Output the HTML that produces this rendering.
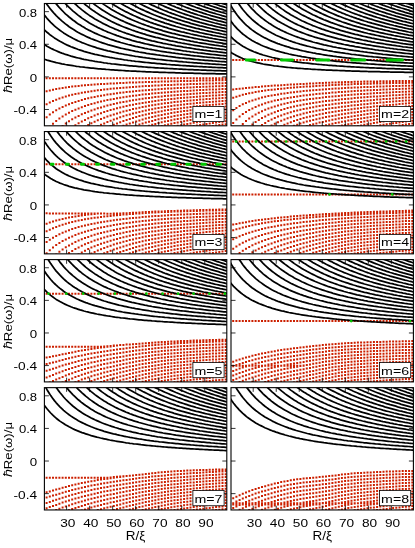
<!DOCTYPE html>
<html><head><meta charset="utf-8"><title>spectrum</title>
<style>html,body{margin:0;padding:0;background:#fff}svg{display:block}text{font-family:"Liberation Sans",sans-serif;fill:#000}</style>
</head><body>
<svg width="415" height="548" viewBox="0 0 415 548">
<rect width="415" height="548" fill="#fff"/>
<defs>
<clipPath id="c00"><rect x="44.40" y="3.50" width="182.40" height="122.30"/></clipPath>
<clipPath id="c01"><rect x="231.00" y="3.50" width="182.40" height="122.30"/></clipPath>
<clipPath id="c10"><rect x="44.40" y="131.55" width="182.40" height="122.30"/></clipPath>
<clipPath id="c11"><rect x="231.00" y="131.55" width="182.40" height="122.30"/></clipPath>
<clipPath id="c20"><rect x="44.40" y="259.60" width="182.40" height="122.30"/></clipPath>
<clipPath id="c21"><rect x="231.00" y="259.60" width="182.40" height="122.30"/></clipPath>
<clipPath id="c30"><rect x="44.40" y="387.65" width="182.40" height="122.30"/></clipPath>
<clipPath id="c31"><rect x="231.00" y="387.65" width="182.40" height="122.30"/></clipPath>
</defs>
<g clip-path="url(#c00)">
<path d="M45.6 77.3h2v2h-2zM48.8 77.3h2v2h-2zM52.0 77.3h2v2h-2zM55.2 77.3h2v2h-2zM58.4 77.3h2v2h-2zM61.6 77.3h2v2h-2zM64.8 77.3h2v2h-2zM68.0 77.3h2v2h-2zM71.2 77.3h2v2h-2zM74.4 77.3h2v2h-2zM77.6 77.3h2v2h-2zM80.8 77.3h2v2h-2zM84.0 77.3h2v2h-2zM87.2 77.3h2v2h-2zM90.4 77.3h2v2h-2zM93.6 77.3h2v2h-2zM96.8 77.3h2v2h-2zM100.0 77.3h2v2h-2zM103.2 77.3h2v2h-2zM106.4 77.3h2v2h-2zM109.6 77.3h2v2h-2zM112.8 77.3h2v2h-2zM116.0 77.3h2v2h-2zM119.2 77.3h2v2h-2zM122.4 77.3h2v2h-2zM125.6 77.3h2v2h-2zM128.8 77.3h2v2h-2zM132.0 77.3h2v2h-2zM135.2 77.3h2v2h-2zM138.4 77.3h2v2h-2zM141.6 77.3h2v2h-2zM144.8 77.3h2v2h-2zM148.0 77.3h2v2h-2zM151.2 77.3h2v2h-2zM154.3 77.3h2v2h-2zM157.5 77.3h2v2h-2zM160.7 77.3h2v2h-2zM163.9 77.3h2v2h-2zM167.1 77.3h2v2h-2zM170.3 77.3h2v2h-2zM173.5 77.3h2v2h-2zM176.7 77.3h2v2h-2zM179.9 77.3h2v2h-2zM183.1 77.3h2v2h-2zM186.3 77.3h2v2h-2zM189.5 77.3h2v2h-2zM192.7 77.3h2v2h-2zM195.9 77.3h2v2h-2zM199.1 77.3h2v2h-2zM202.3 77.3h2v2h-2zM205.5 77.3h2v2h-2zM208.7 77.3h2v2h-2zM211.9 77.3h2v2h-2zM215.1 77.3h2v2h-2zM218.3 77.3h2v2h-2zM221.5 77.3h2v2h-2zM224.7 77.3h2v2h-2zM45.6 90.2h2v2h-2zM48.8 89.4h2v2h-2zM52.0 88.7h2v2h-2zM55.2 88.0h2v2h-2zM58.4 87.5h2v2h-2zM61.6 86.9h2v2h-2zM64.8 86.5h2v2h-2zM68.0 86.0h2v2h-2zM71.2 85.6h2v2h-2zM74.4 85.3h2v2h-2zM77.6 84.9h2v2h-2zM80.8 84.6h2v2h-2zM84.0 84.3h2v2h-2zM87.2 84.0h2v2h-2zM90.4 83.8h2v2h-2zM93.6 83.5h2v2h-2zM96.8 83.3h2v2h-2zM100.0 83.1h2v2h-2zM103.2 82.9h2v2h-2zM106.4 82.7h2v2h-2zM109.6 82.5h2v2h-2zM112.8 82.4h2v2h-2zM116.0 82.2h2v2h-2zM119.2 82.1h2v2h-2zM122.4 81.9h2v2h-2zM125.6 81.8h2v2h-2zM128.8 81.6h2v2h-2zM132.0 81.5h2v2h-2zM135.2 81.4h2v2h-2zM138.4 81.3h2v2h-2zM141.6 81.2h2v2h-2zM144.8 81.1h2v2h-2zM148.0 81.0h2v2h-2zM151.2 80.9h2v2h-2zM154.3 80.8h2v2h-2zM157.5 80.7h2v2h-2zM160.7 80.6h2v2h-2zM163.9 80.5h2v2h-2zM167.1 80.4h2v2h-2zM170.3 80.3h2v2h-2zM173.5 80.2h2v2h-2zM176.7 80.2h2v2h-2zM179.9 80.1h2v2h-2zM183.1 80.0h2v2h-2zM186.3 79.9h2v2h-2zM189.5 79.9h2v2h-2zM192.7 79.8h2v2h-2zM195.9 79.7h2v2h-2zM199.1 79.6h2v2h-2zM202.3 79.6h2v2h-2zM205.5 79.5h2v2h-2zM208.7 79.4h2v2h-2zM211.9 79.4h2v2h-2zM215.1 79.3h2v2h-2zM218.3 79.3h2v2h-2zM221.5 79.2h2v2h-2zM224.7 79.1h2v2h-2zM45.6 103.2h2v2h-2zM48.8 101.5h2v2h-2zM52.0 100.0h2v2h-2zM55.2 98.7h2v2h-2zM58.4 97.5h2v2h-2zM61.6 96.4h2v2h-2zM64.8 95.5h2v2h-2zM68.0 94.6h2v2h-2zM71.2 93.8h2v2h-2zM74.4 93.1h2v2h-2zM77.6 92.4h2v2h-2zM80.8 91.8h2v2h-2zM84.0 91.2h2v2h-2zM87.2 90.7h2v2h-2zM90.4 90.2h2v2h-2zM93.6 89.7h2v2h-2zM96.8 89.3h2v2h-2zM100.0 88.9h2v2h-2zM103.2 88.5h2v2h-2zM106.4 88.2h2v2h-2zM109.6 87.8h2v2h-2zM112.8 87.5h2v2h-2zM116.0 87.2h2v2h-2zM119.2 86.9h2v2h-2zM122.4 86.7h2v2h-2zM125.6 86.4h2v2h-2zM128.8 86.2h2v2h-2zM132.0 86.0h2v2h-2zM135.2 85.7h2v2h-2zM138.4 85.5h2v2h-2zM141.6 85.3h2v2h-2zM144.8 85.1h2v2h-2zM148.0 85.0h2v2h-2zM151.2 84.8h2v2h-2zM154.3 84.6h2v2h-2zM157.5 84.4h2v2h-2zM160.7 84.3h2v2h-2zM163.9 84.1h2v2h-2zM167.1 84.0h2v2h-2zM170.3 83.9h2v2h-2zM173.5 83.7h2v2h-2zM176.7 83.6h2v2h-2zM179.9 83.5h2v2h-2zM183.1 83.4h2v2h-2zM186.3 83.2h2v2h-2zM189.5 83.1h2v2h-2zM192.7 83.0h2v2h-2zM195.9 82.9h2v2h-2zM199.1 82.8h2v2h-2zM202.3 82.7h2v2h-2zM205.5 82.6h2v2h-2zM208.7 82.5h2v2h-2zM211.9 82.4h2v2h-2zM215.1 82.3h2v2h-2zM218.3 82.2h2v2h-2zM221.5 82.2h2v2h-2zM224.7 82.1h2v2h-2zM45.6 116.2h2v2h-2zM48.8 113.6h2v2h-2zM52.0 111.3h2v2h-2zM55.2 109.3h2v2h-2zM58.4 107.5h2v2h-2zM61.6 105.9h2v2h-2zM64.8 104.5h2v2h-2zM68.0 103.2h2v2h-2zM71.2 102.0h2v2h-2zM74.4 100.9h2v2h-2zM77.6 99.9h2v2h-2zM80.8 99.0h2v2h-2zM84.0 98.1h2v2h-2zM87.2 97.3h2v2h-2zM90.4 96.6h2v2h-2zM93.6 95.9h2v2h-2zM96.8 95.3h2v2h-2zM100.0 94.7h2v2h-2zM103.2 94.2h2v2h-2zM106.4 93.6h2v2h-2zM109.6 93.2h2v2h-2zM112.8 92.7h2v2h-2zM116.0 92.3h2v2h-2zM119.2 91.8h2v2h-2zM122.4 91.4h2v2h-2zM125.6 91.1h2v2h-2zM128.8 90.7h2v2h-2zM132.0 90.4h2v2h-2zM135.2 90.1h2v2h-2zM138.4 89.8h2v2h-2zM141.6 89.5h2v2h-2zM144.8 89.2h2v2h-2zM148.0 88.9h2v2h-2zM151.2 88.7h2v2h-2zM154.3 88.4h2v2h-2zM157.5 88.2h2v2h-2zM160.7 88.0h2v2h-2zM163.9 87.8h2v2h-2zM167.1 87.6h2v2h-2zM170.3 87.4h2v2h-2zM173.5 87.2h2v2h-2zM176.7 87.0h2v2h-2zM179.9 86.9h2v2h-2zM183.1 86.7h2v2h-2zM186.3 86.5h2v2h-2zM189.5 86.4h2v2h-2zM192.7 86.2h2v2h-2zM195.9 86.1h2v2h-2zM199.1 86.0h2v2h-2zM202.3 85.8h2v2h-2zM205.5 85.7h2v2h-2zM208.7 85.6h2v2h-2zM211.9 85.5h2v2h-2zM215.1 85.3h2v2h-2zM218.3 85.2h2v2h-2zM221.5 85.1h2v2h-2zM224.7 85.0h2v2h-2zM48.8 125.7h2v2h-2zM52.0 122.7h2v2h-2zM55.2 119.9h2v2h-2zM58.4 117.5h2v2h-2zM61.6 115.4h2v2h-2zM64.8 113.5h2v2h-2zM68.0 111.7h2v2h-2zM71.2 110.1h2v2h-2zM74.4 108.7h2v2h-2zM77.6 107.4h2v2h-2zM80.8 106.2h2v2h-2zM84.0 105.0h2v2h-2zM87.2 104.0h2v2h-2zM90.4 103.0h2v2h-2zM93.6 102.2h2v2h-2zM96.8 101.3h2v2h-2zM100.0 100.5h2v2h-2zM103.2 99.8h2v2h-2zM106.4 99.1h2v2h-2zM109.6 98.5h2v2h-2zM112.8 97.9h2v2h-2zM116.0 97.3h2v2h-2zM119.2 96.7h2v2h-2zM122.4 96.2h2v2h-2zM125.6 95.7h2v2h-2zM128.8 95.3h2v2h-2zM132.0 94.8h2v2h-2zM135.2 94.4h2v2h-2zM138.4 94.0h2v2h-2zM141.6 93.6h2v2h-2zM144.8 93.2h2v2h-2zM148.0 92.9h2v2h-2zM151.2 92.6h2v2h-2zM154.3 92.3h2v2h-2zM157.5 92.0h2v2h-2zM160.7 91.7h2v2h-2zM163.9 91.4h2v2h-2zM167.1 91.2h2v2h-2zM170.3 90.9h2v2h-2zM173.5 90.7h2v2h-2zM176.7 90.5h2v2h-2zM179.9 90.3h2v2h-2zM183.1 90.1h2v2h-2zM186.3 89.9h2v2h-2zM189.5 89.7h2v2h-2zM192.7 89.5h2v2h-2zM195.9 89.3h2v2h-2zM199.1 89.1h2v2h-2zM202.3 89.0h2v2h-2zM205.5 88.8h2v2h-2zM208.7 88.6h2v2h-2zM211.9 88.5h2v2h-2zM215.1 88.4h2v2h-2zM218.3 88.2h2v2h-2zM221.5 88.1h2v2h-2zM224.7 88.0h2v2h-2zM61.6 124.9h2v2h-2zM64.8 122.5h2v2h-2zM68.0 120.3h2v2h-2zM71.2 118.3h2v2h-2zM74.4 116.5h2v2h-2zM77.6 114.9h2v2h-2zM80.8 113.3h2v2h-2zM84.0 112.0h2v2h-2zM87.2 110.7h2v2h-2zM90.4 109.5h2v2h-2zM93.6 108.4h2v2h-2zM96.8 107.3h2v2h-2zM100.0 106.4h2v2h-2zM103.2 105.4h2v2h-2zM106.4 104.6h2v2h-2zM109.6 103.8h2v2h-2zM112.8 103.0h2v2h-2zM116.0 102.3h2v2h-2zM119.2 101.6h2v2h-2zM122.4 101.0h2v2h-2zM125.6 100.4h2v2h-2zM128.8 99.8h2v2h-2zM132.0 99.2h2v2h-2zM135.2 98.7h2v2h-2zM138.4 98.2h2v2h-2zM141.6 97.8h2v2h-2zM144.8 97.3h2v2h-2zM148.0 96.9h2v2h-2zM151.2 96.5h2v2h-2zM154.3 96.1h2v2h-2zM157.5 95.7h2v2h-2zM160.7 95.4h2v2h-2zM163.9 95.1h2v2h-2zM167.1 94.8h2v2h-2zM170.3 94.5h2v2h-2zM173.5 94.2h2v2h-2zM176.7 93.9h2v2h-2zM179.9 93.7h2v2h-2zM183.1 93.4h2v2h-2zM186.3 93.2h2v2h-2zM189.5 92.9h2v2h-2zM192.7 92.7h2v2h-2zM195.9 92.5h2v2h-2zM199.1 92.3h2v2h-2zM202.3 92.1h2v2h-2zM205.5 91.9h2v2h-2zM208.7 91.7h2v2h-2zM211.9 91.5h2v2h-2zM215.1 91.4h2v2h-2zM218.3 91.2h2v2h-2zM221.5 91.0h2v2h-2zM224.7 90.9h2v2h-2zM74.4 124.3h2v2h-2zM77.6 122.3h2v2h-2zM80.8 120.5h2v2h-2zM84.0 118.9h2v2h-2zM87.2 117.3h2v2h-2zM90.4 115.9h2v2h-2zM93.6 114.6h2v2h-2zM96.8 113.3h2v2h-2zM100.0 112.2h2v2h-2zM103.2 111.1h2v2h-2zM106.4 110.1h2v2h-2zM109.6 109.1h2v2h-2zM112.8 108.2h2v2h-2zM116.0 107.3h2v2h-2zM119.2 106.5h2v2h-2zM122.4 105.8h2v2h-2zM125.6 105.0h2v2h-2zM128.8 104.3h2v2h-2zM132.0 103.7h2v2h-2zM135.2 103.0h2v2h-2zM138.4 102.5h2v2h-2zM141.6 101.9h2v2h-2zM144.8 101.4h2v2h-2zM148.0 100.9h2v2h-2zM151.2 100.4h2v2h-2zM154.3 99.9h2v2h-2zM157.5 99.5h2v2h-2zM160.7 99.1h2v2h-2zM163.9 98.7h2v2h-2zM167.1 98.3h2v2h-2zM170.3 98.0h2v2h-2zM173.5 97.7h2v2h-2zM176.7 97.3h2v2h-2zM179.9 97.0h2v2h-2zM183.1 96.8h2v2h-2zM186.3 96.5h2v2h-2zM189.5 96.2h2v2h-2zM192.7 95.9h2v2h-2zM195.9 95.7h2v2h-2zM199.1 95.5h2v2h-2zM202.3 95.2h2v2h-2zM205.5 95.0h2v2h-2zM208.7 94.8h2v2h-2zM211.9 94.6h2v2h-2zM215.1 94.4h2v2h-2zM218.3 94.2h2v2h-2zM221.5 94.0h2v2h-2zM224.7 93.8h2v2h-2zM84.0 125.8h2v2h-2zM87.2 124.0h2v2h-2zM90.4 122.3h2v2h-2zM93.6 120.8h2v2h-2zM96.8 119.3h2v2h-2zM100.0 118.0h2v2h-2zM103.2 116.7h2v2h-2zM106.4 115.5h2v2h-2zM109.6 114.4h2v2h-2zM112.8 113.4h2v2h-2zM116.0 112.4h2v2h-2zM119.2 111.4h2v2h-2zM122.4 110.5h2v2h-2zM125.6 109.7h2v2h-2zM128.8 108.9h2v2h-2zM132.0 108.1h2v2h-2zM135.2 107.4h2v2h-2zM138.4 106.7h2v2h-2zM141.6 106.0h2v2h-2zM144.8 105.4h2v2h-2zM148.0 104.8h2v2h-2zM151.2 104.3h2v2h-2zM154.3 103.8h2v2h-2zM157.5 103.3h2v2h-2zM160.7 102.8h2v2h-2zM163.9 102.3h2v2h-2zM167.1 101.9h2v2h-2zM170.3 101.5h2v2h-2zM173.5 101.1h2v2h-2zM176.7 100.8h2v2h-2zM179.9 100.4h2v2h-2zM183.1 100.1h2v2h-2zM186.3 99.8h2v2h-2zM189.5 99.5h2v2h-2zM192.7 99.2h2v2h-2zM195.9 98.9h2v2h-2zM199.1 98.6h2v2h-2zM202.3 98.4h2v2h-2zM205.5 98.1h2v2h-2zM208.7 97.9h2v2h-2zM211.9 97.6h2v2h-2zM215.1 97.4h2v2h-2zM218.3 97.2h2v2h-2zM221.5 97.0h2v2h-2zM224.7 96.8h2v2h-2zM96.8 125.3h2v2h-2zM100.0 123.8h2v2h-2zM103.2 122.4h2v2h-2zM106.4 121.0h2v2h-2zM109.6 119.7h2v2h-2zM112.8 118.5h2v2h-2zM116.0 117.4h2v2h-2zM119.2 116.3h2v2h-2zM122.4 115.3h2v2h-2zM125.6 114.3h2v2h-2zM128.8 113.4h2v2h-2zM132.0 112.5h2v2h-2zM135.2 111.7h2v2h-2zM138.4 110.9h2v2h-2zM141.6 110.2h2v2h-2zM144.8 109.5h2v2h-2zM148.0 108.8h2v2h-2zM151.2 108.2h2v2h-2zM154.3 107.6h2v2h-2zM157.5 107.0h2v2h-2zM160.7 106.5h2v2h-2zM163.9 106.0h2v2h-2zM167.1 105.5h2v2h-2zM170.3 105.1h2v2h-2zM173.5 104.6h2v2h-2zM176.7 104.2h2v2h-2zM179.9 103.8h2v2h-2zM183.1 103.4h2v2h-2zM186.3 103.1h2v2h-2zM189.5 102.7h2v2h-2zM192.7 102.4h2v2h-2zM195.9 102.1h2v2h-2zM199.1 101.8h2v2h-2zM202.3 101.5h2v2h-2zM205.5 101.2h2v2h-2zM208.7 100.9h2v2h-2zM211.9 100.7h2v2h-2zM215.1 100.4h2v2h-2zM218.3 100.2h2v2h-2zM221.5 99.9h2v2h-2zM224.7 99.7h2v2h-2zM109.6 125.1h2v2h-2zM112.8 123.7h2v2h-2zM116.0 122.4h2v2h-2zM119.2 121.2h2v2h-2zM122.4 120.1h2v2h-2zM125.6 119.0h2v2h-2zM128.8 117.9h2v2h-2zM132.0 117.0h2v2h-2zM135.2 116.0h2v2h-2zM138.4 115.1h2v2h-2zM141.6 114.3h2v2h-2zM144.8 113.5h2v2h-2zM148.0 112.8h2v2h-2zM151.2 112.1h2v2h-2zM154.3 111.4h2v2h-2zM157.5 110.8h2v2h-2zM160.7 110.2h2v2h-2zM163.9 109.6h2v2h-2zM167.1 109.1h2v2h-2zM170.3 108.6h2v2h-2zM173.5 108.1h2v2h-2zM176.7 107.7h2v2h-2zM179.9 107.2h2v2h-2zM183.1 106.8h2v2h-2zM186.3 106.4h2v2h-2zM189.5 106.0h2v2h-2zM192.7 105.6h2v2h-2zM195.9 105.3h2v2h-2zM199.1 104.9h2v2h-2zM202.3 104.6h2v2h-2zM205.5 104.3h2v2h-2zM208.7 104.0h2v2h-2zM211.9 103.7h2v2h-2zM215.1 103.4h2v2h-2zM218.3 103.2h2v2h-2zM221.5 102.9h2v2h-2zM224.7 102.6h2v2h-2zM122.4 124.8h2v2h-2zM125.6 123.6h2v2h-2zM128.8 122.5h2v2h-2zM132.0 121.4h2v2h-2zM135.2 120.4h2v2h-2zM138.4 119.4h2v2h-2zM141.6 118.5h2v2h-2zM144.8 117.6h2v2h-2zM148.0 116.8h2v2h-2zM151.2 116.0h2v2h-2zM154.3 115.2h2v2h-2zM157.5 114.6h2v2h-2zM160.7 113.9h2v2h-2zM163.9 113.3h2v2h-2zM167.1 112.7h2v2h-2zM170.3 112.1h2v2h-2zM173.5 111.6h2v2h-2zM176.7 111.1h2v2h-2zM179.9 110.6h2v2h-2zM183.1 110.1h2v2h-2zM186.3 109.7h2v2h-2zM189.5 109.3h2v2h-2zM192.7 108.9h2v2h-2zM211.9 106.7h2v2h-2zM215.1 106.4h2v2h-2zM218.3 106.1h2v2h-2zM221.5 105.9h2v2h-2zM224.7 105.6h2v2h-2zM135.2 124.7h2v2h-2zM138.4 123.6h2v2h-2zM141.6 122.6h2v2h-2zM144.8 121.6h2v2h-2zM148.0 120.7h2v2h-2zM151.2 119.9h2v2h-2zM154.3 119.1h2v2h-2zM157.5 118.3h2v2h-2zM160.7 117.6h2v2h-2zM163.9 116.9h2v2h-2zM167.1 116.3h2v2h-2zM170.3 115.7h2v2h-2zM173.5 115.1h2v2h-2zM176.7 114.5h2v2h-2zM179.9 114.0h2v2h-2zM183.1 113.5h2v2h-2zM186.3 113.0h2v2h-2zM189.5 112.5h2v2h-2zM192.7 112.1h2v2h-2zM224.7 108.5h2v2h-2zM144.8 125.7h2v2h-2zM148.0 124.7h2v2h-2zM151.2 123.8h2v2h-2zM154.3 122.9h2v2h-2zM157.5 122.1h2v2h-2zM160.7 121.3h2v2h-2zM163.9 120.6h2v2h-2zM167.1 119.9h2v2h-2zM170.3 119.2h2v2h-2zM173.5 118.6h2v2h-2zM176.7 118.0h2v2h-2zM179.9 117.4h2v2h-2zM183.1 116.8h2v2h-2zM186.3 116.3h2v2h-2zM189.5 115.8h2v2h-2zM192.7 115.3h2v2h-2zM224.7 111.5h2v2h-2zM160.7 125.0h2v2h-2zM163.9 124.2h2v2h-2zM167.1 123.4h2v2h-2zM170.3 122.7h2v2h-2zM173.5 122.1h2v2h-2zM176.7 121.4h2v2h-2zM179.9 120.8h2v2h-2zM183.1 120.2h2v2h-2zM186.3 119.6h2v2h-2zM189.5 119.1h2v2h-2zM192.7 118.6h2v2h-2zM224.7 114.4h2v2h-2zM173.5 125.5h2v2h-2zM176.7 124.8h2v2h-2zM179.9 124.2h2v2h-2zM183.1 123.5h2v2h-2zM186.3 122.9h2v2h-2zM189.5 122.4h2v2h-2zM192.7 121.8h2v2h-2zM195.9 121.3h2v2h-2zM199.1 120.8h2v2h-2zM202.3 120.3h2v2h-2zM205.5 119.8h2v2h-2zM224.7 117.3h2v2h-2zM189.5 125.6h2v2h-2zM192.7 125.0h2v2h-2zM195.9 124.5h2v2h-2zM199.1 123.9h2v2h-2zM202.3 123.4h2v2h-2zM205.5 122.9h2v2h-2zM208.7 122.4h2v2h-2zM211.9 121.9h2v2h-2zM215.1 121.5h2v2h-2zM218.3 121.1h2v2h-2zM221.5 120.7h2v2h-2zM224.7 120.3h2v2h-2zM208.7 125.5h2v2h-2zM211.9 125.0h2v2h-2zM215.1 124.5h2v2h-2zM218.3 124.1h2v2h-2zM221.5 123.6h2v2h-2zM224.7 123.2h2v2h-2z" fill="#cc2000"/>
<path d="M43.3 58.9L45.2 59.5L47.0 60.1L48.9 60.6L50.7 61.2L52.6 61.7L54.4 62.1L56.2 62.6L58.1 63.0L59.9 63.4L61.8 63.8L63.6 64.1L65.4 64.5L67.3 64.8L69.1 65.1L71.0 65.4L72.8 65.7L74.7 66.0L76.5 66.3L78.3 66.5L80.2 66.8L82.0 67.0L83.9 67.2L85.7 67.5L87.6 67.7L89.4 67.9L91.2 68.1L93.1 68.2L94.9 68.4L96.8 68.6L98.6 68.8L100.5 68.9L102.3 69.1L104.1 69.2L106.0 69.4L107.8 69.5L109.7 69.7L111.5 69.8L113.4 69.9L115.2 70.1L117.0 70.2L118.9 70.3L120.7 70.4L122.6 70.5L124.4 70.6L126.2 70.8L128.1 70.9L129.9 71.0L131.8 71.1L133.6 71.2L135.5 71.2L137.3 71.3L139.1 71.4L141.0 71.5L142.8 71.6L144.7 71.7L146.5 71.8L148.4 71.8L150.2 71.9L152.0 72.0L153.9 72.1L155.7 72.1L157.6 72.2L159.4 72.3L161.3 72.3L163.1 72.4L164.9 72.4L166.8 72.5L168.6 72.6L170.5 72.6L172.3 72.7L174.2 72.7L176.0 72.8L177.8 72.9L179.7 72.9L181.5 73.0L183.4 73.0L185.2 73.1L187.0 73.1L188.9 73.2L190.7 73.2L192.6 73.2L194.4 73.3L196.3 73.3L198.1 73.4L199.9 73.4L201.8 73.5L203.6 73.5L205.5 73.5L207.3 73.6L209.2 73.6L211.0 73.7L212.8 73.7L214.7 73.7L216.5 73.8L218.4 73.8L220.2 73.8L222.1 73.9L223.9 73.9L225.7 73.9L227.6 74.0L229.4 74.0L231.3 74.0M43.3 43.8L45.2 45.0L47.0 46.2L48.9 47.2L50.7 48.2L52.6 49.1L54.4 50.0L56.2 50.8L58.1 51.6L59.9 52.4L61.8 53.1L63.6 53.7L65.4 54.4L67.3 54.9L69.1 55.5L71.0 56.1L72.8 56.6L74.7 57.1L76.5 57.6L78.3 58.0L80.2 58.4L82.0 58.9L83.9 59.3L85.7 59.6L87.6 60.0L89.4 60.4L91.2 60.7L93.1 61.0L94.9 61.4L96.8 61.7L98.6 62.0L100.5 62.2L102.3 62.5L104.1 62.8L106.0 63.0L107.8 63.3L109.7 63.5L111.5 63.8L113.4 64.0L115.2 64.2L117.0 64.4L118.9 64.6L120.7 64.8L122.6 65.0L124.4 65.2L126.2 65.4L128.1 65.6L129.9 65.8L131.8 65.9L133.6 66.1L135.5 66.2L137.3 66.4L139.1 66.6L141.0 66.7L142.8 66.8L144.7 67.0L146.5 67.1L148.4 67.3L150.2 67.4L152.0 67.5L153.9 67.6L155.7 67.8L157.6 67.9L159.4 68.0L161.3 68.1L163.1 68.2L164.9 68.3L166.8 68.4L168.6 68.5L170.5 68.6L172.3 68.7L174.2 68.8L176.0 68.9L177.8 69.0L179.7 69.1L181.5 69.2L183.4 69.3L185.2 69.4L187.0 69.5L188.9 69.6L190.7 69.6L192.6 69.7L194.4 69.8L196.3 69.9L198.1 69.9L199.9 70.0L201.8 70.1L203.6 70.2L205.5 70.2L207.3 70.3L209.2 70.4L211.0 70.4L212.8 70.5L214.7 70.6L216.5 70.6L218.4 70.7L220.2 70.7L222.1 70.8L223.9 70.9L225.7 70.9L227.6 71.0L229.4 71.0L231.3 71.1M43.3 28.8L45.2 30.6L47.0 32.3L48.9 33.8L50.7 35.3L52.6 36.6L54.4 37.9L56.2 39.1L58.1 40.2L59.9 41.3L61.8 42.3L63.6 43.3L65.4 44.2L67.3 45.1L69.1 45.9L71.0 46.7L72.8 47.4L74.7 48.1L76.5 48.8L78.3 49.5L80.2 50.1L82.0 50.7L83.9 51.3L85.7 51.8L87.6 52.4L89.4 52.9L91.2 53.4L93.1 53.8L94.9 54.3L96.8 54.7L98.6 55.1L100.5 55.5L102.3 55.9L104.1 56.3L106.0 56.7L107.8 57.0L109.7 57.4L111.5 57.7L113.4 58.0L115.2 58.4L117.0 58.7L118.9 59.0L120.7 59.2L122.6 59.5L124.4 59.8L126.2 60.0L128.1 60.3L129.9 60.5L131.8 60.8L133.6 61.0L135.5 61.3L137.3 61.5L139.1 61.7L141.0 61.9L142.8 62.1L144.7 62.3L146.5 62.5L148.4 62.7L150.2 62.9L152.0 63.1L153.9 63.2L155.7 63.4L157.6 63.6L159.4 63.7L161.3 63.9L163.1 64.1L164.9 64.2L166.8 64.4L168.6 64.5L170.5 64.7L172.3 64.8L174.2 64.9L176.0 65.1L177.8 65.2L179.7 65.3L181.5 65.5L183.4 65.6L185.2 65.7L187.0 65.8L188.9 65.9L190.7 66.1L192.6 66.2L194.4 66.3L196.3 66.4L198.1 66.5L199.9 66.6L201.8 66.7L203.6 66.8L205.5 66.9L207.3 67.0L209.2 67.1L211.0 67.2L212.8 67.3L214.7 67.4L216.5 67.5L218.4 67.6L220.2 67.6L222.1 67.7L223.9 67.8L225.7 67.9L227.6 68.0L229.4 68.1L231.3 68.1M43.3 13.8L45.2 16.1L47.0 18.3L48.9 20.4L50.7 22.3L52.6 24.1L54.4 25.8L56.2 27.4L58.1 28.9L59.9 30.3L61.8 31.6L63.6 32.9L65.4 34.1L67.3 35.2L69.1 36.3L71.0 37.3L72.8 38.3L74.7 39.2L76.5 40.1L78.3 41.0L80.2 41.8L82.0 42.6L83.9 43.3L85.7 44.0L87.6 44.7L89.4 45.4L91.2 46.0L93.1 46.6L94.9 47.2L96.8 47.8L98.6 48.3L100.5 48.9L102.3 49.4L104.1 49.9L106.0 50.3L107.8 50.8L109.7 51.2L111.5 51.7L113.4 52.1L115.2 52.5L117.0 52.9L118.9 53.3L120.7 53.6L122.6 54.0L124.4 54.4L126.2 54.7L128.1 55.0L129.9 55.3L131.8 55.7L133.6 56.0L135.5 56.3L137.3 56.5L139.1 56.8L141.0 57.1L142.8 57.4L144.7 57.6L146.5 57.9L148.4 58.1L150.2 58.4L152.0 58.6L153.9 58.8L155.7 59.1L157.6 59.3L159.4 59.5L161.3 59.7L163.1 59.9L164.9 60.1L166.8 60.3L168.6 60.5L170.5 60.7L172.3 60.9L174.2 61.0L176.0 61.2L177.8 61.4L179.7 61.6L181.5 61.7L183.4 61.9L185.2 62.0L187.0 62.2L188.9 62.3L190.7 62.5L192.6 62.6L194.4 62.8L196.3 62.9L198.1 63.1L199.9 63.2L201.8 63.3L203.6 63.5L205.5 63.6L207.3 63.7L209.2 63.8L211.0 64.0L212.8 64.1L214.7 64.2L216.5 64.3L218.4 64.4L220.2 64.5L222.1 64.7L223.9 64.8L225.7 64.9L227.6 65.0L229.4 65.1L231.3 65.2M43.3 -1.3L45.2 1.7L47.0 4.4L48.9 7.0L50.7 9.4L52.6 11.6L54.4 13.7L56.2 15.6L58.1 17.5L59.9 19.2L61.8 20.9L63.6 22.4L65.4 23.9L67.3 25.3L69.1 26.7L71.0 27.9L72.8 29.1L74.7 30.3L76.5 31.4L78.3 32.4L80.2 33.4L82.0 34.4L83.9 35.3L85.7 36.2L87.6 37.1L89.4 37.9L91.2 38.7L93.1 39.4L94.9 40.1L96.8 40.8L98.6 41.5L100.5 42.2L102.3 42.8L104.1 43.4L106.0 44.0L107.8 44.6L109.7 45.1L111.5 45.6L113.4 46.1L115.2 46.6L117.0 47.1L118.9 47.6L120.7 48.1L122.6 48.5L124.4 48.9L126.2 49.3L128.1 49.7L129.9 50.1L131.8 50.5L133.6 50.9L135.5 51.3L137.3 51.6L139.1 52.0L141.0 52.3L142.8 52.6L144.7 52.9L146.5 53.3L148.4 53.6L150.2 53.9L152.0 54.1L153.9 54.4L155.7 54.7L157.6 55.0L159.4 55.2L161.3 55.5L163.1 55.7L164.9 56.0L166.8 56.2L168.6 56.5L170.5 56.7L172.3 56.9L174.2 57.1L176.0 57.4L177.8 57.6L179.7 57.8L181.5 58.0L183.4 58.2L185.2 58.4L187.0 58.6L188.9 58.7L190.7 58.9L192.6 59.1L194.4 59.3L196.3 59.5L198.1 59.6L199.9 59.8L201.8 60.0L203.6 60.1L205.5 60.3L207.3 60.4L209.2 60.6L211.0 60.7L212.8 60.9L214.7 61.0L216.5 61.2L218.4 61.3L220.2 61.5L222.1 61.6L223.9 61.7L225.7 61.9L227.6 62.0L229.4 62.1L231.3 62.2M50.7 -3.6L52.6 -0.9L54.4 1.6L56.2 3.9L58.1 6.1L59.9 8.2L61.8 10.2L63.6 12.0L65.4 13.8L67.3 15.4L69.1 17.0L71.0 18.5L72.8 20.0L74.7 21.3L76.5 22.7L78.3 23.9L80.2 25.1L82.0 26.2L83.9 27.3L85.7 28.4L87.6 29.4L89.4 30.4L91.2 31.3L93.1 32.2L94.9 33.1L96.8 33.9L98.6 34.7L100.5 35.5L102.3 36.2L104.1 36.9L106.0 37.6L107.8 38.3L109.7 39.0L111.5 39.6L113.4 40.2L115.2 40.8L117.0 41.4L118.9 41.9L120.7 42.5L122.6 43.0L124.4 43.5L126.2 44.0L128.1 44.5L129.9 44.9L131.8 45.4L133.6 45.8L135.5 46.3L137.3 46.7L139.1 47.1L141.0 47.5L142.8 47.9L144.7 48.3L146.5 48.6L148.4 49.0L150.2 49.3L152.0 49.7L153.9 50.0L155.7 50.3L157.6 50.7L159.4 51.0L161.3 51.3L163.1 51.6L164.9 51.9L166.8 52.2L168.6 52.4L170.5 52.7L172.3 53.0L174.2 53.2L176.0 53.5L177.8 53.7L179.7 54.0L181.5 54.2L183.4 54.5L185.2 54.7L187.0 54.9L188.9 55.1L190.7 55.4L192.6 55.6L194.4 55.8L196.3 56.0L198.1 56.2L199.9 56.4L201.8 56.6L203.6 56.8L205.5 57.0L207.3 57.2L209.2 57.3L211.0 57.5L212.8 57.7L214.7 57.9L216.5 58.0L218.4 58.2L220.2 58.4L222.1 58.5L223.9 58.7L225.7 58.8L227.6 59.0L229.4 59.1L231.3 59.3M59.9 -2.8L61.8 -0.6L63.6 1.6L65.4 3.6L67.3 5.6L69.1 7.4L71.0 9.2L72.8 10.8L74.7 12.4L76.5 13.9L78.3 15.4L80.2 16.8L82.0 18.1L83.9 19.4L85.7 20.6L87.6 21.7L89.4 22.9L91.2 23.9L93.1 25.0L94.9 26.0L96.8 26.9L98.6 27.9L100.5 28.8L102.3 29.6L104.1 30.5L106.0 31.3L107.8 32.1L109.7 32.8L111.5 33.5L113.4 34.2L115.2 34.9L117.0 35.6L118.9 36.2L120.7 36.9L122.6 37.5L124.4 38.1L126.2 38.6L128.1 39.2L129.9 39.7L131.8 40.3L133.6 40.8L135.5 41.3L137.3 41.8L139.1 42.2L141.0 42.7L142.8 43.1L144.7 43.6L146.5 44.0L148.4 44.4L150.2 44.8L152.0 45.2L153.9 45.6L155.7 46.0L157.6 46.4L159.4 46.7L161.3 47.1L163.1 47.4L164.9 47.8L166.8 48.1L168.6 48.4L170.5 48.7L172.3 49.0L174.2 49.3L176.0 49.6L177.8 49.9L179.7 50.2L181.5 50.5L183.4 50.8L185.2 51.0L187.0 51.3L188.9 51.5L190.7 51.8L192.6 52.0L194.4 52.3L196.3 52.5L198.1 52.8L199.9 53.0L201.8 53.2L203.6 53.4L205.5 53.7L207.3 53.9L209.2 54.1L211.0 54.3L212.8 54.5L214.7 54.7L216.5 54.9L218.4 55.1L220.2 55.3L222.1 55.5L223.9 55.6L225.7 55.8L227.6 56.0L229.4 56.2L231.3 56.3M67.3 -4.3L69.1 -2.2L71.0 -0.2L72.8 1.7L74.7 3.5L76.5 5.2L78.3 6.9L80.2 8.4L82.0 9.9L83.9 11.4L85.7 12.8L87.6 14.1L89.4 15.4L91.2 16.6L93.1 17.8L94.9 18.9L96.8 20.0L98.6 21.1L100.5 22.1L102.3 23.1L104.1 24.0L106.0 24.9L107.8 25.8L109.7 26.7L111.5 27.5L113.4 28.3L115.2 29.1L117.0 29.8L118.9 30.6L120.7 31.3L122.6 32.0L124.4 32.6L126.2 33.3L128.1 33.9L129.9 34.5L131.8 35.1L133.6 35.7L135.5 36.3L137.3 36.8L139.1 37.4L141.0 37.9L142.8 38.4L144.7 38.9L146.5 39.4L148.4 39.9L150.2 40.3L152.0 40.8L153.9 41.2L155.7 41.6L157.6 42.1L159.4 42.5L161.3 42.9L163.1 43.3L164.9 43.6L166.8 44.0L168.6 44.4L170.5 44.7L172.3 45.1L174.2 45.4L176.0 45.8L177.8 46.1L179.7 46.4L181.5 46.7L183.4 47.1L185.2 47.4L187.0 47.7L188.9 47.9L190.7 48.2L192.6 48.5L194.4 48.8L196.3 49.1L198.1 49.3L199.9 49.6L201.8 49.8L203.6 50.1L205.5 50.3L207.3 50.6L209.2 50.8L211.0 51.1L212.8 51.3L214.7 51.5L216.5 51.7L218.4 52.0L220.2 52.2L222.1 52.4L223.9 52.6L225.7 52.8L227.6 53.0L229.4 53.2L231.3 53.4M76.5 -3.5L78.3 -1.7L80.2 0.1L82.0 1.8L83.9 3.4L85.7 5.0L87.6 6.4L89.4 7.9L91.2 9.2L93.1 10.6L94.9 11.8L96.8 13.1L98.6 14.2L100.5 15.4L102.3 16.5L104.1 17.5L106.0 18.6L107.8 19.6L109.7 20.5L111.5 21.5L113.4 22.4L115.2 23.2L117.0 24.1L118.9 24.9L120.7 25.7L122.6 26.5L124.4 27.2L126.2 27.9L128.1 28.6L129.9 29.3L131.8 30.0L133.6 30.6L135.5 31.3L137.3 31.9L139.1 32.5L141.0 33.1L142.8 33.7L144.7 34.2L146.5 34.8L148.4 35.3L150.2 35.8L152.0 36.3L153.9 36.8L155.7 37.3L157.6 37.7L159.4 38.2L161.3 38.7L163.1 39.1L164.9 39.5L166.8 39.9L168.6 40.4L170.5 40.8L172.3 41.1L174.2 41.5L176.0 41.9L177.8 42.3L179.7 42.6L181.5 43.0L183.4 43.3L185.2 43.7L187.0 44.0L188.9 44.3L190.7 44.7L192.6 45.0L194.4 45.3L196.3 45.6L198.1 45.9L199.9 46.2L201.8 46.5L203.6 46.8L205.5 47.0L207.3 47.3L209.2 47.6L211.0 47.8L212.8 48.1L214.7 48.3L216.5 48.6L218.4 48.8L220.2 49.1L222.1 49.3L223.9 49.5L225.7 49.8L227.6 50.0L229.4 50.2L231.3 50.4M85.7 -2.9L87.6 -1.2L89.4 0.4L91.2 1.9L93.1 3.4L94.9 4.8L96.8 6.1L98.6 7.4L100.5 8.7L102.3 9.9L104.1 11.1L106.0 12.2L107.8 13.3L109.7 14.4L111.5 15.4L113.4 16.4L115.2 17.4L117.0 18.3L118.9 19.2L120.7 20.1L122.6 20.9L124.4 21.8L126.2 22.6L128.1 23.4L129.9 24.1L131.8 24.9L133.6 25.6L135.5 26.3L137.3 27.0L139.1 27.6L141.0 28.3L142.8 28.9L144.7 29.5L146.5 30.1L148.4 30.7L150.2 31.3L152.0 31.8L153.9 32.4L155.7 32.9L157.6 33.4L159.4 33.9L161.3 34.4L163.1 34.9L164.9 35.4L166.8 35.9L168.6 36.3L170.5 36.8L172.3 37.2L174.2 37.6L176.0 38.0L177.8 38.5L179.7 38.9L181.5 39.2L183.4 39.6L185.2 40.0L187.0 40.4L188.9 40.7L190.7 41.1L192.6 41.4L194.4 41.8L196.3 42.1L198.1 42.5L199.9 42.8L201.8 43.1L203.6 43.4L205.5 43.7L207.3 44.0L209.2 44.3L211.0 44.6L212.8 44.9L214.7 45.2L216.5 45.4L218.4 45.7L220.2 46.0L222.1 46.2L223.9 46.5L225.7 46.8L227.6 47.0L229.4 47.3L231.3 47.5M93.1 -3.9L94.9 -2.3L96.8 -0.8L98.6 0.6L100.5 2.0L102.3 3.3L104.1 4.6L106.0 5.9L107.8 7.1L109.7 8.2L111.5 9.4L113.4 10.5L115.2 11.5L117.0 12.5L118.9 13.5L120.7 14.5L122.6 15.4L124.4 16.3L126.2 17.2L128.1 18.1L129.9 18.9L131.8 19.7L133.6 20.5L135.5 21.3L137.3 22.0L139.1 22.8L141.0 23.5L142.8 24.2L144.7 24.8L146.5 25.5L148.4 26.1L150.2 26.8L152.0 27.4L153.9 28.0L155.7 28.6L157.6 29.1L159.4 29.7L161.3 30.2L163.1 30.8L164.9 31.3L166.8 31.8L168.6 32.3L170.5 32.8L172.3 33.3L174.2 33.7L176.0 34.2L177.8 34.6L179.7 35.1L181.5 35.5L183.4 35.9L185.2 36.3L187.0 36.7L188.9 37.1L190.7 37.5L192.6 37.9L194.4 38.3L196.3 38.7L198.1 39.0L199.9 39.4L201.8 39.7L203.6 40.1L205.5 40.4L207.3 40.7L209.2 41.1L211.0 41.4L212.8 41.7L214.7 42.0L216.5 42.3L218.4 42.6L220.2 42.9L222.1 43.2L223.9 43.5L225.7 43.7L227.6 44.0L229.4 44.3L231.3 44.5M102.3 -3.2L104.1 -1.8L106.0 -0.5L107.8 0.8L109.7 2.1L111.5 3.3L113.4 4.5L115.2 5.7L117.0 6.8L118.9 7.9L120.7 8.9L122.6 9.9L124.4 10.9L126.2 11.9L128.1 12.8L129.9 13.7L131.8 14.6L133.6 15.5L135.5 16.3L137.3 17.1L139.1 17.9L141.0 18.7L142.8 19.4L144.7 20.2L146.5 20.9L148.4 21.6L150.2 22.3L152.0 22.9L153.9 23.6L155.7 24.2L157.6 24.8L159.4 25.4L161.3 26.0L163.1 26.6L164.9 27.2L166.8 27.7L168.6 28.3L170.5 28.8L172.3 29.3L174.2 29.8L176.0 30.3L177.8 30.8L179.7 31.3L181.5 31.8L183.4 32.2L185.2 32.7L187.0 33.1L188.9 33.5L190.7 34.0L192.6 34.4L194.4 34.8L196.3 35.2L198.1 35.6L199.9 36.0L201.8 36.4L203.6 36.7L205.5 37.1L207.3 37.4L209.2 37.8L211.0 38.1L212.8 38.5L214.7 38.8L216.5 39.2L218.4 39.5L220.2 39.8L222.1 40.1L223.9 40.4L225.7 40.7L227.6 41.0L229.4 41.3L231.3 41.6M111.5 -2.7L113.4 -1.4L115.2 -0.2L117.0 1.0L118.9 2.2L120.7 3.3L122.6 4.4L124.4 5.5L126.2 6.5L128.1 7.5L129.9 8.5L131.8 9.5L133.6 10.4L135.5 11.3L137.3 12.2L139.1 13.0L141.0 13.9L142.8 14.7L144.7 15.5L146.5 16.3L148.4 17.0L150.2 17.7L152.0 18.5L153.9 19.2L155.7 19.9L157.6 20.5L159.4 21.2L161.3 21.8L163.1 22.4L164.9 23.1L166.8 23.7L168.6 24.2L170.5 24.8L172.3 25.4L174.2 25.9L176.0 26.5L177.8 27.0L179.7 27.5L181.5 28.0L183.4 28.5L185.2 29.0L187.0 29.5L188.9 29.9L190.7 30.4L192.6 30.8L194.4 31.3L196.3 31.7L198.1 32.1L199.9 32.6L201.8 33.0L203.6 33.4L205.5 33.8L207.3 34.2L209.2 34.5L211.0 34.9L212.8 35.3L214.7 35.6L216.5 36.0L218.4 36.4L220.2 36.7L222.1 37.0L223.9 37.4L225.7 37.7L227.6 38.0L229.4 38.3L231.3 38.7M118.9 -3.5L120.7 -2.3L122.6 -1.1L124.4 0.0L126.2 1.2L128.1 2.3L129.9 3.3L131.8 4.3L133.6 5.3L135.5 6.3L137.3 7.2L139.1 8.2L141.0 9.1L142.8 9.9L144.7 10.8L146.5 11.6L148.4 12.4L150.2 13.2L152.0 14.0L153.9 14.8L155.7 15.5L157.6 16.2L159.4 16.9L161.3 17.6L163.1 18.3L164.9 18.9L166.8 19.6L168.6 20.2L170.5 20.8L172.3 21.4L174.2 22.0L176.0 22.6L177.8 23.2L179.7 23.7L181.5 24.3L183.4 24.8L185.2 25.3L187.0 25.8L188.9 26.3L190.7 26.8L192.6 27.3L194.4 27.8L196.3 28.3L198.1 28.7L199.9 29.2L201.8 29.6L203.6 30.0L205.5 30.5L207.3 30.9L209.2 31.3L211.0 31.7L212.8 32.1L214.7 32.5L216.5 32.9L218.4 33.2L220.2 33.6L222.1 34.0L223.9 34.3L225.7 34.7L227.6 35.0L229.4 35.4L231.3 35.7M128.1 -3.0L129.9 -1.9L131.8 -0.8L133.6 0.3L135.5 1.3L137.3 2.3L139.1 3.3L141.0 4.3L142.8 5.2L144.7 6.1L146.5 7.0L148.4 7.9L150.2 8.7L152.0 9.5L153.9 10.4L155.7 11.1L157.6 11.9L159.4 12.7L161.3 13.4L163.1 14.1L164.9 14.8L166.8 15.5L168.6 16.2L170.5 16.8L172.3 17.5L174.2 18.1L176.0 18.7L177.8 19.3L179.7 19.9L181.5 20.5L183.4 21.1L185.2 21.7L187.0 22.2L188.9 22.7L190.7 23.3L192.6 23.8L194.4 24.3L196.3 24.8L198.1 25.3L199.9 25.8L201.8 26.2L203.6 26.7L205.5 27.1L207.3 27.6L209.2 28.0L211.0 28.5L212.8 28.9L214.7 29.3L216.5 29.7L218.4 30.1L220.2 30.5L222.1 30.9L223.9 31.3L225.7 31.7L227.6 32.0L229.4 32.4L231.3 32.8M137.3 -2.6L139.1 -1.6L141.0 -0.5L142.8 0.5L144.7 1.4L146.5 2.4L148.4 3.3L150.2 4.2L152.0 5.1L153.9 5.9L155.7 6.8L157.6 7.6L159.4 8.4L161.3 9.2L163.1 10.0L164.9 10.7L166.8 11.4L168.6 12.2L170.5 12.9L172.3 13.6L174.2 14.2L176.0 14.9L177.8 15.5L179.7 16.2L181.5 16.8L183.4 17.4L185.2 18.0L187.0 18.6L188.9 19.1L190.7 19.7L192.6 20.3L194.4 20.8L196.3 21.3L198.1 21.8L199.9 22.4L201.8 22.9L203.6 23.3L205.5 23.8L207.3 24.3L209.2 24.8L211.0 25.2L212.8 25.7L214.7 26.1L216.5 26.6L218.4 27.0L220.2 27.4L222.1 27.8L223.9 28.2L225.7 28.6L227.6 29.0L229.4 29.4L231.3 29.8M144.7 -3.3L146.5 -2.2L148.4 -1.3L150.2 -0.3L152.0 0.6L153.9 1.5L155.7 2.4L157.6 3.3L159.4 4.2L161.3 5.0L163.1 5.8L164.9 6.6L166.8 7.4L168.6 8.1L170.5 8.9L172.3 9.6L174.2 10.3L176.0 11.0L177.8 11.7L179.7 12.4L181.5 13.0L183.4 13.7L185.2 14.3L187.0 14.9L188.9 15.5L190.7 16.1L192.6 16.7L194.4 17.3L196.3 17.9L198.1 18.4L199.9 19.0L201.8 19.5L203.6 20.0L205.5 20.5L207.3 21.0L209.2 21.5L211.0 22.0L212.8 22.5L214.7 23.0L216.5 23.4L218.4 23.9L220.2 24.3L222.1 24.8L223.9 25.2L225.7 25.6L227.6 26.0L229.4 26.5L231.3 26.9M153.9 -2.9L155.7 -1.9L157.6 -1.0L159.4 -0.1L161.3 0.8L163.1 1.6L164.9 2.5L166.8 3.3L168.6 4.1L170.5 4.9L172.3 5.7L174.2 6.4L176.0 7.2L177.8 7.9L179.7 8.6L181.5 9.3L183.4 10.0L185.2 10.6L187.0 11.3L188.9 11.9L190.7 12.6L192.6 13.2L194.4 13.8L196.3 14.4L198.1 15.0L199.9 15.5L201.8 16.1L203.6 16.7L205.5 17.2L207.3 17.7L209.2 18.3L211.0 18.8L212.8 19.3L214.7 19.8L216.5 20.3L218.4 20.8L220.2 21.2L222.1 21.7L223.9 22.2L225.7 22.6L227.6 23.0L229.4 23.5L231.3 23.9M163.1 -2.5L164.9 -1.6L166.8 -0.8L168.6 0.1L170.5 0.9L172.3 1.7L174.2 2.5L176.0 3.3L177.8 4.1L179.7 4.8L181.5 5.5L183.4 6.3L185.2 7.0L187.0 7.7L188.9 8.3L190.7 9.0L192.6 9.7L194.4 10.3L196.3 10.9L198.1 11.5L199.9 12.1L201.8 12.7L203.6 13.3L205.5 13.9L207.3 14.5L209.2 15.0L211.0 15.6L212.8 16.1L214.7 16.6L216.5 17.1L218.4 17.6L220.2 18.1L222.1 18.6L223.9 19.1L225.7 19.6L227.6 20.0L229.4 20.5L231.3 21.0M170.5 -3.1L172.3 -2.2L174.2 -1.4L176.0 -0.6L177.8 0.2L179.7 1.0L181.5 1.8L183.4 2.6L185.2 3.3L187.0 4.0L188.9 4.7L190.7 5.4L192.6 6.1L194.4 6.8L196.3 7.5L198.1 8.1L199.9 8.7L201.8 9.4L203.6 10.0L205.5 10.6L207.3 11.2L209.2 11.8L211.0 12.3L212.8 12.9L214.7 13.4L216.5 14.0L218.4 14.5L220.2 15.0L222.1 15.6L223.9 16.1L225.7 16.6L227.6 17.1L229.4 17.5L231.3 18.0M179.7 -2.8L181.5 -1.9L183.4 -1.2L185.2 -0.4L187.0 0.4L188.9 1.1L190.7 1.9L192.6 2.6L194.4 3.3L196.3 4.0L198.1 4.7L199.9 5.3L201.8 6.0L203.6 6.6L205.5 7.3L207.3 7.9L209.2 8.5L211.0 9.1L212.8 9.7L214.7 10.3L216.5 10.8L218.4 11.4L220.2 11.9L222.1 12.5L223.9 13.0L225.7 13.5L227.6 14.1L229.4 14.6L231.3 15.1M187.0 -3.2L188.9 -2.5L190.7 -1.7L192.6 -0.9L194.4 -0.2L196.3 0.5L198.1 1.2L199.9 1.9L201.8 2.6L203.6 3.3L205.5 4.0L207.3 4.6L209.2 5.2L211.0 5.9L212.8 6.5L214.7 7.1L216.5 7.7L218.4 8.3L220.2 8.9L222.1 9.4L223.9 10.0L225.7 10.5L227.6 11.1L229.4 11.6L231.3 12.1M196.3 -2.9L198.1 -2.2L199.9 -1.5L201.8 -0.8L203.6 -0.1L205.5 0.6L207.3 1.3L209.2 2.0L211.0 2.6L212.8 3.3L214.7 3.9L216.5 4.5L218.4 5.2L220.2 5.8L222.1 6.3L223.9 6.9L225.7 7.5L227.6 8.1L229.4 8.6L231.3 9.2M205.5 -2.7L207.3 -2.0L209.2 -1.3L211.0 -0.6L212.8 0.1L214.7 0.7L216.5 1.4L218.4 2.0L220.2 2.7L222.1 3.3L223.9 3.9L225.7 4.5L227.6 5.1L229.4 5.7L231.3 6.2M212.8 -3.1L214.7 -2.4L216.5 -1.8L218.4 -1.1L220.2 -0.4L222.1 0.2L223.9 0.8L225.7 1.5L227.6 2.1L229.4 2.7L231.3 3.3M222.1 -2.9L223.9 -2.2L225.7 -1.6L227.6 -0.9L229.4 -0.3L231.3 0.3" fill="none" stroke="#000" stroke-width="1.75" stroke-linejoin="round"/>
</g>
<path d="M44.40 11.65h4.5M226.80 11.65h-4.5M44.40 44.27h4.5M226.80 44.27h-4.5M44.40 76.88h4.5M226.80 76.88h-4.5M44.40 109.49h4.5M226.80 109.49h-4.5M66.60 125.80v-4.2M66.60 3.50v4.2M89.63 125.80v-4.2M89.63 3.50v4.2M112.66 125.80v-4.2M112.66 3.50v4.2M135.69 125.80v-4.2M135.69 3.50v4.2M158.72 125.80v-4.2M158.72 3.50v4.2M181.75 125.80v-4.2M181.75 3.50v4.2M204.78 125.80v-4.2M204.78 3.50v4.2" stroke="#000" stroke-width="0.8" fill="none"/>
<rect x="44.40" y="3.50" width="182.40" height="122.30" fill="none" stroke="#000" stroke-width="1.1"/>
<rect x="192.90" y="106.40" width="31.2" height="15.2" fill="#fff" stroke="#000" stroke-width="0.8"/>
<g clip-path="url(#c01)">
<path d="M232.2 58.9h2v2h-2zM235.4 58.9h2v2h-2zM238.6 58.9h2v2h-2zM241.8 58.9h2v2h-2zM245.0 58.9h2v2h-2zM248.2 58.9h2v2h-2zM251.4 58.9h2v2h-2zM254.6 58.9h2v2h-2zM257.8 58.9h2v2h-2zM261.0 58.9h2v2h-2zM264.2 58.9h2v2h-2zM267.4 58.9h2v2h-2zM270.6 58.9h2v2h-2zM273.8 58.9h2v2h-2zM277.0 58.9h2v2h-2zM280.2 58.9h2v2h-2zM283.4 58.9h2v2h-2zM286.6 58.9h2v2h-2zM289.8 58.9h2v2h-2zM293.0 58.9h2v2h-2zM296.2 58.9h2v2h-2zM299.4 58.9h2v2h-2zM302.6 58.9h2v2h-2zM305.8 58.9h2v2h-2zM309.0 58.9h2v2h-2zM312.2 58.9h2v2h-2zM315.4 58.9h2v2h-2zM318.6 58.9h2v2h-2zM321.8 58.9h2v2h-2zM325.0 58.9h2v2h-2zM328.2 58.9h2v2h-2zM331.4 58.9h2v2h-2zM334.6 58.9h2v2h-2zM337.8 58.9h2v2h-2zM340.9 58.9h2v2h-2zM344.1 58.9h2v2h-2zM347.3 58.9h2v2h-2zM350.5 58.9h2v2h-2zM353.7 58.9h2v2h-2zM356.9 58.9h2v2h-2zM360.1 58.9h2v2h-2zM363.3 58.9h2v2h-2zM366.5 58.9h2v2h-2zM369.7 58.9h2v2h-2zM372.9 58.9h2v2h-2zM376.1 58.9h2v2h-2zM379.3 58.9h2v2h-2zM382.5 58.9h2v2h-2zM385.7 58.9h2v2h-2zM388.9 58.9h2v2h-2zM392.1 58.9h2v2h-2zM395.3 58.9h2v2h-2zM398.5 58.9h2v2h-2zM401.7 58.9h2v2h-2zM404.9 58.9h2v2h-2zM408.1 58.9h2v2h-2zM411.3 58.9h2v2h-2zM232.2 88.4h2v2h-2zM235.4 88.1h2v2h-2zM238.6 87.7h2v2h-2zM241.8 87.4h2v2h-2zM245.0 87.1h2v2h-2zM248.2 86.7h2v2h-2zM251.4 86.4h2v2h-2zM254.6 86.1h2v2h-2zM257.8 85.9h2v2h-2zM261.0 85.6h2v2h-2zM264.2 85.3h2v2h-2zM267.4 85.1h2v2h-2zM270.6 84.8h2v2h-2zM273.8 84.6h2v2h-2zM277.0 84.4h2v2h-2zM280.2 84.2h2v2h-2zM283.4 84.0h2v2h-2zM286.6 83.8h2v2h-2zM289.8 83.6h2v2h-2zM293.0 83.4h2v2h-2zM296.2 83.2h2v2h-2zM299.4 83.1h2v2h-2zM302.6 82.9h2v2h-2zM305.8 82.7h2v2h-2zM309.0 82.6h2v2h-2zM312.2 82.4h2v2h-2zM315.4 82.2h2v2h-2zM318.6 82.1h2v2h-2zM321.8 81.9h2v2h-2zM325.0 81.8h2v2h-2zM328.2 81.7h2v2h-2zM331.4 81.5h2v2h-2zM334.6 81.4h2v2h-2zM337.8 81.3h2v2h-2zM340.9 81.2h2v2h-2zM344.1 81.1h2v2h-2zM347.3 81.0h2v2h-2zM350.5 80.9h2v2h-2zM353.7 80.8h2v2h-2zM356.9 80.7h2v2h-2zM360.1 80.7h2v2h-2zM363.3 80.6h2v2h-2zM366.5 80.5h2v2h-2zM369.7 80.5h2v2h-2zM372.9 80.4h2v2h-2zM376.1 80.4h2v2h-2zM379.3 80.3h2v2h-2zM382.5 80.3h2v2h-2zM385.7 80.2h2v2h-2zM388.9 80.2h2v2h-2zM392.1 80.1h2v2h-2zM395.3 80.1h2v2h-2zM398.5 80.0h2v2h-2zM401.7 80.0h2v2h-2zM404.9 80.0h2v2h-2zM408.1 79.9h2v2h-2zM411.3 79.9h2v2h-2zM232.2 96.8h2v2h-2zM235.4 95.7h2v2h-2zM238.6 94.7h2v2h-2zM241.8 93.8h2v2h-2zM245.0 93.0h2v2h-2zM248.2 92.3h2v2h-2zM251.4 91.7h2v2h-2zM254.6 91.1h2v2h-2zM257.8 90.5h2v2h-2zM261.0 90.0h2v2h-2zM264.2 89.6h2v2h-2zM267.4 89.1h2v2h-2zM270.6 88.7h2v2h-2zM273.8 88.4h2v2h-2zM277.0 88.0h2v2h-2zM280.2 87.7h2v2h-2zM283.4 87.4h2v2h-2zM286.6 87.1h2v2h-2zM289.8 86.8h2v2h-2zM293.0 86.5h2v2h-2zM296.2 86.3h2v2h-2zM299.4 86.1h2v2h-2zM302.6 85.8h2v2h-2zM305.8 85.6h2v2h-2zM309.0 85.4h2v2h-2zM312.2 85.2h2v2h-2zM315.4 85.0h2v2h-2zM318.6 84.8h2v2h-2zM321.8 84.6h2v2h-2zM325.0 84.4h2v2h-2zM328.2 84.2h2v2h-2zM331.4 84.1h2v2h-2zM334.6 83.9h2v2h-2zM337.8 83.8h2v2h-2zM340.9 83.6h2v2h-2zM344.1 83.5h2v2h-2zM347.3 83.4h2v2h-2zM350.5 83.2h2v2h-2zM353.7 83.1h2v2h-2zM356.9 83.0h2v2h-2zM360.1 82.9h2v2h-2zM363.3 82.8h2v2h-2zM366.5 82.7h2v2h-2zM369.7 82.7h2v2h-2zM372.9 82.6h2v2h-2zM376.1 82.5h2v2h-2zM379.3 82.4h2v2h-2zM382.5 82.3h2v2h-2zM385.7 82.3h2v2h-2zM388.9 82.2h2v2h-2zM392.1 82.1h2v2h-2zM395.3 82.1h2v2h-2zM398.5 82.0h2v2h-2zM401.7 81.9h2v2h-2zM404.9 81.9h2v2h-2zM408.1 81.8h2v2h-2zM411.3 81.8h2v2h-2zM232.2 109.2h2v2h-2zM235.4 107.0h2v2h-2zM238.6 105.0h2v2h-2zM241.8 103.3h2v2h-2zM245.0 101.9h2v2h-2zM248.2 100.6h2v2h-2zM251.4 99.4h2v2h-2zM254.6 98.4h2v2h-2zM257.8 97.4h2v2h-2zM261.0 96.6h2v2h-2zM264.2 95.8h2v2h-2zM267.4 95.1h2v2h-2zM270.6 94.5h2v2h-2zM273.8 93.9h2v2h-2zM277.0 93.4h2v2h-2zM280.2 92.8h2v2h-2zM283.4 92.4h2v2h-2zM286.6 91.9h2v2h-2zM289.8 91.5h2v2h-2zM293.0 91.2h2v2h-2zM296.2 90.8h2v2h-2zM299.4 90.5h2v2h-2zM302.6 90.1h2v2h-2zM305.8 89.8h2v2h-2zM309.0 89.5h2v2h-2zM312.2 89.2h2v2h-2zM315.4 89.0h2v2h-2zM318.6 88.7h2v2h-2zM321.8 88.5h2v2h-2zM325.0 88.2h2v2h-2zM328.2 88.0h2v2h-2zM331.4 87.8h2v2h-2zM334.6 87.6h2v2h-2zM337.8 87.4h2v2h-2zM340.9 87.2h2v2h-2zM344.1 87.0h2v2h-2zM347.3 86.8h2v2h-2zM350.5 86.7h2v2h-2zM353.7 86.5h2v2h-2zM356.9 86.4h2v2h-2zM360.1 86.2h2v2h-2zM363.3 86.1h2v2h-2zM366.5 86.0h2v2h-2zM369.7 85.9h2v2h-2zM372.9 85.7h2v2h-2zM376.1 85.6h2v2h-2zM379.3 85.5h2v2h-2zM382.5 85.4h2v2h-2zM385.7 85.3h2v2h-2zM388.9 85.2h2v2h-2zM392.1 85.1h2v2h-2zM395.3 85.0h2v2h-2zM398.5 84.9h2v2h-2zM401.7 84.8h2v2h-2zM404.9 84.7h2v2h-2zM408.1 84.7h2v2h-2zM411.3 84.6h2v2h-2zM232.2 122.0h2v2h-2zM235.4 118.6h2v2h-2zM238.6 115.6h2v2h-2zM241.8 113.1h2v2h-2zM245.0 111.0h2v2h-2zM248.2 109.1h2v2h-2zM251.4 107.4h2v2h-2zM254.6 105.9h2v2h-2zM257.8 104.6h2v2h-2zM261.0 103.4h2v2h-2zM264.2 102.3h2v2h-2zM267.4 101.3h2v2h-2zM270.6 100.4h2v2h-2zM273.8 99.6h2v2h-2zM277.0 98.9h2v2h-2zM280.2 98.2h2v2h-2zM283.4 97.6h2v2h-2zM286.6 97.0h2v2h-2zM289.8 96.4h2v2h-2zM293.0 95.9h2v2h-2zM296.2 95.4h2v2h-2zM299.4 95.0h2v2h-2zM302.6 94.6h2v2h-2zM305.8 94.2h2v2h-2zM309.0 93.8h2v2h-2zM312.2 93.4h2v2h-2zM315.4 93.1h2v2h-2zM318.6 92.8h2v2h-2zM321.8 92.5h2v2h-2zM325.0 92.2h2v2h-2zM328.2 91.9h2v2h-2zM331.4 91.6h2v2h-2zM334.6 91.4h2v2h-2zM337.8 91.1h2v2h-2zM340.9 90.9h2v2h-2zM344.1 90.7h2v2h-2zM347.3 90.4h2v2h-2zM350.5 90.2h2v2h-2zM353.7 90.0h2v2h-2zM356.9 89.8h2v2h-2zM360.1 89.7h2v2h-2zM363.3 89.5h2v2h-2zM366.5 89.3h2v2h-2zM369.7 89.2h2v2h-2zM372.9 89.0h2v2h-2zM376.1 88.9h2v2h-2zM379.3 88.7h2v2h-2zM382.5 88.6h2v2h-2zM385.7 88.4h2v2h-2zM388.9 88.3h2v2h-2zM392.1 88.2h2v2h-2zM395.3 88.0h2v2h-2zM398.5 87.9h2v2h-2zM401.7 87.8h2v2h-2zM404.9 87.7h2v2h-2zM408.1 87.6h2v2h-2zM411.3 87.5h2v2h-2zM241.8 123.0h2v2h-2zM245.0 120.1h2v2h-2zM248.2 117.6h2v2h-2zM251.4 115.4h2v2h-2zM254.6 113.5h2v2h-2zM257.8 111.8h2v2h-2zM261.0 110.2h2v2h-2zM264.2 108.8h2v2h-2zM267.4 107.6h2v2h-2zM270.6 106.4h2v2h-2zM273.8 105.4h2v2h-2zM277.0 104.4h2v2h-2zM280.2 103.6h2v2h-2zM283.4 102.8h2v2h-2zM286.6 102.0h2v2h-2zM289.8 101.3h2v2h-2zM293.0 100.7h2v2h-2zM296.2 100.1h2v2h-2zM299.4 99.6h2v2h-2zM302.6 99.1h2v2h-2zM305.8 98.6h2v2h-2zM309.0 98.1h2v2h-2zM312.2 97.7h2v2h-2zM315.4 97.3h2v2h-2zM318.6 96.9h2v2h-2zM321.8 96.5h2v2h-2zM325.0 96.1h2v2h-2zM328.2 95.8h2v2h-2zM331.4 95.5h2v2h-2zM334.6 95.2h2v2h-2zM337.8 94.9h2v2h-2zM340.9 94.6h2v2h-2zM344.1 94.3h2v2h-2zM347.3 94.1h2v2h-2zM350.5 93.8h2v2h-2zM353.7 93.6h2v2h-2zM356.9 93.3h2v2h-2zM360.1 93.1h2v2h-2zM363.3 92.9h2v2h-2zM366.5 92.7h2v2h-2zM369.7 92.5h2v2h-2zM372.9 92.3h2v2h-2zM376.1 92.1h2v2h-2zM379.3 91.9h2v2h-2zM382.5 91.7h2v2h-2zM385.7 91.6h2v2h-2zM388.9 91.4h2v2h-2zM392.1 91.3h2v2h-2zM395.3 91.1h2v2h-2zM398.5 90.9h2v2h-2zM401.7 90.8h2v2h-2zM404.9 90.7h2v2h-2zM408.1 90.5h2v2h-2zM411.3 90.4h2v2h-2zM251.4 123.5h2v2h-2zM254.6 121.1h2v2h-2zM257.8 119.0h2v2h-2zM261.0 117.1h2v2h-2zM264.2 115.4h2v2h-2zM267.4 113.8h2v2h-2zM270.6 112.4h2v2h-2zM273.8 111.2h2v2h-2zM277.0 110.0h2v2h-2zM280.2 109.0h2v2h-2zM283.4 108.0h2v2h-2zM286.6 107.1h2v2h-2zM289.8 106.3h2v2h-2zM293.0 105.5h2v2h-2zM296.2 104.8h2v2h-2zM299.4 104.2h2v2h-2zM302.6 103.5h2v2h-2zM305.8 103.0h2v2h-2zM309.0 102.4h2v2h-2zM312.2 101.9h2v2h-2zM315.4 101.4h2v2h-2zM318.6 101.0h2v2h-2zM321.8 100.5h2v2h-2zM325.0 100.1h2v2h-2zM328.2 99.7h2v2h-2zM331.4 99.4h2v2h-2zM334.6 99.0h2v2h-2zM337.8 98.7h2v2h-2zM340.9 98.3h2v2h-2zM344.1 98.0h2v2h-2zM347.3 97.7h2v2h-2zM350.5 97.4h2v2h-2zM353.7 97.1h2v2h-2zM356.9 96.8h2v2h-2zM360.1 96.6h2v2h-2zM363.3 96.3h2v2h-2zM366.5 96.1h2v2h-2zM369.7 95.8h2v2h-2zM372.9 95.6h2v2h-2zM376.1 95.4h2v2h-2zM379.3 95.2h2v2h-2zM382.5 94.9h2v2h-2zM385.7 94.7h2v2h-2zM388.9 94.5h2v2h-2zM392.1 94.3h2v2h-2zM395.3 94.2h2v2h-2zM398.5 94.0h2v2h-2zM401.7 93.8h2v2h-2zM404.9 93.6h2v2h-2zM408.1 93.5h2v2h-2zM411.3 93.3h2v2h-2zM261.0 123.9h2v2h-2zM264.2 121.9h2v2h-2zM267.4 120.1h2v2h-2zM270.6 118.5h2v2h-2zM273.8 117.0h2v2h-2zM277.0 115.6h2v2h-2zM280.2 114.4h2v2h-2zM283.4 113.2h2v2h-2zM286.6 112.2h2v2h-2zM289.8 111.2h2v2h-2zM293.0 110.3h2v2h-2zM296.2 109.5h2v2h-2zM299.4 108.8h2v2h-2zM302.6 108.1h2v2h-2zM305.8 107.4h2v2h-2zM309.0 106.8h2v2h-2zM312.2 106.2h2v2h-2zM315.4 105.6h2v2h-2zM318.6 105.1h2v2h-2zM321.8 104.6h2v2h-2zM325.0 104.1h2v2h-2zM328.2 103.7h2v2h-2zM331.4 103.3h2v2h-2zM334.6 102.8h2v2h-2zM337.8 102.5h2v2h-2zM340.9 102.1h2v2h-2zM344.1 101.7h2v2h-2zM347.3 101.4h2v2h-2zM350.5 101.0h2v2h-2zM353.7 100.7h2v2h-2zM356.9 100.4h2v2h-2zM360.1 100.1h2v2h-2zM363.3 99.8h2v2h-2zM366.5 99.5h2v2h-2zM369.7 99.2h2v2h-2zM372.9 98.9h2v2h-2zM376.1 98.6h2v2h-2zM379.3 98.4h2v2h-2zM382.5 98.1h2v2h-2zM385.7 97.9h2v2h-2zM388.9 97.7h2v2h-2zM392.1 97.5h2v2h-2zM395.3 97.2h2v2h-2zM398.5 97.0h2v2h-2zM401.7 96.8h2v2h-2zM404.9 96.6h2v2h-2zM408.1 96.4h2v2h-2zM411.3 96.2h2v2h-2zM270.6 124.5h2v2h-2zM273.8 122.8h2v2h-2zM277.0 121.2h2v2h-2zM280.2 119.8h2v2h-2zM283.4 118.5h2v2h-2zM286.6 117.3h2v2h-2zM289.8 116.2h2v2h-2zM293.0 115.2h2v2h-2zM296.2 114.2h2v2h-2zM299.4 113.4h2v2h-2zM302.6 112.6h2v2h-2zM305.8 111.8h2v2h-2zM309.0 111.1h2v2h-2zM312.2 110.4h2v2h-2zM315.4 109.8h2v2h-2zM318.6 109.2h2v2h-2zM321.8 108.7h2v2h-2zM325.0 108.1h2v2h-2zM328.2 107.6h2v2h-2zM331.4 107.1h2v2h-2zM334.6 106.7h2v2h-2zM337.8 106.2h2v2h-2zM340.9 105.8h2v2h-2zM344.1 105.4h2v2h-2zM347.3 105.0h2v2h-2zM350.5 104.6h2v2h-2zM353.7 104.2h2v2h-2zM356.9 103.9h2v2h-2zM360.1 103.5h2v2h-2zM363.3 103.2h2v2h-2zM366.5 102.9h2v2h-2zM369.7 102.5h2v2h-2zM372.9 102.2h2v2h-2zM376.1 101.9h2v2h-2zM379.3 101.6h2v2h-2zM382.5 101.4h2v2h-2zM385.7 101.1h2v2h-2zM388.9 100.8h2v2h-2zM392.1 100.6h2v2h-2zM395.3 100.3h2v2h-2zM398.5 100.1h2v2h-2zM401.7 99.8h2v2h-2zM404.9 99.6h2v2h-2zM408.1 99.4h2v2h-2zM411.3 99.2h2v2h-2zM280.2 125.2h2v2h-2zM283.4 123.7h2v2h-2zM286.6 122.4h2v2h-2zM289.8 121.2h2v2h-2zM293.0 120.0h2v2h-2zM296.2 118.9h2v2h-2zM299.4 118.0h2v2h-2zM302.6 117.1h2v2h-2zM305.8 116.2h2v2h-2zM309.0 115.4h2v2h-2zM312.2 114.7h2v2h-2zM315.4 114.0h2v2h-2zM318.6 113.3h2v2h-2zM321.8 112.7h2v2h-2zM325.0 112.1h2v2h-2zM328.2 111.6h2v2h-2zM331.4 111.0h2v2h-2zM334.6 110.5h2v2h-2zM337.8 110.0h2v2h-2zM340.9 109.6h2v2h-2zM344.1 109.1h2v2h-2zM347.3 108.7h2v2h-2zM350.5 108.2h2v2h-2zM353.7 107.8h2v2h-2zM356.9 107.4h2v2h-2zM360.1 107.0h2v2h-2zM363.3 106.6h2v2h-2zM366.5 106.2h2v2h-2zM369.7 105.9h2v2h-2zM372.9 105.5h2v2h-2zM376.1 105.2h2v2h-2zM379.3 104.9h2v2h-2zM382.5 104.6h2v2h-2zM385.7 104.3h2v2h-2zM388.9 104.0h2v2h-2zM392.1 103.7h2v2h-2zM395.3 103.4h2v2h-2zM398.5 103.1h2v2h-2zM401.7 102.8h2v2h-2zM404.9 102.6h2v2h-2zM408.1 102.3h2v2h-2zM411.3 102.1h2v2h-2zM293.0 124.8h2v2h-2zM296.2 123.7h2v2h-2zM299.4 122.6h2v2h-2zM302.6 121.6h2v2h-2zM305.8 120.6h2v2h-2zM309.0 119.8h2v2h-2zM312.2 119.0h2v2h-2zM315.4 118.2h2v2h-2zM318.6 117.5h2v2h-2zM321.8 116.8h2v2h-2zM325.0 116.1h2v2h-2zM328.2 115.5h2v2h-2zM331.4 114.9h2v2h-2zM334.6 114.4h2v2h-2zM337.8 113.8h2v2h-2zM340.9 113.3h2v2h-2zM344.1 112.8h2v2h-2zM347.3 112.3h2v2h-2zM350.5 111.8h2v2h-2zM353.7 111.4h2v2h-2zM356.9 110.9h2v2h-2zM360.1 110.5h2v2h-2zM363.3 110.0h2v2h-2zM366.5 109.6h2v2h-2zM369.7 109.2h2v2h-2zM372.9 108.9h2v2h-2zM376.1 108.5h2v2h-2zM379.3 108.1h2v2h-2zM392.1 106.8h2v2h-2zM395.3 106.5h2v2h-2zM398.5 106.2h2v2h-2zM401.7 105.9h2v2h-2zM404.9 105.6h2v2h-2zM408.1 105.3h2v2h-2zM411.3 105.0h2v2h-2zM305.8 125.1h2v2h-2zM309.0 124.1h2v2h-2zM312.2 123.2h2v2h-2zM315.4 122.4h2v2h-2zM318.6 121.6h2v2h-2zM321.8 120.9h2v2h-2zM325.0 120.2h2v2h-2zM328.2 119.5h2v2h-2zM331.4 118.8h2v2h-2zM334.6 118.2h2v2h-2zM337.8 117.6h2v2h-2zM340.9 117.1h2v2h-2zM344.1 116.5h2v2h-2zM347.3 116.0h2v2h-2zM350.5 115.4h2v2h-2zM353.7 114.9h2v2h-2zM356.9 114.4h2v2h-2zM360.1 113.9h2v2h-2zM363.3 113.5h2v2h-2zM366.5 113.0h2v2h-2zM369.7 112.6h2v2h-2zM372.9 112.2h2v2h-2zM376.1 111.8h2v2h-2zM379.3 111.4h2v2h-2zM411.3 108.0h2v2h-2zM318.6 125.7h2v2h-2zM321.8 124.9h2v2h-2zM325.0 124.2h2v2h-2zM328.2 123.4h2v2h-2zM331.4 122.7h2v2h-2zM334.6 122.1h2v2h-2zM337.8 121.4h2v2h-2zM340.9 120.8h2v2h-2zM344.1 120.2h2v2h-2zM347.3 119.6h2v2h-2zM350.5 119.0h2v2h-2zM353.7 118.5h2v2h-2zM356.9 118.0h2v2h-2zM360.1 117.4h2v2h-2zM363.3 116.9h2v2h-2zM366.5 116.4h2v2h-2zM369.7 116.0h2v2h-2zM372.9 115.5h2v2h-2zM376.1 115.0h2v2h-2zM379.3 114.6h2v2h-2zM411.3 110.9h2v2h-2zM337.8 125.2h2v2h-2zM340.9 124.6h2v2h-2zM344.1 123.9h2v2h-2zM347.3 123.3h2v2h-2zM350.5 122.7h2v2h-2zM353.7 122.1h2v2h-2zM356.9 121.5h2v2h-2zM360.1 120.9h2v2h-2zM363.3 120.4h2v2h-2zM366.5 119.8h2v2h-2zM369.7 119.3h2v2h-2zM372.9 118.8h2v2h-2zM376.1 118.3h2v2h-2zM379.3 117.9h2v2h-2zM411.3 113.8h2v2h-2zM353.7 125.6h2v2h-2zM356.9 125.0h2v2h-2zM360.1 124.4h2v2h-2zM363.3 123.8h2v2h-2zM366.5 123.2h2v2h-2zM369.7 122.7h2v2h-2zM372.9 122.1h2v2h-2zM376.1 121.6h2v2h-2zM379.3 121.1h2v2h-2zM382.5 120.6h2v2h-2zM385.7 120.1h2v2h-2zM388.9 119.7h2v2h-2zM411.3 116.8h2v2h-2zM372.9 125.4h2v2h-2zM376.1 124.9h2v2h-2zM379.3 124.3h2v2h-2zM382.5 123.8h2v2h-2zM385.7 123.3h2v2h-2zM388.9 122.8h2v2h-2zM392.1 122.3h2v2h-2zM395.3 121.9h2v2h-2zM398.5 121.4h2v2h-2zM401.7 121.0h2v2h-2zM404.9 120.5h2v2h-2zM408.1 120.1h2v2h-2zM411.3 119.7h2v2h-2zM392.1 125.5h2v2h-2zM395.3 125.0h2v2h-2zM398.5 124.5h2v2h-2zM401.7 124.0h2v2h-2zM404.9 123.5h2v2h-2zM408.1 123.1h2v2h-2zM411.3 122.6h2v2h-2zM411.3 125.6h2v2h-2z" fill="#cc2000"/>
<path d="M229.9 51.6L231.8 52.9L233.6 54.0L235.5 55.1L237.3 56.0L239.2 56.9L241.0 57.7L242.8 58.5L244.7 59.2L246.5 59.8L248.4 60.4L250.2 61.0L252.0 61.5L253.9 62.0L255.7 62.4L257.6 62.8L259.4 63.2L261.3 63.6L263.1 64.0L264.9 64.3L266.8 64.6L268.6 64.9L270.5 65.2L272.3 65.5L274.2 65.8L276.0 66.0L277.8 66.2L279.7 66.5L281.5 66.7L283.4 66.9L285.2 67.1L287.1 67.3L288.9 67.5L290.7 67.6L292.6 67.8L294.4 68.0L296.3 68.1L298.1 68.3L300.0 68.4L301.8 68.5L303.6 68.7L305.5 68.8L307.3 68.9L309.2 69.0L311.0 69.2L312.8 69.3L314.7 69.4L316.5 69.5L318.4 69.6L320.2 69.7L322.1 69.8L323.9 69.9L325.7 70.0L327.6 70.0L329.4 70.1L331.3 70.2L333.1 70.3L335.0 70.4L336.8 70.4L338.6 70.5L340.5 70.6L342.3 70.7L344.2 70.7L346.0 70.8L347.9 70.9L349.7 70.9L351.5 71.0L353.4 71.0L355.2 71.1L357.1 71.1L358.9 71.2L360.8 71.3L362.6 71.3L364.4 71.4L366.3 71.4L368.1 71.5L370.0 71.5L371.8 71.6L373.6 71.6L375.5 71.6L377.3 71.7L379.2 71.7L381.0 71.8L382.9 71.8L384.7 71.9L386.5 71.9L388.4 71.9L390.2 72.0L392.1 72.0L393.9 72.1L395.8 72.1L397.6 72.1L399.4 72.2L401.3 72.2L403.1 72.2L405.0 72.3L406.8 72.3L408.7 72.3L410.5 72.4L412.3 72.4L414.2 72.4L416.0 72.4L417.9 72.5M229.9 35.7L231.8 37.6L233.6 39.4L235.5 41.0L237.3 42.5L239.2 43.8L241.0 45.1L242.8 46.2L244.7 47.3L246.5 48.3L248.4 49.2L250.2 50.1L252.0 50.9L253.9 51.7L255.7 52.4L257.6 53.1L259.4 53.8L261.3 54.4L263.1 55.0L264.9 55.5L266.8 56.0L268.6 56.5L270.5 57.0L272.3 57.5L274.2 57.9L276.0 58.3L277.8 58.7L279.7 59.1L281.5 59.4L283.4 59.8L285.2 60.1L287.1 60.4L288.9 60.7L290.7 61.0L292.6 61.3L294.4 61.6L296.3 61.8L298.1 62.1L300.0 62.3L301.8 62.6L303.6 62.8L305.5 63.0L307.3 63.2L309.2 63.4L311.0 63.6L312.8 63.8L314.7 64.0L316.5 64.2L318.4 64.3L320.2 64.5L322.1 64.7L323.9 64.8L325.7 65.0L327.6 65.2L329.4 65.3L331.3 65.4L333.1 65.6L335.0 65.7L336.8 65.9L338.6 66.0L340.5 66.1L342.3 66.2L344.2 66.3L346.0 66.5L347.9 66.6L349.7 66.7L351.5 66.8L353.4 66.9L355.2 67.0L357.1 67.1L358.9 67.2L360.8 67.3L362.6 67.4L364.4 67.5L366.3 67.6L368.1 67.7L370.0 67.8L371.8 67.8L373.6 67.9L375.5 68.0L377.3 68.1L379.2 68.2L381.0 68.2L382.9 68.3L384.7 68.4L386.5 68.5L388.4 68.5L390.2 68.6L392.1 68.7L393.9 68.7L395.8 68.8L397.6 68.9L399.4 68.9L401.3 69.0L403.1 69.0L405.0 69.1L406.8 69.2L408.7 69.2L410.5 69.3L412.3 69.3L414.2 69.4L416.0 69.4L417.9 69.5M229.9 19.8L231.8 22.4L233.6 24.7L235.5 26.9L237.3 28.9L239.2 30.7L241.0 32.4L242.8 34.0L244.7 35.4L246.5 36.8L248.4 38.1L250.2 39.3L252.0 40.4L253.9 41.5L255.7 42.5L257.6 43.4L259.4 44.3L261.3 45.2L263.1 46.0L264.9 46.7L266.8 47.4L268.6 48.1L270.5 48.8L272.3 49.4L274.2 50.0L276.0 50.6L277.8 51.1L279.7 51.7L281.5 52.2L283.4 52.6L285.2 53.1L287.1 53.5L288.9 54.0L290.7 54.4L292.6 54.8L294.4 55.2L296.3 55.5L298.1 55.9L300.0 56.2L301.8 56.6L303.6 56.9L305.5 57.2L307.3 57.5L309.2 57.8L311.0 58.1L312.8 58.3L314.7 58.6L316.5 58.9L318.4 59.1L320.2 59.4L322.1 59.6L323.9 59.8L325.7 60.0L327.6 60.3L329.4 60.5L331.3 60.7L333.1 60.9L335.0 61.1L336.8 61.3L338.6 61.4L340.5 61.6L342.3 61.8L344.2 62.0L346.0 62.1L347.9 62.3L349.7 62.5L351.5 62.6L353.4 62.8L355.2 62.9L357.1 63.1L358.9 63.2L360.8 63.3L362.6 63.5L364.4 63.6L366.3 63.7L368.1 63.9L370.0 64.0L371.8 64.1L373.6 64.2L375.5 64.3L377.3 64.5L379.2 64.6L381.0 64.7L382.9 64.8L384.7 64.9L386.5 65.0L388.4 65.1L390.2 65.2L392.1 65.3L393.9 65.4L395.8 65.5L397.6 65.6L399.4 65.7L401.3 65.8L403.1 65.9L405.0 65.9L406.8 66.0L408.7 66.1L410.5 66.2L412.3 66.3L414.2 66.4L416.0 66.4L417.9 66.5M229.9 3.9L231.8 7.1L233.6 10.1L235.5 12.8L237.3 15.3L239.2 17.6L241.0 19.7L242.8 21.7L244.7 23.6L246.5 25.3L248.4 26.9L250.2 28.5L252.0 29.9L253.9 31.2L255.7 32.5L257.6 33.7L259.4 34.8L261.3 35.9L263.1 36.9L264.9 37.9L266.8 38.8L268.6 39.7L270.5 40.6L272.3 41.4L274.2 42.1L276.0 42.9L277.8 43.6L279.7 44.2L281.5 44.9L283.4 45.5L285.2 46.1L287.1 46.7L288.9 47.2L290.7 47.8L292.6 48.3L294.4 48.8L296.3 49.2L298.1 49.7L300.0 50.2L301.8 50.6L303.6 51.0L305.5 51.4L307.3 51.8L309.2 52.2L311.0 52.5L312.8 52.9L314.7 53.2L316.5 53.6L318.4 53.9L320.2 54.2L322.1 54.5L323.9 54.8L325.7 55.1L327.6 55.4L329.4 55.6L331.3 55.9L333.1 56.2L335.0 56.4L336.8 56.7L338.6 56.9L340.5 57.1L342.3 57.4L344.2 57.6L346.0 57.8L347.9 58.0L349.7 58.2L351.5 58.4L353.4 58.6L355.2 58.8L357.1 59.0L358.9 59.2L360.8 59.4L362.6 59.6L364.4 59.7L366.3 59.9L368.1 60.1L370.0 60.2L371.8 60.4L373.6 60.5L375.5 60.7L377.3 60.8L379.2 61.0L381.0 61.1L382.9 61.3L384.7 61.4L386.5 61.6L388.4 61.7L390.2 61.8L392.1 61.9L393.9 62.1L395.8 62.2L397.6 62.3L399.4 62.4L401.3 62.6L403.1 62.7L405.0 62.8L406.8 62.9L408.7 63.0L410.5 63.1L412.3 63.2L414.2 63.3L416.0 63.4L417.9 63.5M233.6 -4.6L235.5 -1.3L237.3 1.7L239.2 4.5L241.0 7.1L242.8 9.5L244.7 11.7L246.5 13.8L248.4 15.8L250.2 17.6L252.0 19.3L253.9 21.0L255.7 22.5L257.6 24.0L259.4 25.4L261.3 26.7L263.1 27.9L264.9 29.1L266.8 30.2L268.6 31.3L270.5 32.3L272.3 33.3L274.2 34.3L276.0 35.2L277.8 36.0L279.7 36.8L281.5 37.6L283.4 38.4L285.2 39.1L287.1 39.8L288.9 40.5L290.7 41.1L292.6 41.8L294.4 42.4L296.3 43.0L298.1 43.5L300.0 44.1L301.8 44.6L303.6 45.1L305.5 45.6L307.3 46.1L309.2 46.5L311.0 47.0L312.8 47.4L314.7 47.8L316.5 48.3L318.4 48.7L320.2 49.0L322.1 49.4L323.9 49.8L325.7 50.1L327.6 50.5L329.4 50.8L331.3 51.1L333.1 51.5L335.0 51.8L336.8 52.1L338.6 52.4L340.5 52.7L342.3 52.9L344.2 53.2L346.0 53.5L347.9 53.7L349.7 54.0L351.5 54.3L353.4 54.5L355.2 54.7L357.1 55.0L358.9 55.2L360.8 55.4L362.6 55.6L364.4 55.9L366.3 56.1L368.1 56.3L370.0 56.5L371.8 56.7L373.6 56.9L375.5 57.0L377.3 57.2L379.2 57.4L381.0 57.6L382.9 57.8L384.7 57.9L386.5 58.1L388.4 58.3L390.2 58.4L392.1 58.6L393.9 58.8L395.8 58.9L397.6 59.1L399.4 59.2L401.3 59.3L403.1 59.5L405.0 59.6L406.8 59.8L408.7 59.9L410.5 60.0L412.3 60.2L414.2 60.3L416.0 60.4L417.9 60.5M242.8 -2.8L244.7 -0.2L246.5 2.3L248.4 4.6L250.2 6.8L252.0 8.8L253.9 10.7L255.7 12.6L257.6 14.3L259.4 15.9L261.3 17.5L263.1 18.9L264.9 20.3L266.8 21.6L268.6 22.9L270.5 24.1L272.3 25.3L274.2 26.4L276.0 27.4L277.8 28.5L279.7 29.4L281.5 30.4L283.4 31.3L285.2 32.1L287.1 33.0L288.9 33.8L290.7 34.5L292.6 35.3L294.4 36.0L296.3 36.7L298.1 37.3L300.0 38.0L301.8 38.6L303.6 39.2L305.5 39.8L307.3 40.4L309.2 40.9L311.0 41.4L312.8 42.0L314.7 42.5L316.5 42.9L318.4 43.4L320.2 43.9L322.1 44.3L323.9 44.8L325.7 45.2L327.6 45.6L329.4 46.0L331.3 46.4L333.1 46.8L335.0 47.1L336.8 47.5L338.6 47.8L340.5 48.2L342.3 48.5L344.2 48.8L346.0 49.2L347.9 49.5L349.7 49.8L351.5 50.1L353.4 50.4L355.2 50.6L357.1 50.9L358.9 51.2L360.8 51.5L362.6 51.7L364.4 52.0L366.3 52.2L368.1 52.5L370.0 52.7L371.8 52.9L373.6 53.2L375.5 53.4L377.3 53.6L379.2 53.8L381.0 54.0L382.9 54.3L384.7 54.5L386.5 54.7L388.4 54.9L390.2 55.1L392.1 55.2L393.9 55.4L395.8 55.6L397.6 55.8L399.4 56.0L401.3 56.1L403.1 56.3L405.0 56.5L406.8 56.6L408.7 56.8L410.5 57.0L412.3 57.1L414.2 57.3L416.0 57.4L417.9 57.6M250.2 -4.1L252.0 -1.7L253.9 0.5L255.7 2.6L257.6 4.6L259.4 6.4L261.3 8.2L263.1 9.9L264.9 11.5L266.8 13.1L268.6 14.5L270.5 15.9L272.3 17.2L274.2 18.5L276.0 19.7L277.8 20.9L279.7 22.0L281.5 23.1L283.4 24.1L285.2 25.1L287.1 26.1L288.9 27.0L290.7 27.9L292.6 28.8L294.4 29.6L296.3 30.4L298.1 31.2L300.0 31.9L301.8 32.6L303.6 33.3L305.5 34.0L307.3 34.7L309.2 35.3L311.0 35.9L312.8 36.5L314.7 37.1L316.5 37.6L318.4 38.2L320.2 38.7L322.1 39.2L323.9 39.7L325.7 40.2L327.6 40.7L329.4 41.2L331.3 41.6L333.1 42.1L335.0 42.5L336.8 42.9L338.6 43.3L340.5 43.7L342.3 44.1L344.2 44.5L346.0 44.8L347.9 45.2L349.7 45.6L351.5 45.9L353.4 46.2L355.2 46.6L357.1 46.9L358.9 47.2L360.8 47.5L362.6 47.8L364.4 48.1L366.3 48.4L368.1 48.7L370.0 49.0L371.8 49.2L373.6 49.5L375.5 49.8L377.3 50.0L379.2 50.3L381.0 50.5L382.9 50.7L384.7 51.0L386.5 51.2L388.4 51.4L390.2 51.7L392.1 51.9L393.9 52.1L395.8 52.3L397.6 52.5L399.4 52.7L401.3 52.9L403.1 53.1L405.0 53.3L406.8 53.5L408.7 53.7L410.5 53.9L412.3 54.1L414.2 54.2L416.0 54.4L417.9 54.6M259.4 -3.0L261.3 -1.0L263.1 0.9L264.9 2.7L266.8 4.5L268.6 6.1L270.5 7.7L272.3 9.2L274.2 10.6L276.0 12.0L277.8 13.3L279.7 14.6L281.5 15.8L283.4 17.0L285.2 18.1L287.1 19.2L288.9 20.3L290.7 21.3L292.6 22.3L294.4 23.2L296.3 24.1L298.1 25.0L300.0 25.8L301.8 26.6L303.6 27.4L305.5 28.2L307.3 28.9L309.2 29.7L311.0 30.4L312.8 31.0L314.7 31.7L316.5 32.3L318.4 33.0L320.2 33.6L322.1 34.1L323.9 34.7L325.7 35.3L327.6 35.8L329.4 36.3L331.3 36.8L333.1 37.3L335.0 37.8L336.8 38.3L338.6 38.8L340.5 39.2L342.3 39.7L344.2 40.1L346.0 40.5L347.9 40.9L349.7 41.3L351.5 41.7L353.4 42.1L355.2 42.5L357.1 42.8L358.9 43.2L360.8 43.5L362.6 43.9L364.4 44.2L366.3 44.6L368.1 44.9L370.0 45.2L371.8 45.5L373.6 45.8L375.5 46.1L377.3 46.4L379.2 46.7L381.0 47.0L382.9 47.2L384.7 47.5L386.5 47.8L388.4 48.0L390.2 48.3L392.1 48.5L393.9 48.8L395.8 49.0L397.6 49.3L399.4 49.5L401.3 49.7L403.1 49.9L405.0 50.2L406.8 50.4L408.7 50.6L410.5 50.8L412.3 51.0L414.2 51.2L416.0 51.4L417.9 51.6M266.8 -4.1L268.6 -2.3L270.5 -0.5L272.3 1.2L274.2 2.8L276.0 4.3L277.8 5.8L279.7 7.2L281.5 8.6L283.4 9.9L285.2 11.2L287.1 12.4L288.9 13.5L290.7 14.7L292.6 15.8L294.4 16.8L296.3 17.8L298.1 18.8L300.0 19.7L301.8 20.7L303.6 21.5L305.5 22.4L307.3 23.2L309.2 24.0L311.0 24.8L312.8 25.6L314.7 26.3L316.5 27.0L318.4 27.7L320.2 28.4L322.1 29.1L323.9 29.7L325.7 30.3L327.6 30.9L329.4 31.5L331.3 32.1L333.1 32.6L335.0 33.2L336.8 33.7L338.6 34.2L340.5 34.7L342.3 35.2L344.2 35.7L346.0 36.2L347.9 36.6L349.7 37.1L351.5 37.5L353.4 38.0L355.2 38.4L357.1 38.8L358.9 39.2L360.8 39.6L362.6 40.0L364.4 40.3L366.3 40.7L368.1 41.1L370.0 41.4L371.8 41.8L373.6 42.1L375.5 42.5L377.3 42.8L379.2 43.1L381.0 43.4L382.9 43.7L384.7 44.0L386.5 44.3L388.4 44.6L390.2 44.9L392.1 45.2L393.9 45.4L395.8 45.7L397.6 46.0L399.4 46.2L401.3 46.5L403.1 46.8L405.0 47.0L406.8 47.2L408.7 47.5L410.5 47.7L412.3 48.0L414.2 48.2L416.0 48.4L417.9 48.6M276.0 -3.4L277.8 -1.8L279.7 -0.2L281.5 1.3L283.4 2.8L285.2 4.2L287.1 5.5L288.9 6.8L290.7 8.0L292.6 9.2L294.4 10.4L296.3 11.5L298.1 12.6L300.0 13.7L301.8 14.7L303.6 15.6L305.5 16.6L307.3 17.5L309.2 18.4L311.0 19.3L312.8 20.1L314.7 20.9L316.5 21.7L318.4 22.5L320.2 23.2L322.1 24.0L323.9 24.7L325.7 25.4L327.6 26.0L329.4 26.7L331.3 27.3L333.1 27.9L335.0 28.5L336.8 29.1L338.6 29.7L340.5 30.3L342.3 30.8L344.2 31.3L346.0 31.9L347.9 32.4L349.7 32.9L351.5 33.4L353.4 33.8L355.2 34.3L357.1 34.7L358.9 35.2L360.8 35.6L362.6 36.1L364.4 36.5L366.3 36.9L368.1 37.3L370.0 37.7L371.8 38.1L373.6 38.4L375.5 38.8L377.3 39.2L379.2 39.5L381.0 39.9L382.9 40.2L384.7 40.5L386.5 40.9L388.4 41.2L390.2 41.5L392.1 41.8L393.9 42.1L395.8 42.4L397.6 42.7L399.4 43.0L401.3 43.3L403.1 43.6L405.0 43.8L406.8 44.1L408.7 44.4L410.5 44.6L412.3 44.9L414.2 45.2L416.0 45.4L417.9 45.6M285.2 -2.8L287.1 -1.4L288.9 0.1L290.7 1.4L292.6 2.7L294.4 4.0L296.3 5.2L298.1 6.4L300.0 7.6L301.8 8.7L303.6 9.8L305.5 10.8L307.3 11.8L309.2 12.8L311.0 13.7L312.8 14.7L314.7 15.5L316.5 16.4L318.4 17.3L320.2 18.1L322.1 18.9L323.9 19.7L325.7 20.4L327.6 21.1L329.4 21.9L331.3 22.6L333.1 23.2L335.0 23.9L336.8 24.5L338.6 25.2L340.5 25.8L342.3 26.4L344.2 27.0L346.0 27.5L347.9 28.1L349.7 28.6L351.5 29.2L353.4 29.7L355.2 30.2L357.1 30.7L358.9 31.2L360.8 31.7L362.6 32.1L364.4 32.6L366.3 33.0L368.1 33.5L370.0 33.9L371.8 34.3L373.6 34.7L375.5 35.2L377.3 35.5L379.2 35.9L381.0 36.3L382.9 36.7L384.7 37.1L386.5 37.4L388.4 37.8L390.2 38.1L392.1 38.5L393.9 38.8L395.8 39.1L397.6 39.5L399.4 39.8L401.3 40.1L403.1 40.4L405.0 40.7L406.8 41.0L408.7 41.3L410.5 41.6L412.3 41.8L414.2 42.1L416.0 42.4L417.9 42.7M292.6 -3.8L294.4 -2.4L296.3 -1.0L298.1 0.2L300.0 1.5L301.8 2.7L303.6 3.9L305.5 5.0L307.3 6.1L309.2 7.2L311.0 8.2L312.8 9.2L314.7 10.2L316.5 11.1L318.4 12.0L320.2 12.9L322.1 13.8L323.9 14.6L325.7 15.4L327.6 16.2L329.4 17.0L331.3 17.8L333.1 18.5L335.0 19.2L336.8 19.9L338.6 20.6L340.5 21.3L342.3 22.0L344.2 22.6L346.0 23.2L347.9 23.8L349.7 24.4L351.5 25.0L353.4 25.6L355.2 26.1L357.1 26.7L358.9 27.2L360.8 27.7L362.6 28.2L364.4 28.7L366.3 29.2L368.1 29.7L370.0 30.2L371.8 30.6L373.6 31.1L375.5 31.5L377.3 31.9L379.2 32.4L381.0 32.8L382.9 33.2L384.7 33.6L386.5 34.0L388.4 34.4L390.2 34.7L392.1 35.1L393.9 35.5L395.8 35.8L397.6 36.2L399.4 36.5L401.3 36.9L403.1 37.2L405.0 37.5L406.8 37.9L408.7 38.2L410.5 38.5L412.3 38.8L414.2 39.1L416.0 39.4L417.9 39.7M301.8 -3.3L303.6 -2.0L305.5 -0.8L307.3 0.4L309.2 1.5L311.0 2.6L312.8 3.7L314.7 4.8L316.5 5.8L318.4 6.8L320.2 7.8L322.1 8.7L323.9 9.6L325.7 10.5L327.6 11.4L329.4 12.2L331.3 13.0L333.1 13.8L335.0 14.6L336.8 15.4L338.6 16.1L340.5 16.8L342.3 17.5L344.2 18.2L346.0 18.9L347.9 19.5L349.7 20.2L351.5 20.8L353.4 21.4L355.2 22.0L357.1 22.6L358.9 23.2L360.8 23.8L362.6 24.3L364.4 24.8L366.3 25.4L368.1 25.9L370.0 26.4L371.8 26.9L373.6 27.4L375.5 27.9L377.3 28.3L379.2 28.8L381.0 29.2L382.9 29.7L384.7 30.1L386.5 30.5L388.4 30.9L390.2 31.4L392.1 31.8L393.9 32.1L395.8 32.5L397.6 32.9L399.4 33.3L401.3 33.7L403.1 34.0L405.0 34.4L406.8 34.7L408.7 35.1L410.5 35.4L412.3 35.7L414.2 36.1L416.0 36.4L417.9 36.7M311.0 -2.9L312.8 -1.7L314.7 -0.6L316.5 0.5L318.4 1.6L320.2 2.6L322.1 3.6L323.9 4.6L325.7 5.5L327.6 6.5L329.4 7.4L331.3 8.3L333.1 9.1L335.0 9.9L336.8 10.8L338.6 11.6L340.5 12.3L342.3 13.1L344.2 13.8L346.0 14.6L347.9 15.3L349.7 16.0L351.5 16.6L353.4 17.3L355.2 17.9L357.1 18.6L358.9 19.2L360.8 19.8L362.6 20.4L364.4 21.0L366.3 21.5L368.1 22.1L370.0 22.6L371.8 23.2L373.6 23.7L375.5 24.2L377.3 24.7L379.2 25.2L381.0 25.7L382.9 26.2L384.7 26.6L386.5 27.1L388.4 27.5L390.2 28.0L392.1 28.4L393.9 28.8L395.8 29.2L397.6 29.6L399.4 30.1L401.3 30.4L403.1 30.8L405.0 31.2L406.8 31.6L408.7 32.0L410.5 32.3L412.3 32.7L414.2 33.0L416.0 33.4L417.9 33.7M320.2 -2.6L322.1 -1.5L323.9 -0.4L325.7 0.6L327.6 1.6L329.4 2.5L331.3 3.5L333.1 4.4L335.0 5.3L336.8 6.2L338.6 7.0L340.5 7.9L342.3 8.7L344.2 9.5L346.0 10.2L347.9 11.0L349.7 11.7L351.5 12.5L353.4 13.2L355.2 13.9L357.1 14.5L358.9 15.2L360.8 15.8L362.6 16.5L364.4 17.1L366.3 17.7L368.1 18.3L370.0 18.9L371.8 19.4L373.6 20.0L375.5 20.6L377.3 21.1L379.2 21.6L381.0 22.1L382.9 22.6L384.7 23.1L386.5 23.6L388.4 24.1L390.2 24.6L392.1 25.0L393.9 25.5L395.8 25.9L397.6 26.4L399.4 26.8L401.3 27.2L403.1 27.7L405.0 28.1L406.8 28.5L408.7 28.9L410.5 29.2L412.3 29.6L414.2 30.0L416.0 30.4L417.9 30.7M327.6 -3.3L329.4 -2.3L331.3 -1.3L333.1 -0.3L335.0 0.7L336.8 1.6L338.6 2.5L340.5 3.4L342.3 4.2L344.2 5.1L346.0 5.9L347.9 6.7L349.7 7.5L351.5 8.3L353.4 9.0L355.2 9.8L357.1 10.5L358.9 11.2L360.8 11.9L362.6 12.5L364.4 13.2L366.3 13.9L368.1 14.5L370.0 15.1L371.8 15.7L373.6 16.3L375.5 16.9L377.3 17.5L379.2 18.0L381.0 18.6L382.9 19.1L384.7 19.7L386.5 20.2L388.4 20.7L390.2 21.2L392.1 21.7L393.9 22.2L395.8 22.6L397.6 23.1L399.4 23.6L401.3 24.0L403.1 24.5L405.0 24.9L406.8 25.3L408.7 25.8L410.5 26.2L412.3 26.6L414.2 27.0L416.0 27.4L417.9 27.8M336.8 -3.0L338.6 -2.0L340.5 -1.1L342.3 -0.2L344.2 0.7L346.0 1.6L347.9 2.4L349.7 3.3L351.5 4.1L353.4 4.9L355.2 5.7L357.1 6.4L358.9 7.2L360.8 7.9L362.6 8.6L364.4 9.3L366.3 10.0L368.1 10.7L370.0 11.4L371.8 12.0L373.6 12.6L375.5 13.3L377.3 13.9L379.2 14.5L381.0 15.0L382.9 15.6L384.7 16.2L386.5 16.7L388.4 17.3L390.2 17.8L392.1 18.3L393.9 18.8L395.8 19.3L397.6 19.8L399.4 20.3L401.3 20.8L403.1 21.3L405.0 21.7L406.8 22.2L408.7 22.6L410.5 23.1L412.3 23.5L414.2 23.9L416.0 24.4L417.9 24.8M346.0 -2.7L347.9 -1.8L349.7 -0.9L351.5 -0.1L353.4 0.8L355.2 1.6L357.1 2.4L358.9 3.2L360.8 4.0L362.6 4.7L364.4 5.5L366.3 6.2L368.1 6.9L370.0 7.6L371.8 8.3L373.6 8.9L375.5 9.6L377.3 10.2L379.2 10.9L381.0 11.5L382.9 12.1L384.7 12.7L386.5 13.3L388.4 13.9L390.2 14.4L392.1 15.0L393.9 15.5L395.8 16.1L397.6 16.6L399.4 17.1L401.3 17.6L403.1 18.1L405.0 18.6L406.8 19.1L408.7 19.5L410.5 20.0L412.3 20.5L414.2 20.9L416.0 21.4L417.9 21.8M355.2 -2.5L357.1 -1.7L358.9 -0.8L360.8 -0.0L362.6 0.8L364.4 1.6L366.3 2.3L368.1 3.1L370.0 3.8L371.8 4.6L373.6 5.3L375.5 6.0L377.3 6.6L379.2 7.3L381.0 7.9L382.9 8.6L384.7 9.2L386.5 9.8L388.4 10.4L390.2 11.0L392.1 11.6L393.9 12.2L395.8 12.8L397.6 13.3L399.4 13.9L401.3 14.4L403.1 14.9L405.0 15.4L406.8 15.9L408.7 16.4L410.5 16.9L412.3 17.4L414.2 17.9L416.0 18.4L417.9 18.8M362.6 -3.1L364.4 -2.3L366.3 -1.5L368.1 -0.7L370.0 0.1L371.8 0.8L373.6 1.6L375.5 2.3L377.3 3.0L379.2 3.7L381.0 4.4L382.9 5.1L384.7 5.7L386.5 6.4L388.4 7.0L390.2 7.7L392.1 8.3L393.9 8.9L395.8 9.5L397.6 10.0L399.4 10.6L401.3 11.2L403.1 11.7L405.0 12.3L406.8 12.8L408.7 13.3L410.5 13.9L412.3 14.4L414.2 14.9L416.0 15.4L417.9 15.8M371.8 -2.9L373.6 -2.1L375.5 -1.3L377.3 -0.6L379.2 0.1L381.0 0.9L382.9 1.6L384.7 2.3L386.5 2.9L388.4 3.6L390.2 4.3L392.1 4.9L393.9 5.5L395.8 6.2L397.6 6.8L399.4 7.4L401.3 8.0L403.1 8.5L405.0 9.1L406.8 9.7L408.7 10.2L410.5 10.8L412.3 11.3L414.2 11.8L416.0 12.3L417.9 12.9M381.0 -2.7L382.9 -1.9L384.7 -1.2L386.5 -0.5L388.4 0.2L390.2 0.9L392.1 1.6L393.9 2.2L395.8 2.9L397.6 3.5L399.4 4.1L401.3 4.8L403.1 5.4L405.0 6.0L406.8 6.5L408.7 7.1L410.5 7.7L412.3 8.3L414.2 8.8L416.0 9.3L417.9 9.9M390.2 -2.5L392.1 -1.8L393.9 -1.1L395.8 -0.4L397.6 0.2L399.4 0.9L401.3 1.5L403.1 2.2L405.0 2.8L406.8 3.4L408.7 4.0L410.5 4.6L412.3 5.2L414.2 5.8L416.0 6.3L417.9 6.9M397.6 -3.0L399.4 -2.3L401.3 -1.7L403.1 -1.0L405.0 -0.4L406.8 0.3L408.7 0.9L410.5 1.5L412.3 2.1L414.2 2.7L416.0 3.3L417.9 3.9M406.8 -2.8L408.7 -2.2L410.5 -1.5L412.3 -0.9L414.2 -0.3L416.0 0.3L417.9 0.9M416.0 -2.7L417.9 -2.1" fill="none" stroke="#000" stroke-width="1.75" stroke-linejoin="round"/>
<rect x="244.9" y="58.4" width="11.1" height="3.1" rx="1.3" fill="#00c800"/>
<rect x="280.1" y="58.4" width="13.8" height="3.1" rx="1.3" fill="#00c800"/>
<rect x="315.3" y="58.4" width="14.9" height="3.1" rx="1.3" fill="#00c800"/>
<rect x="350.5" y="58.4" width="15.7" height="3.1" rx="1.3" fill="#00c800"/>
<rect x="385.7" y="58.4" width="18.1" height="3.1" rx="1.3" fill="#00c800"/>
</g>
<path d="M231.00 11.65h4.5M413.40 11.65h-4.5M231.00 44.27h4.5M413.40 44.27h-4.5M231.00 76.88h4.5M413.40 76.88h-4.5M231.00 109.49h4.5M413.40 109.49h-4.5M253.20 125.80v-4.2M253.20 3.50v4.2M276.23 125.80v-4.2M276.23 3.50v4.2M299.26 125.80v-4.2M299.26 3.50v4.2M322.29 125.80v-4.2M322.29 3.50v4.2M345.32 125.80v-4.2M345.32 3.50v4.2M368.35 125.80v-4.2M368.35 3.50v4.2M391.38 125.80v-4.2M391.38 3.50v4.2" stroke="#000" stroke-width="0.8" fill="none"/>
<rect x="231.00" y="3.50" width="182.40" height="122.30" fill="none" stroke="#000" stroke-width="1.1"/>
<rect x="379.50" y="106.40" width="31.2" height="15.2" fill="#fff" stroke="#000" stroke-width="0.8"/>
<g clip-path="url(#c10)">
<path d="M45.6 163.2h2v2h-2zM48.8 163.2h2v2h-2zM52.0 163.2h2v2h-2zM55.2 163.2h2v2h-2zM58.4 163.2h2v2h-2zM61.6 163.2h2v2h-2zM64.8 163.2h2v2h-2zM68.0 163.2h2v2h-2zM71.2 163.2h2v2h-2zM74.4 163.2h2v2h-2zM77.6 163.2h2v2h-2zM80.8 163.2h2v2h-2zM84.0 163.2h2v2h-2zM87.2 163.2h2v2h-2zM90.4 163.2h2v2h-2zM93.6 163.2h2v2h-2zM96.8 163.2h2v2h-2zM100.0 163.2h2v2h-2zM103.2 163.2h2v2h-2zM106.4 163.2h2v2h-2zM109.6 163.2h2v2h-2zM112.8 163.2h2v2h-2zM116.0 163.2h2v2h-2zM119.2 163.2h2v2h-2zM122.4 163.2h2v2h-2zM125.6 163.2h2v2h-2zM128.8 163.2h2v2h-2zM132.0 163.2h2v2h-2zM135.2 163.2h2v2h-2zM138.4 163.2h2v2h-2zM141.6 163.2h2v2h-2zM144.8 163.2h2v2h-2zM148.0 163.2h2v2h-2zM151.2 163.2h2v2h-2zM154.3 163.2h2v2h-2zM157.5 163.2h2v2h-2zM160.7 163.2h2v2h-2zM163.9 163.2h2v2h-2zM167.1 163.2h2v2h-2zM170.3 163.2h2v2h-2zM173.5 163.2h2v2h-2zM176.7 163.2h2v2h-2zM179.9 163.2h2v2h-2zM183.1 163.2h2v2h-2zM186.3 163.2h2v2h-2zM189.5 163.2h2v2h-2zM192.7 163.2h2v2h-2zM195.9 163.2h2v2h-2zM199.1 163.2h2v2h-2zM202.3 163.2h2v2h-2zM205.5 163.2h2v2h-2zM208.7 163.2h2v2h-2zM211.9 163.2h2v2h-2zM215.1 163.2h2v2h-2zM218.3 163.2h2v2h-2zM221.5 163.2h2v2h-2zM224.7 163.2h2v2h-2zM45.6 212.3h2v2h-2zM48.8 212.4h2v2h-2zM52.0 212.4h2v2h-2zM55.2 212.4h2v2h-2zM58.4 212.4h2v2h-2zM61.6 212.4h2v2h-2zM64.8 212.5h2v2h-2zM68.0 212.5h2v2h-2zM71.2 212.5h2v2h-2zM74.4 212.5h2v2h-2zM77.6 212.5h2v2h-2zM80.8 212.5h2v2h-2zM84.0 212.6h2v2h-2zM87.2 212.6h2v2h-2zM90.4 212.6h2v2h-2zM93.6 212.6h2v2h-2zM96.8 212.6h2v2h-2zM100.0 212.6h2v2h-2zM103.2 212.6h2v2h-2zM106.4 212.7h2v2h-2zM109.6 212.7h2v2h-2zM112.8 212.6h2v2h-2zM116.0 212.5h2v2h-2zM119.2 212.4h2v2h-2zM122.4 212.3h2v2h-2zM125.6 212.2h2v2h-2zM128.8 212.0h2v2h-2zM132.0 211.8h2v2h-2zM135.2 211.7h2v2h-2zM138.4 211.5h2v2h-2zM141.6 211.3h2v2h-2zM144.8 211.1h2v2h-2zM148.0 211.0h2v2h-2zM151.2 210.8h2v2h-2zM154.3 210.6h2v2h-2zM157.5 210.5h2v2h-2zM160.7 210.4h2v2h-2zM163.9 210.2h2v2h-2zM167.1 210.1h2v2h-2zM170.3 210.0h2v2h-2zM173.5 209.9h2v2h-2zM176.7 209.8h2v2h-2zM179.9 209.7h2v2h-2zM183.1 209.6h2v2h-2zM186.3 209.5h2v2h-2zM189.5 209.4h2v2h-2zM192.7 209.3h2v2h-2zM195.9 209.2h2v2h-2zM199.1 209.1h2v2h-2zM202.3 209.0h2v2h-2zM205.5 208.9h2v2h-2zM208.7 208.8h2v2h-2zM211.9 208.7h2v2h-2zM215.1 208.7h2v2h-2zM218.3 208.6h2v2h-2zM221.5 208.5h2v2h-2zM224.7 208.4h2v2h-2zM45.6 222.7h2v2h-2zM48.8 221.6h2v2h-2zM52.0 220.5h2v2h-2zM55.2 219.6h2v2h-2zM58.4 218.7h2v2h-2zM61.6 218.0h2v2h-2zM64.8 217.2h2v2h-2zM68.0 216.6h2v2h-2zM71.2 216.0h2v2h-2zM74.4 215.5h2v2h-2zM77.6 215.0h2v2h-2zM80.8 214.5h2v2h-2zM84.0 214.0h2v2h-2zM87.2 213.6h2v2h-2zM90.4 213.3h2v2h-2zM93.6 212.9h2v2h-2zM45.6 230.3h2v2h-2zM48.8 228.7h2v2h-2zM52.0 227.2h2v2h-2zM55.2 225.9h2v2h-2zM58.4 224.7h2v2h-2zM61.6 223.7h2v2h-2zM64.8 222.7h2v2h-2zM68.0 221.8h2v2h-2zM71.2 221.0h2v2h-2zM74.4 220.2h2v2h-2zM77.6 219.6h2v2h-2zM80.8 218.9h2v2h-2zM84.0 218.3h2v2h-2zM87.2 217.8h2v2h-2zM90.4 217.3h2v2h-2zM93.6 216.8h2v2h-2zM96.8 216.4h2v2h-2zM100.0 216.0h2v2h-2zM103.2 215.6h2v2h-2zM106.4 215.2h2v2h-2zM109.6 214.9h2v2h-2zM112.8 214.5h2v2h-2zM116.0 214.2h2v2h-2zM119.2 213.9h2v2h-2zM122.4 213.6h2v2h-2zM125.6 213.4h2v2h-2zM128.8 213.1h2v2h-2zM132.0 212.9h2v2h-2zM135.2 212.6h2v2h-2zM138.4 212.4h2v2h-2zM141.6 212.2h2v2h-2zM144.8 212.0h2v2h-2zM148.0 211.8h2v2h-2zM151.2 211.6h2v2h-2zM154.3 211.5h2v2h-2zM157.5 211.3h2v2h-2zM160.7 211.1h2v2h-2zM163.9 211.0h2v2h-2zM167.1 210.9h2v2h-2zM170.3 210.7h2v2h-2zM173.5 210.6h2v2h-2zM176.7 210.5h2v2h-2zM179.9 210.4h2v2h-2zM183.1 210.3h2v2h-2zM186.3 210.2h2v2h-2zM189.5 210.1h2v2h-2zM192.7 210.0h2v2h-2zM195.9 209.9h2v2h-2zM199.1 209.8h2v2h-2zM202.3 209.7h2v2h-2zM205.5 209.6h2v2h-2zM208.7 209.5h2v2h-2zM211.9 209.5h2v2h-2zM215.1 209.4h2v2h-2zM218.3 209.3h2v2h-2zM221.5 209.3h2v2h-2zM224.7 209.2h2v2h-2zM45.6 241.1h2v2h-2zM48.8 238.8h2v2h-2zM52.0 236.7h2v2h-2zM55.2 234.9h2v2h-2zM58.4 233.3h2v2h-2zM61.6 231.8h2v2h-2zM64.8 230.4h2v2h-2zM68.0 229.2h2v2h-2zM71.2 228.1h2v2h-2zM74.4 227.1h2v2h-2zM77.6 226.1h2v2h-2zM80.8 225.3h2v2h-2zM84.0 224.5h2v2h-2zM87.2 223.7h2v2h-2zM90.4 223.0h2v2h-2zM93.6 222.4h2v2h-2zM96.8 221.8h2v2h-2zM100.0 221.2h2v2h-2zM103.2 220.7h2v2h-2zM106.4 220.2h2v2h-2zM109.6 219.7h2v2h-2zM112.8 219.3h2v2h-2zM116.0 218.8h2v2h-2zM119.2 218.4h2v2h-2zM122.4 218.0h2v2h-2zM125.6 217.7h2v2h-2zM128.8 217.3h2v2h-2zM132.0 217.0h2v2h-2zM135.2 216.7h2v2h-2zM138.4 216.4h2v2h-2zM141.6 216.1h2v2h-2zM144.8 215.8h2v2h-2zM148.0 215.6h2v2h-2zM151.2 215.3h2v2h-2zM154.3 215.1h2v2h-2zM157.5 214.9h2v2h-2zM160.7 214.7h2v2h-2zM163.9 214.5h2v2h-2zM167.1 214.3h2v2h-2zM170.3 214.1h2v2h-2zM173.5 214.0h2v2h-2zM176.7 213.8h2v2h-2zM179.9 213.6h2v2h-2zM183.1 213.5h2v2h-2zM186.3 213.3h2v2h-2zM189.5 213.2h2v2h-2zM192.7 213.1h2v2h-2zM195.9 213.0h2v2h-2zM199.1 212.8h2v2h-2zM202.3 212.7h2v2h-2zM205.5 212.6h2v2h-2zM208.7 212.5h2v2h-2zM211.9 212.4h2v2h-2zM215.1 212.3h2v2h-2zM218.3 212.2h2v2h-2zM221.5 212.1h2v2h-2zM224.7 212.0h2v2h-2zM45.6 252.2h2v2h-2zM48.8 249.2h2v2h-2zM52.0 246.5h2v2h-2zM55.2 244.1h2v2h-2zM58.4 242.0h2v2h-2zM61.6 240.1h2v2h-2zM64.8 238.4h2v2h-2zM68.0 236.8h2v2h-2zM71.2 235.4h2v2h-2zM74.4 234.0h2v2h-2zM77.6 232.8h2v2h-2zM80.8 231.7h2v2h-2zM84.0 230.7h2v2h-2zM87.2 229.8h2v2h-2zM90.4 228.9h2v2h-2zM93.6 228.1h2v2h-2zM96.8 227.3h2v2h-2zM100.0 226.6h2v2h-2zM103.2 225.9h2v2h-2zM106.4 225.3h2v2h-2zM109.6 224.7h2v2h-2zM112.8 224.1h2v2h-2zM116.0 223.6h2v2h-2zM119.2 223.0h2v2h-2zM122.4 222.6h2v2h-2zM125.6 222.1h2v2h-2zM128.8 221.7h2v2h-2zM132.0 221.2h2v2h-2zM135.2 220.8h2v2h-2zM138.4 220.5h2v2h-2zM141.6 220.1h2v2h-2zM144.8 219.8h2v2h-2zM148.0 219.4h2v2h-2zM151.2 219.1h2v2h-2zM154.3 218.8h2v2h-2zM157.5 218.6h2v2h-2zM160.7 218.3h2v2h-2zM163.9 218.1h2v2h-2zM167.1 217.8h2v2h-2zM170.3 217.6h2v2h-2zM173.5 217.4h2v2h-2zM176.7 217.2h2v2h-2zM179.9 217.0h2v2h-2zM183.1 216.8h2v2h-2zM186.3 216.6h2v2h-2zM189.5 216.4h2v2h-2zM192.7 216.3h2v2h-2zM195.9 216.1h2v2h-2zM199.1 216.0h2v2h-2zM202.3 215.8h2v2h-2zM205.5 215.7h2v2h-2zM208.7 215.5h2v2h-2zM211.9 215.4h2v2h-2zM215.1 215.3h2v2h-2zM218.3 215.1h2v2h-2zM221.5 215.0h2v2h-2zM224.7 214.9h2v2h-2zM55.2 253.4h2v2h-2zM58.4 250.8h2v2h-2zM61.6 248.4h2v2h-2zM64.8 246.3h2v2h-2zM68.0 244.4h2v2h-2zM71.2 242.7h2v2h-2zM74.4 241.1h2v2h-2zM77.6 239.6h2v2h-2zM80.8 238.3h2v2h-2zM84.0 237.0h2v2h-2zM87.2 235.9h2v2h-2zM90.4 234.8h2v2h-2zM93.6 233.8h2v2h-2zM96.8 232.8h2v2h-2zM100.0 232.0h2v2h-2zM103.2 231.2h2v2h-2zM106.4 230.4h2v2h-2zM109.6 229.7h2v2h-2zM112.8 229.0h2v2h-2zM116.0 228.3h2v2h-2zM119.2 227.7h2v2h-2zM122.4 227.1h2v2h-2zM125.6 226.5h2v2h-2zM128.8 226.0h2v2h-2zM132.0 225.5h2v2h-2zM135.2 225.0h2v2h-2zM138.4 224.6h2v2h-2zM141.6 224.1h2v2h-2zM144.8 223.7h2v2h-2zM148.0 223.3h2v2h-2zM151.2 223.0h2v2h-2zM154.3 222.6h2v2h-2zM157.5 222.3h2v2h-2zM160.7 222.0h2v2h-2zM163.9 221.7h2v2h-2zM167.1 221.4h2v2h-2zM170.3 221.1h2v2h-2zM173.5 220.8h2v2h-2zM176.7 220.6h2v2h-2zM179.9 220.4h2v2h-2zM183.1 220.1h2v2h-2zM186.3 219.9h2v2h-2zM189.5 219.7h2v2h-2zM192.7 219.5h2v2h-2zM195.9 219.3h2v2h-2zM199.1 219.1h2v2h-2zM202.3 218.9h2v2h-2zM205.5 218.8h2v2h-2zM208.7 218.6h2v2h-2zM211.9 218.4h2v2h-2zM215.1 218.3h2v2h-2zM218.3 218.1h2v2h-2zM221.5 218.0h2v2h-2zM224.7 217.8h2v2h-2zM68.0 252.1h2v2h-2zM71.2 250.0h2v2h-2zM74.4 248.1h2v2h-2zM77.6 246.4h2v2h-2zM80.8 244.8h2v2h-2zM84.0 243.3h2v2h-2zM87.2 242.0h2v2h-2zM90.4 240.7h2v2h-2zM93.6 239.5h2v2h-2zM96.8 238.4h2v2h-2zM100.0 237.4h2v2h-2zM103.2 236.4h2v2h-2zM106.4 235.5h2v2h-2zM109.6 234.7h2v2h-2zM112.8 233.9h2v2h-2zM116.0 233.1h2v2h-2zM119.2 232.4h2v2h-2zM122.4 231.7h2v2h-2zM125.6 231.0h2v2h-2zM128.8 230.4h2v2h-2zM132.0 229.8h2v2h-2zM135.2 229.2h2v2h-2zM138.4 228.7h2v2h-2zM141.6 228.2h2v2h-2zM144.8 227.7h2v2h-2zM148.0 227.2h2v2h-2zM151.2 226.8h2v2h-2zM154.3 226.4h2v2h-2zM157.5 226.0h2v2h-2zM160.7 225.6h2v2h-2zM163.9 225.3h2v2h-2zM167.1 224.9h2v2h-2zM170.3 224.6h2v2h-2zM173.5 224.3h2v2h-2zM176.7 224.0h2v2h-2zM179.9 223.7h2v2h-2zM183.1 223.5h2v2h-2zM186.3 223.2h2v2h-2zM189.5 222.9h2v2h-2zM192.7 222.7h2v2h-2zM195.9 222.5h2v2h-2zM199.1 222.3h2v2h-2zM202.3 222.0h2v2h-2zM205.5 221.8h2v2h-2zM208.7 221.6h2v2h-2zM211.9 221.5h2v2h-2zM215.1 221.3h2v2h-2zM218.3 221.1h2v2h-2zM221.5 220.9h2v2h-2zM224.7 220.8h2v2h-2zM77.6 253.2h2v2h-2zM80.8 251.4h2v2h-2zM84.0 249.7h2v2h-2zM87.2 248.1h2v2h-2zM90.4 246.6h2v2h-2zM93.6 245.3h2v2h-2zM96.8 244.0h2v2h-2zM100.0 242.8h2v2h-2zM103.2 241.7h2v2h-2zM106.4 240.7h2v2h-2zM109.6 239.7h2v2h-2zM112.8 238.7h2v2h-2zM116.0 237.9h2v2h-2zM119.2 237.0h2v2h-2zM122.4 236.2h2v2h-2zM125.6 235.5h2v2h-2zM128.8 234.7h2v2h-2zM132.0 234.1h2v2h-2zM135.2 233.4h2v2h-2zM138.4 232.8h2v2h-2zM141.6 232.2h2v2h-2zM144.8 231.7h2v2h-2zM148.0 231.1h2v2h-2zM151.2 230.6h2v2h-2zM154.3 230.2h2v2h-2zM157.5 229.7h2v2h-2zM160.7 229.3h2v2h-2zM163.9 228.9h2v2h-2zM167.1 228.5h2v2h-2zM170.3 228.1h2v2h-2zM173.5 227.8h2v2h-2zM176.7 227.4h2v2h-2zM179.9 227.1h2v2h-2zM183.1 226.8h2v2h-2zM186.3 226.5h2v2h-2zM189.5 226.2h2v2h-2zM192.7 225.9h2v2h-2zM195.9 225.7h2v2h-2zM199.1 225.4h2v2h-2zM202.3 225.2h2v2h-2zM205.5 224.9h2v2h-2zM208.7 224.7h2v2h-2zM211.9 224.5h2v2h-2zM215.1 224.3h2v2h-2zM218.3 224.1h2v2h-2zM221.5 223.9h2v2h-2zM224.7 223.7h2v2h-2zM90.4 252.6h2v2h-2zM93.6 251.0h2v2h-2zM96.8 249.6h2v2h-2zM100.0 248.3h2v2h-2zM103.2 247.0h2v2h-2zM106.4 245.8h2v2h-2zM109.6 244.7h2v2h-2zM112.8 243.6h2v2h-2zM116.0 242.6h2v2h-2zM119.2 241.7h2v2h-2zM122.4 240.8h2v2h-2zM125.6 239.9h2v2h-2zM128.8 239.1h2v2h-2zM132.0 238.4h2v2h-2zM135.2 237.6h2v2h-2zM138.4 236.9h2v2h-2zM141.6 236.3h2v2h-2zM144.8 235.6h2v2h-2zM148.0 235.1h2v2h-2zM151.2 234.5h2v2h-2zM154.3 233.9h2v2h-2zM157.5 233.4h2v2h-2zM160.7 233.0h2v2h-2zM163.9 232.5h2v2h-2zM167.1 232.1h2v2h-2zM170.3 231.6h2v2h-2zM173.5 231.2h2v2h-2zM176.7 230.9h2v2h-2zM179.9 230.5h2v2h-2zM183.1 230.1h2v2h-2zM186.3 229.8h2v2h-2zM189.5 229.5h2v2h-2zM192.7 229.2h2v2h-2zM195.9 228.9h2v2h-2zM199.1 228.6h2v2h-2zM202.3 228.3h2v2h-2zM205.5 228.0h2v2h-2zM208.7 227.8h2v2h-2zM211.9 227.5h2v2h-2zM215.1 227.3h2v2h-2zM218.3 227.1h2v2h-2zM221.5 226.8h2v2h-2zM224.7 226.6h2v2h-2zM100.0 253.7h2v2h-2zM103.2 252.3h2v2h-2zM106.4 251.0h2v2h-2zM109.6 249.7h2v2h-2zM112.8 248.5h2v2h-2zM116.0 247.4h2v2h-2zM119.2 246.4h2v2h-2zM122.4 245.4h2v2h-2zM125.6 244.4h2v2h-2zM128.8 243.5h2v2h-2zM132.0 242.6h2v2h-2zM135.2 241.8h2v2h-2zM138.4 241.1h2v2h-2zM141.6 240.3h2v2h-2zM144.8 239.6h2v2h-2zM148.0 239.0h2v2h-2zM151.2 238.3h2v2h-2zM154.3 237.7h2v2h-2zM157.5 237.2h2v2h-2zM160.7 236.6h2v2h-2zM163.9 236.1h2v2h-2zM167.1 235.6h2v2h-2zM170.3 235.2h2v2h-2zM173.5 234.7h2v2h-2zM176.7 234.3h2v2h-2zM179.9 233.9h2v2h-2zM183.1 233.5h2v2h-2zM186.3 233.1h2v2h-2zM189.5 232.7h2v2h-2zM192.7 232.4h2v2h-2zM195.9 232.1h2v2h-2zM199.1 231.7h2v2h-2zM202.3 231.4h2v2h-2zM205.5 231.1h2v2h-2zM208.7 230.8h2v2h-2zM211.9 230.6h2v2h-2zM215.1 230.3h2v2h-2zM218.3 230.0h2v2h-2zM221.5 229.8h2v2h-2zM224.7 229.5h2v2h-2zM112.8 253.4h2v2h-2zM116.0 252.2h2v2h-2zM119.2 251.0h2v2h-2zM122.4 249.9h2v2h-2zM125.6 248.9h2v2h-2zM128.8 247.9h2v2h-2zM132.0 246.9h2v2h-2zM135.2 246.0h2v2h-2zM138.4 245.2h2v2h-2zM141.6 244.4h2v2h-2zM144.8 243.6h2v2h-2zM148.0 242.9h2v2h-2zM151.2 242.2h2v2h-2zM154.3 241.5h2v2h-2zM157.5 240.9h2v2h-2zM160.7 240.3h2v2h-2zM163.9 239.7h2v2h-2zM167.1 239.2h2v2h-2zM170.3 238.7h2v2h-2zM173.5 238.2h2v2h-2zM176.7 237.7h2v2h-2zM179.9 237.3h2v2h-2zM183.1 236.8h2v2h-2zM186.3 236.4h2v2h-2zM189.5 236.0h2v2h-2zM192.7 235.6h2v2h-2zM202.3 234.6h2v2h-2zM205.5 234.2h2v2h-2zM208.7 233.9h2v2h-2zM211.9 233.6h2v2h-2zM215.1 233.3h2v2h-2zM218.3 233.0h2v2h-2zM221.5 232.8h2v2h-2zM224.7 232.5h2v2h-2zM125.6 253.4h2v2h-2zM128.8 252.3h2v2h-2zM132.0 251.2h2v2h-2zM135.2 250.2h2v2h-2zM138.4 249.3h2v2h-2zM141.6 248.4h2v2h-2zM144.8 247.6h2v2h-2zM148.0 246.8h2v2h-2zM151.2 246.0h2v2h-2zM154.3 245.3h2v2h-2zM157.5 244.6h2v2h-2zM160.7 244.0h2v2h-2zM163.9 243.3h2v2h-2zM167.1 242.8h2v2h-2zM170.3 242.2h2v2h-2zM173.5 241.7h2v2h-2zM176.7 241.1h2v2h-2zM179.9 240.6h2v2h-2zM183.1 240.2h2v2h-2zM186.3 239.7h2v2h-2zM189.5 239.3h2v2h-2zM192.7 238.9h2v2h-2zM224.7 235.4h2v2h-2zM138.4 253.4h2v2h-2zM141.6 252.5h2v2h-2zM144.8 251.6h2v2h-2zM148.0 250.7h2v2h-2zM151.2 249.9h2v2h-2zM154.3 249.1h2v2h-2zM157.5 248.3h2v2h-2zM160.7 247.6h2v2h-2zM163.9 247.0h2v2h-2zM167.1 246.3h2v2h-2zM170.3 245.7h2v2h-2zM173.5 245.1h2v2h-2zM176.7 244.6h2v2h-2zM179.9 244.0h2v2h-2zM183.1 243.5h2v2h-2zM186.3 243.0h2v2h-2zM189.5 242.5h2v2h-2zM192.7 242.1h2v2h-2zM224.7 238.4h2v2h-2zM151.2 253.7h2v2h-2zM154.3 252.9h2v2h-2zM157.5 252.1h2v2h-2zM160.7 251.3h2v2h-2zM163.9 250.6h2v2h-2zM167.1 249.9h2v2h-2zM170.3 249.2h2v2h-2zM173.5 248.6h2v2h-2zM176.7 248.0h2v2h-2zM179.9 247.4h2v2h-2zM183.1 246.9h2v2h-2zM186.3 246.3h2v2h-2zM189.5 245.8h2v2h-2zM192.7 245.3h2v2h-2zM224.7 241.3h2v2h-2zM167.1 253.5h2v2h-2zM170.3 252.7h2v2h-2zM173.5 252.1h2v2h-2zM176.7 251.4h2v2h-2zM179.9 250.8h2v2h-2zM183.1 250.2h2v2h-2zM186.3 249.6h2v2h-2zM189.5 249.1h2v2h-2zM192.7 248.6h2v2h-2zM195.9 248.1h2v2h-2zM224.7 244.2h2v2h-2zM183.1 253.6h2v2h-2zM186.3 252.9h2v2h-2zM189.5 252.4h2v2h-2zM192.7 251.8h2v2h-2zM195.9 251.2h2v2h-2zM199.1 250.7h2v2h-2zM202.3 250.2h2v2h-2zM205.5 249.7h2v2h-2zM208.7 249.3h2v2h-2zM211.9 248.8h2v2h-2zM215.1 248.4h2v2h-2zM218.3 248.0h2v2h-2zM224.7 247.2h2v2h-2zM202.3 253.4h2v2h-2zM205.5 252.8h2v2h-2zM208.7 252.3h2v2h-2zM211.9 251.9h2v2h-2zM215.1 251.4h2v2h-2zM218.3 251.0h2v2h-2zM221.5 250.5h2v2h-2zM224.7 250.1h2v2h-2zM221.5 253.5h2v2h-2zM224.7 253.0h2v2h-2z" fill="#cc2000"/>
<path d="M43.3 173.1L45.2 174.7L47.0 176.1L48.9 177.3L50.7 178.5L52.6 179.6L54.4 180.5L56.2 181.5L58.1 182.3L59.9 183.1L61.8 183.8L63.6 184.5L65.4 185.1L67.3 185.7L69.1 186.3L71.0 186.8L72.8 187.3L74.7 187.8L76.5 188.2L78.3 188.6L80.2 189.0L82.0 189.4L83.9 189.8L85.7 190.1L87.6 190.4L89.4 190.7L91.2 191.0L93.1 191.3L94.9 191.6L96.8 191.8L98.6 192.1L100.5 192.3L102.3 192.5L104.1 192.8L106.0 193.0L107.8 193.2L109.7 193.4L111.5 193.5L113.4 193.7L115.2 193.9L117.0 194.1L118.9 194.2L120.7 194.4L122.6 194.5L124.4 194.7L126.2 194.8L128.1 195.0L129.9 195.1L131.8 195.2L133.6 195.3L135.5 195.5L137.3 195.6L139.1 195.7L141.0 195.8L142.8 195.9L144.7 196.0L146.5 196.1L148.4 196.2L150.2 196.3L152.0 196.4L153.9 196.5L155.7 196.6L157.6 196.7L159.4 196.7L161.3 196.8L163.1 196.9L164.9 197.0L166.8 197.1L168.6 197.1L170.5 197.2L172.3 197.3L174.2 197.4L176.0 197.4L177.8 197.5L179.7 197.5L181.5 197.6L183.4 197.7L185.2 197.7L187.0 197.8L188.9 197.9L190.7 197.9L192.6 198.0L194.4 198.0L196.3 198.1L198.1 198.1L199.9 198.2L201.8 198.2L203.6 198.3L205.5 198.3L207.3 198.4L209.2 198.4L211.0 198.5L212.8 198.5L214.7 198.6L216.5 198.6L218.4 198.6L220.2 198.7L222.1 198.7L223.9 198.8L225.7 198.8L227.6 198.8L229.4 198.9L231.3 198.9M43.3 156.4L45.2 158.6L47.0 160.7L48.9 162.5L50.7 164.3L52.6 165.9L54.4 167.3L56.2 168.7L58.1 169.9L59.9 171.1L61.8 172.2L63.6 173.2L65.4 174.2L67.3 175.1L69.1 176.0L71.0 176.8L72.8 177.5L74.7 178.2L76.5 178.9L78.3 179.5L80.2 180.2L82.0 180.7L83.9 181.3L85.7 181.8L87.6 182.3L89.4 182.8L91.2 183.3L93.1 183.7L94.9 184.1L96.8 184.5L98.6 184.9L100.5 185.3L102.3 185.6L104.1 186.0L106.0 186.3L107.8 186.6L109.7 186.9L111.5 187.2L113.4 187.5L115.2 187.8L117.0 188.0L118.9 188.3L120.7 188.5L122.6 188.8L124.4 189.0L126.2 189.2L128.1 189.5L129.9 189.7L131.8 189.9L133.6 190.1L135.5 190.3L137.3 190.5L139.1 190.6L141.0 190.8L142.8 191.0L144.7 191.2L146.5 191.3L148.4 191.5L150.2 191.6L152.0 191.8L153.9 191.9L155.7 192.1L157.6 192.2L159.4 192.4L161.3 192.5L163.1 192.6L164.9 192.7L166.8 192.9L168.6 193.0L170.5 193.1L172.3 193.2L174.2 193.3L176.0 193.4L177.8 193.6L179.7 193.7L181.5 193.8L183.4 193.9L185.2 194.0L187.0 194.1L188.9 194.2L190.7 194.2L192.6 194.3L194.4 194.4L196.3 194.5L198.1 194.6L199.9 194.7L201.8 194.8L203.6 194.8L205.5 194.9L207.3 195.0L209.2 195.1L211.0 195.2L212.8 195.2L214.7 195.3L216.5 195.4L218.4 195.4L220.2 195.5L222.1 195.6L223.9 195.6L225.7 195.7L227.6 195.8L229.4 195.8L231.3 195.9M43.3 139.6L45.2 142.6L47.0 145.3L48.9 147.8L50.7 150.0L52.6 152.1L54.4 154.1L56.2 155.9L58.1 157.6L59.9 159.1L61.8 160.6L63.6 162.0L65.4 163.3L67.3 164.5L69.1 165.6L71.0 166.7L72.8 167.7L74.7 168.7L76.5 169.6L78.3 170.5L80.2 171.3L82.0 172.1L83.9 172.8L85.7 173.5L87.6 174.2L89.4 174.9L91.2 175.5L93.1 176.1L94.9 176.7L96.8 177.2L98.6 177.7L100.5 178.2L102.3 178.7L104.1 179.2L106.0 179.6L107.8 180.1L109.7 180.5L111.5 180.9L113.4 181.3L115.2 181.7L117.0 182.0L118.9 182.4L120.7 182.7L122.6 183.0L124.4 183.4L126.2 183.7L128.1 184.0L129.9 184.3L131.8 184.5L133.6 184.8L135.5 185.1L137.3 185.3L139.1 185.6L141.0 185.8L142.8 186.1L144.7 186.3L146.5 186.5L148.4 186.8L150.2 187.0L152.0 187.2L153.9 187.4L155.7 187.6L157.6 187.8L159.4 188.0L161.3 188.1L163.1 188.3L164.9 188.5L166.8 188.7L168.6 188.8L170.5 189.0L172.3 189.2L174.2 189.3L176.0 189.5L177.8 189.6L179.7 189.8L181.5 189.9L183.4 190.1L185.2 190.2L187.0 190.3L188.9 190.5L190.7 190.6L192.6 190.7L194.4 190.8L196.3 191.0L198.1 191.1L199.9 191.2L201.8 191.3L203.6 191.4L205.5 191.5L207.3 191.6L209.2 191.7L211.0 191.9L212.8 192.0L214.7 192.1L216.5 192.2L218.4 192.3L220.2 192.3L222.1 192.4L223.9 192.5L225.7 192.6L227.6 192.7L229.4 192.8L231.3 192.9M43.3 122.9L45.2 126.6L47.0 129.9L48.9 133.0L50.7 135.8L52.6 138.4L54.4 140.9L56.2 143.1L58.1 145.2L59.9 147.2L61.8 149.0L63.6 150.7L65.4 152.4L67.3 153.9L69.1 155.3L71.0 156.7L72.8 157.9L74.7 159.2L76.5 160.3L78.3 161.4L80.2 162.4L82.0 163.4L83.9 164.4L85.7 165.3L87.6 166.1L89.4 166.9L91.2 167.7L93.1 168.5L94.9 169.2L96.8 169.9L98.6 170.6L100.5 171.2L102.3 171.8L104.1 172.4L106.0 173.0L107.8 173.5L109.7 174.1L111.5 174.6L113.4 175.1L115.2 175.5L117.0 176.0L118.9 176.5L120.7 176.9L122.6 177.3L124.4 177.7L126.2 178.1L128.1 178.5L129.9 178.9L131.8 179.2L133.6 179.6L135.5 179.9L137.3 180.2L139.1 180.6L141.0 180.9L142.8 181.2L144.7 181.5L146.5 181.7L148.4 182.0L150.2 182.3L152.0 182.6L153.9 182.8L155.7 183.1L157.6 183.3L159.4 183.6L161.3 183.8L163.1 184.0L164.9 184.3L166.8 184.5L168.6 184.7L170.5 184.9L172.3 185.1L174.2 185.3L176.0 185.5L177.8 185.7L179.7 185.9L181.5 186.1L183.4 186.2L185.2 186.4L187.0 186.6L188.9 186.8L190.7 186.9L192.6 187.1L194.4 187.2L196.3 187.4L198.1 187.6L199.9 187.7L201.8 187.8L203.6 188.0L205.5 188.1L207.3 188.3L209.2 188.4L211.0 188.5L212.8 188.7L214.7 188.8L216.5 188.9L218.4 189.1L220.2 189.2L222.1 189.3L223.9 189.4L225.7 189.5L227.6 189.6L229.4 189.8L231.3 189.9M52.6 124.7L54.4 127.6L56.2 130.3L58.1 132.9L59.9 135.2L61.8 137.4L63.6 139.5L65.4 141.4L67.3 143.3L69.1 145.0L71.0 146.6L72.8 148.2L74.7 149.6L76.5 151.0L78.3 152.3L80.2 153.6L82.0 154.8L83.9 155.9L85.7 157.0L87.6 158.0L89.4 159.0L91.2 160.0L93.1 160.9L94.9 161.8L96.8 162.6L98.6 163.4L100.5 164.2L102.3 164.9L104.1 165.6L106.0 166.3L107.8 167.0L109.7 167.6L111.5 168.3L113.4 168.9L115.2 169.4L117.0 170.0L118.9 170.5L120.7 171.1L122.6 171.6L124.4 172.1L126.2 172.5L128.1 173.0L129.9 173.4L131.8 173.9L133.6 174.3L135.5 174.7L137.3 175.1L139.1 175.5L141.0 175.9L142.8 176.3L144.7 176.6L146.5 177.0L148.4 177.3L150.2 177.6L152.0 178.0L153.9 178.3L155.7 178.6L157.6 178.9L159.4 179.2L161.3 179.5L163.1 179.7L164.9 180.0L166.8 180.3L168.6 180.5L170.5 180.8L172.3 181.0L174.2 181.3L176.0 181.5L177.8 181.8L179.7 182.0L181.5 182.2L183.4 182.4L185.2 182.6L187.0 182.9L188.9 183.1L190.7 183.3L192.6 183.5L194.4 183.6L196.3 183.8L198.1 184.0L199.9 184.2L201.8 184.4L203.6 184.6L205.5 184.7L207.3 184.9L209.2 185.1L211.0 185.2L212.8 185.4L214.7 185.6L216.5 185.7L218.4 185.9L220.2 186.0L222.1 186.2L223.9 186.3L225.7 186.4L227.6 186.6L229.4 186.7L231.3 186.9M59.9 123.3L61.8 125.8L63.6 128.2L65.4 130.5L67.3 132.6L69.1 134.7L71.0 136.6L72.8 138.4L74.7 140.1L76.5 141.7L78.3 143.2L80.2 144.7L82.0 146.1L83.9 147.4L85.7 148.7L87.6 149.9L89.4 151.1L91.2 152.2L93.1 153.3L94.9 154.3L96.8 155.3L98.6 156.2L100.5 157.1L102.3 158.0L104.1 158.9L106.0 159.7L107.8 160.4L109.7 161.2L111.5 161.9L113.4 162.6L115.2 163.3L117.0 164.0L118.9 164.6L120.7 165.2L122.6 165.8L124.4 166.4L126.2 167.0L128.1 167.5L129.9 168.0L131.8 168.6L133.6 169.1L135.5 169.5L137.3 170.0L139.1 170.5L141.0 170.9L142.8 171.3L144.7 171.8L146.5 172.2L148.4 172.6L150.2 173.0L152.0 173.3L153.9 173.7L155.7 174.1L157.6 174.4L159.4 174.8L161.3 175.1L163.1 175.4L164.9 175.8L166.8 176.1L168.6 176.4L170.5 176.7L172.3 177.0L174.2 177.3L176.0 177.5L177.8 177.8L179.7 178.1L181.5 178.4L183.4 178.6L185.2 178.9L187.0 179.1L188.9 179.4L190.7 179.6L192.6 179.8L194.4 180.1L196.3 180.3L198.1 180.5L199.9 180.7L201.8 180.9L203.6 181.1L205.5 181.3L207.3 181.5L209.2 181.7L211.0 181.9L212.8 182.1L214.7 182.3L216.5 182.5L218.4 182.7L220.2 182.8L222.1 183.0L223.9 183.2L225.7 183.4L227.6 183.5L229.4 183.7L231.3 183.8M69.1 124.3L71.0 126.5L72.8 128.6L74.7 130.5L76.5 132.4L78.3 134.2L80.2 135.9L82.0 137.5L83.9 139.0L85.7 140.4L87.6 141.8L89.4 143.2L91.2 144.4L93.1 145.7L94.9 146.8L96.8 148.0L98.6 149.1L100.5 150.1L102.3 151.1L104.1 152.1L106.0 153.0L107.8 153.9L109.7 154.8L111.5 155.6L113.4 156.4L115.2 157.2L117.0 158.0L118.9 158.7L120.7 159.4L122.6 160.1L124.4 160.8L126.2 161.4L128.1 162.0L129.9 162.6L131.8 163.2L133.6 163.8L135.5 164.4L137.3 164.9L139.1 165.4L141.0 165.9L142.8 166.4L144.7 166.9L146.5 167.4L148.4 167.9L150.2 168.3L152.0 168.7L153.9 169.2L155.7 169.6L157.6 170.0L159.4 170.4L161.3 170.8L163.1 171.2L164.9 171.5L166.8 171.9L168.6 172.2L170.5 172.6L172.3 172.9L174.2 173.3L176.0 173.6L177.8 173.9L179.7 174.2L181.5 174.5L183.4 174.8L185.2 175.1L187.0 175.4L188.9 175.7L190.7 175.9L192.6 176.2L194.4 176.5L196.3 176.7L198.1 177.0L199.9 177.2L201.8 177.5L203.6 177.7L205.5 177.9L207.3 178.2L209.2 178.4L211.0 178.6L212.8 178.8L214.7 179.1L216.5 179.3L218.4 179.5L220.2 179.7L222.1 179.9L223.9 180.1L225.7 180.3L227.6 180.5L229.4 180.6L231.3 180.8M78.3 125.1L80.2 127.0L82.0 128.8L83.9 130.5L85.7 132.2L87.6 133.7L89.4 135.2L91.2 136.7L93.1 138.1L94.9 139.4L96.8 140.7L98.6 141.9L100.5 143.1L102.3 144.2L104.1 145.3L106.0 146.3L107.8 147.4L109.7 148.3L111.5 149.3L113.4 150.2L115.2 151.1L117.0 151.9L118.9 152.8L120.7 153.6L122.6 154.3L124.4 155.1L126.2 155.8L128.1 156.5L129.9 157.2L131.8 157.9L133.6 158.5L135.5 159.2L137.3 159.8L139.1 160.4L141.0 161.0L142.8 161.5L144.7 162.1L146.5 162.6L148.4 163.1L150.2 163.6L152.0 164.1L153.9 164.6L155.7 165.1L157.6 165.5L159.4 166.0L161.3 166.4L163.1 166.9L164.9 167.3L166.8 167.7L168.6 168.1L170.5 168.5L172.3 168.9L174.2 169.2L176.0 169.6L177.8 170.0L179.7 170.3L181.5 170.7L183.4 171.0L185.2 171.3L187.0 171.6L188.9 172.0L190.7 172.3L192.6 172.6L194.4 172.9L196.3 173.2L198.1 173.5L199.9 173.7L201.8 174.0L203.6 174.3L205.5 174.5L207.3 174.8L209.2 175.1L211.0 175.3L212.8 175.6L214.7 175.8L216.5 176.0L218.4 176.3L220.2 176.5L222.1 176.7L223.9 177.0L225.7 177.2L227.6 177.4L229.4 177.6L231.3 177.8M85.7 123.9L87.6 125.6L89.4 127.3L91.2 128.9L93.1 130.5L94.9 131.9L96.8 133.4L98.6 134.7L100.5 136.0L102.3 137.3L104.1 138.5L106.0 139.7L107.8 140.8L109.7 141.9L111.5 143.0L113.4 144.0L115.2 145.0L117.0 145.9L118.9 146.8L120.7 147.7L122.6 148.6L124.4 149.4L126.2 150.3L128.1 151.0L129.9 151.8L131.8 152.6L133.6 153.3L135.5 154.0L137.3 154.7L139.1 155.3L141.0 156.0L142.8 156.6L144.7 157.2L146.5 157.8L148.4 158.4L150.2 159.0L152.0 159.5L153.9 160.1L155.7 160.6L157.6 161.1L159.4 161.6L161.3 162.1L163.1 162.6L164.9 163.0L166.8 163.5L168.6 163.9L170.5 164.4L172.3 164.8L174.2 165.2L176.0 165.6L177.8 166.0L179.7 166.4L181.5 166.8L183.4 167.2L185.2 167.5L187.0 167.9L188.9 168.3L190.7 168.6L192.6 168.9L194.4 169.3L196.3 169.6L198.1 169.9L199.9 170.2L201.8 170.5L203.6 170.9L205.5 171.1L207.3 171.4L209.2 171.7L211.0 172.0L212.8 172.3L214.7 172.6L216.5 172.8L218.4 173.1L220.2 173.3L222.1 173.6L223.9 173.8L225.7 174.1L227.6 174.3L229.4 174.6L231.3 174.8M94.9 124.5L96.8 126.1L98.6 127.6L100.5 129.0L102.3 130.4L104.1 131.7L106.0 133.0L107.8 134.3L109.7 135.5L111.5 136.6L113.4 137.8L115.2 138.9L117.0 139.9L118.9 140.9L120.7 141.9L122.6 142.9L124.4 143.8L126.2 144.7L128.1 145.6L129.9 146.4L131.8 147.2L133.6 148.0L135.5 148.8L137.3 149.6L139.1 150.3L141.0 151.0L142.8 151.7L144.7 152.4L146.5 153.0L148.4 153.7L150.2 154.3L152.0 154.9L153.9 155.5L155.7 156.1L157.6 156.7L159.4 157.2L161.3 157.7L163.1 158.3L164.9 158.8L166.8 159.3L168.6 159.8L170.5 160.3L172.3 160.7L174.2 161.2L176.0 161.7L177.8 162.1L179.7 162.5L181.5 163.0L183.4 163.4L185.2 163.8L187.0 164.2L188.9 164.6L190.7 164.9L192.6 165.3L194.4 165.7L196.3 166.0L198.1 166.4L199.9 166.7L201.8 167.1L203.6 167.4L205.5 167.8L207.3 168.1L209.2 168.4L211.0 168.7L212.8 169.0L214.7 169.3L216.5 169.6L218.4 169.9L220.2 170.2L222.1 170.5L223.9 170.7L225.7 171.0L227.6 171.3L229.4 171.5L231.3 171.8M104.1 125.0L106.0 126.4L107.8 127.7L109.7 129.1L111.5 130.3L113.4 131.6L115.2 132.7L117.0 133.9L118.9 135.0L120.7 136.1L122.6 137.1L124.4 138.1L126.2 139.1L128.1 140.1L129.9 141.0L131.8 141.9L133.6 142.8L135.5 143.6L137.3 144.4L139.1 145.2L141.0 146.0L142.8 146.8L144.7 147.5L146.5 148.2L148.4 148.9L150.2 149.6L152.0 150.3L153.9 150.9L155.7 151.6L157.6 152.2L159.4 152.8L161.3 153.4L163.1 154.0L164.9 154.5L166.8 155.1L168.6 155.6L170.5 156.2L172.3 156.7L174.2 157.2L176.0 157.7L177.8 158.2L179.7 158.6L181.5 159.1L183.4 159.6L185.2 160.0L187.0 160.4L188.9 160.9L190.7 161.3L192.6 161.7L194.4 162.1L196.3 162.5L198.1 162.9L199.9 163.3L201.8 163.6L203.6 164.0L205.5 164.4L207.3 164.7L209.2 165.1L211.0 165.4L212.8 165.7L214.7 166.1L216.5 166.4L218.4 166.7L220.2 167.0L222.1 167.3L223.9 167.6L225.7 167.9L227.6 168.2L229.4 168.5L231.3 168.8M113.4 125.3L115.2 126.6L117.0 127.9L118.9 129.1L120.7 130.2L122.6 131.4L124.4 132.5L126.2 133.5L128.1 134.6L129.9 135.6L131.8 136.6L133.6 137.5L135.5 138.4L137.3 139.3L139.1 140.2L141.0 141.0L142.8 141.9L144.7 142.7L146.5 143.5L148.4 144.2L150.2 145.0L152.0 145.7L153.9 146.4L155.7 147.1L157.6 147.8L159.4 148.4L161.3 149.1L163.1 149.7L164.9 150.3L166.8 150.9L168.6 151.5L170.5 152.1L172.3 152.6L174.2 153.2L176.0 153.7L177.8 154.2L179.7 154.7L181.5 155.2L183.4 155.7L185.2 156.2L187.0 156.7L188.9 157.2L190.7 157.6L192.6 158.1L194.4 158.5L196.3 158.9L198.1 159.4L199.9 159.8L201.8 160.2L203.6 160.6L205.5 161.0L207.3 161.3L209.2 161.7L211.0 162.1L212.8 162.5L214.7 162.8L216.5 163.2L218.4 163.5L220.2 163.8L222.1 164.2L223.9 164.5L225.7 164.8L227.6 165.1L229.4 165.5L231.3 165.8M120.7 124.4L122.6 125.6L124.4 126.8L126.2 128.0L128.1 129.1L129.9 130.2L131.8 131.2L133.6 132.2L135.5 133.2L137.3 134.2L139.1 135.1L141.0 136.1L142.8 137.0L144.7 137.8L146.5 138.7L148.4 139.5L150.2 140.3L152.0 141.1L153.9 141.8L155.7 142.6L157.6 143.3L159.4 144.0L161.3 144.7L163.1 145.4L164.9 146.1L166.8 146.7L168.6 147.3L170.5 148.0L172.3 148.6L174.2 149.2L176.0 149.7L177.8 150.3L179.7 150.9L181.5 151.4L183.4 151.9L185.2 152.5L187.0 153.0L188.9 153.5L190.7 154.0L192.6 154.4L194.4 154.9L196.3 155.4L198.1 155.8L199.9 156.3L201.8 156.7L203.6 157.1L205.5 157.6L207.3 158.0L209.2 158.4L211.0 158.8L212.8 159.2L214.7 159.6L216.5 159.9L218.4 160.3L220.2 160.7L222.1 161.0L223.9 161.4L225.7 161.7L227.6 162.1L229.4 162.4L231.3 162.7M129.9 124.8L131.8 125.9L133.6 127.0L135.5 128.1L137.3 129.1L139.1 130.1L141.0 131.1L142.8 132.0L144.7 133.0L146.5 133.9L148.4 134.8L150.2 135.6L152.0 136.5L153.9 137.3L155.7 138.1L157.6 138.9L159.4 139.6L161.3 140.4L163.1 141.1L164.9 141.8L166.8 142.5L168.6 143.2L170.5 143.8L172.3 144.5L174.2 145.1L176.0 145.8L177.8 146.4L179.7 147.0L181.5 147.5L183.4 148.1L185.2 148.7L187.0 149.2L188.9 149.8L190.7 150.3L192.6 150.8L194.4 151.3L196.3 151.8L198.1 152.3L199.9 152.8L201.8 153.3L203.6 153.7L205.5 154.2L207.3 154.6L209.2 155.0L211.0 155.5L212.8 155.9L214.7 156.3L216.5 156.7L218.4 157.1L220.2 157.5L222.1 157.9L223.9 158.3L225.7 158.6L227.6 159.0L229.4 159.4L231.3 159.7M139.1 125.1L141.0 126.1L142.8 127.1L144.7 128.1L146.5 129.1L148.4 130.0L150.2 131.0L152.0 131.9L153.9 132.7L155.7 133.6L157.6 134.4L159.4 135.2L161.3 136.0L163.1 136.8L164.9 137.6L166.8 138.3L168.6 139.0L170.5 139.7L172.3 140.4L174.2 141.1L176.0 141.8L177.8 142.4L179.7 143.1L181.5 143.7L183.4 144.3L185.2 144.9L187.0 145.5L188.9 146.1L190.7 146.6L192.6 147.2L194.4 147.7L196.3 148.3L198.1 148.8L199.9 149.3L201.8 149.8L203.6 150.3L205.5 150.8L207.3 151.2L209.2 151.7L211.0 152.2L212.8 152.6L214.7 153.1L216.5 153.5L218.4 153.9L220.2 154.3L222.1 154.8L223.9 155.2L225.7 155.6L227.6 156.0L229.4 156.3L231.3 156.7M148.4 125.3L150.2 126.3L152.0 127.2L153.9 128.2L155.7 129.1L157.6 130.0L159.4 130.8L161.3 131.7L163.1 132.5L164.9 133.3L166.8 134.1L168.6 134.9L170.5 135.6L172.3 136.4L174.2 137.1L176.0 137.8L177.8 138.5L179.7 139.2L181.5 139.8L183.4 140.5L185.2 141.1L187.0 141.8L188.9 142.4L190.7 143.0L192.6 143.6L194.4 144.1L196.3 144.7L198.1 145.3L199.9 145.8L201.8 146.3L203.6 146.9L205.5 147.4L207.3 147.9L209.2 148.4L211.0 148.9L212.8 149.3L214.7 149.8L216.5 150.3L218.4 150.7L220.2 151.2L222.1 151.6L223.9 152.0L225.7 152.5L227.6 152.9L229.4 153.3L231.3 153.7M157.6 125.5L159.4 126.4L161.3 127.3L163.1 128.2L164.9 129.1L166.8 129.9L168.6 130.7L170.5 131.5L172.3 132.3L174.2 133.1L176.0 133.8L177.8 134.6L179.7 135.3L181.5 136.0L183.4 136.7L185.2 137.4L187.0 138.0L188.9 138.7L190.7 139.3L192.6 139.9L194.4 140.5L196.3 141.1L198.1 141.7L199.9 142.3L201.8 142.9L203.6 143.4L205.5 144.0L207.3 144.5L209.2 145.0L211.0 145.6L212.8 146.1L214.7 146.6L216.5 147.1L218.4 147.5L220.2 148.0L222.1 148.5L223.9 148.9L225.7 149.4L227.6 149.8L229.4 150.3L231.3 150.7M164.9 124.8L166.8 125.7L168.6 126.6L170.5 127.4L172.3 128.3L174.2 129.1L176.0 129.9L177.8 130.6L179.7 131.4L181.5 132.1L183.4 132.9L185.2 133.6L187.0 134.3L188.9 135.0L190.7 135.6L192.6 136.3L194.4 136.9L196.3 137.6L198.1 138.2L199.9 138.8L201.8 139.4L203.6 140.0L205.5 140.6L207.3 141.1L209.2 141.7L211.0 142.2L212.8 142.8L214.7 143.3L216.5 143.8L218.4 144.3L220.2 144.8L222.1 145.3L223.9 145.8L225.7 146.3L227.6 146.8L229.4 147.2L231.3 147.7M174.2 125.1L176.0 125.9L177.8 126.7L179.7 127.5L181.5 128.3L183.4 129.1L185.2 129.8L187.0 130.5L188.9 131.3L190.7 132.0L192.6 132.7L194.4 133.4L196.3 134.0L198.1 134.7L199.9 135.3L201.8 136.0L203.6 136.6L205.5 137.2L207.3 137.8L209.2 138.4L211.0 138.9L212.8 139.5L214.7 140.1L216.5 140.6L218.4 141.1L220.2 141.7L222.1 142.2L223.9 142.7L225.7 143.2L227.6 143.7L229.4 144.2L231.3 144.7M183.4 125.2L185.2 126.0L187.0 126.8L188.9 127.6L190.7 128.3L192.6 129.0L194.4 129.8L196.3 130.5L198.1 131.2L199.9 131.8L201.8 132.5L203.6 133.1L205.5 133.8L207.3 134.4L209.2 135.0L211.0 135.6L212.8 136.2L214.7 136.8L216.5 137.4L218.4 138.0L220.2 138.5L222.1 139.1L223.9 139.6L225.7 140.1L227.6 140.6L229.4 141.1L231.3 141.7M192.6 125.4L194.4 126.2L196.3 126.9L198.1 127.6L199.9 128.3L201.8 129.0L203.6 129.7L205.5 130.4L207.3 131.0L209.2 131.7L211.0 132.3L212.8 133.0L214.7 133.6L216.5 134.2L218.4 134.8L220.2 135.3L222.1 135.9L223.9 136.5L225.7 137.0L227.6 137.6L229.4 138.1L231.3 138.6M199.9 124.8L201.8 125.6L203.6 126.3L205.5 127.0L207.3 127.7L209.2 128.4L211.0 129.0L212.8 129.7L214.7 130.3L216.5 130.9L218.4 131.6L220.2 132.2L222.1 132.8L223.9 133.4L225.7 133.9L227.6 134.5L229.4 135.1L231.3 135.6M209.2 125.0L211.0 125.7L212.8 126.4L214.7 127.1L216.5 127.7L218.4 128.4L220.2 129.0L222.1 129.6L223.9 130.2L225.7 130.9L227.6 131.4L229.4 132.0L231.3 132.6M218.4 125.2L220.2 125.8L222.1 126.5L223.9 127.1L225.7 127.8L227.6 128.4L229.4 129.0L231.3 129.6M227.6 125.3L229.4 126.0L231.3 126.6" fill="none" stroke="#000" stroke-width="1.75" stroke-linejoin="round"/>
<rect x="49.9" y="162.8" width="4.6" height="2.9" rx="1.3" fill="#00c800"/>
<rect x="65.0" y="162.8" width="4.8" height="2.9" rx="1.3" fill="#00c800"/>
<rect x="80.0" y="162.8" width="4.9" height="2.9" rx="1.3" fill="#00c800"/>
<rect x="95.1" y="162.8" width="5.1" height="2.9" rx="1.3" fill="#00c800"/>
<rect x="110.1" y="162.8" width="5.3" height="2.9" rx="1.3" fill="#00c800"/>
<rect x="125.2" y="162.8" width="5.5" height="2.9" rx="1.3" fill="#00c800"/>
<rect x="140.2" y="162.8" width="5.6" height="2.9" rx="1.3" fill="#00c800"/>
<rect x="155.3" y="162.8" width="5.8" height="2.9" rx="1.3" fill="#00c800"/>
<rect x="170.3" y="162.8" width="6.0" height="2.9" rx="1.3" fill="#00c800"/>
<rect x="185.4" y="162.8" width="6.2" height="2.9" rx="1.3" fill="#00c800"/>
<rect x="200.4" y="162.8" width="6.3" height="2.9" rx="1.3" fill="#00c800"/>
<rect x="215.5" y="162.8" width="6.5" height="2.9" rx="1.3" fill="#00c800"/>
</g>
<path d="M44.40 139.70h4.5M226.80 139.70h-4.5M44.40 172.32h4.5M226.80 172.32h-4.5M44.40 204.93h4.5M226.80 204.93h-4.5M44.40 237.54h4.5M226.80 237.54h-4.5M66.60 253.85v-4.2M66.60 131.55v4.2M89.63 253.85v-4.2M89.63 131.55v4.2M112.66 253.85v-4.2M112.66 131.55v4.2M135.69 253.85v-4.2M135.69 131.55v4.2M158.72 253.85v-4.2M158.72 131.55v4.2M181.75 253.85v-4.2M181.75 131.55v4.2M204.78 253.85v-4.2M204.78 131.55v4.2" stroke="#000" stroke-width="0.8" fill="none"/>
<rect x="44.40" y="131.55" width="182.40" height="122.30" fill="none" stroke="#000" stroke-width="1.1"/>
<rect x="192.90" y="234.45" width="31.2" height="15.2" fill="#fff" stroke="#000" stroke-width="0.8"/>
<g clip-path="url(#c11)">
<path d="M232.2 140.5h2v2h-2zM235.4 140.5h2v2h-2zM238.6 140.5h2v2h-2zM241.8 140.5h2v2h-2zM245.0 140.5h2v2h-2zM248.2 140.5h2v2h-2zM251.4 140.5h2v2h-2zM254.6 140.5h2v2h-2zM257.8 140.5h2v2h-2zM261.0 140.5h2v2h-2zM264.2 140.5h2v2h-2zM267.4 140.5h2v2h-2zM270.6 140.5h2v2h-2zM273.8 140.5h2v2h-2zM277.0 140.5h2v2h-2zM280.2 140.5h2v2h-2zM283.4 140.5h2v2h-2zM286.6 140.5h2v2h-2zM289.8 140.5h2v2h-2zM293.0 140.5h2v2h-2zM296.2 140.5h2v2h-2zM299.4 140.5h2v2h-2zM302.6 140.5h2v2h-2zM305.8 140.5h2v2h-2zM309.0 140.5h2v2h-2zM312.2 140.5h2v2h-2zM315.4 140.5h2v2h-2zM318.6 140.5h2v2h-2zM321.8 140.5h2v2h-2zM325.0 140.5h2v2h-2zM328.2 140.5h2v2h-2zM331.4 140.5h2v2h-2zM334.6 140.5h2v2h-2zM337.8 140.5h2v2h-2zM340.9 140.5h2v2h-2zM344.1 140.5h2v2h-2zM347.3 140.5h2v2h-2zM350.5 140.5h2v2h-2zM353.7 140.5h2v2h-2zM356.9 140.5h2v2h-2zM360.1 140.5h2v2h-2zM363.3 140.5h2v2h-2zM366.5 140.5h2v2h-2zM369.7 140.5h2v2h-2zM372.9 140.5h2v2h-2zM376.1 140.5h2v2h-2zM379.3 140.5h2v2h-2zM382.5 140.5h2v2h-2zM385.7 140.5h2v2h-2zM388.9 140.5h2v2h-2zM392.1 140.5h2v2h-2zM395.3 140.5h2v2h-2zM398.5 140.5h2v2h-2zM401.7 140.5h2v2h-2zM404.9 140.5h2v2h-2zM408.1 140.5h2v2h-2zM411.3 140.5h2v2h-2zM232.2 193.4h2v2h-2zM235.4 193.4h2v2h-2zM238.6 193.4h2v2h-2zM241.8 193.4h2v2h-2zM245.0 193.4h2v2h-2zM248.2 193.4h2v2h-2zM251.4 193.4h2v2h-2zM254.6 193.4h2v2h-2zM257.8 193.4h2v2h-2zM261.0 193.4h2v2h-2zM264.2 193.4h2v2h-2zM267.4 193.4h2v2h-2zM270.6 193.4h2v2h-2zM273.8 193.4h2v2h-2zM277.0 193.4h2v2h-2zM280.2 193.4h2v2h-2zM283.4 193.4h2v2h-2zM286.6 193.4h2v2h-2zM289.8 193.4h2v2h-2zM293.0 193.4h2v2h-2zM296.2 193.4h2v2h-2zM299.4 193.4h2v2h-2zM302.6 193.4h2v2h-2zM305.8 193.4h2v2h-2zM309.0 193.4h2v2h-2zM312.2 193.4h2v2h-2zM315.4 193.4h2v2h-2zM318.6 193.4h2v2h-2zM321.8 193.4h2v2h-2zM325.0 193.4h2v2h-2zM328.2 193.4h2v2h-2zM331.4 193.4h2v2h-2zM334.6 193.4h2v2h-2zM337.8 193.4h2v2h-2zM340.9 193.4h2v2h-2zM344.1 193.4h2v2h-2zM347.3 193.4h2v2h-2zM350.5 193.4h2v2h-2zM353.7 193.4h2v2h-2zM356.9 193.4h2v2h-2zM360.1 193.4h2v2h-2zM363.3 193.4h2v2h-2zM366.5 193.4h2v2h-2zM369.7 193.4h2v2h-2zM372.9 193.4h2v2h-2zM376.1 193.4h2v2h-2zM379.3 193.4h2v2h-2zM382.5 193.4h2v2h-2zM385.7 193.4h2v2h-2zM388.9 193.4h2v2h-2zM392.1 193.4h2v2h-2zM395.3 193.4h2v2h-2zM398.5 193.4h2v2h-2zM401.7 193.4h2v2h-2zM404.9 193.4h2v2h-2zM408.1 193.4h2v2h-2zM411.3 193.4h2v2h-2zM232.2 223.6h2v2h-2zM235.4 223.0h2v2h-2zM238.6 222.3h2v2h-2zM241.8 221.7h2v2h-2zM245.0 221.2h2v2h-2zM248.2 220.6h2v2h-2zM251.4 220.1h2v2h-2zM254.6 219.6h2v2h-2zM257.8 219.1h2v2h-2zM261.0 218.7h2v2h-2zM264.2 218.3h2v2h-2zM267.4 217.9h2v2h-2zM270.6 217.5h2v2h-2zM273.8 217.2h2v2h-2zM277.0 216.8h2v2h-2zM280.2 216.5h2v2h-2zM283.4 216.2h2v2h-2zM286.6 215.9h2v2h-2zM289.8 215.6h2v2h-2zM293.0 215.3h2v2h-2zM296.2 215.1h2v2h-2zM299.4 214.8h2v2h-2zM302.6 214.6h2v2h-2zM305.8 214.4h2v2h-2zM309.0 214.1h2v2h-2zM312.2 213.9h2v2h-2zM315.4 213.7h2v2h-2zM318.6 213.5h2v2h-2zM321.8 213.3h2v2h-2zM325.0 213.1h2v2h-2zM328.2 212.9h2v2h-2zM331.4 212.7h2v2h-2zM334.6 212.5h2v2h-2zM337.8 212.4h2v2h-2zM340.9 212.2h2v2h-2zM344.1 212.0h2v2h-2zM347.3 211.9h2v2h-2zM350.5 211.7h2v2h-2zM353.7 211.6h2v2h-2zM356.9 211.5h2v2h-2zM360.1 211.3h2v2h-2zM363.3 211.2h2v2h-2zM366.5 211.1h2v2h-2zM369.7 211.0h2v2h-2zM372.9 210.8h2v2h-2zM376.1 210.7h2v2h-2zM379.3 210.6h2v2h-2zM382.5 210.5h2v2h-2zM385.7 210.4h2v2h-2zM388.9 210.3h2v2h-2zM392.1 210.2h2v2h-2zM395.3 210.1h2v2h-2zM398.5 210.0h2v2h-2zM401.7 209.9h2v2h-2zM404.9 209.8h2v2h-2zM408.1 209.7h2v2h-2zM411.3 209.6h2v2h-2zM232.2 229.3h2v2h-2zM235.4 228.3h2v2h-2zM238.6 227.4h2v2h-2zM241.8 226.5h2v2h-2zM245.0 225.7h2v2h-2zM248.2 224.9h2v2h-2zM251.4 224.2h2v2h-2zM254.6 223.5h2v2h-2zM257.8 222.9h2v2h-2zM261.0 222.3h2v2h-2zM264.2 221.8h2v2h-2zM267.4 221.3h2v2h-2zM270.6 220.8h2v2h-2zM273.8 220.3h2v2h-2zM277.0 219.9h2v2h-2zM280.2 219.5h2v2h-2zM283.4 219.1h2v2h-2zM286.6 218.7h2v2h-2zM289.8 218.4h2v2h-2zM293.0 218.0h2v2h-2zM296.2 217.7h2v2h-2zM299.4 217.4h2v2h-2zM302.6 217.1h2v2h-2zM305.8 216.8h2v2h-2zM309.0 216.5h2v2h-2zM312.2 216.3h2v2h-2zM315.4 216.0h2v2h-2zM318.6 215.8h2v2h-2zM321.8 215.5h2v2h-2zM325.0 215.3h2v2h-2zM328.2 215.0h2v2h-2zM331.4 214.8h2v2h-2zM334.6 214.6h2v2h-2zM337.8 214.4h2v2h-2zM340.9 214.2h2v2h-2zM344.1 214.0h2v2h-2zM347.3 213.9h2v2h-2zM350.5 213.7h2v2h-2zM353.7 213.5h2v2h-2zM356.9 213.4h2v2h-2zM360.1 213.2h2v2h-2zM363.3 213.1h2v2h-2zM366.5 213.0h2v2h-2zM369.7 212.8h2v2h-2zM372.9 212.7h2v2h-2zM376.1 212.6h2v2h-2zM379.3 212.4h2v2h-2zM382.5 212.3h2v2h-2zM385.7 212.2h2v2h-2zM388.9 212.1h2v2h-2zM392.1 212.0h2v2h-2zM395.3 211.9h2v2h-2zM398.5 211.8h2v2h-2zM401.7 211.7h2v2h-2zM404.9 211.6h2v2h-2zM408.1 211.5h2v2h-2zM411.3 211.4h2v2h-2zM232.2 238.3h2v2h-2zM235.4 236.7h2v2h-2zM238.6 235.3h2v2h-2zM241.8 234.0h2v2h-2zM245.0 232.8h2v2h-2zM248.2 231.7h2v2h-2zM251.4 230.7h2v2h-2zM254.6 229.8h2v2h-2zM257.8 228.9h2v2h-2zM261.0 228.1h2v2h-2zM264.2 227.3h2v2h-2zM267.4 226.6h2v2h-2zM270.6 226.0h2v2h-2zM273.8 225.4h2v2h-2zM277.0 224.8h2v2h-2zM280.2 224.2h2v2h-2zM283.4 223.7h2v2h-2zM286.6 223.2h2v2h-2zM289.8 222.8h2v2h-2zM293.0 222.3h2v2h-2zM296.2 221.9h2v2h-2zM299.4 221.5h2v2h-2zM302.6 221.1h2v2h-2zM305.8 220.7h2v2h-2zM309.0 220.4h2v2h-2zM312.2 220.0h2v2h-2zM315.4 219.7h2v2h-2zM318.6 219.3h2v2h-2zM321.8 219.0h2v2h-2zM325.0 218.7h2v2h-2zM328.2 218.5h2v2h-2zM331.4 218.2h2v2h-2zM334.6 217.9h2v2h-2zM337.8 217.7h2v2h-2zM340.9 217.4h2v2h-2zM344.1 217.2h2v2h-2zM347.3 217.0h2v2h-2zM350.5 216.8h2v2h-2zM353.7 216.6h2v2h-2zM356.9 216.4h2v2h-2zM360.1 216.2h2v2h-2zM363.3 216.1h2v2h-2zM366.5 215.9h2v2h-2zM369.7 215.8h2v2h-2zM372.9 215.6h2v2h-2zM376.1 215.5h2v2h-2zM379.3 215.3h2v2h-2zM382.5 215.2h2v2h-2zM385.7 215.0h2v2h-2zM388.9 214.9h2v2h-2zM392.1 214.8h2v2h-2zM395.3 214.7h2v2h-2zM398.5 214.5h2v2h-2zM401.7 214.4h2v2h-2zM404.9 214.3h2v2h-2zM408.1 214.2h2v2h-2zM411.3 214.1h2v2h-2zM232.2 247.7h2v2h-2zM235.4 245.5h2v2h-2zM238.6 243.6h2v2h-2zM241.8 241.8h2v2h-2zM245.0 240.2h2v2h-2zM248.2 238.8h2v2h-2zM251.4 237.5h2v2h-2zM254.6 236.3h2v2h-2zM257.8 235.1h2v2h-2zM261.0 234.1h2v2h-2zM264.2 233.1h2v2h-2zM267.4 232.2h2v2h-2zM270.6 231.4h2v2h-2zM273.8 230.6h2v2h-2zM277.0 229.9h2v2h-2zM280.2 229.2h2v2h-2zM283.4 228.5h2v2h-2zM286.6 227.9h2v2h-2zM289.8 227.3h2v2h-2zM293.0 226.8h2v2h-2zM296.2 226.3h2v2h-2zM299.4 225.8h2v2h-2zM302.6 225.3h2v2h-2zM305.8 224.8h2v2h-2zM309.0 224.4h2v2h-2zM312.2 223.9h2v2h-2zM315.4 223.5h2v2h-2zM318.6 223.1h2v2h-2zM321.8 222.7h2v2h-2zM325.0 222.4h2v2h-2zM328.2 222.0h2v2h-2zM331.4 221.7h2v2h-2zM334.6 221.4h2v2h-2zM337.8 221.1h2v2h-2zM340.9 220.8h2v2h-2zM344.1 220.5h2v2h-2zM347.3 220.3h2v2h-2zM350.5 220.0h2v2h-2zM353.7 219.8h2v2h-2zM356.9 219.6h2v2h-2zM360.1 219.4h2v2h-2zM363.3 219.2h2v2h-2zM366.5 219.0h2v2h-2zM369.7 218.8h2v2h-2zM372.9 218.6h2v2h-2zM376.1 218.5h2v2h-2zM379.3 218.3h2v2h-2zM382.5 218.2h2v2h-2zM385.7 218.0h2v2h-2zM388.9 217.9h2v2h-2zM392.1 217.7h2v2h-2zM395.3 217.6h2v2h-2zM398.5 217.5h2v2h-2zM401.7 217.3h2v2h-2zM404.9 217.2h2v2h-2zM408.1 217.1h2v2h-2zM411.3 217.0h2v2h-2zM238.6 251.9h2v2h-2zM241.8 249.7h2v2h-2zM245.0 247.8h2v2h-2zM248.2 246.0h2v2h-2zM251.4 244.3h2v2h-2zM254.6 242.8h2v2h-2zM257.8 241.5h2v2h-2zM261.0 240.2h2v2h-2zM264.2 239.0h2v2h-2zM267.4 237.9h2v2h-2zM270.6 236.9h2v2h-2zM273.8 235.9h2v2h-2zM277.0 235.0h2v2h-2zM280.2 234.2h2v2h-2zM283.4 233.4h2v2h-2zM286.6 232.7h2v2h-2zM289.8 232.0h2v2h-2zM293.0 231.3h2v2h-2zM296.2 230.7h2v2h-2zM299.4 230.1h2v2h-2zM302.6 229.5h2v2h-2zM305.8 228.9h2v2h-2zM309.0 228.4h2v2h-2zM312.2 227.9h2v2h-2zM315.4 227.4h2v2h-2zM318.6 226.9h2v2h-2zM321.8 226.5h2v2h-2zM325.0 226.0h2v2h-2zM328.2 225.6h2v2h-2zM331.4 225.2h2v2h-2zM334.6 224.9h2v2h-2zM337.8 224.5h2v2h-2zM340.9 224.2h2v2h-2zM344.1 223.9h2v2h-2zM347.3 223.6h2v2h-2zM350.5 223.3h2v2h-2zM353.7 223.0h2v2h-2zM356.9 222.8h2v2h-2zM360.1 222.6h2v2h-2zM363.3 222.4h2v2h-2zM366.5 222.1h2v2h-2zM369.7 221.9h2v2h-2zM372.9 221.7h2v2h-2zM376.1 221.5h2v2h-2zM379.3 221.4h2v2h-2zM382.5 221.2h2v2h-2zM385.7 221.0h2v2h-2zM388.9 220.9h2v2h-2zM392.1 220.7h2v2h-2zM395.3 220.5h2v2h-2zM398.5 220.4h2v2h-2zM401.7 220.3h2v2h-2zM404.9 220.1h2v2h-2zM408.1 220.0h2v2h-2zM411.3 219.9h2v2h-2zM248.2 253.2h2v2h-2zM251.4 251.2h2v2h-2zM254.6 249.4h2v2h-2zM257.8 247.8h2v2h-2zM261.0 246.3h2v2h-2zM264.2 244.9h2v2h-2zM267.4 243.6h2v2h-2zM270.6 242.4h2v2h-2zM273.8 241.3h2v2h-2zM277.0 240.2h2v2h-2zM280.2 239.3h2v2h-2zM283.4 238.3h2v2h-2zM286.6 237.5h2v2h-2zM289.8 236.6h2v2h-2zM293.0 235.9h2v2h-2zM296.2 235.1h2v2h-2zM299.4 234.4h2v2h-2zM302.6 233.8h2v2h-2zM305.8 233.1h2v2h-2zM309.0 232.5h2v2h-2zM312.2 231.9h2v2h-2zM315.4 231.3h2v2h-2zM318.6 230.7h2v2h-2zM321.8 230.2h2v2h-2zM325.0 229.7h2v2h-2zM328.2 229.2h2v2h-2zM331.4 228.8h2v2h-2zM334.6 228.4h2v2h-2zM337.8 228.0h2v2h-2zM340.9 227.6h2v2h-2zM344.1 227.2h2v2h-2zM347.3 226.9h2v2h-2zM350.5 226.6h2v2h-2zM353.7 226.3h2v2h-2zM356.9 226.0h2v2h-2zM360.1 225.8h2v2h-2zM363.3 225.5h2v2h-2zM366.5 225.3h2v2h-2zM369.7 225.1h2v2h-2zM372.9 224.8h2v2h-2zM376.1 224.6h2v2h-2zM379.3 224.4h2v2h-2zM382.5 224.2h2v2h-2zM385.7 224.0h2v2h-2zM388.9 223.9h2v2h-2zM392.1 223.7h2v2h-2zM395.3 223.5h2v2h-2zM398.5 223.4h2v2h-2zM401.7 223.2h2v2h-2zM404.9 223.1h2v2h-2zM408.1 222.9h2v2h-2zM411.3 222.8h2v2h-2zM261.0 252.4h2v2h-2zM264.2 250.8h2v2h-2zM267.4 249.3h2v2h-2zM270.6 247.9h2v2h-2zM273.8 246.6h2v2h-2zM277.0 245.4h2v2h-2zM280.2 244.3h2v2h-2zM283.4 243.3h2v2h-2zM286.6 242.3h2v2h-2zM289.8 241.3h2v2h-2zM293.0 240.4h2v2h-2zM296.2 239.6h2v2h-2zM299.4 238.8h2v2h-2zM302.6 238.0h2v2h-2zM305.8 237.3h2v2h-2zM309.0 236.5h2v2h-2zM312.2 235.9h2v2h-2zM315.4 235.2h2v2h-2zM318.6 234.6h2v2h-2zM321.8 234.0h2v2h-2zM325.0 233.4h2v2h-2zM328.2 232.9h2v2h-2zM331.4 232.4h2v2h-2zM334.6 231.9h2v2h-2zM337.8 231.4h2v2h-2zM340.9 231.0h2v2h-2zM344.1 230.6h2v2h-2zM347.3 230.2h2v2h-2zM350.5 229.9h2v2h-2zM353.7 229.6h2v2h-2zM356.9 229.3h2v2h-2zM360.1 229.0h2v2h-2zM363.3 228.7h2v2h-2zM366.5 228.4h2v2h-2zM369.7 228.2h2v2h-2zM372.9 227.9h2v2h-2zM376.1 227.7h2v2h-2zM379.3 227.5h2v2h-2zM382.5 227.3h2v2h-2zM385.7 227.1h2v2h-2zM388.9 226.9h2v2h-2zM392.1 226.7h2v2h-2zM395.3 226.5h2v2h-2zM398.5 226.3h2v2h-2zM401.7 226.2h2v2h-2zM404.9 226.0h2v2h-2zM408.1 225.9h2v2h-2zM411.3 225.7h2v2h-2zM270.6 253.5h2v2h-2zM273.8 252.0h2v2h-2zM277.0 250.6h2v2h-2zM280.2 249.4h2v2h-2zM283.4 248.2h2v2h-2zM286.6 247.1h2v2h-2zM289.8 246.0h2v2h-2zM293.0 245.0h2v2h-2zM296.2 244.1h2v2h-2zM299.4 243.1h2v2h-2zM302.6 242.3h2v2h-2zM305.8 241.4h2v2h-2zM309.0 240.6h2v2h-2zM312.2 239.8h2v2h-2zM315.4 239.1h2v2h-2zM318.6 238.4h2v2h-2zM321.8 237.7h2v2h-2zM325.0 237.1h2v2h-2zM328.2 236.5h2v2h-2zM331.4 235.9h2v2h-2zM334.6 235.4h2v2h-2zM337.8 234.9h2v2h-2zM340.9 234.4h2v2h-2zM344.1 234.0h2v2h-2zM347.3 233.6h2v2h-2zM350.5 233.2h2v2h-2zM353.7 232.8h2v2h-2zM356.9 232.5h2v2h-2zM360.1 232.2h2v2h-2zM363.3 231.9h2v2h-2zM366.5 231.6h2v2h-2zM369.7 231.3h2v2h-2zM372.9 231.1h2v2h-2zM376.1 230.8h2v2h-2zM379.3 230.6h2v2h-2zM382.5 230.3h2v2h-2zM385.7 230.1h2v2h-2zM388.9 229.9h2v2h-2zM392.1 229.7h2v2h-2zM395.3 229.5h2v2h-2zM398.5 229.3h2v2h-2zM401.7 229.1h2v2h-2zM404.9 229.0h2v2h-2zM408.1 228.8h2v2h-2zM411.3 228.6h2v2h-2zM283.4 253.1h2v2h-2zM286.6 251.9h2v2h-2zM289.8 250.7h2v2h-2zM293.0 249.6h2v2h-2zM296.2 248.5h2v2h-2zM299.4 247.5h2v2h-2zM302.6 246.5h2v2h-2zM305.8 245.6h2v2h-2zM309.0 244.7h2v2h-2zM312.2 243.8h2v2h-2zM315.4 243.0h2v2h-2zM318.6 242.2h2v2h-2zM321.8 241.5h2v2h-2zM325.0 240.8h2v2h-2zM328.2 240.1h2v2h-2zM331.4 239.5h2v2h-2zM334.6 238.9h2v2h-2zM337.8 238.4h2v2h-2zM340.9 237.9h2v2h-2zM344.1 237.4h2v2h-2zM347.3 236.9h2v2h-2zM350.5 236.5h2v2h-2zM353.7 236.1h2v2h-2zM356.9 235.7h2v2h-2zM360.1 235.4h2v2h-2zM363.3 235.1h2v2h-2zM366.5 234.8h2v2h-2zM369.7 234.5h2v2h-2zM372.9 234.2h2v2h-2zM376.1 233.9h2v2h-2zM379.3 233.6h2v2h-2zM382.5 233.4h2v2h-2zM385.7 233.1h2v2h-2zM388.9 232.9h2v2h-2zM392.1 232.7h2v2h-2zM395.3 232.5h2v2h-2zM398.5 232.3h2v2h-2zM401.7 232.1h2v2h-2zM404.9 231.9h2v2h-2zM408.1 231.7h2v2h-2zM411.3 231.6h2v2h-2zM296.2 253.0h2v2h-2zM299.4 251.9h2v2h-2zM302.6 250.8h2v2h-2zM305.8 249.8h2v2h-2zM309.0 248.8h2v2h-2zM312.2 247.8h2v2h-2zM315.4 246.9h2v2h-2zM318.6 246.1h2v2h-2zM321.8 245.3h2v2h-2zM325.0 244.5h2v2h-2zM328.2 243.8h2v2h-2zM331.4 243.1h2v2h-2zM334.6 242.5h2v2h-2zM337.8 241.9h2v2h-2zM340.9 241.3h2v2h-2zM344.1 240.8h2v2h-2zM347.3 240.3h2v2h-2zM350.5 239.8h2v2h-2zM353.7 239.4h2v2h-2zM356.9 239.0h2v2h-2zM360.1 238.6h2v2h-2zM363.3 238.3h2v2h-2zM366.5 237.9h2v2h-2zM369.7 237.6h2v2h-2zM372.9 237.3h2v2h-2zM376.1 237.0h2v2h-2zM379.3 236.7h2v2h-2zM408.1 234.7h2v2h-2zM411.3 234.5h2v2h-2zM309.0 252.9h2v2h-2zM312.2 251.8h2v2h-2zM315.4 250.9h2v2h-2zM318.6 249.9h2v2h-2zM321.8 249.0h2v2h-2zM325.0 248.2h2v2h-2zM328.2 247.4h2v2h-2zM331.4 246.7h2v2h-2zM334.6 246.0h2v2h-2zM337.8 245.3h2v2h-2zM340.9 244.7h2v2h-2zM344.1 244.1h2v2h-2zM347.3 243.6h2v2h-2zM350.5 243.1h2v2h-2zM353.7 242.7h2v2h-2zM356.9 242.2h2v2h-2zM360.1 241.8h2v2h-2zM363.3 241.5h2v2h-2zM366.5 241.1h2v2h-2zM369.7 240.7h2v2h-2zM372.9 240.4h2v2h-2zM376.1 240.1h2v2h-2zM379.3 239.8h2v2h-2zM411.3 237.4h2v2h-2zM318.6 253.8h2v2h-2zM321.8 252.8h2v2h-2zM325.0 251.9h2v2h-2zM328.2 251.1h2v2h-2zM331.4 250.3h2v2h-2zM334.6 249.5h2v2h-2zM337.8 248.8h2v2h-2zM340.9 248.1h2v2h-2zM344.1 247.5h2v2h-2zM347.3 247.0h2v2h-2zM350.5 246.4h2v2h-2zM353.7 245.9h2v2h-2zM356.9 245.5h2v2h-2zM360.1 245.1h2v2h-2zM363.3 244.6h2v2h-2zM366.5 244.3h2v2h-2zM369.7 243.9h2v2h-2zM372.9 243.5h2v2h-2zM376.1 243.2h2v2h-2zM379.3 242.9h2v2h-2zM411.3 240.4h2v2h-2zM334.6 253.0h2v2h-2zM337.8 252.3h2v2h-2zM340.9 251.6h2v2h-2zM344.1 250.9h2v2h-2zM347.3 250.3h2v2h-2zM350.5 249.7h2v2h-2zM353.7 249.2h2v2h-2zM356.9 248.7h2v2h-2zM360.1 248.3h2v2h-2zM363.3 247.8h2v2h-2zM366.5 247.4h2v2h-2zM369.7 247.0h2v2h-2zM372.9 246.6h2v2h-2zM376.1 246.3h2v2h-2zM379.3 245.9h2v2h-2zM411.3 243.3h2v2h-2zM347.3 253.7h2v2h-2zM350.5 253.1h2v2h-2zM353.7 252.5h2v2h-2zM356.9 252.0h2v2h-2zM360.1 251.5h2v2h-2zM363.3 251.0h2v2h-2zM366.5 250.6h2v2h-2zM369.7 250.2h2v2h-2zM372.9 249.8h2v2h-2zM376.1 249.4h2v2h-2zM379.3 249.0h2v2h-2zM382.5 248.7h2v2h-2zM385.7 248.3h2v2h-2zM388.9 248.0h2v2h-2zM392.1 247.7h2v2h-2zM411.3 246.2h2v2h-2zM366.5 253.8h2v2h-2zM369.7 253.3h2v2h-2zM372.9 252.9h2v2h-2zM376.1 252.5h2v2h-2zM379.3 252.1h2v2h-2zM382.5 251.7h2v2h-2zM385.7 251.4h2v2h-2zM388.9 251.0h2v2h-2zM392.1 250.7h2v2h-2zM395.3 250.4h2v2h-2zM398.5 250.1h2v2h-2zM401.7 249.9h2v2h-2zM404.9 249.6h2v2h-2zM408.1 249.4h2v2h-2zM411.3 249.2h2v2h-2zM392.1 253.7h2v2h-2zM395.3 253.4h2v2h-2zM398.5 253.1h2v2h-2zM401.7 252.8h2v2h-2zM404.9 252.6h2v2h-2zM408.1 252.3h2v2h-2zM411.3 252.1h2v2h-2z" fill="#cc2000"/>
<path d="M229.9 166.1L231.8 167.8L233.6 169.3L235.5 170.7L237.3 172.0L239.2 173.3L241.0 174.4L242.8 175.4L244.7 176.4L246.5 177.3L248.4 178.2L250.2 179.0L252.0 179.8L253.9 180.5L255.7 181.2L257.6 181.8L259.4 182.4L261.3 183.0L263.1 183.5L264.9 184.1L266.8 184.6L268.6 185.0L270.5 185.5L272.3 185.9L274.2 186.3L276.0 186.7L277.8 187.1L279.7 187.5L281.5 187.8L283.4 188.1L285.2 188.5L287.1 188.8L288.9 189.1L290.7 189.4L292.6 189.6L294.4 189.9L296.3 190.2L298.1 190.4L300.0 190.7L301.8 190.9L303.6 191.1L305.5 191.3L307.3 191.5L309.2 191.7L311.0 191.9L312.8 192.1L314.7 192.3L316.5 192.5L318.4 192.7L320.2 192.8L322.1 193.0L323.9 193.2L325.7 193.3L327.6 193.5L329.4 193.6L331.3 193.8L333.1 193.9L335.0 194.0L336.8 194.2L338.6 194.3L340.5 194.4L342.3 194.6L344.2 194.7L346.0 194.8L347.9 194.9L349.7 195.0L351.5 195.1L353.4 195.2L355.2 195.3L357.1 195.5L358.9 195.6L360.8 195.6L362.6 195.7L364.4 195.8L366.3 195.9L368.1 196.0L370.0 196.1L371.8 196.2L373.6 196.3L375.5 196.4L377.3 196.4L379.2 196.5L381.0 196.6L382.9 196.7L384.7 196.8L386.5 196.8L388.4 196.9L390.2 197.0L392.1 197.0L393.9 197.1L395.8 197.2L397.6 197.2L399.4 197.3L401.3 197.4L403.1 197.4L405.0 197.5L406.8 197.6L408.7 197.6L410.5 197.7L412.3 197.7L414.2 197.8L416.0 197.8L417.9 197.9M229.9 148.5L231.8 151.0L233.6 153.2L235.5 155.3L237.3 157.2L239.2 159.0L241.0 160.6L242.8 162.1L244.7 163.6L246.5 164.9L248.4 166.2L250.2 167.3L252.0 168.5L253.9 169.5L255.7 170.5L257.6 171.4L259.4 172.3L261.3 173.2L263.1 174.0L264.9 174.7L266.8 175.4L268.6 176.1L270.5 176.8L272.3 177.4L274.2 178.0L276.0 178.6L277.8 179.1L279.7 179.7L281.5 180.2L283.4 180.7L285.2 181.1L287.1 181.6L288.9 182.0L290.7 182.4L292.6 182.8L294.4 183.2L296.3 183.6L298.1 184.0L300.0 184.3L301.8 184.6L303.6 185.0L305.5 185.3L307.3 185.6L309.2 185.9L311.0 186.2L312.8 186.4L314.7 186.7L316.5 187.0L318.4 187.2L320.2 187.5L322.1 187.7L323.9 188.0L325.7 188.2L327.6 188.4L329.4 188.6L331.3 188.8L333.1 189.0L335.0 189.2L336.8 189.4L338.6 189.6L340.5 189.8L342.3 190.0L344.2 190.2L346.0 190.3L347.9 190.5L349.7 190.7L351.5 190.8L353.4 191.0L355.2 191.1L357.1 191.3L358.9 191.4L360.8 191.6L362.6 191.7L364.4 191.9L366.3 192.0L368.1 192.1L370.0 192.2L371.8 192.4L373.6 192.5L375.5 192.6L377.3 192.7L379.2 192.9L381.0 193.0L382.9 193.1L384.7 193.2L386.5 193.3L388.4 193.4L390.2 193.5L392.1 193.6L393.9 193.7L395.8 193.8L397.6 193.9L399.4 194.0L401.3 194.1L403.1 194.2L405.0 194.3L406.8 194.4L408.7 194.4L410.5 194.5L412.3 194.6L414.2 194.7L416.0 194.8L417.9 194.9M229.9 130.9L231.8 134.1L233.6 137.1L235.5 139.8L237.3 142.3L239.2 144.7L241.0 146.8L242.8 148.8L244.7 150.7L246.5 152.5L248.4 154.1L250.2 155.7L252.0 157.1L253.9 158.5L255.7 159.8L257.6 161.0L259.4 162.2L261.3 163.3L263.1 164.4L264.9 165.4L266.8 166.3L268.6 167.2L270.5 168.1L272.3 168.9L274.2 169.7L276.0 170.4L277.8 171.2L279.7 171.9L281.5 172.5L283.4 173.2L285.2 173.8L287.1 174.4L288.9 174.9L290.7 175.5L292.6 176.0L294.4 176.5L296.3 177.0L298.1 177.5L300.0 177.9L301.8 178.4L303.6 178.8L305.5 179.2L307.3 179.6L309.2 180.0L311.0 180.4L312.8 180.8L314.7 181.1L316.5 181.5L318.4 181.8L320.2 182.1L322.1 182.4L323.9 182.8L325.7 183.1L327.6 183.3L329.4 183.6L331.3 183.9L333.1 184.2L335.0 184.4L336.8 184.7L338.6 184.9L340.5 185.2L342.3 185.4L344.2 185.6L346.0 185.9L347.9 186.1L349.7 186.3L351.5 186.5L353.4 186.7L355.2 186.9L357.1 187.1L358.9 187.3L360.8 187.5L362.6 187.7L364.4 187.9L366.3 188.0L368.1 188.2L370.0 188.4L371.8 188.5L373.6 188.7L375.5 188.9L377.3 189.0L379.2 189.2L381.0 189.3L382.9 189.5L384.7 189.6L386.5 189.8L388.4 189.9L390.2 190.0L392.1 190.2L393.9 190.3L395.8 190.4L397.6 190.6L399.4 190.7L401.3 190.8L403.1 190.9L405.0 191.0L406.8 191.2L408.7 191.3L410.5 191.4L412.3 191.5L414.2 191.6L416.0 191.7L417.9 191.8M235.5 124.3L237.3 127.5L239.2 130.4L241.0 133.0L242.8 135.5L244.7 137.9L246.5 140.1L248.4 142.1L250.2 144.0L252.0 145.8L253.9 147.5L255.7 149.1L257.6 150.7L259.4 152.1L261.3 153.5L263.1 154.8L264.9 156.0L266.8 157.2L268.6 158.3L270.5 159.4L272.3 160.4L274.2 161.4L276.0 162.3L277.8 163.2L279.7 164.1L281.5 164.9L283.4 165.7L285.2 166.4L287.1 167.2L288.9 167.9L290.7 168.6L292.6 169.2L294.4 169.8L296.3 170.4L298.1 171.0L300.0 171.6L301.8 172.1L303.6 172.7L305.5 173.2L307.3 173.7L309.2 174.2L311.0 174.6L312.8 175.1L314.7 175.5L316.5 176.0L318.4 176.4L320.2 176.8L322.1 177.2L323.9 177.5L325.7 177.9L327.6 178.3L329.4 178.6L331.3 179.0L333.1 179.3L335.0 179.6L336.8 179.9L338.6 180.3L340.5 180.6L342.3 180.8L344.2 181.1L346.0 181.4L347.9 181.7L349.7 182.0L351.5 182.2L353.4 182.5L355.2 182.7L357.1 183.0L358.9 183.2L360.8 183.4L362.6 183.7L364.4 183.9L366.3 184.1L368.1 184.3L370.0 184.5L371.8 184.7L373.6 184.9L375.5 185.1L377.3 185.3L379.2 185.5L381.0 185.7L382.9 185.9L384.7 186.0L386.5 186.2L388.4 186.4L390.2 186.6L392.1 186.7L393.9 186.9L395.8 187.0L397.6 187.2L399.4 187.4L401.3 187.5L403.1 187.7L405.0 187.8L406.8 187.9L408.7 188.1L410.5 188.2L412.3 188.4L414.2 188.5L416.0 188.6L417.9 188.8M244.7 125.0L246.5 127.6L248.4 130.1L250.2 132.4L252.0 134.5L253.9 136.6L255.7 138.5L257.6 140.3L259.4 142.0L261.3 143.6L263.1 145.2L264.9 146.7L266.8 148.1L268.6 149.4L270.5 150.7L272.3 151.9L274.2 153.1L276.0 154.2L277.8 155.2L279.7 156.3L281.5 157.2L283.4 158.2L285.2 159.1L287.1 160.0L288.9 160.8L290.7 161.6L292.6 162.4L294.4 163.1L296.3 163.9L298.1 164.6L300.0 165.2L301.8 165.9L303.6 166.5L305.5 167.1L307.3 167.7L309.2 168.3L311.0 168.9L312.8 169.4L314.7 169.9L316.5 170.4L318.4 170.9L320.2 171.4L322.1 171.9L323.9 172.3L325.7 172.8L327.6 173.2L329.4 173.6L331.3 174.0L333.1 174.4L335.0 174.8L336.8 175.2L338.6 175.6L340.5 175.9L342.3 176.3L344.2 176.6L346.0 176.9L347.9 177.3L349.7 177.6L351.5 177.9L353.4 178.2L355.2 178.5L357.1 178.8L358.9 179.1L360.8 179.4L362.6 179.6L364.4 179.9L366.3 180.1L368.1 180.4L370.0 180.7L371.8 180.9L373.6 181.1L375.5 181.4L377.3 181.6L379.2 181.8L381.0 182.0L382.9 182.3L384.7 182.5L386.5 182.7L388.4 182.9L390.2 183.1L392.1 183.3L393.9 183.5L395.8 183.7L397.6 183.9L399.4 184.0L401.3 184.2L403.1 184.4L405.0 184.6L406.8 184.7L408.7 184.9L410.5 185.1L412.3 185.2L414.2 185.4L416.0 185.6L417.9 185.7M252.0 123.2L253.9 125.6L255.7 127.8L257.6 129.9L259.4 131.9L261.3 133.8L263.1 135.6L264.9 137.3L266.8 138.9L268.6 140.5L270.5 142.0L272.3 143.4L274.2 144.7L276.0 146.0L277.8 147.3L279.7 148.5L281.5 149.6L283.4 150.7L285.2 151.7L287.1 152.8L288.9 153.7L290.7 154.7L292.6 155.6L294.4 156.5L296.3 157.3L298.1 158.1L300.0 158.9L301.8 159.7L303.6 160.4L305.5 161.1L307.3 161.8L309.2 162.5L311.0 163.1L312.8 163.7L314.7 164.3L316.5 164.9L318.4 165.5L320.2 166.1L322.1 166.6L323.9 167.1L325.7 167.7L327.6 168.1L329.4 168.6L331.3 169.1L333.1 169.6L335.0 170.0L336.8 170.5L338.6 170.9L340.5 171.3L342.3 171.7L344.2 172.1L346.0 172.5L347.9 172.9L349.7 173.2L351.5 173.6L353.4 173.9L355.2 174.3L357.1 174.6L358.9 175.0L360.8 175.3L362.6 175.6L364.4 175.9L366.3 176.2L368.1 176.5L370.0 176.8L371.8 177.1L373.6 177.4L375.5 177.6L377.3 177.9L379.2 178.2L381.0 178.4L382.9 178.7L384.7 178.9L386.5 179.2L388.4 179.4L390.2 179.6L392.1 179.9L393.9 180.1L395.8 180.3L397.6 180.5L399.4 180.7L401.3 180.9L403.1 181.1L405.0 181.3L406.8 181.5L408.7 181.7L410.5 181.9L412.3 182.1L414.2 182.3L416.0 182.5L417.9 182.7M261.3 124.0L263.1 126.0L264.9 128.0L266.8 129.8L268.6 131.6L270.5 133.3L272.3 134.9L274.2 136.4L276.0 137.9L277.8 139.3L279.7 140.7L281.5 142.0L283.4 143.2L285.2 144.4L287.1 145.6L288.9 146.7L290.7 147.7L292.6 148.8L294.4 149.8L296.3 150.7L298.1 151.6L300.0 152.5L301.8 153.4L303.6 154.2L305.5 155.1L307.3 155.8L309.2 156.6L311.0 157.3L312.8 158.1L314.7 158.8L316.5 159.4L318.4 160.1L320.2 160.7L322.1 161.3L323.9 161.9L325.7 162.5L327.6 163.1L329.4 163.6L331.3 164.2L333.1 164.7L335.0 165.2L336.8 165.7L338.6 166.2L340.5 166.7L342.3 167.1L344.2 167.6L346.0 168.0L347.9 168.5L349.7 168.9L351.5 169.3L353.4 169.7L355.2 170.1L357.1 170.5L358.9 170.8L360.8 171.2L362.6 171.6L364.4 171.9L366.3 172.3L368.1 172.6L370.0 172.9L371.8 173.2L373.6 173.6L375.5 173.9L377.3 174.2L379.2 174.5L381.0 174.8L382.9 175.1L384.7 175.3L386.5 175.6L388.4 175.9L390.2 176.2L392.1 176.4L393.9 176.7L395.8 176.9L397.6 177.2L399.4 177.4L401.3 177.6L403.1 177.9L405.0 178.1L406.8 178.3L408.7 178.6L410.5 178.8L412.3 179.0L414.2 179.2L416.0 179.4L417.9 179.6M270.5 124.6L272.3 126.4L274.2 128.1L276.0 129.8L277.8 131.3L279.7 132.9L281.5 134.3L283.4 135.7L285.2 137.1L287.1 138.4L288.9 139.6L290.7 140.8L292.6 142.0L294.4 143.1L296.3 144.1L298.1 145.2L300.0 146.2L301.8 147.2L303.6 148.1L305.5 149.0L307.3 149.9L309.2 150.7L311.0 151.6L312.8 152.4L314.7 153.2L316.5 153.9L318.4 154.6L320.2 155.4L322.1 156.1L323.9 156.7L325.7 157.4L327.6 158.0L329.4 158.6L331.3 159.2L333.1 159.8L335.0 160.4L336.8 161.0L338.6 161.5L340.5 162.0L342.3 162.6L344.2 163.1L346.0 163.6L347.9 164.0L349.7 164.5L351.5 165.0L353.4 165.4L355.2 165.9L357.1 166.3L358.9 166.7L360.8 167.1L362.6 167.5L364.4 167.9L366.3 168.3L368.1 168.7L370.0 169.1L371.8 169.4L373.6 169.8L375.5 170.1L377.3 170.5L379.2 170.8L381.0 171.1L382.9 171.5L384.7 171.8L386.5 172.1L388.4 172.4L390.2 172.7L392.1 173.0L393.9 173.3L395.8 173.5L397.6 173.8L399.4 174.1L401.3 174.4L403.1 174.6L405.0 174.9L406.8 175.1L408.7 175.4L410.5 175.6L412.3 175.9L414.2 176.1L416.0 176.3L417.9 176.6M279.7 125.1L281.5 126.7L283.4 128.2L285.2 129.7L287.1 131.2L288.9 132.5L290.7 133.9L292.6 135.1L294.4 136.4L296.3 137.6L298.1 138.7L300.0 139.8L301.8 140.9L303.6 142.0L305.5 143.0L307.3 143.9L309.2 144.9L311.0 145.8L312.8 146.7L314.7 147.6L316.5 148.4L318.4 149.2L320.2 150.0L322.1 150.8L323.9 151.5L325.7 152.2L327.6 153.0L329.4 153.6L331.3 154.3L333.1 155.0L335.0 155.6L336.8 156.2L338.6 156.8L340.5 157.4L342.3 158.0L344.2 158.6L346.0 159.1L347.9 159.6L349.7 160.2L351.5 160.7L353.4 161.2L355.2 161.7L357.1 162.1L358.9 162.6L360.8 163.1L362.6 163.5L364.4 163.9L366.3 164.4L368.1 164.8L370.0 165.2L371.8 165.6L373.6 166.0L375.5 166.4L377.3 166.8L379.2 167.1L381.0 167.5L382.9 167.8L384.7 168.2L386.5 168.5L388.4 168.9L390.2 169.2L392.1 169.5L393.9 169.9L395.8 170.2L397.6 170.5L399.4 170.8L401.3 171.1L403.1 171.4L405.0 171.7L406.8 171.9L408.7 172.2L410.5 172.5L412.3 172.7L414.2 173.0L416.0 173.3L417.9 173.5M288.9 125.5L290.7 126.9L292.6 128.3L294.4 129.7L296.3 131.0L298.1 132.3L300.0 133.5L301.8 134.7L303.6 135.8L305.5 136.9L307.3 138.0L309.2 139.0L311.0 140.0L312.8 141.0L314.7 142.0L316.5 142.9L318.4 143.8L320.2 144.7L322.1 145.5L323.9 146.3L325.7 147.1L327.6 147.9L329.4 148.6L331.3 149.4L333.1 150.1L335.0 150.8L336.8 151.5L338.6 152.1L340.5 152.8L342.3 153.4L344.2 154.0L346.0 154.6L347.9 155.2L349.7 155.8L351.5 156.4L353.4 156.9L355.2 157.4L357.1 158.0L358.9 158.5L360.8 159.0L362.6 159.5L364.4 160.0L366.3 160.4L368.1 160.9L370.0 161.3L371.8 161.8L373.6 162.2L375.5 162.6L377.3 163.0L379.2 163.5L381.0 163.9L382.9 164.2L384.7 164.6L386.5 165.0L388.4 165.4L390.2 165.7L392.1 166.1L393.9 166.4L395.8 166.8L397.6 167.1L399.4 167.5L401.3 167.8L403.1 168.1L405.0 168.4L406.8 168.7L408.7 169.0L410.5 169.3L412.3 169.6L414.2 169.9L416.0 170.2L417.9 170.5M296.3 124.4L298.1 125.8L300.0 127.1L301.8 128.4L303.6 129.7L305.5 130.9L307.3 132.0L309.2 133.2L311.0 134.3L312.8 135.3L314.7 136.4L316.5 137.4L318.4 138.4L320.2 139.3L322.1 140.2L323.9 141.1L325.7 142.0L327.6 142.8L329.4 143.6L331.3 144.4L333.1 145.2L335.0 146.0L336.8 146.7L338.6 147.5L340.5 148.2L342.3 148.8L344.2 149.5L346.0 150.2L347.9 150.8L349.7 151.4L351.5 152.1L353.4 152.6L355.2 153.2L357.1 153.8L358.9 154.4L360.8 154.9L362.6 155.4L364.4 156.0L366.3 156.5L368.1 157.0L370.0 157.5L371.8 157.9L373.6 158.4L375.5 158.9L377.3 159.3L379.2 159.8L381.0 160.2L382.9 160.6L384.7 161.1L386.5 161.5L388.4 161.9L390.2 162.3L392.1 162.7L393.9 163.0L395.8 163.4L397.6 163.8L399.4 164.1L401.3 164.5L403.1 164.8L405.0 165.2L406.8 165.5L408.7 165.9L410.5 166.2L412.3 166.5L414.2 166.8L416.0 167.1L417.9 167.4M305.5 124.8L307.3 126.1L309.2 127.3L311.0 128.5L312.8 129.7L314.7 130.8L316.5 131.9L318.4 132.9L320.2 133.9L322.1 134.9L323.9 135.9L325.7 136.8L327.6 137.8L329.4 138.6L331.3 139.5L333.1 140.4L335.0 141.2L336.8 142.0L338.6 142.8L340.5 143.5L342.3 144.3L344.2 145.0L346.0 145.7L347.9 146.4L349.7 147.1L351.5 147.7L353.4 148.4L355.2 149.0L357.1 149.6L358.9 150.2L360.8 150.8L362.6 151.4L364.4 152.0L366.3 152.5L368.1 153.1L370.0 153.6L371.8 154.1L373.6 154.6L375.5 155.1L377.3 155.6L379.2 156.1L381.0 156.6L382.9 157.0L384.7 157.5L386.5 157.9L388.4 158.4L390.2 158.8L392.1 159.2L393.9 159.6L395.8 160.0L397.6 160.4L399.4 160.8L401.3 161.2L403.1 161.6L405.0 162.0L406.8 162.3L408.7 162.7L410.5 163.0L412.3 163.4L414.2 163.7L416.0 164.1L417.9 164.4M314.7 125.2L316.5 126.4L318.4 127.5L320.2 128.6L322.1 129.7L323.9 130.7L325.7 131.7L327.6 132.7L329.4 133.7L331.3 134.6L333.1 135.5L335.0 136.4L336.8 137.2L338.6 138.1L340.5 138.9L342.3 139.7L344.2 140.5L346.0 141.3L347.9 142.0L349.7 142.7L351.5 143.4L353.4 144.1L355.2 144.8L357.1 145.5L358.9 146.1L360.8 146.8L362.6 147.4L364.4 148.0L366.3 148.6L368.1 149.2L370.0 149.7L371.8 150.3L373.6 150.8L375.5 151.4L377.3 151.9L379.2 152.4L381.0 152.9L382.9 153.4L384.7 153.9L386.5 154.4L388.4 154.9L390.2 155.3L392.1 155.8L393.9 156.2L395.8 156.7L397.6 157.1L399.4 157.5L401.3 157.9L403.1 158.3L405.0 158.7L406.8 159.1L408.7 159.5L410.5 159.9L412.3 160.3L414.2 160.6L416.0 161.0L417.9 161.3M323.9 125.5L325.7 126.6L327.6 127.6L329.4 128.7L331.3 129.7L333.1 130.6L335.0 131.6L336.8 132.5L338.6 133.4L340.5 134.3L342.3 135.1L344.2 136.0L346.0 136.8L347.9 137.6L349.7 138.4L351.5 139.1L353.4 139.9L355.2 140.6L357.1 141.3L358.9 142.0L360.8 142.7L362.6 143.4L364.4 144.0L366.3 144.6L368.1 145.3L370.0 145.9L371.8 146.5L373.6 147.1L375.5 147.6L377.3 148.2L379.2 148.8L381.0 149.3L382.9 149.8L384.7 150.4L386.5 150.9L388.4 151.4L390.2 151.9L392.1 152.3L393.9 152.8L395.8 153.3L397.6 153.7L399.4 154.2L401.3 154.6L403.1 155.1L405.0 155.5L406.8 155.9L408.7 156.3L410.5 156.7L412.3 157.1L414.2 157.5L416.0 157.9L417.9 158.3M331.3 124.7L333.1 125.8L335.0 126.8L336.8 127.8L338.6 128.7L340.5 129.6L342.3 130.6L344.2 131.5L346.0 132.3L347.9 133.2L349.7 134.0L351.5 134.8L353.4 135.6L355.2 136.4L357.1 137.1L358.9 137.9L360.8 138.6L362.6 139.3L364.4 140.0L366.3 140.7L368.1 141.4L370.0 142.0L371.8 142.7L373.6 143.3L375.5 143.9L377.3 144.5L379.2 145.1L381.0 145.7L382.9 146.2L384.7 146.8L386.5 147.3L388.4 147.9L390.2 148.4L392.1 148.9L393.9 149.4L395.8 149.9L397.6 150.4L399.4 150.9L401.3 151.3L403.1 151.8L405.0 152.3L406.8 152.7L408.7 153.2L410.5 153.6L412.3 154.0L414.2 154.4L416.0 154.8L417.9 155.2M340.5 125.0L342.3 126.0L344.2 126.9L346.0 127.9L347.9 128.8L349.7 129.6L351.5 130.5L353.4 131.4L355.2 132.2L357.1 133.0L358.9 133.8L360.8 134.5L362.6 135.3L364.4 136.0L366.3 136.7L368.1 137.5L370.0 138.1L371.8 138.8L373.6 139.5L375.5 140.1L377.3 140.8L379.2 141.4L381.0 142.0L382.9 142.6L384.7 143.2L386.5 143.8L388.4 144.4L390.2 144.9L392.1 145.5L393.9 146.0L395.8 146.5L397.6 147.0L399.4 147.6L401.3 148.1L403.1 148.6L405.0 149.0L406.8 149.5L408.7 150.0L410.5 150.4L412.3 150.9L414.2 151.3L416.0 151.8L417.9 152.2M349.7 125.3L351.5 126.2L353.4 127.1L355.2 128.0L357.1 128.8L358.9 129.6L360.8 130.5L362.6 131.3L364.4 132.0L366.3 132.8L368.1 133.6L370.0 134.3L371.8 135.0L373.6 135.7L375.5 136.4L377.3 137.1L379.2 137.7L381.0 138.4L382.9 139.0L384.7 139.6L386.5 140.3L388.4 140.9L390.2 141.4L392.1 142.0L393.9 142.6L395.8 143.2L397.6 143.7L399.4 144.2L401.3 144.8L403.1 145.3L405.0 145.8L406.8 146.3L408.7 146.8L410.5 147.3L412.3 147.8L414.2 148.2L416.0 148.7L417.9 149.2M358.9 125.5L360.8 126.4L362.6 127.2L364.4 128.1L366.3 128.9L368.1 129.6L370.0 130.4L371.8 131.2L373.6 131.9L375.5 132.6L377.3 133.4L379.2 134.1L381.0 134.7L382.9 135.4L384.7 136.1L386.5 136.7L388.4 137.4L390.2 138.0L392.1 138.6L393.9 139.2L395.8 139.8L397.6 140.4L399.4 140.9L401.3 141.5L403.1 142.0L405.0 142.6L406.8 143.1L408.7 143.6L410.5 144.1L412.3 144.6L414.2 145.1L416.0 145.6L417.9 146.1M366.3 124.9L368.1 125.7L370.0 126.6L371.8 127.4L373.6 128.1L375.5 128.9L377.3 129.6L379.2 130.4L381.0 131.1L382.9 131.8L384.7 132.5L386.5 133.2L388.4 133.9L390.2 134.5L392.1 135.2L393.9 135.8L395.8 136.4L397.6 137.0L399.4 137.6L401.3 138.2L403.1 138.8L405.0 139.3L406.8 139.9L408.7 140.4L410.5 141.0L412.3 141.5L414.2 142.0L416.0 142.6L417.9 143.1M375.5 125.1L377.3 125.9L379.2 126.7L381.0 127.5L382.9 128.2L384.7 128.9L386.5 129.6L388.4 130.3L390.2 131.0L392.1 131.7L393.9 132.4L395.8 133.0L397.6 133.7L399.4 134.3L401.3 134.9L403.1 135.5L405.0 136.1L406.8 136.7L408.7 137.3L410.5 137.8L412.3 138.4L414.2 138.9L416.0 139.5L417.9 140.0M384.7 125.4L386.5 126.1L388.4 126.8L390.2 127.6L392.1 128.3L393.9 129.0L395.8 129.6L397.6 130.3L399.4 131.0L401.3 131.6L403.1 132.3L405.0 132.9L406.8 133.5L408.7 134.1L410.5 134.7L412.3 135.3L414.2 135.8L416.0 136.4L417.9 137.0M392.1 124.8L393.9 125.6L395.8 126.3L397.6 127.0L399.4 127.7L401.3 128.3L403.1 129.0L405.0 129.7L406.8 130.3L408.7 130.9L410.5 131.5L412.3 132.1L414.2 132.7L416.0 133.3L417.9 133.9M401.3 125.0L403.1 125.7L405.0 126.4L406.8 127.1L408.7 127.7L410.5 128.4L412.3 129.0L414.2 129.7L416.0 130.3L417.9 130.9M410.5 125.2L412.3 125.9L414.2 126.6L416.0 127.2L417.9 127.8" fill="none" stroke="#000" stroke-width="1.75" stroke-linejoin="round"/>
<circle cx="236.1" cy="141.5" r="1.35" fill="#00c800"/>
<circle cx="246.1" cy="141.5" r="1.35" fill="#00c800"/>
<circle cx="256.1" cy="141.5" r="1.35" fill="#00c800"/>
<circle cx="266.1" cy="141.5" r="1.35" fill="#00c800"/>
<circle cx="276.1" cy="141.5" r="1.35" fill="#00c800"/>
<circle cx="286.1" cy="141.5" r="1.35" fill="#00c800"/>
<circle cx="296.1" cy="141.5" r="1.35" fill="#00c800"/>
<circle cx="306.1" cy="141.5" r="1.35" fill="#00c800"/>
<circle cx="316.1" cy="141.5" r="1.35" fill="#00c800"/>
<circle cx="326.1" cy="141.5" r="1.35" fill="#00c800"/>
<circle cx="336.1" cy="141.5" r="1.35" fill="#00c800"/>
<circle cx="346.1" cy="141.5" r="1.35" fill="#00c800"/>
<circle cx="356.1" cy="141.5" r="1.35" fill="#00c800"/>
<circle cx="366.1" cy="141.5" r="1.35" fill="#00c800"/>
<circle cx="376.1" cy="141.5" r="1.35" fill="#00c800"/>
<circle cx="386.1" cy="141.5" r="1.35" fill="#00c800"/>
<circle cx="396.1" cy="141.5" r="1.35" fill="#00c800"/>
<circle cx="406.1" cy="141.5" r="1.35" fill="#00c800"/>
<circle cx="329.6" cy="194.4" r="1.35" fill="#00c800"/>
<circle cx="392.2" cy="194.4" r="1.35" fill="#00c800"/>
</g>
<path d="M231.00 139.70h4.5M413.40 139.70h-4.5M231.00 172.32h4.5M413.40 172.32h-4.5M231.00 204.93h4.5M413.40 204.93h-4.5M231.00 237.54h4.5M413.40 237.54h-4.5M253.20 253.85v-4.2M253.20 131.55v4.2M276.23 253.85v-4.2M276.23 131.55v4.2M299.26 253.85v-4.2M299.26 131.55v4.2M322.29 253.85v-4.2M322.29 131.55v4.2M345.32 253.85v-4.2M345.32 131.55v4.2M368.35 253.85v-4.2M368.35 131.55v4.2M391.38 253.85v-4.2M391.38 131.55v4.2" stroke="#000" stroke-width="0.8" fill="none"/>
<rect x="231.00" y="131.55" width="182.40" height="122.30" fill="none" stroke="#000" stroke-width="1.1"/>
<rect x="379.50" y="234.45" width="31.2" height="15.2" fill="#fff" stroke="#000" stroke-width="0.8"/>
<g clip-path="url(#c20)">
<path d="M45.6 292.7h2v2h-2zM48.8 292.7h2v2h-2zM52.0 292.7h2v2h-2zM55.2 292.7h2v2h-2zM58.4 292.7h2v2h-2zM61.6 292.7h2v2h-2zM64.8 292.7h2v2h-2zM68.0 292.7h2v2h-2zM71.2 292.7h2v2h-2zM74.4 292.7h2v2h-2zM77.6 292.7h2v2h-2zM80.8 292.7h2v2h-2zM84.0 292.7h2v2h-2zM87.2 292.7h2v2h-2zM90.4 292.7h2v2h-2zM93.6 292.7h2v2h-2zM96.8 292.7h2v2h-2zM100.0 292.7h2v2h-2zM103.2 292.7h2v2h-2zM106.4 292.7h2v2h-2zM109.6 292.7h2v2h-2zM112.8 292.7h2v2h-2zM116.0 292.7h2v2h-2zM119.2 292.7h2v2h-2zM122.4 292.7h2v2h-2zM125.6 292.7h2v2h-2zM128.8 292.7h2v2h-2zM132.0 292.7h2v2h-2zM135.2 292.7h2v2h-2zM138.4 292.7h2v2h-2zM141.6 292.7h2v2h-2zM144.8 292.7h2v2h-2zM148.0 292.7h2v2h-2zM151.2 292.7h2v2h-2zM154.3 292.7h2v2h-2zM157.5 292.7h2v2h-2zM160.7 292.7h2v2h-2zM163.9 292.7h2v2h-2zM167.1 292.7h2v2h-2zM170.3 292.7h2v2h-2zM173.5 292.7h2v2h-2zM176.7 292.7h2v2h-2zM179.9 292.7h2v2h-2zM183.1 292.7h2v2h-2zM186.3 292.7h2v2h-2zM189.5 292.7h2v2h-2zM192.7 292.7h2v2h-2zM195.9 292.7h2v2h-2zM199.1 292.7h2v2h-2zM202.3 292.7h2v2h-2zM205.5 292.7h2v2h-2zM208.7 292.7h2v2h-2zM211.9 292.7h2v2h-2zM215.1 292.7h2v2h-2zM218.3 292.7h2v2h-2zM221.5 292.7h2v2h-2zM224.7 292.7h2v2h-2zM45.6 345.8h2v2h-2zM48.8 345.8h2v2h-2zM52.0 345.8h2v2h-2zM55.2 345.8h2v2h-2zM58.4 345.8h2v2h-2zM61.6 345.8h2v2h-2zM64.8 345.8h2v2h-2zM68.0 345.8h2v2h-2zM71.2 345.8h2v2h-2zM74.4 345.8h2v2h-2zM77.6 345.8h2v2h-2zM80.8 345.8h2v2h-2zM84.0 345.8h2v2h-2zM87.2 345.7h2v2h-2zM90.4 345.7h2v2h-2zM93.6 345.7h2v2h-2zM96.8 345.7h2v2h-2zM100.0 345.7h2v2h-2zM103.2 345.5h2v2h-2zM106.4 345.2h2v2h-2zM109.6 344.9h2v2h-2zM112.8 344.6h2v2h-2zM116.0 344.4h2v2h-2zM119.2 344.1h2v2h-2zM122.4 343.9h2v2h-2zM125.6 343.6h2v2h-2zM128.8 343.4h2v2h-2zM132.0 343.2h2v2h-2zM135.2 342.9h2v2h-2zM138.4 342.7h2v2h-2zM141.6 342.5h2v2h-2zM144.8 342.2h2v2h-2zM148.0 342.0h2v2h-2zM151.2 341.8h2v2h-2zM154.3 341.5h2v2h-2zM157.5 341.3h2v2h-2zM160.7 341.1h2v2h-2zM163.9 340.9h2v2h-2zM167.1 340.7h2v2h-2zM170.3 340.6h2v2h-2zM173.5 340.4h2v2h-2zM176.7 340.3h2v2h-2zM179.9 340.1h2v2h-2zM183.1 340.0h2v2h-2zM186.3 339.9h2v2h-2zM189.5 339.7h2v2h-2zM192.7 339.6h2v2h-2zM195.9 339.5h2v2h-2zM199.1 339.4h2v2h-2zM202.3 339.3h2v2h-2zM205.5 339.2h2v2h-2zM208.7 339.1h2v2h-2zM211.9 339.0h2v2h-2zM215.1 338.9h2v2h-2zM218.3 338.8h2v2h-2zM221.5 338.8h2v2h-2zM224.7 338.7h2v2h-2zM45.6 356.4h2v2h-2zM48.8 355.9h2v2h-2zM52.0 355.3h2v2h-2zM55.2 354.7h2v2h-2zM58.4 354.0h2v2h-2zM61.6 353.3h2v2h-2zM64.8 352.7h2v2h-2zM68.0 352.0h2v2h-2zM71.2 351.4h2v2h-2zM74.4 350.7h2v2h-2zM77.6 350.1h2v2h-2zM80.8 349.6h2v2h-2zM84.0 349.0h2v2h-2zM87.2 348.5h2v2h-2zM90.4 348.0h2v2h-2zM93.6 347.5h2v2h-2zM96.8 347.0h2v2h-2zM100.0 346.6h2v2h-2zM103.2 346.2h2v2h-2zM106.4 345.8h2v2h-2zM109.6 345.4h2v2h-2zM112.8 345.0h2v2h-2zM116.0 344.6h2v2h-2zM45.6 363.1h2v2h-2zM48.8 362.3h2v2h-2zM52.0 361.5h2v2h-2zM55.2 360.7h2v2h-2zM58.4 359.8h2v2h-2zM61.6 359.0h2v2h-2zM64.8 358.1h2v2h-2zM68.0 357.3h2v2h-2zM71.2 356.6h2v2h-2zM74.4 355.8h2v2h-2zM77.6 355.1h2v2h-2zM80.8 354.4h2v2h-2zM84.0 353.7h2v2h-2zM87.2 353.1h2v2h-2zM90.4 352.5h2v2h-2zM93.6 352.0h2v2h-2zM96.8 351.4h2v2h-2zM100.0 350.9h2v2h-2zM103.2 350.4h2v2h-2zM106.4 349.9h2v2h-2zM109.6 349.5h2v2h-2zM112.8 349.0h2v2h-2zM116.0 348.6h2v2h-2zM119.2 348.1h2v2h-2zM122.4 347.7h2v2h-2zM125.6 347.2h2v2h-2zM128.8 346.8h2v2h-2zM132.0 346.4h2v2h-2zM135.2 346.0h2v2h-2zM138.4 345.6h2v2h-2zM141.6 345.2h2v2h-2zM144.8 344.9h2v2h-2zM148.0 344.5h2v2h-2zM151.2 344.2h2v2h-2zM154.3 343.9h2v2h-2zM157.5 343.7h2v2h-2zM160.7 343.4h2v2h-2zM163.9 343.2h2v2h-2zM167.1 342.9h2v2h-2zM170.3 342.7h2v2h-2zM173.5 342.5h2v2h-2zM176.7 342.3h2v2h-2zM179.9 342.1h2v2h-2zM183.1 342.0h2v2h-2zM186.3 341.8h2v2h-2zM189.5 341.6h2v2h-2zM192.7 341.5h2v2h-2zM195.9 341.3h2v2h-2zM199.1 341.2h2v2h-2zM202.3 341.1h2v2h-2zM205.5 340.9h2v2h-2zM208.7 340.8h2v2h-2zM211.9 340.7h2v2h-2zM215.1 340.6h2v2h-2zM218.3 340.4h2v2h-2zM221.5 340.3h2v2h-2zM224.7 340.2h2v2h-2zM45.6 369.8h2v2h-2zM48.8 368.8h2v2h-2zM52.0 367.7h2v2h-2zM55.2 366.7h2v2h-2zM58.4 365.6h2v2h-2zM61.6 364.6h2v2h-2zM64.8 363.6h2v2h-2zM68.0 362.7h2v2h-2zM71.2 361.8h2v2h-2zM74.4 360.9h2v2h-2zM77.6 360.0h2v2h-2zM80.8 359.3h2v2h-2zM84.0 358.5h2v2h-2zM87.2 357.8h2v2h-2zM90.4 357.1h2v2h-2zM93.6 356.4h2v2h-2zM96.8 355.8h2v2h-2zM100.0 355.2h2v2h-2zM103.2 354.6h2v2h-2zM106.4 354.1h2v2h-2zM109.6 353.6h2v2h-2zM112.8 353.1h2v2h-2zM116.0 352.6h2v2h-2zM119.2 352.1h2v2h-2zM122.4 351.5h2v2h-2zM125.6 351.0h2v2h-2zM128.8 350.6h2v2h-2zM132.0 350.1h2v2h-2zM135.2 349.6h2v2h-2zM138.4 349.2h2v2h-2zM141.6 348.8h2v2h-2zM144.8 348.4h2v2h-2zM148.0 348.0h2v2h-2zM151.2 347.7h2v2h-2zM154.3 347.3h2v2h-2zM157.5 347.0h2v2h-2zM160.7 346.7h2v2h-2zM163.9 346.5h2v2h-2zM167.1 346.2h2v2h-2zM170.3 346.0h2v2h-2zM173.5 345.7h2v2h-2zM176.7 345.5h2v2h-2zM179.9 345.3h2v2h-2zM183.1 345.1h2v2h-2zM186.3 344.9h2v2h-2zM189.5 344.8h2v2h-2zM192.7 344.6h2v2h-2zM195.9 344.4h2v2h-2zM199.1 344.3h2v2h-2zM202.3 344.1h2v2h-2zM205.5 343.9h2v2h-2zM208.7 343.8h2v2h-2zM211.9 343.7h2v2h-2zM215.1 343.5h2v2h-2zM218.3 343.4h2v2h-2zM221.5 343.3h2v2h-2zM224.7 343.2h2v2h-2zM45.6 376.5h2v2h-2zM48.8 375.2h2v2h-2zM52.0 373.9h2v2h-2zM55.2 372.6h2v2h-2zM58.4 371.4h2v2h-2zM61.6 370.2h2v2h-2zM64.8 369.1h2v2h-2zM68.0 368.0h2v2h-2zM71.2 367.0h2v2h-2zM74.4 366.0h2v2h-2zM77.6 365.0h2v2h-2zM80.8 364.1h2v2h-2zM84.0 363.2h2v2h-2zM87.2 362.4h2v2h-2zM90.4 361.6h2v2h-2zM93.6 360.9h2v2h-2zM96.8 360.2h2v2h-2zM100.0 359.5h2v2h-2zM103.2 358.9h2v2h-2zM106.4 358.3h2v2h-2zM109.6 357.7h2v2h-2zM112.8 357.1h2v2h-2zM116.0 356.5h2v2h-2zM119.2 356.0h2v2h-2zM122.4 355.4h2v2h-2zM125.6 354.8h2v2h-2zM128.8 354.3h2v2h-2zM132.0 353.8h2v2h-2zM135.2 353.3h2v2h-2zM138.4 352.8h2v2h-2zM141.6 352.3h2v2h-2zM144.8 351.9h2v2h-2zM148.0 351.5h2v2h-2zM151.2 351.1h2v2h-2zM154.3 350.7h2v2h-2zM157.5 350.4h2v2h-2zM160.7 350.1h2v2h-2zM163.9 349.8h2v2h-2zM167.1 349.5h2v2h-2zM170.3 349.2h2v2h-2zM173.5 349.0h2v2h-2zM176.7 348.7h2v2h-2zM179.9 348.5h2v2h-2zM183.1 348.3h2v2h-2zM186.3 348.1h2v2h-2zM189.5 347.9h2v2h-2zM192.7 347.7h2v2h-2zM195.9 347.5h2v2h-2zM199.1 347.3h2v2h-2zM202.3 347.1h2v2h-2zM205.5 347.0h2v2h-2zM208.7 346.8h2v2h-2zM211.9 346.7h2v2h-2zM215.1 346.5h2v2h-2zM218.3 346.4h2v2h-2zM221.5 346.2h2v2h-2zM224.7 346.1h2v2h-2zM48.8 381.6h2v2h-2zM52.0 380.1h2v2h-2zM55.2 378.6h2v2h-2zM58.4 377.2h2v2h-2zM61.6 375.9h2v2h-2zM64.8 374.6h2v2h-2zM68.0 373.3h2v2h-2zM71.2 372.2h2v2h-2zM74.4 371.0h2v2h-2zM77.6 370.0h2v2h-2zM80.8 368.9h2v2h-2zM84.0 368.0h2v2h-2zM87.2 367.1h2v2h-2zM90.4 366.2h2v2h-2zM93.6 365.4h2v2h-2zM96.8 364.6h2v2h-2zM100.0 363.8h2v2h-2zM103.2 363.1h2v2h-2zM106.4 362.4h2v2h-2zM109.6 361.8h2v2h-2zM112.8 361.2h2v2h-2zM116.0 360.5h2v2h-2zM119.2 359.9h2v2h-2zM122.4 359.3h2v2h-2zM125.6 358.6h2v2h-2zM128.8 358.1h2v2h-2zM132.0 357.5h2v2h-2zM135.2 356.9h2v2h-2zM138.4 356.4h2v2h-2zM141.6 355.9h2v2h-2zM144.8 355.4h2v2h-2zM148.0 355.0h2v2h-2zM151.2 354.6h2v2h-2zM154.3 354.1h2v2h-2zM157.5 353.8h2v2h-2zM160.7 353.4h2v2h-2zM163.9 353.1h2v2h-2zM167.1 352.8h2v2h-2zM170.3 352.5h2v2h-2zM173.5 352.2h2v2h-2zM176.7 351.9h2v2h-2zM179.9 351.7h2v2h-2zM183.1 351.4h2v2h-2zM186.3 351.2h2v2h-2zM189.5 351.0h2v2h-2zM192.7 350.8h2v2h-2zM195.9 350.6h2v2h-2zM199.1 350.4h2v2h-2zM202.3 350.2h2v2h-2zM205.5 350.0h2v2h-2zM208.7 349.8h2v2h-2zM211.9 349.6h2v2h-2zM215.1 349.5h2v2h-2zM218.3 349.3h2v2h-2zM221.5 349.2h2v2h-2zM224.7 349.0h2v2h-2zM61.6 381.5h2v2h-2zM64.8 380.1h2v2h-2zM68.0 378.7h2v2h-2zM71.2 377.4h2v2h-2zM74.4 376.1h2v2h-2zM77.6 374.9h2v2h-2zM80.8 373.8h2v2h-2zM84.0 372.7h2v2h-2zM87.2 371.7h2v2h-2zM90.4 370.8h2v2h-2zM93.6 369.8h2v2h-2zM96.8 369.0h2v2h-2zM100.0 368.1h2v2h-2zM103.2 367.4h2v2h-2zM106.4 366.6h2v2h-2zM109.6 365.9h2v2h-2zM112.8 365.2h2v2h-2zM116.0 364.5h2v2h-2zM119.2 363.8h2v2h-2zM122.4 363.1h2v2h-2zM125.6 362.4h2v2h-2zM128.8 361.8h2v2h-2zM132.0 361.2h2v2h-2zM135.2 360.6h2v2h-2zM138.4 360.0h2v2h-2zM141.6 359.5h2v2h-2zM144.8 358.9h2v2h-2zM148.0 358.5h2v2h-2zM151.2 358.0h2v2h-2zM154.3 357.6h2v2h-2zM157.5 357.1h2v2h-2zM160.7 356.8h2v2h-2zM163.9 356.4h2v2h-2zM167.1 356.0h2v2h-2zM170.3 355.7h2v2h-2zM173.5 355.4h2v2h-2zM176.7 355.1h2v2h-2zM179.9 354.9h2v2h-2zM183.1 354.6h2v2h-2zM186.3 354.3h2v2h-2zM189.5 354.1h2v2h-2zM192.7 353.9h2v2h-2zM195.9 353.6h2v2h-2zM199.1 353.4h2v2h-2zM202.3 353.2h2v2h-2zM205.5 353.0h2v2h-2zM208.7 352.8h2v2h-2zM211.9 352.6h2v2h-2zM215.1 352.5h2v2h-2zM218.3 352.3h2v2h-2zM221.5 352.1h2v2h-2zM224.7 352.0h2v2h-2zM74.4 381.2h2v2h-2zM77.6 379.9h2v2h-2zM80.8 378.6h2v2h-2zM84.0 377.5h2v2h-2zM87.2 376.4h2v2h-2zM90.4 375.3h2v2h-2zM93.6 374.3h2v2h-2zM96.8 373.4h2v2h-2zM100.0 372.5h2v2h-2zM103.2 371.6h2v2h-2zM106.4 370.8h2v2h-2zM109.6 370.0h2v2h-2zM112.8 369.2h2v2h-2zM116.0 368.5h2v2h-2zM119.2 367.7h2v2h-2zM122.4 367.0h2v2h-2zM125.6 366.3h2v2h-2zM128.8 365.6h2v2h-2zM132.0 364.9h2v2h-2zM135.2 364.2h2v2h-2zM138.4 363.6h2v2h-2zM141.6 363.0h2v2h-2zM144.8 362.5h2v2h-2zM148.0 361.9h2v2h-2zM151.2 361.4h2v2h-2zM154.3 361.0h2v2h-2zM157.5 360.5h2v2h-2zM160.7 360.1h2v2h-2zM163.9 359.7h2v2h-2zM167.1 359.3h2v2h-2zM170.3 359.0h2v2h-2zM173.5 358.7h2v2h-2zM176.7 358.3h2v2h-2zM179.9 358.0h2v2h-2zM183.1 357.8h2v2h-2zM186.3 357.5h2v2h-2zM189.5 357.2h2v2h-2zM192.7 357.0h2v2h-2zM195.9 356.7h2v2h-2zM199.1 356.5h2v2h-2zM202.3 356.3h2v2h-2zM205.5 356.0h2v2h-2zM208.7 355.8h2v2h-2zM211.9 355.6h2v2h-2zM215.1 355.4h2v2h-2zM218.3 355.3h2v2h-2zM221.5 355.1h2v2h-2zM224.7 354.9h2v2h-2zM87.2 381.0h2v2h-2zM90.4 379.9h2v2h-2zM93.6 378.8h2v2h-2zM96.8 377.8h2v2h-2zM100.0 376.8h2v2h-2zM103.2 375.8h2v2h-2zM106.4 375.0h2v2h-2zM109.6 374.1h2v2h-2zM112.8 373.3h2v2h-2zM116.0 372.5h2v2h-2zM119.2 371.6h2v2h-2zM122.4 370.8h2v2h-2zM125.6 370.1h2v2h-2zM128.8 369.3h2v2h-2zM132.0 368.6h2v2h-2zM135.2 367.9h2v2h-2zM138.4 367.2h2v2h-2zM141.6 366.6h2v2h-2zM144.8 366.0h2v2h-2zM148.0 365.4h2v2h-2zM151.2 364.9h2v2h-2zM154.3 364.4h2v2h-2zM157.5 363.9h2v2h-2zM160.7 363.4h2v2h-2zM163.9 363.0h2v2h-2zM167.1 362.6h2v2h-2zM170.3 362.2h2v2h-2zM173.5 361.9h2v2h-2zM176.7 361.5h2v2h-2zM179.9 361.2h2v2h-2zM183.1 360.9h2v2h-2zM186.3 360.6h2v2h-2zM189.5 360.3h2v2h-2zM192.7 360.1h2v2h-2zM195.9 359.8h2v2h-2zM199.1 359.5h2v2h-2zM202.3 359.3h2v2h-2zM205.5 359.1h2v2h-2zM208.7 358.8h2v2h-2zM211.9 358.6h2v2h-2zM215.1 358.4h2v2h-2zM218.3 358.2h2v2h-2zM221.5 358.0h2v2h-2zM224.7 357.8h2v2h-2zM100.0 381.1h2v2h-2zM103.2 380.1h2v2h-2zM106.4 379.1h2v2h-2zM109.6 378.2h2v2h-2zM112.8 377.3h2v2h-2zM116.0 376.4h2v2h-2zM119.2 375.6h2v2h-2zM122.4 374.7h2v2h-2zM125.6 373.9h2v2h-2zM128.8 373.1h2v2h-2zM132.0 372.3h2v2h-2zM135.2 371.5h2v2h-2zM138.4 370.8h2v2h-2zM141.6 370.1h2v2h-2zM144.8 369.5h2v2h-2zM148.0 368.9h2v2h-2zM151.2 368.3h2v2h-2zM154.3 367.8h2v2h-2zM157.5 367.3h2v2h-2zM160.7 366.8h2v2h-2zM163.9 366.3h2v2h-2zM167.1 365.9h2v2h-2zM170.3 365.5h2v2h-2zM173.5 365.1h2v2h-2zM176.7 364.7h2v2h-2zM179.9 364.4h2v2h-2zM183.1 364.1h2v2h-2zM186.3 363.7h2v2h-2zM189.5 363.4h2v2h-2zM192.7 363.1h2v2h-2zM195.9 362.9h2v2h-2zM199.1 362.6h2v2h-2zM202.3 362.3h2v2h-2zM205.5 362.1h2v2h-2zM208.7 361.8h2v2h-2zM211.9 361.6h2v2h-2zM215.1 361.4h2v2h-2zM218.3 361.2h2v2h-2zM221.5 361.0h2v2h-2zM224.7 360.8h2v2h-2zM112.8 381.4h2v2h-2zM116.0 380.4h2v2h-2zM119.2 379.5h2v2h-2zM122.4 378.6h2v2h-2zM125.6 377.7h2v2h-2zM128.8 376.8h2v2h-2zM132.0 376.0h2v2h-2zM135.2 375.2h2v2h-2zM138.4 374.4h2v2h-2zM141.6 373.7h2v2h-2zM144.8 373.0h2v2h-2zM148.0 372.4h2v2h-2zM151.2 371.8h2v2h-2zM154.3 371.2h2v2h-2zM157.5 370.6h2v2h-2zM160.7 370.1h2v2h-2zM163.9 369.6h2v2h-2zM167.1 369.2h2v2h-2zM170.3 368.7h2v2h-2zM173.5 368.3h2v2h-2zM176.7 367.9h2v2h-2zM179.9 367.6h2v2h-2zM183.1 367.2h2v2h-2zM186.3 366.9h2v2h-2zM189.5 366.6h2v2h-2zM192.7 366.2h2v2h-2zM224.7 363.7h2v2h-2zM125.6 381.5h2v2h-2zM128.8 380.6h2v2h-2zM132.0 379.7h2v2h-2zM135.2 378.8h2v2h-2zM138.4 378.0h2v2h-2zM141.6 377.3h2v2h-2zM144.8 376.5h2v2h-2zM148.0 375.8h2v2h-2zM151.2 375.2h2v2h-2zM154.3 374.6h2v2h-2zM157.5 374.0h2v2h-2zM160.7 373.4h2v2h-2zM163.9 372.9h2v2h-2zM167.1 372.4h2v2h-2zM170.3 372.0h2v2h-2zM173.5 371.6h2v2h-2zM176.7 371.1h2v2h-2zM179.9 370.8h2v2h-2zM183.1 370.4h2v2h-2zM186.3 370.0h2v2h-2zM189.5 369.7h2v2h-2zM192.7 369.3h2v2h-2zM224.7 366.7h2v2h-2zM138.4 381.6h2v2h-2zM141.6 380.8h2v2h-2zM144.8 380.1h2v2h-2zM148.0 379.3h2v2h-2zM151.2 378.6h2v2h-2zM154.3 378.0h2v2h-2zM157.5 377.4h2v2h-2zM160.7 376.8h2v2h-2zM163.9 376.2h2v2h-2zM167.1 375.7h2v2h-2zM170.3 375.2h2v2h-2zM173.5 374.8h2v2h-2zM176.7 374.4h2v2h-2zM179.9 373.9h2v2h-2zM183.1 373.5h2v2h-2zM186.3 373.2h2v2h-2zM189.5 372.8h2v2h-2zM192.7 372.4h2v2h-2zM224.7 369.6h2v2h-2zM154.3 381.4h2v2h-2zM157.5 380.7h2v2h-2zM160.7 380.1h2v2h-2zM163.9 379.5h2v2h-2zM167.1 379.0h2v2h-2zM170.3 378.5h2v2h-2zM173.5 378.0h2v2h-2zM176.7 377.6h2v2h-2zM179.9 377.1h2v2h-2zM183.1 376.7h2v2h-2zM186.3 376.3h2v2h-2zM189.5 375.9h2v2h-2zM192.7 375.5h2v2h-2zM224.7 372.5h2v2h-2zM170.3 381.7h2v2h-2zM173.5 381.2h2v2h-2zM176.7 380.8h2v2h-2zM179.9 380.3h2v2h-2zM183.1 379.8h2v2h-2zM186.3 379.4h2v2h-2zM189.5 379.0h2v2h-2zM192.7 378.6h2v2h-2zM195.9 378.2h2v2h-2zM199.1 377.9h2v2h-2zM202.3 377.5h2v2h-2zM205.5 377.2h2v2h-2zM208.7 376.9h2v2h-2zM211.9 376.6h2v2h-2zM215.1 376.3h2v2h-2zM218.3 376.0h2v2h-2zM221.5 375.7h2v2h-2zM224.7 375.5h2v2h-2zM192.7 381.7h2v2h-2zM195.9 381.3h2v2h-2zM199.1 380.9h2v2h-2zM202.3 380.6h2v2h-2zM205.5 380.2h2v2h-2zM208.7 379.9h2v2h-2zM211.9 379.6h2v2h-2zM215.1 379.3h2v2h-2zM218.3 379.0h2v2h-2zM221.5 378.7h2v2h-2zM224.7 378.4h2v2h-2zM221.5 381.6h2v2h-2zM224.7 381.3h2v2h-2z" fill="#cc2000"/>
<path d="M43.3 288.3L45.2 290.3L47.0 292.2L48.9 293.8L50.7 295.4L52.6 296.8L54.4 298.1L56.2 299.4L58.1 300.5L59.9 301.6L61.8 302.6L63.6 303.5L65.4 304.4L67.3 305.2L69.1 306.0L71.0 306.8L72.8 307.5L74.7 308.1L76.5 308.7L78.3 309.3L80.2 309.9L82.0 310.4L83.9 311.0L85.7 311.5L87.6 311.9L89.4 312.4L91.2 312.8L93.1 313.2L94.9 313.6L96.8 314.0L98.6 314.3L100.5 314.7L102.3 315.0L104.1 315.3L106.0 315.7L107.8 316.0L109.7 316.2L111.5 316.5L113.4 316.8L115.2 317.1L117.0 317.3L118.9 317.5L120.7 317.8L122.6 318.0L124.4 318.2L126.2 318.4L128.1 318.7L129.9 318.9L131.8 319.0L133.6 319.2L135.5 319.4L137.3 319.6L139.1 319.8L141.0 319.9L142.8 320.1L144.7 320.3L146.5 320.4L148.4 320.6L150.2 320.7L152.0 320.9L153.9 321.0L155.7 321.1L157.6 321.3L159.4 321.4L161.3 321.5L163.1 321.7L164.9 321.8L166.8 321.9L168.6 322.0L170.5 322.1L172.3 322.2L174.2 322.3L176.0 322.5L177.8 322.6L179.7 322.7L181.5 322.8L183.4 322.9L185.2 323.0L187.0 323.0L188.9 323.1L190.7 323.2L192.6 323.3L194.4 323.4L196.3 323.5L198.1 323.6L199.9 323.6L201.8 323.7L203.6 323.8L205.5 323.9L207.3 324.0L209.2 324.0L211.0 324.1L212.8 324.2L214.7 324.2L216.5 324.3L218.4 324.4L220.2 324.4L222.1 324.5L223.9 324.6L225.7 324.6L227.6 324.7L229.4 324.8L231.3 324.8M43.3 269.4L45.2 272.2L47.0 274.9L48.9 277.3L50.7 279.5L52.6 281.6L54.4 283.5L56.2 285.2L58.1 286.9L59.9 288.4L61.8 289.8L63.6 291.2L65.4 292.5L67.3 293.7L69.1 294.8L71.0 295.8L72.8 296.8L74.7 297.8L76.5 298.7L78.3 299.5L80.2 300.4L82.0 301.1L83.9 301.9L85.7 302.6L87.6 303.2L89.4 303.9L91.2 304.5L93.1 305.1L94.9 305.7L96.8 306.2L98.6 306.7L100.5 307.2L102.3 307.7L104.1 308.2L106.0 308.6L107.8 309.0L109.7 309.4L111.5 309.8L113.4 310.2L115.2 310.6L117.0 311.0L118.9 311.3L120.7 311.6L122.6 312.0L124.4 312.3L126.2 312.6L128.1 312.9L129.9 313.2L131.8 313.5L133.6 313.7L135.5 314.0L137.3 314.2L139.1 314.5L141.0 314.7L142.8 315.0L144.7 315.2L146.5 315.4L148.4 315.6L150.2 315.9L152.0 316.1L153.9 316.3L155.7 316.5L157.6 316.7L159.4 316.8L161.3 317.0L163.1 317.2L164.9 317.4L166.8 317.5L168.6 317.7L170.5 317.9L172.3 318.0L174.2 318.2L176.0 318.3L177.8 318.5L179.7 318.6L181.5 318.8L183.4 318.9L185.2 319.0L187.0 319.2L188.9 319.3L190.7 319.4L192.6 319.6L194.4 319.7L196.3 319.8L198.1 319.9L199.9 320.0L201.8 320.2L203.6 320.3L205.5 320.4L207.3 320.5L209.2 320.6L211.0 320.7L212.8 320.8L214.7 320.9L216.5 321.0L218.4 321.1L220.2 321.2L222.1 321.3L223.9 321.4L225.7 321.5L227.6 321.6L229.4 321.6L231.3 321.7M43.3 250.4L45.2 254.1L47.0 257.6L48.9 260.7L50.7 263.6L52.6 266.3L54.4 268.8L56.2 271.1L58.1 273.2L59.9 275.2L61.8 277.1L63.6 278.9L65.4 280.5L67.3 282.1L69.1 283.5L71.0 284.9L72.8 286.2L74.7 287.5L76.5 288.6L78.3 289.8L80.2 290.8L82.0 291.8L83.9 292.8L85.7 293.7L87.6 294.6L89.4 295.4L91.2 296.2L93.1 297.0L94.9 297.7L96.8 298.4L98.6 299.1L100.5 299.7L102.3 300.4L104.1 301.0L106.0 301.5L107.8 302.1L109.7 302.6L111.5 303.2L113.4 303.7L115.2 304.1L117.0 304.6L118.9 305.1L120.7 305.5L122.6 305.9L124.4 306.3L126.2 306.7L128.1 307.1L129.9 307.5L131.8 307.9L133.6 308.2L135.5 308.6L137.3 308.9L139.1 309.2L141.0 309.5L142.8 309.8L144.7 310.1L146.5 310.4L148.4 310.7L150.2 311.0L152.0 311.3L153.9 311.5L155.7 311.8L157.6 312.0L159.4 312.3L161.3 312.5L163.1 312.7L164.9 313.0L166.8 313.2L168.6 313.4L170.5 313.6L172.3 313.8L174.2 314.0L176.0 314.2L177.8 314.4L179.7 314.6L181.5 314.8L183.4 315.0L185.2 315.1L187.0 315.3L188.9 315.5L190.7 315.6L192.6 315.8L194.4 316.0L196.3 316.1L198.1 316.3L199.9 316.4L201.8 316.6L203.6 316.7L205.5 316.9L207.3 317.0L209.2 317.1L211.0 317.3L212.8 317.4L214.7 317.5L216.5 317.7L218.4 317.8L220.2 317.9L222.1 318.0L223.9 318.2L225.7 318.3L227.6 318.4L229.4 318.5L231.3 318.6M52.6 251.1L54.4 254.1L56.2 257.0L58.1 259.6L59.9 262.1L61.8 264.4L63.6 266.6L65.4 268.6L67.3 270.5L69.1 272.3L71.0 274.0L72.8 275.6L74.7 277.1L76.5 278.6L78.3 280.0L80.2 281.3L82.0 282.5L83.9 283.7L85.7 284.8L87.6 285.9L89.4 286.9L91.2 287.9L93.1 288.9L94.9 289.8L96.8 290.6L98.6 291.5L100.5 292.3L102.3 293.0L104.1 293.8L106.0 294.5L107.8 295.2L109.7 295.8L111.5 296.5L113.4 297.1L115.2 297.7L117.0 298.3L118.9 298.8L120.7 299.4L122.6 299.9L124.4 300.4L126.2 300.9L128.1 301.4L129.9 301.8L131.8 302.3L133.6 302.7L135.5 303.1L137.3 303.5L139.1 303.9L141.0 304.3L142.8 304.7L144.7 305.1L146.5 305.4L148.4 305.8L150.2 306.1L152.0 306.5L153.9 306.8L155.7 307.1L157.6 307.4L159.4 307.7L161.3 308.0L163.1 308.3L164.9 308.5L166.8 308.8L168.6 309.1L170.5 309.3L172.3 309.6L174.2 309.9L176.0 310.1L177.8 310.3L179.7 310.6L181.5 310.8L183.4 311.0L185.2 311.2L187.0 311.4L188.9 311.7L190.7 311.9L192.6 312.1L194.4 312.3L196.3 312.5L198.1 312.6L199.9 312.8L201.8 313.0L203.6 313.2L205.5 313.4L207.3 313.5L209.2 313.7L211.0 313.9L212.8 314.0L214.7 314.2L216.5 314.4L218.4 314.5L220.2 314.7L222.1 314.8L223.9 315.0L225.7 315.1L227.6 315.2L229.4 315.4L231.3 315.5M61.8 251.7L63.6 254.2L65.4 256.7L67.3 258.9L69.1 261.1L71.0 263.1L72.8 265.0L74.7 266.8L76.5 268.5L78.3 270.2L80.2 271.7L82.0 273.2L83.9 274.6L85.7 275.9L87.6 277.2L89.4 278.5L91.2 279.6L93.1 280.7L94.9 281.8L96.8 282.8L98.6 283.8L100.5 284.8L102.3 285.7L104.1 286.6L106.0 287.4L107.8 288.3L109.7 289.0L111.5 289.8L113.4 290.5L115.2 291.2L117.0 291.9L118.9 292.6L120.7 293.2L122.6 293.9L124.4 294.5L126.2 295.0L128.1 295.6L129.9 296.2L131.8 296.7L133.6 297.2L135.5 297.7L137.3 298.2L139.1 298.7L141.0 299.1L142.8 299.6L144.7 300.0L146.5 300.4L148.4 300.8L150.2 301.3L152.0 301.6L153.9 302.0L155.7 302.4L157.6 302.8L159.4 303.1L161.3 303.5L163.1 303.8L164.9 304.1L166.8 304.5L168.6 304.8L170.5 305.1L172.3 305.4L174.2 305.7L176.0 306.0L177.8 306.3L179.7 306.5L181.5 306.8L183.4 307.1L185.2 307.3L187.0 307.6L188.9 307.8L190.7 308.1L192.6 308.3L194.4 308.5L196.3 308.8L198.1 309.0L199.9 309.2L201.8 309.4L203.6 309.7L205.5 309.9L207.3 310.1L209.2 310.3L211.0 310.5L212.8 310.7L214.7 310.9L216.5 311.0L218.4 311.2L220.2 311.4L222.1 311.6L223.9 311.8L225.7 311.9L227.6 312.1L229.4 312.3L231.3 312.4M71.0 252.2L72.8 254.4L74.7 256.5L76.5 258.5L78.3 260.4L80.2 262.2L82.0 263.9L83.9 265.5L85.7 267.1L87.6 268.6L89.4 270.0L91.2 271.3L93.1 272.6L94.9 273.9L96.8 275.1L98.6 276.2L100.5 277.3L102.3 278.4L104.1 279.4L106.0 280.4L107.8 281.3L109.7 282.2L111.5 283.1L113.4 284.0L115.2 284.8L117.0 285.6L118.9 286.4L120.7 287.1L122.6 287.8L124.4 288.5L126.2 289.2L128.1 289.8L129.9 290.5L131.8 291.1L133.6 291.7L135.5 292.3L137.3 292.8L139.1 293.4L141.0 293.9L142.8 294.4L144.7 294.9L146.5 295.4L148.4 295.9L150.2 296.4L152.0 296.8L153.9 297.3L155.7 297.7L157.6 298.1L159.4 298.5L161.3 299.0L163.1 299.3L164.9 299.7L166.8 300.1L168.6 300.5L170.5 300.8L172.3 301.2L174.2 301.5L176.0 301.9L177.8 302.2L179.7 302.5L181.5 302.8L183.4 303.1L185.2 303.4L187.0 303.7L188.9 304.0L190.7 304.3L192.6 304.6L194.4 304.8L196.3 305.1L198.1 305.4L199.9 305.6L201.8 305.9L203.6 306.1L205.5 306.4L207.3 306.6L209.2 306.8L211.0 307.1L212.8 307.3L214.7 307.5L216.5 307.7L218.4 307.9L220.2 308.1L222.1 308.3L223.9 308.5L225.7 308.7L227.6 308.9L229.4 309.1L231.3 309.3M80.2 252.6L82.0 254.6L83.9 256.4L85.7 258.2L87.6 259.9L89.4 261.5L91.2 263.0L93.1 264.5L94.9 265.9L96.8 267.3L98.6 268.6L100.5 269.8L102.3 271.0L104.1 272.2L106.0 273.3L107.8 274.4L109.7 275.4L111.5 276.4L113.4 277.4L115.2 278.3L117.0 279.2L118.9 280.1L120.7 281.0L122.6 281.8L124.4 282.6L126.2 283.3L128.1 284.1L129.9 284.8L131.8 285.5L133.6 286.2L135.5 286.8L137.3 287.5L139.1 288.1L141.0 288.7L142.8 289.3L144.7 289.9L146.5 290.4L148.4 291.0L150.2 291.5L152.0 292.0L153.9 292.5L155.7 293.0L157.6 293.5L159.4 294.0L161.3 294.4L163.1 294.9L164.9 295.3L166.8 295.7L168.6 296.2L170.5 296.6L172.3 297.0L174.2 297.4L176.0 297.7L177.8 298.1L179.7 298.5L181.5 298.8L183.4 299.2L185.2 299.5L187.0 299.8L188.9 300.2L190.7 300.5L192.6 300.8L194.4 301.1L196.3 301.4L198.1 301.7L199.9 302.0L201.8 302.3L203.6 302.6L205.5 302.9L207.3 303.1L209.2 303.4L211.0 303.6L212.8 303.9L214.7 304.2L216.5 304.4L218.4 304.6L220.2 304.9L222.1 305.1L223.9 305.3L225.7 305.6L227.6 305.8L229.4 306.0L231.3 306.2M89.4 253.0L91.2 254.7L93.1 256.4L94.9 258.0L96.8 259.5L98.6 261.0L100.5 262.4L102.3 263.7L104.1 265.0L106.0 266.3L107.8 267.5L109.7 268.6L111.5 269.8L113.4 270.8L115.2 271.9L117.0 272.9L118.9 273.9L120.7 274.8L122.6 275.7L124.4 276.6L126.2 277.5L128.1 278.3L129.9 279.1L131.8 279.9L133.6 280.7L135.5 281.4L137.3 282.1L139.1 282.8L141.0 283.5L142.8 284.2L144.7 284.8L146.5 285.4L148.4 286.1L150.2 286.6L152.0 287.2L153.9 287.8L155.7 288.3L157.6 288.9L159.4 289.4L161.3 289.9L163.1 290.4L164.9 290.9L166.8 291.4L168.6 291.8L170.5 292.3L172.3 292.7L174.2 293.2L176.0 293.6L177.8 294.0L179.7 294.4L181.5 294.8L183.4 295.2L185.2 295.6L187.0 296.0L188.9 296.3L190.7 296.7L192.6 297.1L194.4 297.4L196.3 297.7L198.1 298.1L199.9 298.4L201.8 298.7L203.6 299.0L205.5 299.3L207.3 299.6L209.2 299.9L211.0 300.2L212.8 300.5L214.7 300.8L216.5 301.1L218.4 301.4L220.2 301.6L222.1 301.9L223.9 302.1L225.7 302.4L227.6 302.6L229.4 302.9L231.3 303.1M98.6 253.3L100.5 254.9L102.3 256.4L104.1 257.8L106.0 259.2L107.8 260.5L109.7 261.8L111.5 263.1L113.4 264.3L115.2 265.4L117.0 266.5L118.9 267.6L120.7 268.7L122.6 269.7L124.4 270.7L126.2 271.6L128.1 272.6L129.9 273.4L131.8 274.3L133.6 275.2L135.5 276.0L137.3 276.8L139.1 277.6L141.0 278.3L142.8 279.0L144.7 279.8L146.5 280.4L148.4 281.1L150.2 281.8L152.0 282.4L153.9 283.0L155.7 283.7L157.6 284.3L159.4 284.8L161.3 285.4L163.1 286.0L164.9 286.5L166.8 287.0L168.6 287.5L170.5 288.0L172.3 288.5L174.2 289.0L176.0 289.5L177.8 290.0L179.7 290.4L181.5 290.8L183.4 291.3L185.2 291.7L187.0 292.1L188.9 292.5L190.7 292.9L192.6 293.3L194.4 293.7L196.3 294.1L198.1 294.4L199.9 294.8L201.8 295.2L203.6 295.5L205.5 295.8L207.3 296.2L209.2 296.5L211.0 296.8L212.8 297.1L214.7 297.5L216.5 297.8L218.4 298.1L220.2 298.4L222.1 298.6L223.9 298.9L225.7 299.2L227.6 299.5L229.4 299.8L231.3 300.0M106.0 252.2L107.8 253.6L109.7 255.0L111.5 256.4L113.4 257.7L115.2 259.0L117.0 260.2L118.9 261.4L120.7 262.5L122.6 263.7L124.4 264.7L126.2 265.8L128.1 266.8L129.9 267.8L131.8 268.7L133.6 269.7L135.5 270.6L137.3 271.4L139.1 272.3L141.0 273.1L142.8 273.9L144.7 274.7L146.5 275.4L148.4 276.2L150.2 276.9L152.0 277.6L153.9 278.3L155.7 279.0L157.6 279.6L159.4 280.3L161.3 280.9L163.1 281.5L164.9 282.1L166.8 282.7L168.6 283.2L170.5 283.8L172.3 284.3L174.2 284.9L176.0 285.4L177.8 285.9L179.7 286.4L181.5 286.9L183.4 287.3L185.2 287.8L187.0 288.2L188.9 288.7L190.7 289.1L192.6 289.6L194.4 290.0L196.3 290.4L198.1 290.8L199.9 291.2L201.8 291.6L203.6 292.0L205.5 292.3L207.3 292.7L209.2 293.1L211.0 293.4L212.8 293.8L214.7 294.1L216.5 294.4L218.4 294.8L220.2 295.1L222.1 295.4L223.9 295.7L225.7 296.0L227.6 296.3L229.4 296.6L231.3 296.9M115.2 252.5L117.0 253.9L118.9 255.2L120.7 256.4L122.6 257.6L124.4 258.8L126.2 259.9L128.1 261.0L129.9 262.1L131.8 263.1L133.6 264.1L135.5 265.1L137.3 266.1L139.1 267.0L141.0 267.9L142.8 268.8L144.7 269.6L146.5 270.4L148.4 271.3L150.2 272.0L152.0 272.8L153.9 273.6L155.7 274.3L157.6 275.0L159.4 275.7L161.3 276.4L163.1 277.0L164.9 277.7L166.8 278.3L168.6 278.9L170.5 279.5L172.3 280.1L174.2 280.7L176.0 281.2L177.8 281.8L179.7 282.3L181.5 282.9L183.4 283.4L185.2 283.9L187.0 284.4L188.9 284.9L190.7 285.3L192.6 285.8L194.4 286.3L196.3 286.7L198.1 287.2L199.9 287.6L201.8 288.0L203.6 288.4L205.5 288.8L207.3 289.2L209.2 289.6L211.0 290.0L212.8 290.4L214.7 290.8L216.5 291.1L218.4 291.5L220.2 291.8L222.1 292.2L223.9 292.5L225.7 292.9L227.6 293.2L229.4 293.5L231.3 293.8M124.4 252.8L126.2 254.1L128.1 255.3L129.9 256.4L131.8 257.5L133.6 258.6L135.5 259.7L137.3 260.7L139.1 261.7L141.0 262.7L142.8 263.6L144.7 264.6L146.5 265.5L148.4 266.3L150.2 267.2L152.0 268.0L153.9 268.8L155.7 269.6L157.6 270.4L159.4 271.1L161.3 271.8L163.1 272.6L164.9 273.3L166.8 273.9L168.6 274.6L170.5 275.3L172.3 275.9L174.2 276.5L176.0 277.1L177.8 277.7L179.7 278.3L181.5 278.9L183.4 279.4L185.2 280.0L187.0 280.5L188.9 281.0L190.7 281.6L192.6 282.1L194.4 282.6L196.3 283.0L198.1 283.5L199.9 284.0L201.8 284.4L203.6 284.9L205.5 285.3L207.3 285.8L209.2 286.2L211.0 286.6L212.8 287.0L214.7 287.4L216.5 287.8L218.4 288.2L220.2 288.6L222.1 288.9L223.9 289.3L225.7 289.7L227.6 290.0L229.4 290.4L231.3 290.7M133.6 253.1L135.5 254.3L137.3 255.4L139.1 256.4L141.0 257.5L142.8 258.5L144.7 259.5L146.5 260.5L148.4 261.4L150.2 262.3L152.0 263.2L153.9 264.1L155.7 264.9L157.6 265.7L159.4 266.5L161.3 267.3L163.1 268.1L164.9 268.8L166.8 269.6L168.6 270.3L170.5 271.0L172.3 271.7L174.2 272.4L176.0 273.0L177.8 273.6L179.7 274.3L181.5 274.9L183.4 275.5L185.2 276.1L187.0 276.7L188.9 277.2L190.7 277.8L192.6 278.3L194.4 278.8L196.3 279.4L198.1 279.9L199.9 280.4L201.8 280.9L203.6 281.3L205.5 281.8L207.3 282.3L209.2 282.7L211.0 283.2L212.8 283.6L214.7 284.1L216.5 284.5L218.4 284.9L220.2 285.3L222.1 285.7L223.9 286.1L225.7 286.5L227.6 286.9L229.4 287.3L231.3 287.6M142.8 253.4L144.7 254.4L146.5 255.5L148.4 256.5L150.2 257.4L152.0 258.4L153.9 259.3L155.7 260.2L157.6 261.1L159.4 262.0L161.3 262.8L163.1 263.6L164.9 264.4L166.8 265.2L168.6 266.0L170.5 266.7L172.3 267.5L174.2 268.2L176.0 268.9L177.8 269.6L179.7 270.2L181.5 270.9L183.4 271.5L185.2 272.2L187.0 272.8L188.9 273.4L190.7 274.0L192.6 274.6L194.4 275.1L196.3 275.7L198.1 276.2L199.9 276.8L201.8 277.3L203.6 277.8L205.5 278.3L207.3 278.8L209.2 279.3L211.0 279.8L212.8 280.3L214.7 280.7L216.5 281.2L218.4 281.6L220.2 282.1L222.1 282.5L223.9 282.9L225.7 283.3L227.6 283.7L229.4 284.1L231.3 284.5M152.0 253.6L153.9 254.6L155.7 255.5L157.6 256.5L159.4 257.4L161.3 258.3L163.1 259.2L164.9 260.0L166.8 260.9L168.6 261.7L170.5 262.5L172.3 263.3L174.2 264.0L176.0 264.8L177.8 265.5L179.7 266.2L181.5 266.9L183.4 267.6L185.2 268.3L187.0 268.9L188.9 269.6L190.7 270.2L192.6 270.8L194.4 271.4L196.3 272.0L198.1 272.6L199.9 273.2L201.8 273.7L203.6 274.3L205.5 274.8L207.3 275.3L209.2 275.9L211.0 276.4L212.8 276.9L214.7 277.4L216.5 277.8L218.4 278.3L220.2 278.8L222.1 279.2L223.9 279.7L225.7 280.1L227.6 280.6L229.4 281.0L231.3 281.4M159.4 252.8L161.3 253.8L163.1 254.7L164.9 255.6L166.8 256.5L168.6 257.4L170.5 258.2L172.3 259.0L174.2 259.9L176.0 260.6L177.8 261.4L179.7 262.2L181.5 262.9L183.4 263.6L185.2 264.4L187.0 265.1L188.9 265.7L190.7 266.4L192.6 267.1L194.4 267.7L196.3 268.3L198.1 269.0L199.9 269.6L201.8 270.2L203.6 270.7L205.5 271.3L207.3 271.9L209.2 272.4L211.0 273.0L212.8 273.5L214.7 274.0L216.5 274.5L218.4 275.0L220.2 275.5L222.1 276.0L223.9 276.5L225.7 277.0L227.6 277.4L229.4 277.9L231.3 278.3M168.6 253.1L170.5 254.0L172.3 254.8L174.2 255.7L176.0 256.5L177.8 257.3L179.7 258.1L181.5 258.9L183.4 259.7L185.2 260.4L187.0 261.2L188.9 261.9L190.7 262.6L192.6 263.3L194.4 264.0L196.3 264.7L198.1 265.3L199.9 266.0L201.8 266.6L203.6 267.2L205.5 267.8L207.3 268.4L209.2 269.0L211.0 269.6L212.8 270.1L214.7 270.7L216.5 271.2L218.4 271.7L220.2 272.3L222.1 272.8L223.9 273.3L225.7 273.8L227.6 274.3L229.4 274.8L231.3 275.2M177.8 253.3L179.7 254.1L181.5 254.9L183.4 255.7L185.2 256.5L187.0 257.3L188.9 258.1L190.7 258.8L192.6 259.6L194.4 260.3L196.3 261.0L198.1 261.7L199.9 262.3L201.8 263.0L203.6 263.7L205.5 264.3L207.3 264.9L209.2 265.5L211.0 266.1L212.8 266.7L214.7 267.3L216.5 267.9L218.4 268.5L220.2 269.0L222.1 269.5L223.9 270.1L225.7 270.6L227.6 271.1L229.4 271.6L231.3 272.1M187.0 253.5L188.9 254.3L190.7 255.0L192.6 255.8L194.4 256.6L196.3 257.3L198.1 258.0L199.9 258.7L201.8 259.4L203.6 260.1L205.5 260.8L207.3 261.5L209.2 262.1L211.0 262.7L212.8 263.4L214.7 264.0L216.5 264.6L218.4 265.2L220.2 265.7L222.1 266.3L223.9 266.9L225.7 267.4L227.6 268.0L229.4 268.5L231.3 269.0M194.4 252.8L196.3 253.6L198.1 254.4L199.9 255.1L201.8 255.9L203.6 256.6L205.5 257.3L207.3 258.0L209.2 258.7L211.0 259.3L212.8 260.0L214.7 260.6L216.5 261.3L218.4 261.9L220.2 262.5L222.1 263.1L223.9 263.7L225.7 264.3L227.6 264.8L229.4 265.4L231.3 265.9M203.6 253.0L205.5 253.8L207.3 254.5L209.2 255.2L211.0 255.9L212.8 256.6L214.7 257.3L216.5 257.9L218.4 258.6L220.2 259.2L222.1 259.9L223.9 260.5L225.7 261.1L227.6 261.7L229.4 262.3L231.3 262.8M212.8 253.2L214.7 253.9L216.5 254.6L218.4 255.3L220.2 256.0L222.1 256.6L223.9 257.3L225.7 257.9L227.6 258.5L229.4 259.1L231.3 259.7M222.1 253.4L223.9 254.1L225.7 254.7L227.6 255.4L229.4 256.0L231.3 256.6" fill="none" stroke="#000" stroke-width="1.75" stroke-linejoin="round"/>
<circle cx="48.5" cy="293.7" r="1.35" fill="#00c800"/>
<circle cx="66.3" cy="293.7" r="1.35" fill="#00c800"/>
<circle cx="83.2" cy="293.7" r="1.35" fill="#00c800"/>
<circle cx="98.7" cy="293.7" r="1.35" fill="#00c800"/>
<circle cx="114.9" cy="293.7" r="1.35" fill="#00c800"/>
<circle cx="130.6" cy="293.7" r="1.35" fill="#00c800"/>
<circle cx="146.4" cy="293.7" r="1.35" fill="#00c800"/>
<circle cx="162.6" cy="293.7" r="1.35" fill="#00c800"/>
<circle cx="178.1" cy="293.7" r="1.35" fill="#00c800"/>
<circle cx="193.6" cy="293.7" r="1.35" fill="#00c800"/>
<circle cx="209.4" cy="293.7" r="1.35" fill="#00c800"/>
<circle cx="224.9" cy="293.7" r="1.35" fill="#00c800"/>
</g>
<path d="M44.40 267.75h4.5M226.80 267.75h-4.5M44.40 300.37h4.5M226.80 300.37h-4.5M44.40 332.98h4.5M226.80 332.98h-4.5M44.40 365.59h4.5M226.80 365.59h-4.5M66.60 381.90v-4.2M66.60 259.60v4.2M89.63 381.90v-4.2M89.63 259.60v4.2M112.66 381.90v-4.2M112.66 259.60v4.2M135.69 381.90v-4.2M135.69 259.60v4.2M158.72 381.90v-4.2M158.72 259.60v4.2M181.75 381.90v-4.2M181.75 259.60v4.2M204.78 381.90v-4.2M204.78 259.60v4.2" stroke="#000" stroke-width="0.8" fill="none"/>
<rect x="44.40" y="259.60" width="182.40" height="122.30" fill="none" stroke="#000" stroke-width="1.1"/>
<rect x="192.90" y="362.50" width="31.2" height="15.2" fill="#fff" stroke="#000" stroke-width="0.8"/>
<g clip-path="url(#c21)">
<path d="M232.2 320.1h2v2h-2zM235.4 320.1h2v2h-2zM238.6 320.1h2v2h-2zM241.8 320.1h2v2h-2zM245.0 320.1h2v2h-2zM248.2 320.1h2v2h-2zM251.4 320.1h2v2h-2zM254.6 320.1h2v2h-2zM257.8 320.1h2v2h-2zM261.0 320.1h2v2h-2zM264.2 320.1h2v2h-2zM267.4 320.1h2v2h-2zM270.6 320.1h2v2h-2zM273.8 320.1h2v2h-2zM277.0 320.1h2v2h-2zM280.2 320.1h2v2h-2zM283.4 320.1h2v2h-2zM286.6 320.1h2v2h-2zM289.8 320.1h2v2h-2zM293.0 320.1h2v2h-2zM296.2 320.1h2v2h-2zM299.4 320.1h2v2h-2zM302.6 320.1h2v2h-2zM305.8 320.1h2v2h-2zM309.0 320.1h2v2h-2zM312.2 320.1h2v2h-2zM315.4 320.1h2v2h-2zM318.6 320.1h2v2h-2zM321.8 320.1h2v2h-2zM325.0 320.1h2v2h-2zM328.2 320.1h2v2h-2zM331.4 320.1h2v2h-2zM334.6 320.1h2v2h-2zM337.8 320.1h2v2h-2zM340.9 320.1h2v2h-2zM344.1 320.1h2v2h-2zM347.3 320.1h2v2h-2zM350.5 320.1h2v2h-2zM353.7 320.1h2v2h-2zM356.9 320.1h2v2h-2zM360.1 320.1h2v2h-2zM363.3 320.1h2v2h-2zM366.5 320.1h2v2h-2zM369.7 320.1h2v2h-2zM372.9 320.1h2v2h-2zM376.1 320.1h2v2h-2zM379.3 320.1h2v2h-2zM382.5 320.1h2v2h-2zM385.7 320.1h2v2h-2zM388.9 320.1h2v2h-2zM392.1 320.1h2v2h-2zM395.3 320.1h2v2h-2zM398.5 320.1h2v2h-2zM401.7 320.1h2v2h-2zM404.9 320.1h2v2h-2zM408.1 320.1h2v2h-2zM411.3 320.1h2v2h-2zM232.2 364.8h2v2h-2zM235.4 364.8h2v2h-2zM238.6 364.8h2v2h-2zM241.8 364.8h2v2h-2zM245.0 364.8h2v2h-2zM248.2 364.8h2v2h-2zM251.4 364.8h2v2h-2zM254.6 364.8h2v2h-2zM257.8 364.8h2v2h-2zM261.0 364.8h2v2h-2zM264.2 364.8h2v2h-2zM267.4 364.8h2v2h-2zM270.6 364.8h2v2h-2zM273.8 364.8h2v2h-2zM277.0 364.8h2v2h-2zM280.2 364.8h2v2h-2zM283.4 364.8h2v2h-2zM286.6 364.8h2v2h-2zM289.8 364.8h2v2h-2zM293.0 364.8h2v2h-2zM296.2 364.8h2v2h-2zM299.4 364.8h2v2h-2zM302.6 364.8h2v2h-2zM232.2 360.7h2v2h-2zM235.4 359.6h2v2h-2zM238.6 358.5h2v2h-2zM241.8 357.5h2v2h-2zM245.0 356.6h2v2h-2zM248.2 355.7h2v2h-2zM251.4 354.8h2v2h-2zM254.6 354.0h2v2h-2zM257.8 353.3h2v2h-2zM261.0 352.6h2v2h-2zM264.2 351.9h2v2h-2zM267.4 351.3h2v2h-2zM270.6 350.7h2v2h-2zM273.8 350.2h2v2h-2zM277.0 349.6h2v2h-2zM280.2 349.1h2v2h-2zM283.4 348.6h2v2h-2zM286.6 348.2h2v2h-2zM289.8 347.8h2v2h-2zM293.0 347.3h2v2h-2zM296.2 347.0h2v2h-2zM299.4 346.6h2v2h-2zM302.6 346.2h2v2h-2zM305.8 345.8h2v2h-2zM309.0 345.4h2v2h-2zM312.2 345.1h2v2h-2zM315.4 344.7h2v2h-2zM318.6 344.4h2v2h-2zM321.8 344.0h2v2h-2zM325.0 343.7h2v2h-2zM328.2 343.5h2v2h-2zM331.4 343.2h2v2h-2zM334.6 342.9h2v2h-2zM337.8 342.7h2v2h-2zM340.9 342.5h2v2h-2zM344.1 342.3h2v2h-2zM347.3 342.1h2v2h-2zM350.5 341.9h2v2h-2zM353.7 341.8h2v2h-2zM356.9 341.6h2v2h-2zM360.1 341.5h2v2h-2zM363.3 341.4h2v2h-2zM366.5 341.3h2v2h-2zM369.7 341.2h2v2h-2zM372.9 341.0h2v2h-2zM376.1 340.9h2v2h-2zM379.3 340.9h2v2h-2zM382.5 340.8h2v2h-2zM385.7 340.7h2v2h-2zM388.9 340.6h2v2h-2zM392.1 340.5h2v2h-2zM395.3 340.4h2v2h-2zM398.5 340.4h2v2h-2zM401.7 340.3h2v2h-2zM404.9 340.3h2v2h-2zM408.1 340.2h2v2h-2zM411.3 340.1h2v2h-2zM232.2 365.3h2v2h-2zM235.4 364.1h2v2h-2zM238.6 363.0h2v2h-2zM241.8 362.0h2v2h-2zM245.0 361.0h2v2h-2zM248.2 360.0h2v2h-2zM251.4 359.2h2v2h-2zM254.6 358.3h2v2h-2zM257.8 357.5h2v2h-2zM261.0 356.8h2v2h-2zM264.2 356.1h2v2h-2zM267.4 355.4h2v2h-2zM270.6 354.8h2v2h-2zM273.8 354.2h2v2h-2zM277.0 353.6h2v2h-2zM280.2 353.0h2v2h-2zM283.4 352.5h2v2h-2zM286.6 352.0h2v2h-2zM289.8 351.6h2v2h-2zM293.0 351.1h2v2h-2zM296.2 350.7h2v2h-2zM299.4 350.3h2v2h-2zM302.6 349.9h2v2h-2zM305.8 349.4h2v2h-2zM309.0 349.0h2v2h-2zM312.2 348.6h2v2h-2zM315.4 348.2h2v2h-2zM318.6 347.8h2v2h-2zM321.8 347.5h2v2h-2zM325.0 347.1h2v2h-2zM328.2 346.8h2v2h-2zM331.4 346.5h2v2h-2zM334.6 346.2h2v2h-2zM337.8 345.9h2v2h-2zM340.9 345.7h2v2h-2zM344.1 345.5h2v2h-2zM347.3 345.3h2v2h-2zM350.5 345.1h2v2h-2zM353.7 344.9h2v2h-2zM356.9 344.7h2v2h-2zM360.1 344.6h2v2h-2zM363.3 344.4h2v2h-2zM366.5 344.3h2v2h-2zM369.7 344.2h2v2h-2zM372.9 344.1h2v2h-2zM376.1 343.9h2v2h-2zM379.3 343.8h2v2h-2zM382.5 343.7h2v2h-2zM385.7 343.6h2v2h-2zM388.9 343.5h2v2h-2zM392.1 343.5h2v2h-2zM395.3 343.4h2v2h-2zM398.5 343.3h2v2h-2zM401.7 343.2h2v2h-2zM404.9 343.2h2v2h-2zM408.1 343.1h2v2h-2zM411.3 343.0h2v2h-2zM232.2 369.9h2v2h-2zM235.4 368.7h2v2h-2zM238.6 367.5h2v2h-2zM241.8 366.4h2v2h-2zM245.0 365.4h2v2h-2zM248.2 364.4h2v2h-2zM251.4 363.5h2v2h-2zM254.6 362.6h2v2h-2zM257.8 361.8h2v2h-2zM261.0 361.0h2v2h-2zM264.2 360.2h2v2h-2zM267.4 359.5h2v2h-2zM270.6 358.8h2v2h-2zM273.8 358.2h2v2h-2zM277.0 357.6h2v2h-2zM280.2 357.0h2v2h-2zM283.4 356.4h2v2h-2zM286.6 355.9h2v2h-2zM289.8 355.4h2v2h-2zM293.0 354.9h2v2h-2zM296.2 354.5h2v2h-2zM299.4 354.0h2v2h-2zM302.6 353.5h2v2h-2zM305.8 353.1h2v2h-2zM309.0 352.6h2v2h-2zM312.2 352.1h2v2h-2zM315.4 351.7h2v2h-2zM318.6 351.3h2v2h-2zM321.8 350.9h2v2h-2zM325.0 350.5h2v2h-2zM328.2 350.1h2v2h-2zM331.4 349.8h2v2h-2zM334.6 349.5h2v2h-2zM337.8 349.2h2v2h-2zM340.9 348.9h2v2h-2zM344.1 348.6h2v2h-2zM347.3 348.4h2v2h-2zM350.5 348.2h2v2h-2zM353.7 348.0h2v2h-2zM356.9 347.8h2v2h-2zM360.1 347.7h2v2h-2zM363.3 347.5h2v2h-2zM366.5 347.4h2v2h-2zM369.7 347.2h2v2h-2zM372.9 347.1h2v2h-2zM376.1 346.9h2v2h-2zM379.3 346.8h2v2h-2zM382.5 346.7h2v2h-2zM385.7 346.6h2v2h-2zM388.9 346.5h2v2h-2zM392.1 346.4h2v2h-2zM395.3 346.3h2v2h-2zM398.5 346.2h2v2h-2zM401.7 346.1h2v2h-2zM404.9 346.1h2v2h-2zM408.1 346.0h2v2h-2zM411.3 345.9h2v2h-2zM232.2 374.4h2v2h-2zM235.4 373.2h2v2h-2zM238.6 372.0h2v2h-2zM241.8 370.9h2v2h-2zM245.0 369.8h2v2h-2zM248.2 368.8h2v2h-2zM251.4 367.8h2v2h-2zM254.6 366.9h2v2h-2zM257.8 366.0h2v2h-2zM261.0 365.2h2v2h-2zM264.2 364.4h2v2h-2zM267.4 363.6h2v2h-2zM270.6 362.9h2v2h-2zM273.8 362.2h2v2h-2zM277.0 361.5h2v2h-2zM280.2 360.9h2v2h-2zM283.4 360.3h2v2h-2zM286.6 359.8h2v2h-2zM289.8 359.2h2v2h-2zM293.0 358.7h2v2h-2zM296.2 358.2h2v2h-2zM299.4 357.7h2v2h-2zM302.6 357.2h2v2h-2zM305.8 356.7h2v2h-2zM309.0 356.2h2v2h-2zM312.2 355.7h2v2h-2zM315.4 355.2h2v2h-2zM318.6 354.8h2v2h-2zM321.8 354.3h2v2h-2zM325.0 353.9h2v2h-2zM328.2 353.5h2v2h-2zM331.4 353.1h2v2h-2zM334.6 352.7h2v2h-2zM337.8 352.4h2v2h-2zM340.9 352.1h2v2h-2zM344.1 351.8h2v2h-2zM347.3 351.6h2v2h-2zM350.5 351.3h2v2h-2zM353.7 351.1h2v2h-2zM356.9 350.9h2v2h-2zM360.1 350.7h2v2h-2zM363.3 350.6h2v2h-2zM366.5 350.4h2v2h-2zM369.7 350.2h2v2h-2zM372.9 350.1h2v2h-2zM376.1 349.9h2v2h-2zM379.3 349.8h2v2h-2zM382.5 349.7h2v2h-2zM385.7 349.6h2v2h-2zM388.9 349.5h2v2h-2zM392.1 349.4h2v2h-2zM395.3 349.2h2v2h-2zM398.5 349.2h2v2h-2zM401.7 349.1h2v2h-2zM404.9 349.0h2v2h-2zM408.1 348.9h2v2h-2zM411.3 348.8h2v2h-2zM232.2 379.0h2v2h-2zM235.4 377.7h2v2h-2zM238.6 376.5h2v2h-2zM241.8 375.3h2v2h-2zM245.0 374.2h2v2h-2zM248.2 373.2h2v2h-2zM251.4 372.1h2v2h-2zM254.6 371.2h2v2h-2zM257.8 370.2h2v2h-2zM261.0 369.3h2v2h-2zM264.2 368.5h2v2h-2zM267.4 367.7h2v2h-2zM270.6 366.9h2v2h-2zM273.8 366.2h2v2h-2zM277.0 365.5h2v2h-2zM283.4 364.2h2v2h-2zM286.6 363.6h2v2h-2zM289.8 363.0h2v2h-2zM293.0 362.5h2v2h-2zM296.2 361.9h2v2h-2zM299.4 361.4h2v2h-2zM302.6 360.9h2v2h-2zM305.8 360.3h2v2h-2zM309.0 359.8h2v2h-2zM312.2 359.2h2v2h-2zM315.4 358.7h2v2h-2zM318.6 358.2h2v2h-2zM321.8 357.7h2v2h-2zM325.0 357.3h2v2h-2zM328.2 356.8h2v2h-2zM331.4 356.4h2v2h-2zM334.6 356.0h2v2h-2zM337.8 355.7h2v2h-2zM340.9 355.3h2v2h-2zM344.1 355.0h2v2h-2zM347.3 354.7h2v2h-2zM350.5 354.5h2v2h-2zM353.7 354.2h2v2h-2zM356.9 354.0h2v2h-2zM360.1 353.8h2v2h-2zM363.3 353.6h2v2h-2zM366.5 353.4h2v2h-2zM369.7 353.3h2v2h-2zM372.9 353.1h2v2h-2zM376.1 353.0h2v2h-2zM379.3 352.8h2v2h-2zM382.5 352.7h2v2h-2zM385.7 352.5h2v2h-2zM388.9 352.4h2v2h-2zM392.1 352.3h2v2h-2zM395.3 352.2h2v2h-2zM398.5 352.1h2v2h-2zM401.7 352.0h2v2h-2zM404.9 351.9h2v2h-2zM408.1 351.8h2v2h-2zM411.3 351.7h2v2h-2zM238.6 381.0h2v2h-2zM241.8 379.8h2v2h-2zM245.0 378.6h2v2h-2zM248.2 377.5h2v2h-2zM251.4 376.5h2v2h-2zM254.6 375.4h2v2h-2zM257.8 374.5h2v2h-2zM261.0 373.5h2v2h-2zM264.2 372.6h2v2h-2zM267.4 371.8h2v2h-2zM270.6 371.0h2v2h-2zM273.8 370.2h2v2h-2zM277.0 369.5h2v2h-2zM280.2 368.8h2v2h-2zM283.4 368.1h2v2h-2zM286.6 367.5h2v2h-2zM289.8 366.8h2v2h-2zM293.0 366.3h2v2h-2zM296.2 365.7h2v2h-2zM299.4 365.1h2v2h-2zM302.6 364.5h2v2h-2zM305.8 364.0h2v2h-2zM309.0 363.4h2v2h-2zM312.2 362.8h2v2h-2zM315.4 362.2h2v2h-2zM318.6 361.7h2v2h-2zM321.8 361.1h2v2h-2zM325.0 360.6h2v2h-2zM328.2 360.2h2v2h-2zM331.4 359.7h2v2h-2zM334.6 359.3h2v2h-2zM337.8 358.9h2v2h-2zM340.9 358.5h2v2h-2zM344.1 358.2h2v2h-2zM347.3 357.9h2v2h-2zM350.5 357.6h2v2h-2zM353.7 357.3h2v2h-2zM356.9 357.1h2v2h-2zM360.1 356.9h2v2h-2zM363.3 356.7h2v2h-2zM366.5 356.5h2v2h-2zM369.7 356.3h2v2h-2zM372.9 356.1h2v2h-2zM376.1 356.0h2v2h-2zM379.3 355.8h2v2h-2zM382.5 355.6h2v2h-2zM385.7 355.5h2v2h-2zM388.9 355.4h2v2h-2zM392.1 355.2h2v2h-2zM395.3 355.1h2v2h-2zM398.5 355.0h2v2h-2zM401.7 354.9h2v2h-2zM404.9 354.8h2v2h-2zM408.1 354.7h2v2h-2zM411.3 354.6h2v2h-2zM248.2 381.9h2v2h-2zM251.4 380.8h2v2h-2zM254.6 379.7h2v2h-2zM257.8 378.7h2v2h-2zM261.0 377.7h2v2h-2zM264.2 376.8h2v2h-2zM267.4 375.9h2v2h-2zM270.6 375.0h2v2h-2zM273.8 374.2h2v2h-2zM277.0 373.4h2v2h-2zM280.2 372.7h2v2h-2zM283.4 372.0h2v2h-2zM286.6 371.3h2v2h-2zM289.8 370.7h2v2h-2zM293.0 370.0h2v2h-2zM296.2 369.4h2v2h-2zM299.4 368.8h2v2h-2zM302.6 368.2h2v2h-2zM305.8 367.6h2v2h-2zM309.0 367.0h2v2h-2zM312.2 366.3h2v2h-2zM315.4 365.7h2v2h-2zM318.6 365.1h2v2h-2zM321.8 364.6h2v2h-2zM325.0 364.0h2v2h-2zM328.2 363.5h2v2h-2zM331.4 363.0h2v2h-2zM334.6 362.6h2v2h-2zM337.8 362.1h2v2h-2zM340.9 361.7h2v2h-2zM344.1 361.4h2v2h-2zM347.3 361.0h2v2h-2zM350.5 360.7h2v2h-2zM353.7 360.4h2v2h-2zM356.9 360.2h2v2h-2zM360.1 360.0h2v2h-2zM363.3 359.7h2v2h-2zM366.5 359.5h2v2h-2zM369.7 359.3h2v2h-2zM372.9 359.1h2v2h-2zM376.1 359.0h2v2h-2zM379.3 358.8h2v2h-2zM382.5 358.6h2v2h-2zM385.7 358.5h2v2h-2zM388.9 358.3h2v2h-2zM392.1 358.2h2v2h-2zM395.3 358.1h2v2h-2zM398.5 357.9h2v2h-2zM401.7 357.8h2v2h-2zM404.9 357.7h2v2h-2zM408.1 357.6h2v2h-2zM411.3 357.5h2v2h-2zM261.0 381.9h2v2h-2zM264.2 380.9h2v2h-2zM267.4 380.0h2v2h-2zM270.6 379.1h2v2h-2zM273.8 378.2h2v2h-2zM277.0 377.4h2v2h-2zM280.2 376.6h2v2h-2zM283.4 375.9h2v2h-2zM286.6 375.2h2v2h-2zM289.8 374.5h2v2h-2zM293.0 373.8h2v2h-2zM296.2 373.2h2v2h-2zM299.4 372.6h2v2h-2zM302.6 371.9h2v2h-2zM305.8 371.2h2v2h-2zM309.0 370.5h2v2h-2zM312.2 369.9h2v2h-2zM315.4 369.2h2v2h-2zM318.6 368.6h2v2h-2zM321.8 368.0h2v2h-2zM325.0 367.4h2v2h-2zM328.2 366.8h2v2h-2zM331.4 366.3h2v2h-2zM334.6 365.8h2v2h-2zM337.8 365.4h2v2h-2zM340.9 364.9h2v2h-2zM344.1 364.5h2v2h-2zM347.3 364.2h2v2h-2zM350.5 363.8h2v2h-2zM353.7 363.5h2v2h-2zM356.9 363.3h2v2h-2zM360.1 363.0h2v2h-2zM363.3 362.8h2v2h-2zM366.5 362.6h2v2h-2zM369.7 362.4h2v2h-2zM372.9 362.1h2v2h-2zM376.1 362.0h2v2h-2zM379.3 361.8h2v2h-2zM382.5 361.6h2v2h-2zM385.7 361.4h2v2h-2zM388.9 361.3h2v2h-2zM392.1 361.1h2v2h-2zM395.3 361.0h2v2h-2zM398.5 360.9h2v2h-2zM401.7 360.7h2v2h-2zM404.9 360.6h2v2h-2zM408.1 360.5h2v2h-2zM411.3 360.4h2v2h-2zM277.0 381.4h2v2h-2zM280.2 380.6h2v2h-2zM283.4 379.8h2v2h-2zM286.6 379.0h2v2h-2zM289.8 378.3h2v2h-2zM293.0 377.6h2v2h-2zM296.2 376.9h2v2h-2zM299.4 376.3h2v2h-2zM302.6 375.6h2v2h-2zM305.8 374.8h2v2h-2zM309.0 374.1h2v2h-2zM312.2 373.4h2v2h-2zM315.4 372.7h2v2h-2zM318.6 372.1h2v2h-2zM321.8 371.4h2v2h-2zM325.0 370.8h2v2h-2zM328.2 370.2h2v2h-2zM331.4 369.6h2v2h-2zM334.6 369.1h2v2h-2zM337.8 368.6h2v2h-2zM340.9 368.1h2v2h-2zM344.1 367.7h2v2h-2zM347.3 367.3h2v2h-2zM350.5 367.0h2v2h-2zM353.7 366.7h2v2h-2zM356.9 366.4h2v2h-2zM360.1 366.1h2v2h-2zM363.3 365.9h2v2h-2zM366.5 365.6h2v2h-2zM369.7 365.4h2v2h-2zM372.9 365.2h2v2h-2zM376.1 365.0h2v2h-2zM379.3 364.8h2v2h-2zM411.3 363.3h2v2h-2zM293.0 381.4h2v2h-2zM296.2 380.7h2v2h-2zM299.4 380.0h2v2h-2zM302.6 379.2h2v2h-2zM305.8 378.5h2v2h-2zM309.0 377.7h2v2h-2zM312.2 377.0h2v2h-2zM315.4 376.2h2v2h-2zM318.6 375.5h2v2h-2zM321.8 374.8h2v2h-2zM325.0 374.2h2v2h-2zM328.2 373.5h2v2h-2zM331.4 372.9h2v2h-2zM334.6 372.4h2v2h-2zM337.8 371.8h2v2h-2zM340.9 371.3h2v2h-2zM344.1 370.9h2v2h-2zM347.3 370.5h2v2h-2zM350.5 370.1h2v2h-2zM353.7 369.8h2v2h-2zM356.9 369.5h2v2h-2zM360.1 369.2h2v2h-2zM363.3 368.9h2v2h-2zM366.5 368.7h2v2h-2zM369.7 368.4h2v2h-2zM372.9 368.2h2v2h-2zM376.1 368.0h2v2h-2zM379.3 367.7h2v2h-2zM411.3 366.2h2v2h-2zM309.0 381.3h2v2h-2zM312.2 380.5h2v2h-2zM315.4 379.7h2v2h-2zM318.6 379.0h2v2h-2zM321.8 378.2h2v2h-2zM325.0 377.5h2v2h-2zM328.2 376.9h2v2h-2zM331.4 376.2h2v2h-2zM334.6 375.6h2v2h-2zM337.8 375.1h2v2h-2zM340.9 374.6h2v2h-2zM344.1 374.1h2v2h-2zM347.3 373.6h2v2h-2zM350.5 373.2h2v2h-2zM353.7 372.9h2v2h-2zM356.9 372.6h2v2h-2zM360.1 372.3h2v2h-2zM363.3 372.0h2v2h-2zM366.5 371.7h2v2h-2zM369.7 371.4h2v2h-2zM372.9 371.2h2v2h-2zM376.1 371.0h2v2h-2zM379.3 370.7h2v2h-2zM411.3 369.1h2v2h-2zM321.8 381.7h2v2h-2zM325.0 380.9h2v2h-2zM328.2 380.2h2v2h-2zM331.4 379.5h2v2h-2zM334.6 378.9h2v2h-2zM337.8 378.3h2v2h-2zM340.9 377.8h2v2h-2zM344.1 377.3h2v2h-2zM347.3 376.8h2v2h-2zM350.5 376.4h2v2h-2zM353.7 376.0h2v2h-2zM356.9 375.7h2v2h-2zM360.1 375.3h2v2h-2zM363.3 375.0h2v2h-2zM366.5 374.7h2v2h-2zM369.7 374.5h2v2h-2zM372.9 374.2h2v2h-2zM376.1 374.0h2v2h-2zM379.3 373.7h2v2h-2zM411.3 372.0h2v2h-2zM337.8 381.6h2v2h-2zM340.9 381.0h2v2h-2zM344.1 380.4h2v2h-2zM347.3 379.9h2v2h-2zM350.5 379.5h2v2h-2zM353.7 379.1h2v2h-2zM356.9 378.7h2v2h-2zM360.1 378.4h2v2h-2zM363.3 378.1h2v2h-2zM366.5 377.8h2v2h-2zM369.7 377.5h2v2h-2zM372.9 377.2h2v2h-2zM376.1 377.0h2v2h-2zM379.3 376.7h2v2h-2zM382.5 376.5h2v2h-2zM385.7 376.3h2v2h-2zM388.9 376.0h2v2h-2zM392.1 375.8h2v2h-2zM411.3 374.9h2v2h-2zM356.9 381.8h2v2h-2zM360.1 381.5h2v2h-2zM363.3 381.1h2v2h-2zM366.5 380.8h2v2h-2zM369.7 380.5h2v2h-2zM372.9 380.2h2v2h-2zM376.1 380.0h2v2h-2zM379.3 379.7h2v2h-2zM382.5 379.5h2v2h-2zM385.7 379.2h2v2h-2zM388.9 379.0h2v2h-2zM392.1 378.8h2v2h-2zM395.3 378.6h2v2h-2zM398.5 378.4h2v2h-2zM401.7 378.2h2v2h-2zM404.9 378.1h2v2h-2zM408.1 377.9h2v2h-2zM411.3 377.8h2v2h-2zM392.1 381.7h2v2h-2zM395.3 381.5h2v2h-2zM398.5 381.3h2v2h-2zM401.7 381.2h2v2h-2zM404.9 381.0h2v2h-2zM408.1 380.8h2v2h-2zM411.3 380.7h2v2h-2z" fill="#cc2000"/>
<path d="M229.9 282.1L231.8 284.3L233.6 286.3L235.5 288.2L237.3 289.9L239.2 291.5L241.0 293.0L242.8 294.4L244.7 295.7L246.5 296.9L248.4 298.1L250.2 299.2L252.0 300.2L253.9 301.1L255.7 302.0L257.6 302.9L259.4 303.7L261.3 304.4L263.1 305.1L264.9 305.8L266.8 306.5L268.6 307.1L270.5 307.7L272.3 308.3L274.2 308.8L276.0 309.4L277.8 309.8L279.7 310.3L281.5 310.8L283.4 311.2L285.2 311.7L287.1 312.1L288.9 312.5L290.7 312.8L292.6 313.2L294.4 313.5L296.3 313.9L298.1 314.2L300.0 314.5L301.8 314.8L303.6 315.1L305.5 315.4L307.3 315.7L309.2 316.0L311.0 316.2L312.8 316.5L314.7 316.7L316.5 317.0L318.4 317.2L320.2 317.4L322.1 317.6L323.9 317.8L325.7 318.0L327.6 318.2L329.4 318.4L331.3 318.6L333.1 318.8L335.0 319.0L336.8 319.2L338.6 319.3L340.5 319.5L342.3 319.7L344.2 319.8L346.0 320.0L347.9 320.1L349.7 320.3L351.5 320.4L353.4 320.6L355.2 320.7L357.1 320.8L358.9 321.0L360.8 321.1L362.6 321.2L364.4 321.3L366.3 321.5L368.1 321.6L370.0 321.7L371.8 321.8L373.6 321.9L375.5 322.0L377.3 322.1L379.2 322.2L381.0 322.3L382.9 322.4L384.7 322.5L386.5 322.6L388.4 322.7L390.2 322.8L392.1 322.9L393.9 323.0L395.8 323.1L397.6 323.2L399.4 323.3L401.3 323.3L403.1 323.4L405.0 323.5L406.8 323.6L408.7 323.7L410.5 323.7L412.3 323.8L414.2 323.9L416.0 324.0L417.9 324.0M229.9 261.9L231.8 265.1L233.6 268.0L235.5 270.7L237.3 273.2L239.2 275.5L241.0 277.6L242.8 279.6L244.7 281.4L246.5 283.1L248.4 284.7L250.2 286.3L252.0 287.7L253.9 289.0L255.7 290.3L257.6 291.5L259.4 292.6L261.3 293.7L263.1 294.7L264.9 295.7L266.8 296.6L268.6 297.5L270.5 298.3L272.3 299.1L274.2 299.8L276.0 300.6L277.8 301.3L279.7 301.9L281.5 302.6L283.4 303.2L285.2 303.8L287.1 304.3L288.9 304.9L290.7 305.4L292.6 305.9L294.4 306.4L296.3 306.9L298.1 307.3L300.0 307.8L301.8 308.2L303.6 308.6L305.5 309.0L307.3 309.4L309.2 309.8L311.0 310.1L312.8 310.5L314.7 310.8L316.5 311.1L318.4 311.5L320.2 311.8L322.1 312.1L323.9 312.4L325.7 312.6L327.6 312.9L329.4 313.2L331.3 313.4L333.1 313.7L335.0 313.9L336.8 314.2L338.6 314.4L340.5 314.7L342.3 314.9L344.2 315.1L346.0 315.3L347.9 315.5L349.7 315.7L351.5 315.9L353.4 316.1L355.2 316.3L357.1 316.5L358.9 316.7L360.8 316.8L362.6 317.0L364.4 317.2L366.3 317.4L368.1 317.5L370.0 317.7L371.8 317.8L373.6 318.0L375.5 318.1L377.3 318.3L379.2 318.4L381.0 318.6L382.9 318.7L384.7 318.8L386.5 319.0L388.4 319.1L390.2 319.2L392.1 319.4L393.9 319.5L395.8 319.6L397.6 319.7L399.4 319.8L401.3 319.9L403.1 320.1L405.0 320.2L406.8 320.3L408.7 320.4L410.5 320.5L412.3 320.6L414.2 320.7L416.0 320.8L417.9 320.9M235.5 253.2L237.3 256.4L239.2 259.4L241.0 262.1L242.8 264.7L244.7 267.1L246.5 269.3L248.4 271.4L250.2 273.4L252.0 275.2L253.9 276.9L255.7 278.6L257.6 280.1L259.4 281.6L261.3 282.9L263.1 284.2L264.9 285.5L266.8 286.7L268.6 287.8L270.5 288.9L272.3 289.9L274.2 290.9L276.0 291.8L277.8 292.7L279.7 293.5L281.5 294.4L283.4 295.2L285.2 295.9L287.1 296.6L288.9 297.3L290.7 298.0L292.6 298.7L294.4 299.3L296.3 299.9L298.1 300.5L300.0 301.0L301.8 301.6L303.6 302.1L305.5 302.6L307.3 303.1L309.2 303.6L311.0 304.0L312.8 304.5L314.7 304.9L316.5 305.3L318.4 305.7L320.2 306.1L322.1 306.5L323.9 306.9L325.7 307.2L327.6 307.6L329.4 307.9L331.3 308.3L333.1 308.6L335.0 308.9L336.8 309.2L338.6 309.5L340.5 309.8L342.3 310.1L344.2 310.4L346.0 310.6L347.9 310.9L349.7 311.2L351.5 311.4L353.4 311.7L355.2 311.9L357.1 312.1L358.9 312.4L360.8 312.6L362.6 312.8L364.4 313.0L366.3 313.2L368.1 313.5L370.0 313.7L371.8 313.9L373.6 314.0L375.5 314.2L377.3 314.4L379.2 314.6L381.0 314.8L382.9 315.0L384.7 315.1L386.5 315.3L388.4 315.5L390.2 315.6L392.1 315.8L393.9 315.9L395.8 316.1L397.6 316.3L399.4 316.4L401.3 316.5L403.1 316.7L405.0 316.8L406.8 317.0L408.7 317.1L410.5 317.2L412.3 317.4L414.2 317.5L416.0 317.6L417.9 317.7M244.7 252.8L246.5 255.5L248.4 258.1L250.2 260.5L252.0 262.7L253.9 264.8L255.7 266.8L257.6 268.7L259.4 270.5L261.3 272.2L263.1 273.8L264.9 275.3L266.8 276.8L268.6 278.1L270.5 279.4L272.3 280.7L274.2 281.9L276.0 283.0L277.8 284.1L279.7 285.2L281.5 286.2L283.4 287.1L285.2 288.0L287.1 288.9L288.9 289.8L290.7 290.6L292.6 291.4L294.4 292.1L296.3 292.9L298.1 293.6L300.0 294.3L301.8 294.9L303.6 295.6L305.5 296.2L307.3 296.8L309.2 297.4L311.0 297.9L312.8 298.5L314.7 299.0L316.5 299.5L318.4 300.0L320.2 300.5L322.1 300.9L323.9 301.4L325.7 301.8L327.6 302.3L329.4 302.7L331.3 303.1L333.1 303.5L335.0 303.9L336.8 304.2L338.6 304.6L340.5 305.0L342.3 305.3L344.2 305.6L346.0 306.0L347.9 306.3L349.7 306.6L351.5 306.9L353.4 307.2L355.2 307.5L357.1 307.8L358.9 308.1L360.8 308.4L362.6 308.6L364.4 308.9L366.3 309.1L368.1 309.4L370.0 309.6L371.8 309.9L373.6 310.1L375.5 310.3L377.3 310.6L379.2 310.8L381.0 311.0L382.9 311.2L384.7 311.4L386.5 311.6L388.4 311.8L390.2 312.0L392.1 312.2L393.9 312.4L395.8 312.6L397.6 312.8L399.4 313.0L401.3 313.1L403.1 313.3L405.0 313.5L406.8 313.7L408.7 313.8L410.5 314.0L412.3 314.1L414.2 314.3L416.0 314.5L417.9 314.6M253.9 252.7L255.7 255.1L257.6 257.3L259.4 259.4L261.3 261.4L263.1 263.3L264.9 265.1L266.8 266.8L268.6 268.5L270.5 270.0L272.3 271.5L274.2 272.9L276.0 274.2L277.8 275.5L279.7 276.8L281.5 277.9L283.4 279.1L285.2 280.2L287.1 281.2L288.9 282.2L290.7 283.2L292.6 284.1L294.4 285.0L296.3 285.9L298.1 286.7L300.0 287.5L301.8 288.3L303.6 289.0L305.5 289.8L307.3 290.5L309.2 291.2L311.0 291.8L312.8 292.5L314.7 293.1L316.5 293.7L318.4 294.3L320.2 294.8L322.1 295.4L323.9 295.9L325.7 296.4L327.6 296.9L329.4 297.4L331.3 297.9L333.1 298.4L335.0 298.8L336.8 299.3L338.6 299.7L340.5 300.1L342.3 300.5L344.2 300.9L346.0 301.3L347.9 301.7L349.7 302.1L351.5 302.4L353.4 302.8L355.2 303.1L357.1 303.5L358.9 303.8L360.8 304.1L362.6 304.4L364.4 304.7L366.3 305.0L368.1 305.3L370.0 305.6L371.8 305.9L373.6 306.2L375.5 306.4L377.3 306.7L379.2 307.0L381.0 307.2L382.9 307.5L384.7 307.7L386.5 308.0L388.4 308.2L390.2 308.4L392.1 308.7L393.9 308.9L395.8 309.1L397.6 309.3L399.4 309.5L401.3 309.7L403.1 309.9L405.0 310.1L406.8 310.3L408.7 310.5L410.5 310.7L412.3 310.9L414.2 311.1L416.0 311.3L417.9 311.5M263.1 252.9L264.9 255.0L266.8 256.9L268.6 258.8L270.5 260.6L272.3 262.3L274.2 263.9L276.0 265.5L277.8 266.9L279.7 268.4L281.5 269.7L283.4 271.0L285.2 272.3L287.1 273.5L288.9 274.7L290.7 275.8L292.6 276.8L294.4 277.9L296.3 278.9L298.1 279.8L300.0 280.8L301.8 281.7L303.6 282.5L305.5 283.4L307.3 284.2L309.2 285.0L311.0 285.7L312.8 286.5L314.7 287.2L316.5 287.9L318.4 288.5L320.2 289.2L322.1 289.8L323.9 290.4L325.7 291.0L327.6 291.6L329.4 292.2L331.3 292.7L333.1 293.3L335.0 293.8L336.8 294.3L338.6 294.8L340.5 295.3L342.3 295.7L344.2 296.2L346.0 296.6L347.9 297.1L349.7 297.5L351.5 297.9L353.4 298.3L355.2 298.7L357.1 299.1L358.9 299.5L360.8 299.9L362.6 300.2L364.4 300.6L366.3 300.9L368.1 301.3L370.0 301.6L371.8 301.9L373.6 302.2L375.5 302.6L377.3 302.9L379.2 303.2L381.0 303.5L382.9 303.7L384.7 304.0L386.5 304.3L388.4 304.6L390.2 304.8L392.1 305.1L393.9 305.4L395.8 305.6L397.6 305.9L399.4 306.1L401.3 306.3L403.1 306.6L405.0 306.8L406.8 307.0L408.7 307.3L410.5 307.5L412.3 307.7L414.2 307.9L416.0 308.1L417.9 308.3M272.3 253.1L274.2 254.9L276.0 256.7L277.8 258.4L279.7 260.0L281.5 261.5L283.4 263.0L285.2 264.4L287.1 265.8L288.9 267.1L290.7 268.4L292.6 269.6L294.4 270.7L296.3 271.9L298.1 273.0L300.0 274.0L301.8 275.0L303.6 276.0L305.5 277.0L307.3 277.9L309.2 278.8L311.0 279.6L312.8 280.4L314.7 281.3L316.5 282.0L318.4 282.8L320.2 283.5L322.1 284.2L323.9 284.9L325.7 285.6L327.6 286.3L329.4 286.9L331.3 287.5L333.1 288.1L335.0 288.7L336.8 289.3L338.6 289.9L340.5 290.4L342.3 290.9L344.2 291.5L346.0 292.0L347.9 292.5L349.7 292.9L351.5 293.4L353.4 293.9L355.2 294.3L357.1 294.8L358.9 295.2L360.8 295.6L362.6 296.0L364.4 296.4L366.3 296.8L368.1 297.2L370.0 297.6L371.8 297.9L373.6 298.3L375.5 298.7L377.3 299.0L379.2 299.3L381.0 299.7L382.9 300.0L384.7 300.3L386.5 300.6L388.4 300.9L390.2 301.2L392.1 301.5L393.9 301.8L395.8 302.1L397.6 302.4L399.4 302.7L401.3 302.9L403.1 303.2L405.0 303.5L406.8 303.7L408.7 304.0L410.5 304.2L412.3 304.5L414.2 304.7L416.0 304.9L417.9 305.2M281.5 253.3L283.4 255.0L285.2 256.5L287.1 258.1L288.9 259.5L290.7 260.9L292.6 262.3L294.4 263.6L296.3 264.9L298.1 266.1L300.0 267.3L301.8 268.4L303.6 269.5L305.5 270.5L307.3 271.6L309.2 272.6L311.0 273.5L312.8 274.4L314.7 275.3L316.5 276.2L318.4 277.1L320.2 277.9L322.1 278.7L323.9 279.5L325.7 280.2L327.6 281.0L329.4 281.7L331.3 282.4L333.1 283.0L335.0 283.7L336.8 284.3L338.6 285.0L340.5 285.6L342.3 286.2L344.2 286.7L346.0 287.3L347.9 287.9L349.7 288.4L351.5 288.9L353.4 289.4L355.2 289.9L357.1 290.4L358.9 290.9L360.8 291.4L362.6 291.8L364.4 292.3L366.3 292.7L368.1 293.1L370.0 293.6L371.8 294.0L373.6 294.4L375.5 294.8L377.3 295.1L379.2 295.5L381.0 295.9L382.9 296.3L384.7 296.6L386.5 297.0L388.4 297.3L390.2 297.6L392.1 298.0L393.9 298.3L395.8 298.6L397.6 298.9L399.4 299.2L401.3 299.5L403.1 299.8L405.0 300.1L406.8 300.4L408.7 300.7L410.5 301.0L412.3 301.2L414.2 301.5L416.0 301.8L417.9 302.0M290.7 253.5L292.6 255.0L294.4 256.5L296.3 257.9L298.1 259.2L300.0 260.5L301.8 261.8L303.6 263.0L305.5 264.1L307.3 265.3L309.2 266.4L311.0 267.4L312.8 268.4L314.7 269.4L316.5 270.4L318.4 271.3L320.2 272.2L322.1 273.1L323.9 274.0L325.7 274.8L327.6 275.6L329.4 276.4L331.3 277.2L333.1 277.9L335.0 278.6L336.8 279.4L338.6 280.0L340.5 280.7L342.3 281.4L344.2 282.0L346.0 282.6L347.9 283.2L349.7 283.8L351.5 284.4L353.4 285.0L355.2 285.5L357.1 286.1L358.9 286.6L360.8 287.1L362.6 287.6L364.4 288.1L366.3 288.6L368.1 289.1L370.0 289.5L371.8 290.0L373.6 290.4L375.5 290.9L377.3 291.3L379.2 291.7L381.0 292.1L382.9 292.5L384.7 292.9L386.5 293.3L388.4 293.7L390.2 294.0L392.1 294.4L393.9 294.8L395.8 295.1L397.6 295.5L399.4 295.8L401.3 296.1L403.1 296.5L405.0 296.8L406.8 297.1L408.7 297.4L410.5 297.7L412.3 298.0L414.2 298.3L416.0 298.6L417.9 298.9M298.1 252.3L300.0 253.7L301.8 255.1L303.6 256.4L305.5 257.7L307.3 259.0L309.2 260.2L311.0 261.3L312.8 262.4L314.7 263.5L316.5 264.6L318.4 265.6L320.2 266.6L322.1 267.6L323.9 268.5L325.7 269.4L327.6 270.3L329.4 271.2L331.3 272.0L333.1 272.8L335.0 273.6L336.8 274.4L338.6 275.1L340.5 275.9L342.3 276.6L344.2 277.3L346.0 278.0L347.9 278.6L349.7 279.3L351.5 279.9L353.4 280.5L355.2 281.1L357.1 281.7L358.9 282.3L360.8 282.9L362.6 283.4L364.4 284.0L366.3 284.5L368.1 285.0L370.0 285.5L371.8 286.0L373.6 286.5L375.5 287.0L377.3 287.4L379.2 287.9L381.0 288.3L382.9 288.8L384.7 289.2L386.5 289.6L388.4 290.0L390.2 290.5L392.1 290.8L393.9 291.2L395.8 291.6L397.6 292.0L399.4 292.4L401.3 292.7L403.1 293.1L405.0 293.4L406.8 293.8L408.7 294.1L410.5 294.5L412.3 294.8L414.2 295.1L416.0 295.4L417.9 295.7M307.3 252.7L309.2 254.0L311.0 255.2L312.8 256.4L314.7 257.6L316.5 258.8L318.4 259.9L320.2 261.0L322.1 262.0L323.9 263.0L325.7 264.0L327.6 265.0L329.4 265.9L331.3 266.8L333.1 267.7L335.0 268.6L336.8 269.4L338.6 270.2L340.5 271.0L342.3 271.8L344.2 272.6L346.0 273.3L347.9 274.0L349.7 274.7L351.5 275.4L353.4 276.1L355.2 276.7L357.1 277.4L358.9 278.0L360.8 278.6L362.6 279.2L364.4 279.8L366.3 280.4L368.1 280.9L370.0 281.5L371.8 282.0L373.6 282.6L375.5 283.1L377.3 283.6L379.2 284.1L381.0 284.6L382.9 285.0L384.7 285.5L386.5 286.0L388.4 286.4L390.2 286.9L392.1 287.3L393.9 287.7L395.8 288.1L397.6 288.5L399.4 288.9L401.3 289.3L403.1 289.7L405.0 290.1L406.8 290.5L408.7 290.8L410.5 291.2L412.3 291.6L414.2 291.9L416.0 292.2L417.9 292.6M316.5 252.9L318.4 254.1L320.2 255.3L322.1 256.4L323.9 257.5L325.7 258.6L327.6 259.6L329.4 260.7L331.3 261.6L333.1 262.6L335.0 263.5L336.8 264.4L338.6 265.3L340.5 266.2L342.3 267.0L344.2 267.8L346.0 268.6L347.9 269.4L349.7 270.2L351.5 270.9L353.4 271.6L355.2 272.3L357.1 273.0L358.9 273.7L360.8 274.4L362.6 275.0L364.4 275.7L366.3 276.3L368.1 276.9L370.0 277.5L371.8 278.1L373.6 278.6L375.5 279.2L377.3 279.7L379.2 280.3L381.0 280.8L382.9 281.3L384.7 281.8L386.5 282.3L388.4 282.8L390.2 283.3L392.1 283.7L393.9 284.2L395.8 284.6L397.6 285.1L399.4 285.5L401.3 285.9L403.1 286.3L405.0 286.8L406.8 287.2L408.7 287.6L410.5 287.9L412.3 288.3L414.2 288.7L416.0 289.1L417.9 289.4M325.7 253.2L327.6 254.3L329.4 255.4L331.3 256.5L333.1 257.5L335.0 258.5L336.8 259.5L338.6 260.4L340.5 261.3L342.3 262.2L344.2 263.1L346.0 264.0L347.9 264.8L349.7 265.6L351.5 266.4L353.4 267.2L355.2 267.9L357.1 268.7L358.9 269.4L360.8 270.1L362.6 270.8L364.4 271.5L366.3 272.2L368.1 272.8L370.0 273.5L371.8 274.1L373.6 274.7L375.5 275.3L377.3 275.9L379.2 276.4L381.0 277.0L382.9 277.6L384.7 278.1L386.5 278.6L388.4 279.1L390.2 279.7L392.1 280.2L393.9 280.6L395.8 281.1L397.6 281.6L399.4 282.1L401.3 282.5L403.1 283.0L405.0 283.4L406.8 283.8L408.7 284.3L410.5 284.7L412.3 285.1L414.2 285.5L416.0 285.9L417.9 286.3M335.0 253.4L336.8 254.5L338.6 255.5L340.5 256.5L342.3 257.4L344.2 258.4L346.0 259.3L347.9 260.2L349.7 261.1L351.5 261.9L353.4 262.7L355.2 263.6L357.1 264.3L358.9 265.1L360.8 265.9L362.6 266.6L364.4 267.3L366.3 268.1L368.1 268.8L370.0 269.4L371.8 270.1L373.6 270.8L375.5 271.4L377.3 272.0L379.2 272.6L381.0 273.2L382.9 273.8L384.7 274.4L386.5 275.0L388.4 275.5L390.2 276.1L392.1 276.6L393.9 277.1L395.8 277.6L397.6 278.1L399.4 278.6L401.3 279.1L403.1 279.6L405.0 280.1L406.8 280.5L408.7 281.0L410.5 281.4L412.3 281.9L414.2 282.3L416.0 282.7L417.9 283.1M342.3 252.7L344.2 253.6L346.0 254.6L347.9 255.6L349.7 256.5L351.5 257.4L353.4 258.3L355.2 259.2L357.1 260.0L358.9 260.8L360.8 261.6L362.6 262.4L364.4 263.2L366.3 263.9L368.1 264.7L370.0 265.4L371.8 266.1L373.6 266.8L375.5 267.5L377.3 268.2L379.2 268.8L381.0 269.4L382.9 270.1L384.7 270.7L386.5 271.3L388.4 271.9L390.2 272.5L392.1 273.0L393.9 273.6L395.8 274.1L397.6 274.7L399.4 275.2L401.3 275.7L403.1 276.2L405.0 276.7L406.8 277.2L408.7 277.7L410.5 278.2L412.3 278.6L414.2 279.1L416.0 279.6L417.9 280.0M351.5 252.9L353.4 253.8L355.2 254.8L357.1 255.7L358.9 256.5L360.8 257.4L362.6 258.2L364.4 259.0L366.3 259.8L368.1 260.6L370.0 261.4L371.8 262.1L373.6 262.9L375.5 263.6L377.3 264.3L379.2 265.0L381.0 265.7L382.9 266.3L384.7 267.0L386.5 267.6L388.4 268.3L390.2 268.9L392.1 269.5L393.9 270.1L395.8 270.6L397.6 271.2L399.4 271.8L401.3 272.3L403.1 272.9L405.0 273.4L406.8 273.9L408.7 274.4L410.5 274.9L412.3 275.4L414.2 275.9L416.0 276.4L417.9 276.9M360.8 253.1L362.6 254.0L364.4 254.9L366.3 255.7L368.1 256.6L370.0 257.4L371.8 258.2L373.6 258.9L375.5 259.7L377.3 260.4L379.2 261.2L381.0 261.9L382.9 262.6L384.7 263.3L386.5 264.0L388.4 264.6L390.2 265.3L392.1 265.9L393.9 266.5L395.8 267.1L397.6 267.7L399.4 268.3L401.3 268.9L403.1 269.5L405.0 270.0L406.8 270.6L408.7 271.1L410.5 271.7L412.3 272.2L414.2 272.7L416.0 273.2L417.9 273.7M370.0 253.4L371.8 254.2L373.6 255.0L375.5 255.8L377.3 256.6L379.2 257.4L381.0 258.1L382.9 258.9L384.7 259.6L386.5 260.3L388.4 261.0L390.2 261.7L392.1 262.3L393.9 263.0L395.8 263.6L397.6 264.3L399.4 264.9L401.3 265.5L403.1 266.1L405.0 266.7L406.8 267.3L408.7 267.9L410.5 268.4L412.3 269.0L414.2 269.5L416.0 270.0L417.9 270.6M379.2 253.5L381.0 254.3L382.9 255.1L384.7 255.9L386.5 256.6L388.4 257.4L390.2 258.1L392.1 258.8L393.9 259.5L395.8 260.1L397.6 260.8L399.4 261.5L401.3 262.1L403.1 262.7L405.0 263.4L406.8 264.0L408.7 264.6L410.5 265.2L412.3 265.7L414.2 266.3L416.0 266.9L417.9 267.4M386.5 253.0L388.4 253.7L390.2 254.5L392.1 255.2L393.9 255.9L395.8 256.7L397.6 257.4L399.4 258.0L401.3 258.7L403.1 259.4L405.0 260.0L406.8 260.7L408.7 261.3L410.5 261.9L412.3 262.5L414.2 263.1L416.0 263.7L417.9 264.3M395.8 253.2L397.6 253.9L399.4 254.6L401.3 255.3L403.1 256.0L405.0 256.7L406.8 257.4L408.7 258.0L410.5 258.7L412.3 259.3L414.2 259.9L416.0 260.5L417.9 261.1M405.0 253.3L406.8 254.0L408.7 254.7L410.5 255.4L412.3 256.1L414.2 256.7L416.0 257.4L417.9 258.0M414.2 253.5L416.0 254.2L417.9 254.8" fill="none" stroke="#000" stroke-width="1.75" stroke-linejoin="round"/>
<circle cx="351.2" cy="321.1" r="1.35" fill="#00c800"/>
<circle cx="410.0" cy="321.1" r="1.35" fill="#00c800"/>
</g>
<path d="M231.00 267.75h4.5M413.40 267.75h-4.5M231.00 300.37h4.5M413.40 300.37h-4.5M231.00 332.98h4.5M413.40 332.98h-4.5M231.00 365.59h4.5M413.40 365.59h-4.5M253.20 381.90v-4.2M253.20 259.60v4.2M276.23 381.90v-4.2M276.23 259.60v4.2M299.26 381.90v-4.2M299.26 259.60v4.2M322.29 381.90v-4.2M322.29 259.60v4.2M345.32 381.90v-4.2M345.32 259.60v4.2M368.35 381.90v-4.2M368.35 259.60v4.2M391.38 381.90v-4.2M391.38 259.60v4.2" stroke="#000" stroke-width="0.8" fill="none"/>
<rect x="231.00" y="259.60" width="182.40" height="122.30" fill="none" stroke="#000" stroke-width="1.1"/>
<rect x="379.50" y="362.50" width="31.2" height="15.2" fill="#fff" stroke="#000" stroke-width="0.8"/>
<g clip-path="url(#c30)">
<path d="M45.6 476.8h2v2h-2zM48.8 476.8h2v2h-2zM52.0 476.8h2v2h-2zM55.2 476.8h2v2h-2zM58.4 476.8h2v2h-2zM61.6 476.8h2v2h-2zM64.8 476.8h2v2h-2zM68.0 476.8h2v2h-2zM71.2 476.8h2v2h-2zM74.4 476.8h2v2h-2zM77.6 476.8h2v2h-2zM80.8 476.8h2v2h-2zM84.0 476.8h2v2h-2zM87.2 476.8h2v2h-2zM90.4 476.7h2v2h-2zM93.6 476.7h2v2h-2zM96.8 476.7h2v2h-2zM100.0 476.7h2v2h-2zM103.2 476.7h2v2h-2zM106.4 476.7h2v2h-2zM109.6 476.4h2v2h-2zM112.8 476.0h2v2h-2zM116.0 475.7h2v2h-2zM119.2 475.4h2v2h-2zM122.4 475.2h2v2h-2zM125.6 474.9h2v2h-2zM128.8 474.7h2v2h-2zM132.0 474.4h2v2h-2zM135.2 474.1h2v2h-2zM138.4 473.8h2v2h-2zM141.6 473.5h2v2h-2zM144.8 473.1h2v2h-2zM148.0 472.7h2v2h-2zM151.2 472.3h2v2h-2zM154.3 471.9h2v2h-2zM157.5 471.6h2v2h-2zM160.7 471.2h2v2h-2zM163.9 470.9h2v2h-2zM167.1 470.7h2v2h-2zM170.3 470.5h2v2h-2zM173.5 470.3h2v2h-2zM176.7 470.1h2v2h-2zM179.9 469.9h2v2h-2zM183.1 469.8h2v2h-2zM186.3 469.6h2v2h-2zM189.5 469.5h2v2h-2zM192.7 469.3h2v2h-2zM195.9 469.2h2v2h-2zM199.1 469.1h2v2h-2zM202.3 469.0h2v2h-2zM205.5 468.9h2v2h-2zM208.7 468.8h2v2h-2zM211.9 468.7h2v2h-2zM215.1 468.6h2v2h-2zM218.3 468.6h2v2h-2zM221.5 468.5h2v2h-2zM224.7 468.4h2v2h-2zM45.6 491.3h2v2h-2zM48.8 490.4h2v2h-2zM52.0 489.5h2v2h-2zM55.2 488.6h2v2h-2zM58.4 487.7h2v2h-2zM61.6 486.8h2v2h-2zM64.8 485.9h2v2h-2zM68.0 485.1h2v2h-2zM71.2 484.3h2v2h-2zM74.4 483.5h2v2h-2zM77.6 482.8h2v2h-2zM80.8 482.1h2v2h-2zM84.0 481.5h2v2h-2zM87.2 480.8h2v2h-2zM90.4 480.2h2v2h-2zM93.6 479.7h2v2h-2zM96.8 479.1h2v2h-2zM100.0 478.6h2v2h-2zM103.2 478.1h2v2h-2zM106.4 477.7h2v2h-2zM109.6 477.2h2v2h-2zM112.8 476.8h2v2h-2zM116.0 476.3h2v2h-2zM119.2 475.9h2v2h-2zM122.4 475.5h2v2h-2zM160.7 471.3h2v2h-2zM167.1 470.8h2v2h-2zM170.3 470.5h2v2h-2zM173.5 470.3h2v2h-2zM45.6 496.6h2v2h-2zM48.8 495.6h2v2h-2zM52.0 494.6h2v2h-2zM55.2 493.7h2v2h-2zM58.4 492.7h2v2h-2zM61.6 491.7h2v2h-2zM64.8 490.8h2v2h-2zM68.0 489.9h2v2h-2zM71.2 489.1h2v2h-2zM74.4 488.2h2v2h-2zM77.6 487.4h2v2h-2zM80.8 486.7h2v2h-2zM84.0 486.0h2v2h-2zM87.2 485.3h2v2h-2zM90.4 484.6h2v2h-2zM93.6 484.0h2v2h-2zM96.8 483.4h2v2h-2zM100.0 482.8h2v2h-2zM103.2 482.3h2v2h-2zM106.4 481.8h2v2h-2zM109.6 481.3h2v2h-2zM112.8 480.8h2v2h-2zM116.0 480.3h2v2h-2zM119.2 479.8h2v2h-2zM122.4 479.3h2v2h-2zM125.6 478.9h2v2h-2zM128.8 478.4h2v2h-2zM132.0 478.0h2v2h-2zM135.2 477.6h2v2h-2zM138.4 477.1h2v2h-2zM141.6 476.7h2v2h-2zM144.8 476.4h2v2h-2zM148.0 476.0h2v2h-2zM151.2 475.6h2v2h-2zM154.3 475.3h2v2h-2zM157.5 475.0h2v2h-2zM160.7 474.7h2v2h-2zM163.9 474.4h2v2h-2zM167.1 474.1h2v2h-2zM170.3 473.8h2v2h-2zM173.5 473.5h2v2h-2zM176.7 473.3h2v2h-2zM179.9 473.0h2v2h-2zM183.1 472.8h2v2h-2zM186.3 472.6h2v2h-2zM189.5 472.3h2v2h-2zM192.7 472.1h2v2h-2zM195.9 471.9h2v2h-2zM199.1 471.7h2v2h-2zM202.3 471.5h2v2h-2zM205.5 471.3h2v2h-2zM208.7 471.1h2v2h-2zM211.9 470.9h2v2h-2zM215.1 470.8h2v2h-2zM218.3 470.6h2v2h-2zM221.5 470.4h2v2h-2zM224.7 470.3h2v2h-2zM45.6 501.9h2v2h-2zM48.8 500.9h2v2h-2zM52.0 499.8h2v2h-2zM55.2 498.8h2v2h-2zM58.4 497.7h2v2h-2zM61.6 496.7h2v2h-2zM64.8 495.7h2v2h-2zM68.0 494.7h2v2h-2zM71.2 493.8h2v2h-2zM74.4 492.9h2v2h-2zM77.6 492.1h2v2h-2zM80.8 491.3h2v2h-2zM84.0 490.5h2v2h-2zM87.2 489.7h2v2h-2zM90.4 489.0h2v2h-2zM93.6 488.3h2v2h-2zM96.8 487.7h2v2h-2zM100.0 487.1h2v2h-2zM103.2 486.5h2v2h-2zM106.4 485.9h2v2h-2zM109.6 485.3h2v2h-2zM112.8 484.8h2v2h-2zM116.0 484.3h2v2h-2zM119.2 483.7h2v2h-2zM122.4 483.2h2v2h-2zM125.6 482.7h2v2h-2zM128.8 482.2h2v2h-2zM132.0 481.7h2v2h-2zM135.2 481.2h2v2h-2zM138.4 480.8h2v2h-2zM141.6 480.3h2v2h-2zM144.8 479.9h2v2h-2zM148.0 479.5h2v2h-2zM151.2 479.1h2v2h-2zM154.3 478.7h2v2h-2zM157.5 478.3h2v2h-2zM160.7 478.0h2v2h-2zM163.9 477.7h2v2h-2zM167.1 477.4h2v2h-2zM170.3 477.1h2v2h-2zM173.5 476.8h2v2h-2zM176.7 476.5h2v2h-2zM179.9 476.2h2v2h-2zM183.1 475.9h2v2h-2zM186.3 475.7h2v2h-2zM189.5 475.4h2v2h-2zM192.7 475.2h2v2h-2zM195.9 475.0h2v2h-2zM199.1 474.7h2v2h-2zM202.3 474.5h2v2h-2zM205.5 474.3h2v2h-2zM208.7 474.1h2v2h-2zM211.9 473.9h2v2h-2zM215.1 473.7h2v2h-2zM218.3 473.5h2v2h-2zM221.5 473.3h2v2h-2zM224.7 473.2h2v2h-2zM45.6 507.2h2v2h-2zM48.8 506.1h2v2h-2zM52.0 505.0h2v2h-2zM55.2 503.9h2v2h-2zM58.4 502.7h2v2h-2zM61.6 501.6h2v2h-2zM64.8 500.6h2v2h-2zM68.0 499.6h2v2h-2zM71.2 498.6h2v2h-2zM74.4 497.6h2v2h-2zM77.6 496.7h2v2h-2zM80.8 495.8h2v2h-2zM84.0 495.0h2v2h-2zM87.2 494.2h2v2h-2zM90.4 493.4h2v2h-2zM93.6 492.7h2v2h-2zM96.8 492.0h2v2h-2zM100.0 491.3h2v2h-2zM103.2 490.6h2v2h-2zM106.4 490.0h2v2h-2zM109.6 489.4h2v2h-2zM112.8 488.8h2v2h-2zM116.0 488.3h2v2h-2zM119.2 487.7h2v2h-2zM122.4 487.1h2v2h-2zM125.6 486.5h2v2h-2zM128.8 486.0h2v2h-2zM132.0 485.4h2v2h-2zM135.2 484.9h2v2h-2zM138.4 484.4h2v2h-2zM141.6 483.9h2v2h-2zM144.8 483.4h2v2h-2zM148.0 483.0h2v2h-2zM151.2 482.5h2v2h-2zM154.3 482.1h2v2h-2zM157.5 481.7h2v2h-2zM160.7 481.3h2v2h-2zM163.9 481.0h2v2h-2zM167.1 480.6h2v2h-2zM170.3 480.3h2v2h-2zM173.5 480.0h2v2h-2zM176.7 479.7h2v2h-2zM179.9 479.4h2v2h-2zM183.1 479.1h2v2h-2zM186.3 478.8h2v2h-2zM189.5 478.5h2v2h-2zM192.7 478.3h2v2h-2zM195.9 478.0h2v2h-2zM199.1 477.8h2v2h-2zM202.3 477.5h2v2h-2zM205.5 477.3h2v2h-2zM208.7 477.1h2v2h-2zM211.9 476.9h2v2h-2zM215.1 476.7h2v2h-2zM218.3 476.5h2v2h-2zM221.5 476.3h2v2h-2zM224.7 476.1h2v2h-2zM55.2 509.0h2v2h-2zM58.4 507.8h2v2h-2zM61.6 506.6h2v2h-2zM64.8 505.5h2v2h-2zM68.0 504.4h2v2h-2zM71.2 503.3h2v2h-2zM74.4 502.3h2v2h-2zM77.6 501.3h2v2h-2zM80.8 500.4h2v2h-2zM84.0 499.5h2v2h-2zM87.2 498.6h2v2h-2zM90.4 497.8h2v2h-2zM93.6 497.0h2v2h-2zM96.8 496.2h2v2h-2zM100.0 495.5h2v2h-2zM103.2 494.8h2v2h-2zM106.4 494.1h2v2h-2zM109.6 493.5h2v2h-2zM112.8 492.9h2v2h-2zM116.0 492.2h2v2h-2zM119.2 491.6h2v2h-2zM122.4 491.0h2v2h-2zM125.6 490.3h2v2h-2zM128.8 489.7h2v2h-2zM132.0 489.1h2v2h-2zM135.2 488.6h2v2h-2zM138.4 488.0h2v2h-2zM141.6 487.5h2v2h-2zM144.8 487.0h2v2h-2zM148.0 486.5h2v2h-2zM151.2 486.0h2v2h-2zM154.3 485.5h2v2h-2zM157.5 485.1h2v2h-2zM160.7 484.7h2v2h-2zM163.9 484.3h2v2h-2zM167.1 483.9h2v2h-2zM170.3 483.6h2v2h-2zM173.5 483.2h2v2h-2zM176.7 482.9h2v2h-2zM179.9 482.6h2v2h-2zM183.1 482.2h2v2h-2zM186.3 481.9h2v2h-2zM189.5 481.6h2v2h-2zM192.7 481.4h2v2h-2zM195.9 481.1h2v2h-2zM199.1 480.8h2v2h-2zM202.3 480.6h2v2h-2zM205.5 480.3h2v2h-2zM208.7 480.1h2v2h-2zM211.9 479.8h2v2h-2zM215.1 479.6h2v2h-2zM218.3 479.4h2v2h-2zM221.5 479.2h2v2h-2zM224.7 479.0h2v2h-2zM68.0 509.2h2v2h-2zM71.2 508.1h2v2h-2zM74.4 507.0h2v2h-2zM77.6 505.9h2v2h-2zM80.8 504.9h2v2h-2zM84.0 504.0h2v2h-2zM87.2 503.0h2v2h-2zM90.4 502.2h2v2h-2zM93.6 501.3h2v2h-2zM96.8 500.5h2v2h-2zM100.0 499.7h2v2h-2zM103.2 499.0h2v2h-2zM106.4 498.3h2v2h-2zM109.6 497.6h2v2h-2zM112.8 496.9h2v2h-2zM116.0 496.2h2v2h-2zM119.2 495.5h2v2h-2zM122.4 494.8h2v2h-2zM125.6 494.2h2v2h-2zM128.8 493.5h2v2h-2zM132.0 492.9h2v2h-2zM135.2 492.2h2v2h-2zM138.4 491.6h2v2h-2zM141.6 491.1h2v2h-2zM144.8 490.5h2v2h-2zM148.0 490.0h2v2h-2zM151.2 489.4h2v2h-2zM154.3 488.9h2v2h-2zM157.5 488.5h2v2h-2zM160.7 488.0h2v2h-2zM163.9 487.6h2v2h-2zM167.1 487.2h2v2h-2zM170.3 486.8h2v2h-2zM173.5 486.4h2v2h-2zM176.7 486.1h2v2h-2zM179.9 485.7h2v2h-2zM183.1 485.4h2v2h-2zM186.3 485.1h2v2h-2zM189.5 484.8h2v2h-2zM192.7 484.4h2v2h-2zM195.9 484.1h2v2h-2zM199.1 483.9h2v2h-2zM202.3 483.6h2v2h-2zM205.5 483.3h2v2h-2zM208.7 483.1h2v2h-2zM211.9 482.8h2v2h-2zM215.1 482.6h2v2h-2zM218.3 482.3h2v2h-2zM221.5 482.1h2v2h-2zM224.7 481.9h2v2h-2zM80.8 509.5h2v2h-2zM84.0 508.5h2v2h-2zM87.2 507.5h2v2h-2zM90.4 506.5h2v2h-2zM93.6 505.6h2v2h-2zM96.8 504.8h2v2h-2zM100.0 503.9h2v2h-2zM103.2 503.1h2v2h-2zM106.4 502.4h2v2h-2zM109.6 501.6h2v2h-2zM112.8 500.9h2v2h-2zM116.0 500.2h2v2h-2zM119.2 499.4h2v2h-2zM122.4 498.7h2v2h-2zM125.6 498.0h2v2h-2zM128.8 497.3h2v2h-2zM132.0 496.6h2v2h-2zM135.2 495.9h2v2h-2zM138.4 495.3h2v2h-2zM141.6 494.6h2v2h-2zM144.8 494.0h2v2h-2zM148.0 493.4h2v2h-2zM151.2 492.9h2v2h-2zM154.3 492.4h2v2h-2zM157.5 491.9h2v2h-2zM160.7 491.4h2v2h-2zM163.9 490.9h2v2h-2zM167.1 490.5h2v2h-2zM170.3 490.1h2v2h-2zM173.5 489.7h2v2h-2zM176.7 489.3h2v2h-2zM179.9 488.9h2v2h-2zM183.1 488.5h2v2h-2zM186.3 488.2h2v2h-2zM189.5 487.9h2v2h-2zM192.7 487.5h2v2h-2zM195.9 487.2h2v2h-2zM199.1 486.9h2v2h-2zM202.3 486.6h2v2h-2zM205.5 486.3h2v2h-2zM208.7 486.0h2v2h-2zM211.9 485.8h2v2h-2zM215.1 485.5h2v2h-2zM218.3 485.2h2v2h-2zM221.5 485.0h2v2h-2zM224.7 484.8h2v2h-2zM96.8 509.0h2v2h-2zM100.0 508.2h2v2h-2zM103.2 507.3h2v2h-2zM106.4 506.5h2v2h-2zM109.6 505.7h2v2h-2zM112.8 504.9h2v2h-2zM116.0 504.2h2v2h-2zM119.2 503.4h2v2h-2zM122.4 502.6h2v2h-2zM125.6 501.8h2v2h-2zM128.8 501.0h2v2h-2zM132.0 500.3h2v2h-2zM135.2 499.6h2v2h-2zM138.4 498.9h2v2h-2zM141.6 498.2h2v2h-2zM144.8 497.6h2v2h-2zM148.0 496.9h2v2h-2zM151.2 496.3h2v2h-2zM154.3 495.8h2v2h-2zM157.5 495.2h2v2h-2zM160.7 494.7h2v2h-2zM163.9 494.2h2v2h-2zM167.1 493.8h2v2h-2zM170.3 493.3h2v2h-2zM173.5 492.9h2v2h-2zM176.7 492.5h2v2h-2zM179.9 492.1h2v2h-2zM183.1 491.7h2v2h-2zM186.3 491.3h2v2h-2zM189.5 491.0h2v2h-2zM192.7 490.6h2v2h-2zM195.9 490.3h2v2h-2zM199.1 489.9h2v2h-2zM202.3 489.6h2v2h-2zM205.5 489.3h2v2h-2zM208.7 489.0h2v2h-2zM211.9 488.7h2v2h-2zM215.1 488.4h2v2h-2zM218.3 488.2h2v2h-2zM221.5 487.9h2v2h-2zM224.7 487.7h2v2h-2zM109.6 509.8h2v2h-2zM112.8 509.0h2v2h-2zM116.0 508.1h2v2h-2zM119.2 507.3h2v2h-2zM122.4 506.5h2v2h-2zM125.6 505.6h2v2h-2zM128.8 504.8h2v2h-2zM132.0 504.0h2v2h-2zM135.2 503.3h2v2h-2zM138.4 502.5h2v2h-2zM141.6 501.8h2v2h-2zM144.8 501.1h2v2h-2zM148.0 500.4h2v2h-2zM151.2 499.8h2v2h-2zM154.3 499.2h2v2h-2zM157.5 498.6h2v2h-2zM160.7 498.1h2v2h-2zM163.9 497.5h2v2h-2zM167.1 497.0h2v2h-2zM170.3 496.6h2v2h-2zM173.5 496.1h2v2h-2zM176.7 495.7h2v2h-2zM179.9 495.2h2v2h-2zM183.1 494.8h2v2h-2zM186.3 494.4h2v2h-2zM189.5 494.1h2v2h-2zM192.7 493.7h2v2h-2zM221.5 490.8h2v2h-2zM224.7 490.5h2v2h-2zM125.6 509.5h2v2h-2zM128.8 508.6h2v2h-2zM132.0 507.8h2v2h-2zM135.2 506.9h2v2h-2zM138.4 506.1h2v2h-2zM141.6 505.4h2v2h-2zM144.8 504.6h2v2h-2zM148.0 503.9h2v2h-2zM151.2 503.3h2v2h-2zM154.3 502.6h2v2h-2zM157.5 502.0h2v2h-2zM160.7 501.4h2v2h-2zM163.9 500.8h2v2h-2zM167.1 500.3h2v2h-2zM170.3 499.8h2v2h-2zM173.5 499.3h2v2h-2zM176.7 498.9h2v2h-2zM179.9 498.4h2v2h-2zM183.1 498.0h2v2h-2zM186.3 497.6h2v2h-2zM189.5 497.2h2v2h-2zM192.7 496.8h2v2h-2zM224.7 493.4h2v2h-2zM138.4 509.8h2v2h-2zM141.6 509.0h2v2h-2zM144.8 508.2h2v2h-2zM148.0 507.4h2v2h-2zM151.2 506.7h2v2h-2zM154.3 506.0h2v2h-2zM157.5 505.4h2v2h-2zM160.7 504.7h2v2h-2zM163.9 504.2h2v2h-2zM167.1 503.6h2v2h-2zM170.3 503.1h2v2h-2zM173.5 502.6h2v2h-2zM176.7 502.1h2v2h-2zM179.9 501.6h2v2h-2zM183.1 501.1h2v2h-2zM186.3 500.7h2v2h-2zM189.5 500.3h2v2h-2zM192.7 499.8h2v2h-2zM224.7 496.3h2v2h-2zM154.3 509.4h2v2h-2zM157.5 508.7h2v2h-2zM160.7 508.1h2v2h-2zM163.9 507.5h2v2h-2zM167.1 506.9h2v2h-2zM170.3 506.3h2v2h-2zM173.5 505.8h2v2h-2zM176.7 505.3h2v2h-2zM179.9 504.8h2v2h-2zM183.1 504.3h2v2h-2zM186.3 503.8h2v2h-2zM189.5 503.4h2v2h-2zM192.7 502.9h2v2h-2zM224.7 499.2h2v2h-2zM170.3 509.6h2v2h-2zM173.5 509.0h2v2h-2zM176.7 508.5h2v2h-2zM179.9 507.9h2v2h-2zM183.1 507.4h2v2h-2zM186.3 506.9h2v2h-2zM189.5 506.5h2v2h-2zM192.7 506.0h2v2h-2zM195.9 505.6h2v2h-2zM199.1 505.1h2v2h-2zM202.3 504.7h2v2h-2zM205.5 504.3h2v2h-2zM208.7 503.9h2v2h-2zM224.7 502.1h2v2h-2zM189.5 509.6h2v2h-2zM192.7 509.1h2v2h-2zM195.9 508.6h2v2h-2zM199.1 508.2h2v2h-2zM202.3 507.7h2v2h-2zM205.5 507.3h2v2h-2zM208.7 506.9h2v2h-2zM211.9 506.5h2v2h-2zM215.1 506.1h2v2h-2zM218.3 505.7h2v2h-2zM221.5 505.4h2v2h-2zM224.7 505.0h2v2h-2zM208.7 509.9h2v2h-2zM211.9 509.5h2v2h-2zM215.1 509.1h2v2h-2zM218.3 508.7h2v2h-2zM221.5 508.3h2v2h-2zM224.7 507.9h2v2h-2z" fill="#cc2000"/>
<path d="M43.3 403.8L45.2 406.4L47.0 408.8L48.9 411.0L50.7 413.0L52.6 414.9L54.4 416.6L56.2 418.2L58.1 419.7L59.9 421.1L61.8 422.4L63.6 423.6L65.4 424.8L67.3 425.8L69.1 426.8L71.0 427.8L72.8 428.7L74.7 429.6L76.5 430.4L78.3 431.1L80.2 431.9L82.0 432.6L83.9 433.2L85.7 433.8L87.6 434.4L89.4 435.0L91.2 435.6L93.1 436.1L94.9 436.6L96.8 437.1L98.6 437.5L100.5 438.0L102.3 438.4L104.1 438.8L106.0 439.2L107.8 439.6L109.7 440.0L111.5 440.3L113.4 440.7L115.2 441.0L117.0 441.3L118.9 441.6L120.7 441.9L122.6 442.2L124.4 442.5L126.2 442.8L128.1 443.0L129.9 443.3L131.8 443.5L133.6 443.8L135.5 444.0L137.3 444.2L139.1 444.4L141.0 444.7L142.8 444.9L144.7 445.1L146.5 445.3L148.4 445.5L150.2 445.6L152.0 445.8L153.9 446.0L155.7 446.2L157.6 446.3L159.4 446.5L161.3 446.7L163.1 446.8L164.9 447.0L166.8 447.1L168.6 447.3L170.5 447.4L172.3 447.6L174.2 447.7L176.0 447.8L177.8 448.0L179.7 448.1L181.5 448.2L183.4 448.3L185.2 448.4L187.0 448.6L188.9 448.7L190.7 448.8L192.6 448.9L194.4 449.0L196.3 449.1L198.1 449.2L199.9 449.3L201.8 449.4L203.6 449.5L205.5 449.6L207.3 449.7L209.2 449.8L211.0 449.9L212.8 450.0L214.7 450.1L216.5 450.2L218.4 450.2L220.2 450.3L222.1 450.4L223.9 450.5L225.7 450.6L227.6 450.6L229.4 450.7L231.3 450.8M43.3 382.7L45.2 386.4L47.0 389.7L48.9 392.8L50.7 395.6L52.6 398.2L54.4 400.6L56.2 402.8L58.1 404.9L59.9 406.8L61.8 408.6L63.6 410.3L65.4 411.9L67.3 413.4L69.1 414.8L71.0 416.1L72.8 417.3L74.7 418.5L76.5 419.6L78.3 420.7L80.2 421.7L82.0 422.6L83.9 423.5L85.7 424.4L87.6 425.2L89.4 426.0L91.2 426.8L93.1 427.5L94.9 428.2L96.8 428.9L98.6 429.5L100.5 430.1L102.3 430.7L104.1 431.3L106.0 431.8L107.8 432.3L109.7 432.8L111.5 433.3L113.4 433.8L115.2 434.2L117.0 434.7L118.9 435.1L120.7 435.5L122.6 435.9L124.4 436.3L126.2 436.7L128.1 437.0L129.9 437.4L131.8 437.7L133.6 438.0L135.5 438.3L137.3 438.7L139.1 439.0L141.0 439.2L142.8 439.5L144.7 439.8L146.5 440.1L148.4 440.3L150.2 440.6L152.0 440.8L153.9 441.1L155.7 441.3L157.6 441.5L159.4 441.8L161.3 442.0L163.1 442.2L164.9 442.4L166.8 442.6L168.6 442.8L170.5 443.0L172.3 443.2L174.2 443.4L176.0 443.6L177.8 443.7L179.7 443.9L181.5 444.1L183.4 444.3L185.2 444.4L187.0 444.6L188.9 444.7L190.7 444.9L192.6 445.0L194.4 445.2L196.3 445.3L198.1 445.5L199.9 445.6L201.8 445.7L203.6 445.9L205.5 446.0L207.3 446.1L209.2 446.3L211.0 446.4L212.8 446.5L214.7 446.6L216.5 446.7L218.4 446.9L220.2 447.0L222.1 447.1L223.9 447.2L225.7 447.3L227.6 447.4L229.4 447.5L231.3 447.6M52.6 381.5L54.4 384.6L56.2 387.4L58.1 390.1L59.9 392.5L61.8 394.8L63.6 397.0L65.4 399.0L67.3 400.9L69.1 402.7L71.0 404.4L72.8 406.0L74.7 407.5L76.5 408.9L78.3 410.2L80.2 411.5L82.0 412.7L83.9 413.9L85.7 415.0L87.6 416.0L89.4 417.0L91.2 418.0L93.1 418.9L94.9 419.8L96.8 420.6L98.6 421.4L100.5 422.2L102.3 423.0L104.1 423.7L106.0 424.4L107.8 425.0L109.7 425.7L111.5 426.3L113.4 426.9L115.2 427.5L117.0 428.0L118.9 428.6L120.7 429.1L122.6 429.6L124.4 430.1L126.2 430.5L128.1 431.0L129.9 431.4L131.8 431.9L133.6 432.3L135.5 432.7L137.3 433.1L139.1 433.5L141.0 433.8L142.8 434.2L144.7 434.5L146.5 434.9L148.4 435.2L150.2 435.5L152.0 435.9L153.9 436.2L155.7 436.5L157.6 436.8L159.4 437.0L161.3 437.3L163.1 437.6L164.9 437.8L166.8 438.1L168.6 438.4L170.5 438.6L172.3 438.8L174.2 439.1L176.0 439.3L177.8 439.5L179.7 439.8L181.5 440.0L183.4 440.2L185.2 440.4L187.0 440.6L188.9 440.8L190.7 441.0L192.6 441.2L194.4 441.4L196.3 441.5L198.1 441.7L199.9 441.9L201.8 442.1L203.6 442.2L205.5 442.4L207.3 442.6L209.2 442.7L211.0 442.9L212.8 443.0L214.7 443.2L216.5 443.3L218.4 443.5L220.2 443.6L222.1 443.8L223.9 443.9L225.7 444.0L227.6 444.2L229.4 444.3L231.3 444.4M61.8 381.1L63.6 383.7L65.4 386.1L67.3 388.4L69.1 390.6L71.0 392.7L72.8 394.6L74.7 396.4L76.5 398.1L78.3 399.8L80.2 401.3L82.0 402.8L83.9 404.2L85.7 405.5L87.6 406.8L89.4 408.0L91.2 409.2L93.1 410.3L94.9 411.4L96.8 412.4L98.6 413.4L100.5 414.3L102.3 415.2L104.1 416.1L106.0 417.0L107.8 417.8L109.7 418.5L111.5 419.3L113.4 420.0L115.2 420.7L117.0 421.4L118.9 422.0L120.7 422.7L122.6 423.3L124.4 423.9L126.2 424.4L128.1 425.0L129.9 425.5L131.8 426.0L133.6 426.5L135.5 427.0L137.3 427.5L139.1 428.0L141.0 428.4L142.8 428.9L144.7 429.3L146.5 429.7L148.4 430.1L150.2 430.5L152.0 430.9L153.9 431.2L155.7 431.6L157.6 432.0L159.4 432.3L161.3 432.6L163.1 433.0L164.9 433.3L166.8 433.6L168.6 433.9L170.5 434.2L172.3 434.5L174.2 434.8L176.0 435.1L177.8 435.3L179.7 435.6L181.5 435.9L183.4 436.1L185.2 436.4L187.0 436.6L188.9 436.8L190.7 437.1L192.6 437.3L194.4 437.5L196.3 437.8L198.1 438.0L199.9 438.2L201.8 438.4L203.6 438.6L205.5 438.8L207.3 439.0L209.2 439.2L211.0 439.4L212.8 439.6L214.7 439.8L216.5 439.9L218.4 440.1L220.2 440.3L222.1 440.4L223.9 440.6L225.7 440.8L227.6 440.9L229.4 441.1L231.3 441.3M71.0 380.9L72.8 383.2L74.7 385.4L76.5 387.4L78.3 389.3L80.2 391.1L82.0 392.9L83.9 394.5L85.7 396.1L87.6 397.6L89.4 399.1L91.2 400.4L93.1 401.7L94.9 403.0L96.8 404.2L98.6 405.4L100.5 406.5L102.3 407.5L104.1 408.5L106.0 409.5L107.8 410.5L109.7 411.4L111.5 412.3L113.4 413.1L115.2 413.9L117.0 414.7L118.9 415.5L120.7 416.2L122.6 417.0L124.4 417.6L126.2 418.3L128.1 419.0L129.9 419.6L131.8 420.2L133.6 420.8L135.5 421.4L137.3 421.9L139.1 422.5L141.0 423.0L142.8 423.5L144.7 424.0L146.5 424.5L148.4 425.0L150.2 425.4L152.0 425.9L153.9 426.3L155.7 426.7L157.6 427.2L159.4 427.6L161.3 428.0L163.1 428.3L164.9 428.7L166.8 429.1L168.6 429.4L170.5 429.8L172.3 430.1L174.2 430.5L176.0 430.8L177.8 431.1L179.7 431.4L181.5 431.7L183.4 432.0L185.2 432.3L187.0 432.6L188.9 432.9L190.7 433.2L192.6 433.4L194.4 433.7L196.3 434.0L198.1 434.2L199.9 434.5L201.8 434.7L203.6 435.0L205.5 435.2L207.3 435.4L209.2 435.7L211.0 435.9L212.8 436.1L214.7 436.3L216.5 436.5L218.4 436.7L220.2 436.9L222.1 437.1L223.9 437.3L225.7 437.5L227.6 437.7L229.4 437.9L231.3 438.1M80.2 381.0L82.0 383.0L83.9 384.9L85.7 386.7L87.6 388.4L89.4 390.1L91.2 391.6L93.1 393.1L94.9 394.6L96.8 396.0L98.6 397.3L100.5 398.6L102.3 399.8L104.1 401.0L106.0 402.1L107.8 403.2L109.7 404.2L111.5 405.3L113.4 406.2L115.2 407.2L117.0 408.1L118.9 409.0L120.7 409.8L122.6 410.6L124.4 411.4L126.2 412.2L128.1 412.9L129.9 413.7L131.8 414.4L133.6 415.1L135.5 415.7L137.3 416.4L139.1 417.0L141.0 417.6L142.8 418.2L144.7 418.8L146.5 419.3L148.4 419.9L150.2 420.4L152.0 420.9L153.9 421.4L155.7 421.9L157.6 422.4L159.4 422.8L161.3 423.3L163.1 423.7L164.9 424.2L166.8 424.6L168.6 425.0L170.5 425.4L172.3 425.8L174.2 426.2L176.0 426.5L177.8 426.9L179.7 427.3L181.5 427.6L183.4 428.0L185.2 428.3L187.0 428.6L188.9 429.0L190.7 429.3L192.6 429.6L194.4 429.9L196.3 430.2L198.1 430.5L199.9 430.8L201.8 431.0L203.6 431.3L205.5 431.6L207.3 431.9L209.2 432.1L211.0 432.4L212.8 432.6L214.7 432.9L216.5 433.1L218.4 433.3L220.2 433.6L222.1 433.8L223.9 434.0L225.7 434.3L227.6 434.5L229.4 434.7L231.3 434.9M89.4 381.1L91.2 382.9L93.1 384.6L94.9 386.2L96.8 387.8L98.6 389.3L100.5 390.7L102.3 392.1L104.1 393.4L106.0 394.7L107.8 395.9L109.7 397.1L111.5 398.2L113.4 399.3L115.2 400.4L117.0 401.4L118.9 402.4L120.7 403.4L122.6 404.3L124.4 405.2L126.2 406.1L128.1 406.9L129.9 407.7L131.8 408.5L133.6 409.3L135.5 410.1L137.3 410.8L139.1 411.5L141.0 412.2L142.8 412.8L144.7 413.5L146.5 414.1L148.4 414.7L150.2 415.3L152.0 415.9L153.9 416.5L155.7 417.0L157.6 417.6L159.4 418.1L161.3 418.6L163.1 419.1L164.9 419.6L166.8 420.1L168.6 420.5L170.5 421.0L172.3 421.4L174.2 421.9L176.0 422.3L177.8 422.7L179.7 423.1L181.5 423.5L183.4 423.9L185.2 424.3L187.0 424.6L188.9 425.0L190.7 425.4L192.6 425.7L194.4 426.1L196.3 426.4L198.1 426.7L199.9 427.1L201.8 427.4L203.6 427.7L205.5 428.0L207.3 428.3L209.2 428.6L211.0 428.9L212.8 429.2L214.7 429.4L216.5 429.7L218.4 430.0L220.2 430.2L222.1 430.5L223.9 430.7L225.7 431.0L227.6 431.2L229.4 431.5L231.3 431.7M98.6 381.2L100.5 382.8L102.3 384.4L104.1 385.8L106.0 387.3L107.8 388.6L109.7 390.0L111.5 391.2L113.4 392.5L115.2 393.6L117.0 394.8L118.9 395.9L120.7 397.0L122.6 398.0L124.4 399.0L126.2 400.0L128.1 400.9L129.9 401.8L131.8 402.7L133.6 403.6L135.5 404.4L137.3 405.2L139.1 406.0L141.0 406.8L142.8 407.5L144.7 408.2L146.5 408.9L148.4 409.6L150.2 410.3L152.0 410.9L153.9 411.6L155.7 412.2L157.6 412.8L159.4 413.4L161.3 413.9L163.1 414.5L164.9 415.0L166.8 415.6L168.6 416.1L170.5 416.6L172.3 417.1L174.2 417.6L176.0 418.0L177.8 418.5L179.7 418.9L181.5 419.4L183.4 419.8L185.2 420.2L187.0 420.7L188.9 421.1L190.7 421.5L192.6 421.9L194.4 422.2L196.3 422.6L198.1 423.0L199.9 423.3L201.8 423.7L203.6 424.0L205.5 424.4L207.3 424.7L209.2 425.0L211.0 425.4L212.8 425.7L214.7 426.0L216.5 426.3L218.4 426.6L220.2 426.9L222.1 427.2L223.9 427.5L225.7 427.7L227.6 428.0L229.4 428.3L231.3 428.5M107.8 381.4L109.7 382.8L111.5 384.2L113.4 385.6L115.2 386.9L117.0 388.1L118.9 389.4L120.7 390.5L122.6 391.7L124.4 392.8L126.2 393.9L128.1 394.9L129.9 395.9L131.8 396.9L133.6 397.8L135.5 398.7L137.3 399.6L139.1 400.5L141.0 401.3L142.8 402.2L144.7 403.0L146.5 403.7L148.4 404.5L150.2 405.2L152.0 405.9L153.9 406.6L155.7 407.3L157.6 408.0L159.4 408.6L161.3 409.2L163.1 409.9L164.9 410.5L166.8 411.0L168.6 411.6L170.5 412.2L172.3 412.7L174.2 413.3L176.0 413.8L177.8 414.3L179.7 414.8L181.5 415.3L183.4 415.8L185.2 416.2L187.0 416.7L188.9 417.1L190.7 417.6L192.6 418.0L194.4 418.4L196.3 418.8L198.1 419.2L199.9 419.6L201.8 420.0L203.6 420.4L205.5 420.8L207.3 421.1L209.2 421.5L211.0 421.9L212.8 422.2L214.7 422.5L216.5 422.9L218.4 423.2L220.2 423.5L222.1 423.9L223.9 424.2L225.7 424.5L227.6 424.8L229.4 425.1L231.3 425.4M117.0 381.5L118.9 382.8L120.7 384.1L122.6 385.4L124.4 386.6L126.2 387.8L128.1 388.9L129.9 390.0L131.8 391.0L133.6 392.1L135.5 393.1L137.3 394.1L139.1 395.0L141.0 395.9L142.8 396.8L144.7 397.7L146.5 398.5L148.4 399.4L150.2 400.2L152.0 400.9L153.9 401.7L155.7 402.5L157.6 403.2L159.4 403.9L161.3 404.6L163.1 405.2L164.9 405.9L166.8 406.5L168.6 407.2L170.5 407.8L172.3 408.4L174.2 408.9L176.0 409.5L177.8 410.1L179.7 410.6L181.5 411.2L183.4 411.7L185.2 412.2L187.0 412.7L188.9 413.2L190.7 413.7L192.6 414.1L194.4 414.6L196.3 415.0L198.1 415.5L199.9 415.9L201.8 416.3L203.6 416.8L205.5 417.2L207.3 417.6L209.2 418.0L211.0 418.4L212.8 418.7L214.7 419.1L216.5 419.5L218.4 419.8L220.2 420.2L222.1 420.5L223.9 420.9L225.7 421.2L227.6 421.5L229.4 421.9L231.3 422.2M126.2 381.6L128.1 382.9L129.9 384.1L131.8 385.2L133.6 386.3L135.5 387.4L137.3 388.5L139.1 389.5L141.0 390.5L142.8 391.5L144.7 392.4L146.5 393.3L148.4 394.2L150.2 395.1L152.0 396.0L153.9 396.8L155.7 397.6L157.6 398.4L159.4 399.1L161.3 399.9L163.1 400.6L164.9 401.3L166.8 402.0L168.6 402.7L170.5 403.4L172.3 404.0L174.2 404.6L176.0 405.3L177.8 405.9L179.7 406.5L181.5 407.0L183.4 407.6L185.2 408.2L187.0 408.7L188.9 409.2L190.7 409.8L192.6 410.3L194.4 410.8L196.3 411.3L198.1 411.7L199.9 412.2L201.8 412.7L203.6 413.1L205.5 413.6L207.3 414.0L209.2 414.4L211.0 414.9L212.8 415.3L214.7 415.7L216.5 416.1L218.4 416.5L220.2 416.8L222.1 417.2L223.9 417.6L225.7 418.0L227.6 418.3L229.4 418.7L231.3 419.0M133.6 380.6L135.5 381.8L137.3 382.9L139.1 384.0L141.0 385.1L142.8 386.1L144.7 387.2L146.5 388.2L148.4 389.1L150.2 390.1L152.0 391.0L153.9 391.9L155.7 392.7L157.6 393.6L159.4 394.4L161.3 395.2L163.1 396.0L164.9 396.8L166.8 397.5L168.6 398.2L170.5 399.0L172.3 399.7L174.2 400.3L176.0 401.0L177.8 401.7L179.7 402.3L181.5 402.9L183.4 403.5L185.2 404.1L187.0 404.7L188.9 405.3L190.7 405.9L192.6 406.4L194.4 406.9L196.3 407.5L198.1 408.0L199.9 408.5L201.8 409.0L203.6 409.5L205.5 410.0L207.3 410.4L209.2 410.9L211.0 411.3L212.8 411.8L214.7 412.2L216.5 412.7L218.4 413.1L220.2 413.5L222.1 413.9L223.9 414.3L225.7 414.7L227.6 415.1L229.4 415.5L231.3 415.8M142.8 380.8L144.7 381.9L146.5 383.0L148.4 384.0L150.2 385.0L152.0 386.0L153.9 386.9L155.7 387.9L157.6 388.8L159.4 389.7L161.3 390.5L163.1 391.4L164.9 392.2L166.8 393.0L168.6 393.8L170.5 394.6L172.3 395.3L174.2 396.0L176.0 396.8L177.8 397.5L179.7 398.1L181.5 398.8L183.4 399.5L185.2 400.1L187.0 400.7L188.9 401.3L190.7 401.9L192.6 402.5L194.4 403.1L196.3 403.7L198.1 404.2L199.9 404.8L201.8 405.3L203.6 405.8L205.5 406.4L207.3 406.9L209.2 407.4L211.0 407.8L212.8 408.3L214.7 408.8L216.5 409.2L218.4 409.7L220.2 410.1L222.1 410.6L223.9 411.0L225.7 411.4L227.6 411.8L229.4 412.3L231.3 412.7M152.0 381.0L153.9 382.0L155.7 383.0L157.6 384.0L159.4 384.9L161.3 385.9L163.1 386.8L164.9 387.6L166.8 388.5L168.6 389.3L170.5 390.1L172.3 390.9L174.2 391.7L176.0 392.5L177.8 393.2L179.7 394.0L181.5 394.7L183.4 395.4L185.2 396.1L187.0 396.7L188.9 397.4L190.7 398.0L192.6 398.7L194.4 399.3L196.3 399.9L198.1 400.5L199.9 401.1L201.8 401.6L203.6 402.2L205.5 402.8L207.3 403.3L209.2 403.8L211.0 404.3L212.8 404.8L214.7 405.3L216.5 405.8L218.4 406.3L220.2 406.8L222.1 407.3L223.9 407.7L225.7 408.2L227.6 408.6L229.4 409.0L231.3 409.5M161.3 381.2L163.1 382.1L164.9 383.1L166.8 384.0L168.6 384.9L170.5 385.7L172.3 386.6L174.2 387.4L176.0 388.2L177.8 389.0L179.7 389.8L181.5 390.6L183.4 391.3L185.2 392.0L187.0 392.8L188.9 393.5L190.7 394.1L192.6 394.8L194.4 395.5L196.3 396.1L198.1 396.7L199.9 397.4L201.8 398.0L203.6 398.6L205.5 399.1L207.3 399.7L209.2 400.3L211.0 400.8L212.8 401.4L214.7 401.9L216.5 402.4L218.4 402.9L220.2 403.4L222.1 403.9L223.9 404.4L225.7 404.9L227.6 405.4L229.4 405.8L231.3 406.3M170.5 381.3L172.3 382.2L174.2 383.1L176.0 384.0L177.8 384.8L179.7 385.6L181.5 386.5L183.4 387.2L185.2 388.0L187.0 388.8L188.9 389.5L190.7 390.2L192.6 390.9L194.4 391.6L196.3 392.3L198.1 393.0L199.9 393.7L201.8 394.3L203.6 394.9L205.5 395.5L207.3 396.2L209.2 396.7L211.0 397.3L212.8 397.9L214.7 398.5L216.5 399.0L218.4 399.6L220.2 400.1L222.1 400.6L223.9 401.1L225.7 401.6L227.6 402.1L229.4 402.6L231.3 403.1M179.7 381.5L181.5 382.3L183.4 383.2L185.2 384.0L187.0 384.8L188.9 385.6L190.7 386.3L192.6 387.1L194.4 387.8L196.3 388.5L198.1 389.2L199.9 389.9L201.8 390.6L203.6 391.3L205.5 391.9L207.3 392.6L209.2 393.2L211.0 393.8L212.8 394.4L214.7 395.0L216.5 395.6L218.4 396.2L220.2 396.8L222.1 397.3L223.9 397.9L225.7 398.4L227.6 398.9L229.4 399.4L231.3 399.9M188.9 381.6L190.7 382.4L192.6 383.2L194.4 384.0L196.3 384.8L198.1 385.5L199.9 386.2L201.8 386.9L203.6 387.6L205.5 388.3L207.3 389.0L209.2 389.7L211.0 390.3L212.8 391.0L214.7 391.6L216.5 392.2L218.4 392.8L220.2 393.4L222.1 394.0L223.9 394.6L225.7 395.1L227.6 395.7L229.4 396.2L231.3 396.8M196.3 381.0L198.1 381.7L199.9 382.5L201.8 383.3L203.6 384.0L205.5 384.7L207.3 385.4L209.2 386.1L211.0 386.8L212.8 387.5L214.7 388.1L216.5 388.8L218.4 389.4L220.2 390.1L222.1 390.7L223.9 391.3L225.7 391.9L227.6 392.4L229.4 393.0L231.3 393.6M205.5 381.1L207.3 381.9L209.2 382.6L211.0 383.3L212.8 384.0L214.7 384.7L216.5 385.4L218.4 386.1L220.2 386.7L222.1 387.3L223.9 388.0L225.7 388.6L227.6 389.2L229.4 389.8L231.3 390.4M214.7 381.3L216.5 382.0L218.4 382.7L220.2 383.4L222.1 384.0L223.9 384.7L225.7 385.3L227.6 386.0L229.4 386.6L231.3 387.2M223.9 381.4L225.7 382.1L227.6 382.7L229.4 383.4L231.3 384.0" fill="none" stroke="#000" stroke-width="1.75" stroke-linejoin="round"/>
</g>
<path d="M44.40 395.80h4.5M226.80 395.80h-4.5M44.40 428.42h4.5M226.80 428.42h-4.5M44.40 461.03h4.5M226.80 461.03h-4.5M44.40 493.64h4.5M226.80 493.64h-4.5M66.60 509.95v-4.2M66.60 387.65v4.2M89.63 509.95v-4.2M89.63 387.65v4.2M112.66 509.95v-4.2M112.66 387.65v4.2M135.69 509.95v-4.2M135.69 387.65v4.2M158.72 509.95v-4.2M158.72 387.65v4.2M181.75 509.95v-4.2M181.75 387.65v4.2M204.78 509.95v-4.2M204.78 387.65v4.2" stroke="#000" stroke-width="0.8" fill="none"/>
<rect x="44.40" y="387.65" width="182.40" height="122.30" fill="none" stroke="#000" stroke-width="1.1"/>
<rect x="192.90" y="490.55" width="31.2" height="15.2" fill="#fff" stroke="#000" stroke-width="0.8"/>
<g clip-path="url(#c31)">
<path d="M232.2 502.2h2v2h-2zM235.4 502.2h2v2h-2zM238.6 502.2h2v2h-2zM241.8 502.2h2v2h-2zM245.0 502.2h2v2h-2zM248.2 502.2h2v2h-2zM251.4 502.2h2v2h-2zM254.6 502.2h2v2h-2zM257.8 502.2h2v2h-2zM261.0 502.2h2v2h-2zM264.2 502.2h2v2h-2zM267.4 502.2h2v2h-2zM270.6 502.2h2v2h-2zM273.8 502.2h2v2h-2zM277.0 502.2h2v2h-2zM280.2 502.2h2v2h-2zM283.4 502.2h2v2h-2zM286.6 502.2h2v2h-2zM289.8 502.2h2v2h-2zM293.0 502.2h2v2h-2zM296.2 502.2h2v2h-2zM299.4 502.2h2v2h-2zM302.6 502.2h2v2h-2zM305.8 502.2h2v2h-2zM309.0 502.2h2v2h-2zM312.2 502.2h2v2h-2zM315.4 502.2h2v2h-2zM318.6 502.2h2v2h-2zM321.8 502.2h2v2h-2zM325.0 502.2h2v2h-2zM328.2 502.2h2v2h-2zM331.4 502.2h2v2h-2zM334.6 502.2h2v2h-2zM337.8 502.2h2v2h-2zM340.9 502.2h2v2h-2zM344.1 502.2h2v2h-2zM347.3 502.2h2v2h-2zM350.5 502.2h2v2h-2zM353.7 502.2h2v2h-2zM356.9 502.2h2v2h-2zM360.1 502.2h2v2h-2zM363.3 502.2h2v2h-2zM366.5 502.2h2v2h-2zM369.7 502.2h2v2h-2zM372.9 502.2h2v2h-2zM376.1 502.2h2v2h-2zM379.3 502.2h2v2h-2zM411.3 502.2h2v2h-2zM232.2 503.4h2v2h-2zM235.4 503.4h2v2h-2zM238.6 503.4h2v2h-2zM241.8 503.4h2v2h-2zM245.0 503.4h2v2h-2zM248.2 503.4h2v2h-2zM251.4 503.4h2v2h-2zM254.6 503.4h2v2h-2zM257.8 503.4h2v2h-2zM261.0 503.4h2v2h-2zM264.2 503.4h2v2h-2zM267.4 503.4h2v2h-2zM270.6 503.4h2v2h-2zM273.8 503.4h2v2h-2zM277.0 503.4h2v2h-2zM280.2 503.4h2v2h-2zM283.4 503.4h2v2h-2zM286.6 503.4h2v2h-2zM289.8 503.4h2v2h-2zM293.0 503.4h2v2h-2zM296.2 503.4h2v2h-2zM299.4 503.4h2v2h-2zM302.6 503.4h2v2h-2zM305.8 503.4h2v2h-2zM309.0 503.4h2v2h-2zM312.2 503.4h2v2h-2zM315.4 503.4h2v2h-2zM318.6 503.4h2v2h-2zM232.2 497.3h2v2h-2zM235.4 495.7h2v2h-2zM238.6 494.2h2v2h-2zM241.8 492.8h2v2h-2zM245.0 491.5h2v2h-2zM248.2 490.2h2v2h-2zM251.4 489.1h2v2h-2zM254.6 488.0h2v2h-2zM257.8 487.0h2v2h-2zM261.0 486.1h2v2h-2zM264.2 485.2h2v2h-2zM267.4 484.3h2v2h-2zM270.6 483.5h2v2h-2zM273.8 482.6h2v2h-2zM277.0 481.9h2v2h-2zM280.2 481.1h2v2h-2zM283.4 480.5h2v2h-2zM286.6 479.9h2v2h-2zM289.8 479.3h2v2h-2zM293.0 478.8h2v2h-2zM296.2 478.3h2v2h-2zM299.4 478.0h2v2h-2zM302.6 477.6h2v2h-2zM305.8 477.3h2v2h-2zM309.0 477.0h2v2h-2zM312.2 476.7h2v2h-2zM315.4 476.4h2v2h-2zM318.6 476.1h2v2h-2zM321.8 475.8h2v2h-2zM325.0 475.5h2v2h-2zM328.2 475.1h2v2h-2zM331.4 474.8h2v2h-2zM334.6 474.4h2v2h-2zM337.8 474.0h2v2h-2zM340.9 473.6h2v2h-2zM344.1 473.2h2v2h-2zM347.3 472.9h2v2h-2zM350.5 472.6h2v2h-2zM353.7 472.3h2v2h-2zM356.9 472.1h2v2h-2zM360.1 471.9h2v2h-2zM363.3 471.7h2v2h-2zM366.5 471.5h2v2h-2zM369.7 471.4h2v2h-2zM372.9 471.2h2v2h-2zM376.1 471.0h2v2h-2zM379.3 470.9h2v2h-2zM382.5 470.8h2v2h-2zM385.7 470.6h2v2h-2zM388.9 470.5h2v2h-2zM392.1 470.4h2v2h-2zM395.3 470.3h2v2h-2zM398.5 470.2h2v2h-2zM401.7 470.1h2v2h-2zM404.9 470.0h2v2h-2zM408.1 470.0h2v2h-2zM411.3 469.9h2v2h-2zM235.4 500.6h2v2h-2zM238.6 499.0h2v2h-2zM241.8 497.6h2v2h-2zM245.0 496.2h2v2h-2zM248.2 495.0h2v2h-2zM251.4 493.8h2v2h-2zM254.6 492.6h2v2h-2zM257.8 491.6h2v2h-2zM261.0 490.6h2v2h-2zM264.2 489.7h2v2h-2zM267.4 488.7h2v2h-2zM270.6 487.8h2v2h-2zM273.8 487.0h2v2h-2zM277.0 486.2h2v2h-2zM280.2 485.4h2v2h-2zM283.4 484.7h2v2h-2zM286.6 484.0h2v2h-2zM289.8 483.4h2v2h-2zM293.0 482.9h2v2h-2zM296.2 482.4h2v2h-2zM299.4 482.0h2v2h-2zM302.6 481.6h2v2h-2zM305.8 481.2h2v2h-2zM309.0 480.9h2v2h-2zM312.2 480.6h2v2h-2zM315.4 480.3h2v2h-2zM318.6 479.9h2v2h-2zM321.8 479.6h2v2h-2zM325.0 479.2h2v2h-2zM328.2 478.8h2v2h-2zM331.4 478.4h2v2h-2zM334.6 477.9h2v2h-2zM337.8 477.5h2v2h-2zM340.9 477.1h2v2h-2zM344.1 476.7h2v2h-2zM347.3 476.3h2v2h-2zM350.5 476.0h2v2h-2zM353.7 475.7h2v2h-2zM356.9 475.4h2v2h-2zM360.1 475.2h2v2h-2zM363.3 475.0h2v2h-2zM366.5 474.8h2v2h-2zM369.7 474.6h2v2h-2zM372.9 474.4h2v2h-2zM376.1 474.2h2v2h-2zM379.3 474.1h2v2h-2zM382.5 473.9h2v2h-2zM385.7 473.7h2v2h-2zM388.9 473.6h2v2h-2zM392.1 473.5h2v2h-2zM395.3 473.3h2v2h-2zM398.5 473.2h2v2h-2zM401.7 473.1h2v2h-2zM404.9 473.0h2v2h-2zM408.1 472.9h2v2h-2zM411.3 472.8h2v2h-2zM232.2 507.1h2v2h-2zM235.4 505.5h2v2h-2zM238.6 503.9h2v2h-2zM241.8 502.4h2v2h-2zM245.0 501.0h2v2h-2zM248.2 499.7h2v2h-2zM251.4 498.4h2v2h-2zM254.6 497.3h2v2h-2zM257.8 496.2h2v2h-2zM261.0 495.1h2v2h-2zM264.2 494.1h2v2h-2zM267.4 493.2h2v2h-2zM270.6 492.2h2v2h-2zM273.8 491.3h2v2h-2zM277.0 490.5h2v2h-2zM280.2 489.7h2v2h-2zM283.4 488.9h2v2h-2zM286.6 488.2h2v2h-2zM289.8 487.6h2v2h-2zM293.0 487.0h2v2h-2zM296.2 486.5h2v2h-2zM299.4 486.0h2v2h-2zM302.6 485.6h2v2h-2zM305.8 485.2h2v2h-2zM309.0 484.8h2v2h-2zM312.2 484.4h2v2h-2zM315.4 484.1h2v2h-2zM318.6 483.7h2v2h-2zM321.8 483.3h2v2h-2zM325.0 482.9h2v2h-2zM328.2 482.4h2v2h-2zM331.4 482.0h2v2h-2zM334.6 481.5h2v2h-2zM337.8 481.0h2v2h-2zM340.9 480.6h2v2h-2zM344.1 480.1h2v2h-2zM347.3 479.7h2v2h-2zM350.5 479.4h2v2h-2zM353.7 479.1h2v2h-2zM356.9 478.8h2v2h-2zM360.1 478.5h2v2h-2zM363.3 478.3h2v2h-2zM366.5 478.0h2v2h-2zM369.7 477.8h2v2h-2zM372.9 477.6h2v2h-2zM376.1 477.4h2v2h-2zM379.3 477.2h2v2h-2zM382.5 477.0h2v2h-2zM385.7 476.8h2v2h-2zM388.9 476.7h2v2h-2zM392.1 476.5h2v2h-2zM395.3 476.4h2v2h-2zM398.5 476.2h2v2h-2zM401.7 476.1h2v2h-2zM404.9 476.0h2v2h-2zM408.1 475.9h2v2h-2zM411.3 475.8h2v2h-2zM238.6 508.7h2v2h-2zM241.8 507.2h2v2h-2zM245.0 505.8h2v2h-2zM248.2 504.4h2v2h-2zM251.4 503.1h2v2h-2zM254.6 501.9h2v2h-2zM257.8 500.7h2v2h-2zM261.0 499.7h2v2h-2zM264.2 498.6h2v2h-2zM267.4 497.6h2v2h-2zM270.6 496.6h2v2h-2zM273.8 495.7h2v2h-2zM277.0 494.8h2v2h-2zM280.2 493.9h2v2h-2zM283.4 493.2h2v2h-2zM286.6 492.4h2v2h-2zM289.8 491.7h2v2h-2zM293.0 491.1h2v2h-2zM296.2 490.6h2v2h-2zM299.4 490.1h2v2h-2zM302.6 489.6h2v2h-2zM305.8 489.2h2v2h-2zM309.0 488.7h2v2h-2zM312.2 488.3h2v2h-2zM315.4 487.9h2v2h-2zM318.6 487.5h2v2h-2zM321.8 487.0h2v2h-2zM325.0 486.6h2v2h-2zM328.2 486.1h2v2h-2zM331.4 485.6h2v2h-2zM334.6 485.1h2v2h-2zM337.8 484.6h2v2h-2zM340.9 484.1h2v2h-2zM344.1 483.6h2v2h-2zM347.3 483.2h2v2h-2zM350.5 482.8h2v2h-2zM353.7 482.4h2v2h-2zM356.9 482.1h2v2h-2zM360.1 481.8h2v2h-2zM363.3 481.5h2v2h-2zM366.5 481.3h2v2h-2zM369.7 481.0h2v2h-2zM372.9 480.8h2v2h-2zM376.1 480.6h2v2h-2zM379.3 480.4h2v2h-2zM382.5 480.1h2v2h-2zM385.7 480.0h2v2h-2zM388.9 479.8h2v2h-2zM392.1 479.6h2v2h-2zM395.3 479.4h2v2h-2zM398.5 479.3h2v2h-2zM401.7 479.1h2v2h-2zM404.9 479.0h2v2h-2zM408.1 478.8h2v2h-2zM411.3 478.7h2v2h-2zM248.2 509.1h2v2h-2zM251.4 507.8h2v2h-2zM254.6 506.5h2v2h-2zM257.8 505.3h2v2h-2zM261.0 504.2h2v2h-2zM264.2 503.1h2v2h-2zM267.4 502.1h2v2h-2zM270.6 501.0h2v2h-2zM273.8 500.0h2v2h-2zM277.0 499.1h2v2h-2zM280.2 498.2h2v2h-2zM283.4 497.4h2v2h-2zM286.6 496.6h2v2h-2zM289.8 495.9h2v2h-2zM293.0 495.2h2v2h-2zM296.2 494.6h2v2h-2zM299.4 494.1h2v2h-2zM302.6 493.6h2v2h-2zM305.8 493.1h2v2h-2zM309.0 492.6h2v2h-2zM312.2 492.2h2v2h-2zM315.4 491.7h2v2h-2zM318.6 491.3h2v2h-2zM321.8 490.8h2v2h-2zM325.0 490.3h2v2h-2zM328.2 489.7h2v2h-2zM331.4 489.2h2v2h-2zM334.6 488.6h2v2h-2zM337.8 488.1h2v2h-2zM340.9 487.6h2v2h-2zM344.1 487.0h2v2h-2zM347.3 486.6h2v2h-2zM350.5 486.2h2v2h-2zM353.7 485.8h2v2h-2zM356.9 485.4h2v2h-2zM360.1 485.1h2v2h-2zM363.3 484.8h2v2h-2zM366.5 484.5h2v2h-2zM369.7 484.3h2v2h-2zM372.9 484.0h2v2h-2zM376.1 483.7h2v2h-2zM379.3 483.5h2v2h-2zM382.5 483.3h2v2h-2zM385.7 483.1h2v2h-2zM388.9 482.8h2v2h-2zM392.1 482.7h2v2h-2zM395.3 482.5h2v2h-2zM398.5 482.3h2v2h-2zM401.7 482.1h2v2h-2zM404.9 481.9h2v2h-2zM408.1 481.8h2v2h-2zM411.3 481.6h2v2h-2zM257.8 509.9h2v2h-2zM261.0 508.7h2v2h-2zM264.2 507.6h2v2h-2zM267.4 506.5h2v2h-2zM270.6 505.4h2v2h-2zM273.8 504.4h2v2h-2zM280.2 502.5h2v2h-2zM283.4 501.6h2v2h-2zM286.6 500.8h2v2h-2zM289.8 500.0h2v2h-2zM293.0 499.3h2v2h-2zM296.2 498.7h2v2h-2zM299.4 498.1h2v2h-2zM302.6 497.6h2v2h-2zM305.8 497.1h2v2h-2zM309.0 496.6h2v2h-2zM312.2 496.1h2v2h-2zM315.4 495.5h2v2h-2zM318.6 495.0h2v2h-2zM321.8 494.5h2v2h-2zM325.0 494.0h2v2h-2zM328.2 493.4h2v2h-2zM331.4 492.8h2v2h-2zM334.6 492.2h2v2h-2zM337.8 491.6h2v2h-2zM340.9 491.0h2v2h-2zM344.1 490.5h2v2h-2zM347.3 490.0h2v2h-2zM350.5 489.5h2v2h-2zM353.7 489.1h2v2h-2zM356.9 488.8h2v2h-2zM360.1 488.4h2v2h-2zM363.3 488.1h2v2h-2zM366.5 487.8h2v2h-2zM369.7 487.5h2v2h-2zM372.9 487.2h2v2h-2zM376.1 486.9h2v2h-2zM379.3 486.7h2v2h-2zM382.5 486.4h2v2h-2zM385.7 486.2h2v2h-2zM388.9 485.9h2v2h-2zM392.1 485.7h2v2h-2zM395.3 485.5h2v2h-2zM398.5 485.3h2v2h-2zM401.7 485.1h2v2h-2zM404.9 484.9h2v2h-2zM408.1 484.8h2v2h-2zM411.3 484.6h2v2h-2zM270.6 509.8h2v2h-2zM273.8 508.8h2v2h-2zM277.0 507.7h2v2h-2zM280.2 506.7h2v2h-2zM283.4 505.8h2v2h-2zM286.6 505.0h2v2h-2zM289.8 504.2h2v2h-2zM296.2 502.8h2v2h-2zM302.6 501.6h2v2h-2zM305.8 501.0h2v2h-2zM309.0 500.5h2v2h-2zM312.2 499.9h2v2h-2zM315.4 499.4h2v2h-2zM318.6 498.8h2v2h-2zM321.8 498.2h2v2h-2zM325.0 497.7h2v2h-2zM328.2 497.0h2v2h-2zM331.4 496.4h2v2h-2zM334.6 495.8h2v2h-2zM337.8 495.1h2v2h-2zM340.9 494.5h2v2h-2zM344.1 494.0h2v2h-2zM347.3 493.4h2v2h-2zM350.5 492.9h2v2h-2zM353.7 492.5h2v2h-2zM356.9 492.1h2v2h-2zM360.1 491.7h2v2h-2zM363.3 491.4h2v2h-2zM366.5 491.0h2v2h-2zM369.7 490.7h2v2h-2zM372.9 490.4h2v2h-2zM376.1 490.1h2v2h-2zM379.3 489.8h2v2h-2zM382.5 489.5h2v2h-2zM385.7 489.3h2v2h-2zM388.9 489.0h2v2h-2zM392.1 488.8h2v2h-2zM395.3 488.5h2v2h-2zM398.5 488.3h2v2h-2zM401.7 488.1h2v2h-2zM404.9 487.9h2v2h-2zM408.1 487.7h2v2h-2zM411.3 487.5h2v2h-2zM286.6 509.2h2v2h-2zM289.8 508.3h2v2h-2zM293.0 507.6h2v2h-2zM296.2 506.9h2v2h-2zM299.4 506.2h2v2h-2zM302.6 505.6h2v2h-2zM305.8 505.0h2v2h-2zM309.0 504.4h2v2h-2zM312.2 503.8h2v2h-2zM315.4 503.2h2v2h-2zM318.6 502.6h2v2h-2zM321.8 502.0h2v2h-2zM325.0 501.4h2v2h-2zM328.2 500.7h2v2h-2zM331.4 500.0h2v2h-2zM334.6 499.3h2v2h-2zM337.8 498.7h2v2h-2zM340.9 498.0h2v2h-2zM344.1 497.4h2v2h-2zM347.3 496.9h2v2h-2zM350.5 496.3h2v2h-2zM353.7 495.9h2v2h-2zM356.9 495.4h2v2h-2zM360.1 495.0h2v2h-2zM363.3 494.7h2v2h-2zM366.5 494.3h2v2h-2zM369.7 493.9h2v2h-2zM372.9 493.6h2v2h-2zM376.1 493.3h2v2h-2zM379.3 493.0h2v2h-2zM404.9 490.9h2v2h-2zM408.1 490.7h2v2h-2zM411.3 490.5h2v2h-2zM302.6 509.6h2v2h-2zM305.8 508.9h2v2h-2zM309.0 508.3h2v2h-2zM312.2 507.7h2v2h-2zM315.4 507.0h2v2h-2zM318.6 506.4h2v2h-2zM321.8 505.7h2v2h-2zM325.0 505.0h2v2h-2zM328.2 504.3h2v2h-2zM331.4 503.6h2v2h-2zM334.6 502.9h2v2h-2zM340.9 501.5h2v2h-2zM344.1 500.9h2v2h-2zM347.3 500.3h2v2h-2zM350.5 499.7h2v2h-2zM353.7 499.2h2v2h-2zM356.9 498.8h2v2h-2zM360.1 498.3h2v2h-2zM363.3 497.9h2v2h-2zM366.5 497.5h2v2h-2zM369.7 497.2h2v2h-2zM372.9 496.8h2v2h-2zM376.1 496.4h2v2h-2zM379.3 496.1h2v2h-2zM411.3 493.4h2v2h-2zM321.8 509.4h2v2h-2zM325.0 508.7h2v2h-2zM328.2 508.0h2v2h-2zM331.4 507.2h2v2h-2zM334.6 506.5h2v2h-2zM337.8 505.7h2v2h-2zM340.9 505.0h2v2h-2zM344.1 504.3h2v2h-2zM347.3 503.7h2v2h-2zM350.5 503.1h2v2h-2zM353.7 502.6h2v2h-2zM360.1 501.6h2v2h-2zM363.3 501.2h2v2h-2zM366.5 500.8h2v2h-2zM369.7 500.4h2v2h-2zM372.9 500.0h2v2h-2zM376.1 499.6h2v2h-2zM379.3 499.3h2v2h-2zM411.3 496.3h2v2h-2zM337.8 509.3h2v2h-2zM340.9 508.5h2v2h-2zM344.1 507.8h2v2h-2zM347.3 507.1h2v2h-2zM350.5 506.5h2v2h-2zM353.7 505.9h2v2h-2zM356.9 505.4h2v2h-2zM360.1 505.0h2v2h-2zM363.3 504.5h2v2h-2zM366.5 504.0h2v2h-2zM369.7 503.6h2v2h-2zM372.9 503.2h2v2h-2zM376.1 502.8h2v2h-2zM379.3 502.4h2v2h-2zM411.3 499.3h2v2h-2zM350.5 509.9h2v2h-2zM353.7 509.3h2v2h-2zM356.9 508.8h2v2h-2zM360.1 508.3h2v2h-2zM363.3 507.8h2v2h-2zM366.5 507.3h2v2h-2zM369.7 506.8h2v2h-2zM372.9 506.4h2v2h-2zM376.1 506.0h2v2h-2zM379.3 505.6h2v2h-2zM382.5 505.2h2v2h-2zM385.7 504.8h2v2h-2zM388.9 504.4h2v2h-2zM392.1 504.1h2v2h-2zM372.9 509.6h2v2h-2zM376.1 509.1h2v2h-2zM379.3 508.7h2v2h-2zM382.5 508.3h2v2h-2zM385.7 507.9h2v2h-2zM388.9 507.5h2v2h-2zM392.1 507.1h2v2h-2zM395.3 506.8h2v2h-2zM398.5 506.4h2v2h-2zM401.7 506.1h2v2h-2zM404.9 505.8h2v2h-2zM408.1 505.4h2v2h-2zM411.3 505.1h2v2h-2zM395.3 509.8h2v2h-2zM398.5 509.4h2v2h-2zM401.7 509.1h2v2h-2zM404.9 508.7h2v2h-2zM408.1 508.4h2v2h-2zM411.3 508.1h2v2h-2z" fill="#cc2000"/>
<path d="M229.9 397.9L231.8 400.7L233.6 403.2L235.5 405.6L237.3 407.7L239.2 409.8L241.0 411.6L242.8 413.4L244.7 415.0L246.5 416.6L248.4 418.0L250.2 419.3L252.0 420.6L253.9 421.8L255.7 422.9L257.6 424.0L259.4 425.0L261.3 425.9L263.1 426.8L264.9 427.7L266.8 428.5L268.6 429.3L270.5 430.1L272.3 430.8L274.2 431.4L276.0 432.1L277.8 432.7L279.7 433.3L281.5 433.9L283.4 434.4L285.2 435.0L287.1 435.5L288.9 436.0L290.7 436.4L292.6 436.9L294.4 437.3L296.3 437.8L298.1 438.2L300.0 438.6L301.8 438.9L303.6 439.3L305.5 439.7L307.3 440.0L309.2 440.3L311.0 440.7L312.8 441.0L314.7 441.3L316.5 441.6L318.4 441.9L320.2 442.1L322.1 442.4L323.9 442.7L325.7 442.9L327.6 443.2L329.4 443.4L331.3 443.6L333.1 443.9L335.0 444.1L336.8 444.3L338.6 444.5L340.5 444.7L342.3 444.9L344.2 445.1L346.0 445.3L347.9 445.5L349.7 445.7L351.5 445.9L353.4 446.0L355.2 446.2L357.1 446.4L358.9 446.5L360.8 446.7L362.6 446.9L364.4 447.0L366.3 447.2L368.1 447.3L370.0 447.5L371.8 447.6L373.6 447.7L375.5 447.9L377.3 448.0L379.2 448.1L381.0 448.3L382.9 448.4L384.7 448.5L386.5 448.6L388.4 448.7L390.2 448.8L392.1 449.0L393.9 449.1L395.8 449.2L397.6 449.3L399.4 449.4L401.3 449.5L403.1 449.6L405.0 449.7L406.8 449.8L408.7 449.9L410.5 450.0L412.3 450.1L414.2 450.2L416.0 450.3L417.9 450.3M231.8 379.9L233.6 383.4L235.5 386.7L237.3 389.7L239.2 392.5L241.0 395.1L242.8 397.5L244.7 399.7L246.5 401.8L248.4 403.8L250.2 405.6L252.0 407.3L253.9 409.0L255.7 410.5L257.6 411.9L259.4 413.3L261.3 414.6L263.1 415.8L264.9 417.0L266.8 418.1L268.6 419.1L270.5 420.1L272.3 421.1L274.2 422.0L276.0 422.9L277.8 423.7L279.7 424.5L281.5 425.3L283.4 426.0L285.2 426.7L287.1 427.4L288.9 428.1L290.7 428.7L292.6 429.3L294.4 429.9L296.3 430.5L298.1 431.0L300.0 431.5L301.8 432.0L303.6 432.5L305.5 433.0L307.3 433.5L309.2 433.9L311.0 434.3L312.8 434.8L314.7 435.2L316.5 435.5L318.4 435.9L320.2 436.3L322.1 436.7L323.9 437.0L325.7 437.3L327.6 437.7L329.4 438.0L331.3 438.3L333.1 438.6L335.0 438.9L336.8 439.2L338.6 439.5L340.5 439.7L342.3 440.0L344.2 440.3L346.0 440.5L347.9 440.8L349.7 441.0L351.5 441.2L353.4 441.5L355.2 441.7L357.1 441.9L358.9 442.1L360.8 442.3L362.6 442.5L364.4 442.8L366.3 442.9L368.1 443.1L370.0 443.3L371.8 443.5L373.6 443.7L375.5 443.9L377.3 444.0L379.2 444.2L381.0 444.4L382.9 444.5L384.7 444.7L386.5 444.9L388.4 445.0L390.2 445.2L392.1 445.3L393.9 445.5L395.8 445.6L397.6 445.7L399.4 445.9L401.3 446.0L403.1 446.1L405.0 446.3L406.8 446.4L408.7 446.5L410.5 446.7L412.3 446.8L414.2 446.9L416.0 447.0L417.9 447.1M242.8 381.6L244.7 384.4L246.5 387.1L248.4 389.6L250.2 391.9L252.0 394.1L253.9 396.1L255.7 398.1L257.6 399.9L259.4 401.6L261.3 403.2L263.1 404.8L264.9 406.2L266.8 407.6L268.6 409.0L270.5 410.2L272.3 411.4L274.2 412.6L276.0 413.7L277.8 414.7L279.7 415.7L281.5 416.7L283.4 417.6L285.2 418.5L287.1 419.4L288.9 420.2L290.7 421.0L292.6 421.7L294.4 422.5L296.3 423.2L298.1 423.9L300.0 424.5L301.8 425.1L303.6 425.8L305.5 426.3L307.3 426.9L309.2 427.5L311.0 428.0L312.8 428.5L314.7 429.0L316.5 429.5L318.4 430.0L320.2 430.5L322.1 430.9L323.9 431.3L325.7 431.8L327.6 432.2L329.4 432.6L331.3 433.0L333.1 433.3L335.0 433.7L336.8 434.1L338.6 434.4L340.5 434.7L342.3 435.1L344.2 435.4L346.0 435.7L347.9 436.0L349.7 436.3L351.5 436.6L353.4 436.9L355.2 437.2L357.1 437.5L358.9 437.7L360.8 438.0L362.6 438.2L364.4 438.5L366.3 438.7L368.1 439.0L370.0 439.2L371.8 439.4L373.6 439.7L375.5 439.9L377.3 440.1L379.2 440.3L381.0 440.5L382.9 440.7L384.7 440.9L386.5 441.1L388.4 441.3L390.2 441.5L392.1 441.7L393.9 441.8L395.8 442.0L397.6 442.2L399.4 442.4L401.3 442.5L403.1 442.7L405.0 442.9L406.8 443.0L408.7 443.2L410.5 443.3L412.3 443.5L414.2 443.6L416.0 443.8L417.9 443.9M252.0 380.8L253.9 383.3L255.7 385.6L257.6 387.8L259.4 389.9L261.3 391.9L263.1 393.8L264.9 395.5L266.8 397.2L268.6 398.8L270.5 400.3L272.3 401.8L274.2 403.2L276.0 404.5L277.8 405.8L279.7 407.0L281.5 408.1L283.4 409.2L285.2 410.3L287.1 411.3L288.9 412.3L290.7 413.3L292.6 414.2L294.4 415.0L296.3 415.9L298.1 416.7L300.0 417.5L301.8 418.3L303.6 419.0L305.5 419.7L307.3 420.4L309.2 421.0L311.0 421.7L312.8 422.3L314.7 422.9L316.5 423.5L318.4 424.1L320.2 424.6L322.1 425.2L323.9 425.7L325.7 426.2L327.6 426.7L329.4 427.1L331.3 427.6L333.1 428.1L335.0 428.5L336.8 428.9L338.6 429.3L340.5 429.8L342.3 430.1L344.2 430.5L346.0 430.9L347.9 431.3L349.7 431.6L351.5 432.0L353.4 432.3L355.2 432.7L357.1 433.0L358.9 433.3L360.8 433.6L362.6 433.9L364.4 434.2L366.3 434.5L368.1 434.8L370.0 435.1L371.8 435.4L373.6 435.6L375.5 435.9L377.3 436.1L379.2 436.4L381.0 436.6L382.9 436.9L384.7 437.1L386.5 437.3L388.4 437.6L390.2 437.8L392.1 438.0L393.9 438.2L395.8 438.4L397.6 438.7L399.4 438.9L401.3 439.1L403.1 439.3L405.0 439.4L406.8 439.6L408.7 439.8L410.5 440.0L412.3 440.2L414.2 440.4L416.0 440.5L417.9 440.7M261.3 380.5L263.1 382.7L264.9 384.8L266.8 386.8L268.6 388.6L270.5 390.4L272.3 392.1L274.2 393.7L276.0 395.3L277.8 396.8L279.7 398.2L281.5 399.5L283.4 400.8L285.2 402.1L287.1 403.3L288.9 404.4L290.7 405.5L292.6 406.6L294.4 407.6L296.3 408.6L298.1 409.6L300.0 410.5L301.8 411.4L303.6 412.2L305.5 413.0L307.3 413.8L309.2 414.6L311.0 415.4L312.8 416.1L314.7 416.8L316.5 417.5L318.4 418.1L320.2 418.8L322.1 419.4L323.9 420.0L325.7 420.6L327.6 421.2L329.4 421.7L331.3 422.3L333.1 422.8L335.0 423.3L336.8 423.8L338.6 424.3L340.5 424.8L342.3 425.2L344.2 425.7L346.0 426.1L347.9 426.5L349.7 426.9L351.5 427.4L353.4 427.8L355.2 428.1L357.1 428.5L358.9 428.9L360.8 429.3L362.6 429.6L364.4 430.0L366.3 430.3L368.1 430.6L370.0 431.0L371.8 431.3L373.6 431.6L375.5 431.9L377.3 432.2L379.2 432.5L381.0 432.8L382.9 433.0L384.7 433.3L386.5 433.6L388.4 433.9L390.2 434.1L392.1 434.4L393.9 434.6L395.8 434.9L397.6 435.1L399.4 435.3L401.3 435.6L403.1 435.8L405.0 436.0L406.8 436.2L408.7 436.5L410.5 436.7L412.3 436.9L414.2 437.1L416.0 437.3L417.9 437.5M270.5 380.5L272.3 382.5L274.2 384.3L276.0 386.1L277.8 387.8L279.7 389.4L281.5 390.9L283.4 392.4L285.2 393.9L287.1 395.2L288.9 396.5L290.7 397.8L292.6 399.0L294.4 400.2L296.3 401.3L298.1 402.4L300.0 403.4L301.8 404.5L303.6 405.4L305.5 406.4L307.3 407.3L309.2 408.2L311.0 409.0L312.8 409.9L314.7 410.7L316.5 411.4L318.4 412.2L320.2 412.9L322.1 413.6L323.9 414.3L325.7 415.0L327.6 415.7L329.4 416.3L331.3 416.9L333.1 417.5L335.0 418.1L336.8 418.7L338.6 419.2L340.5 419.8L342.3 420.3L344.2 420.8L346.0 421.3L347.9 421.8L349.7 422.3L351.5 422.7L353.4 423.2L355.2 423.6L357.1 424.1L358.9 424.5L360.8 424.9L362.6 425.3L364.4 425.7L366.3 426.1L368.1 426.5L370.0 426.8L371.8 427.2L373.6 427.5L375.5 427.9L377.3 428.2L379.2 428.6L381.0 428.9L382.9 429.2L384.7 429.5L386.5 429.8L388.4 430.1L390.2 430.4L392.1 430.7L393.9 431.0L395.8 431.3L397.6 431.6L399.4 431.8L401.3 432.1L403.1 432.4L405.0 432.6L406.8 432.9L408.7 433.1L410.5 433.4L412.3 433.6L414.2 433.8L416.0 434.1L417.9 434.3M279.7 380.6L281.5 382.3L283.4 384.0L285.2 385.6L287.1 387.2L288.9 388.6L290.7 390.1L292.6 391.4L294.4 392.8L296.3 394.0L298.1 395.2L300.0 396.4L301.8 397.6L303.6 398.7L305.5 399.7L307.3 400.8L309.2 401.8L311.0 402.7L312.8 403.6L314.7 404.5L316.5 405.4L318.4 406.3L320.2 407.1L322.1 407.9L323.9 408.7L325.7 409.4L327.6 410.2L329.4 410.9L331.3 411.6L333.1 412.2L335.0 412.9L336.8 413.5L338.6 414.2L340.5 414.8L342.3 415.4L344.2 415.9L346.0 416.5L347.9 417.0L349.7 417.6L351.5 418.1L353.4 418.6L355.2 419.1L357.1 419.6L358.9 420.1L360.8 420.5L362.6 421.0L364.4 421.4L366.3 421.9L368.1 422.3L370.0 422.7L371.8 423.1L373.6 423.5L375.5 423.9L377.3 424.3L379.2 424.7L381.0 425.0L382.9 425.4L384.7 425.7L386.5 426.1L388.4 426.4L390.2 426.8L392.1 427.1L393.9 427.4L395.8 427.7L397.6 428.0L399.4 428.3L401.3 428.6L403.1 428.9L405.0 429.2L406.8 429.5L408.7 429.8L410.5 430.0L412.3 430.3L414.2 430.6L416.0 430.8L417.9 431.1M288.9 380.8L290.7 382.3L292.6 383.9L294.4 385.3L296.3 386.7L298.1 388.1L300.0 389.4L301.8 390.7L303.6 391.9L305.5 393.1L307.3 394.2L309.2 395.3L311.0 396.4L312.8 397.4L314.7 398.4L316.5 399.4L318.4 400.3L320.2 401.3L322.1 402.1L323.9 403.0L325.7 403.8L327.6 404.7L329.4 405.4L331.3 406.2L333.1 407.0L335.0 407.7L336.8 408.4L338.6 409.1L340.5 409.8L342.3 410.4L344.2 411.1L346.0 411.7L347.9 412.3L349.7 412.9L351.5 413.5L353.4 414.0L355.2 414.6L357.1 415.1L358.9 415.7L360.8 416.2L362.6 416.7L364.4 417.2L366.3 417.6L368.1 418.1L370.0 418.6L371.8 419.0L373.6 419.5L375.5 419.9L377.3 420.3L379.2 420.7L381.0 421.2L382.9 421.6L384.7 421.9L386.5 422.3L388.4 422.7L390.2 423.1L392.1 423.4L393.9 423.8L395.8 424.1L397.6 424.5L399.4 424.8L401.3 425.1L403.1 425.5L405.0 425.8L406.8 426.1L408.7 426.4L410.5 426.7L412.3 427.0L414.2 427.3L416.0 427.6L417.9 427.9M298.1 380.9L300.0 382.4L301.8 383.8L303.6 385.1L305.5 386.4L307.3 387.7L309.2 388.9L311.0 390.1L312.8 391.2L314.7 392.3L316.5 393.4L318.4 394.4L320.2 395.4L322.1 396.4L323.9 397.3L325.7 398.3L327.6 399.2L329.4 400.0L331.3 400.9L333.1 401.7L335.0 402.5L336.8 403.3L338.6 404.0L340.5 404.8L342.3 405.5L344.2 406.2L346.0 406.9L347.9 407.6L349.7 408.2L351.5 408.8L353.4 409.5L355.2 410.1L357.1 410.7L358.9 411.2L360.8 411.8L362.6 412.4L364.4 412.9L366.3 413.4L368.1 413.9L370.0 414.5L371.8 415.0L373.6 415.4L375.5 415.9L377.3 416.4L379.2 416.8L381.0 417.3L382.9 417.7L384.7 418.2L386.5 418.6L388.4 419.0L390.2 419.4L392.1 419.8L393.9 420.2L395.8 420.6L397.6 420.9L399.4 421.3L401.3 421.7L403.1 422.0L405.0 422.4L406.8 422.7L408.7 423.0L410.5 423.4L412.3 423.7L414.2 424.0L416.0 424.3L417.9 424.6M307.3 381.1L309.2 382.5L311.0 383.7L312.8 385.0L314.7 386.2L316.5 387.4L318.4 388.5L320.2 389.6L322.1 390.6L323.9 391.7L325.7 392.7L327.6 393.7L329.4 394.6L331.3 395.5L333.1 396.4L335.0 397.3L336.8 398.1L338.6 399.0L340.5 399.8L342.3 400.6L344.2 401.3L346.0 402.1L347.9 402.8L349.7 403.5L351.5 404.2L353.4 404.9L355.2 405.5L357.1 406.2L358.9 406.8L360.8 407.4L362.6 408.0L364.4 408.6L366.3 409.2L368.1 409.8L370.0 410.3L371.8 410.9L373.6 411.4L375.5 411.9L377.3 412.4L379.2 412.9L381.0 413.4L382.9 413.9L384.7 414.4L386.5 414.8L388.4 415.3L390.2 415.7L392.1 416.1L393.9 416.6L395.8 417.0L397.6 417.4L399.4 417.8L401.3 418.2L403.1 418.6L405.0 419.0L406.8 419.3L408.7 419.7L410.5 420.1L412.3 420.4L414.2 420.8L416.0 421.1L417.9 421.4M316.5 381.3L318.4 382.6L320.2 383.7L322.1 384.9L323.9 386.0L325.7 387.1L327.6 388.2L329.4 389.2L331.3 390.2L333.1 391.1L335.0 392.1L336.8 393.0L338.6 393.9L340.5 394.8L342.3 395.6L344.2 396.5L346.0 397.3L347.9 398.1L349.7 398.8L351.5 399.6L353.4 400.3L355.2 401.0L357.1 401.7L358.9 402.4L360.8 403.1L362.6 403.7L364.4 404.4L366.3 405.0L368.1 405.6L370.0 406.2L371.8 406.8L373.6 407.4L375.5 407.9L377.3 408.5L379.2 409.0L381.0 409.5L382.9 410.1L384.7 410.6L386.5 411.1L388.4 411.5L390.2 412.0L392.1 412.5L393.9 413.0L395.8 413.4L397.6 413.8L399.4 414.3L401.3 414.7L403.1 415.1L405.0 415.5L406.8 415.9L408.7 416.3L410.5 416.7L412.3 417.1L414.2 417.5L416.0 417.9L417.9 418.2M325.7 381.5L327.6 382.6L329.4 383.8L331.3 384.8L333.1 385.9L335.0 386.9L336.8 387.9L338.6 388.8L340.5 389.8L342.3 390.7L344.2 391.6L346.0 392.5L347.9 393.3L349.7 394.1L351.5 395.0L353.4 395.7L355.2 396.5L357.1 397.3L358.9 398.0L360.8 398.7L362.6 399.4L364.4 400.1L366.3 400.8L368.1 401.4L370.0 402.1L371.8 402.7L373.6 403.3L375.5 403.9L377.3 404.5L379.2 405.1L381.0 405.7L382.9 406.2L384.7 406.8L386.5 407.3L388.4 407.8L390.2 408.3L392.1 408.8L393.9 409.3L395.8 409.8L397.6 410.3L399.4 410.8L401.3 411.2L403.1 411.7L405.0 412.1L406.8 412.6L408.7 413.0L410.5 413.4L412.3 413.8L414.2 414.2L416.0 414.6L417.9 415.0M333.1 380.6L335.0 381.7L336.8 382.8L338.6 383.8L340.5 384.8L342.3 385.8L344.2 386.7L346.0 387.7L347.9 388.6L349.7 389.5L351.5 390.3L353.4 391.2L355.2 392.0L357.1 392.8L358.9 393.6L360.8 394.4L362.6 395.1L364.4 395.8L366.3 396.6L368.1 397.3L370.0 398.0L371.8 398.6L373.6 399.3L375.5 399.9L377.3 400.6L379.2 401.2L381.0 401.8L382.9 402.4L384.7 403.0L386.5 403.6L388.4 404.1L390.2 404.7L392.1 405.2L393.9 405.7L395.8 406.2L397.6 406.8L399.4 407.3L401.3 407.8L403.1 408.2L405.0 408.7L406.8 409.2L408.7 409.6L410.5 410.1L412.3 410.5L414.2 411.0L416.0 411.4L417.9 411.8M342.3 380.8L344.2 381.9L346.0 382.9L347.9 383.8L349.7 384.8L351.5 385.7L353.4 386.6L355.2 387.5L357.1 388.3L358.9 389.2L360.8 390.0L362.6 390.8L364.4 391.6L366.3 392.3L368.1 393.1L370.0 393.8L371.8 394.6L373.6 395.3L375.5 395.9L377.3 396.6L379.2 397.3L381.0 397.9L382.9 398.6L384.7 399.2L386.5 399.8L388.4 400.4L390.2 401.0L392.1 401.6L393.9 402.1L395.8 402.7L397.6 403.2L399.4 403.7L401.3 404.3L403.1 404.8L405.0 405.3L406.8 405.8L408.7 406.3L410.5 406.8L412.3 407.2L414.2 407.7L416.0 408.1L417.9 408.6M351.5 381.1L353.4 382.0L355.2 383.0L357.1 383.9L358.9 384.8L360.8 385.6L362.6 386.5L364.4 387.3L366.3 388.1L368.1 388.9L370.0 389.7L371.8 390.5L373.6 391.2L375.5 392.0L377.3 392.7L379.2 393.4L381.0 394.1L382.9 394.7L384.7 395.4L386.5 396.0L388.4 396.7L390.2 397.3L392.1 397.9L393.9 398.5L395.8 399.1L397.6 399.7L399.4 400.2L401.3 400.8L403.1 401.3L405.0 401.9L406.8 402.4L408.7 402.9L410.5 403.4L412.3 403.9L414.2 404.4L416.0 404.9L417.9 405.4M360.8 381.3L362.6 382.2L364.4 383.1L366.3 383.9L368.1 384.8L370.0 385.6L371.8 386.4L373.6 387.2L375.5 388.0L377.3 388.7L379.2 389.5L381.0 390.2L382.9 390.9L384.7 391.6L386.5 392.3L388.4 393.0L390.2 393.6L392.1 394.3L393.9 394.9L395.8 395.5L397.6 396.1L399.4 396.7L401.3 397.3L403.1 397.9L405.0 398.5L406.8 399.0L408.7 399.6L410.5 400.1L412.3 400.6L414.2 401.2L416.0 401.7L417.9 402.2M370.0 381.5L371.8 382.3L373.6 383.1L375.5 384.0L377.3 384.8L379.2 385.5L381.0 386.3L382.9 387.1L384.7 387.8L386.5 388.5L388.4 389.2L390.2 389.9L392.1 390.6L393.9 391.3L395.8 391.9L397.6 392.6L399.4 393.2L401.3 393.8L403.1 394.4L405.0 395.0L406.8 395.6L408.7 396.2L410.5 396.8L412.3 397.3L414.2 397.9L416.0 398.4L417.9 399.0M379.2 381.6L381.0 382.4L382.9 383.2L384.7 384.0L386.5 384.8L388.4 385.5L390.2 386.3L392.1 387.0L393.9 387.7L395.8 388.4L397.6 389.0L399.4 389.7L401.3 390.4L403.1 391.0L405.0 391.6L406.8 392.3L408.7 392.9L410.5 393.5L412.3 394.0L414.2 394.6L416.0 395.2L417.9 395.7M386.5 381.0L388.4 381.8L390.2 382.6L392.1 383.3L393.9 384.1L395.8 384.8L397.6 385.5L399.4 386.2L401.3 386.9L403.1 387.6L405.0 388.2L406.8 388.9L408.7 389.5L410.5 390.1L412.3 390.7L414.2 391.4L416.0 391.9L417.9 392.5M395.8 381.2L397.6 382.0L399.4 382.7L401.3 383.4L403.1 384.1L405.0 384.8L406.8 385.5L408.7 386.1L410.5 386.8L412.3 387.5L414.2 388.1L416.0 388.7L417.9 389.3M405.0 381.4L406.8 382.1L408.7 382.8L410.5 383.5L412.3 384.2L414.2 384.8L416.0 385.5L417.9 386.1M414.2 381.6L416.0 382.2L417.9 382.9" fill="none" stroke="#000" stroke-width="1.75" stroke-linejoin="round"/>
</g>
<path d="M231.00 395.80h4.5M413.40 395.80h-4.5M231.00 428.42h4.5M413.40 428.42h-4.5M231.00 461.03h4.5M413.40 461.03h-4.5M231.00 493.64h4.5M413.40 493.64h-4.5M253.20 509.95v-4.2M253.20 387.65v4.2M276.23 509.95v-4.2M276.23 387.65v4.2M299.26 509.95v-4.2M299.26 387.65v4.2M322.29 509.95v-4.2M322.29 387.65v4.2M345.32 509.95v-4.2M345.32 387.65v4.2M368.35 509.95v-4.2M368.35 387.65v4.2M391.38 509.95v-4.2M391.38 387.65v4.2" stroke="#000" stroke-width="0.8" fill="none"/>
<rect x="231.00" y="387.65" width="182.40" height="122.30" fill="none" stroke="#000" stroke-width="1.1"/>
<rect x="379.50" y="490.55" width="31.2" height="15.2" fill="#fff" stroke="#000" stroke-width="0.8"/>
<g style="filter:grayscale(1)"><text x="208.50" y="118.40" text-anchor="middle" font-size="11.8" textLength="28" lengthAdjust="spacingAndGlyphs">m=1</text><text x="37.1" y="16.55" text-anchor="end" font-size="11.6" textLength="18.2" lengthAdjust="spacingAndGlyphs">0.8</text><text x="37.1" y="49.17" text-anchor="end" font-size="11.6" textLength="18.2" lengthAdjust="spacingAndGlyphs">0.4</text><text x="37.1" y="81.78" text-anchor="end" font-size="11.6" textLength="7.4" lengthAdjust="spacingAndGlyphs">0</text><text x="37.1" y="114.39" text-anchor="end" font-size="11.6" textLength="23.6" lengthAdjust="spacingAndGlyphs">-0.4</text><text transform="translate(12.0 65.35) rotate(-90)" text-anchor="middle" font-size="11.8" textLength="55" lengthAdjust="spacingAndGlyphs">ℏRe(ω)/μ</text><text x="395.10" y="118.40" text-anchor="middle" font-size="11.8" textLength="28" lengthAdjust="spacingAndGlyphs">m=2</text><text x="208.50" y="246.45" text-anchor="middle" font-size="11.8" textLength="28" lengthAdjust="spacingAndGlyphs">m=3</text><text x="37.1" y="144.60" text-anchor="end" font-size="11.6" textLength="18.2" lengthAdjust="spacingAndGlyphs">0.8</text><text x="37.1" y="177.22" text-anchor="end" font-size="11.6" textLength="18.2" lengthAdjust="spacingAndGlyphs">0.4</text><text x="37.1" y="209.83" text-anchor="end" font-size="11.6" textLength="7.4" lengthAdjust="spacingAndGlyphs">0</text><text x="37.1" y="242.44" text-anchor="end" font-size="11.6" textLength="23.6" lengthAdjust="spacingAndGlyphs">-0.4</text><text transform="translate(12.0 193.40) rotate(-90)" text-anchor="middle" font-size="11.8" textLength="55" lengthAdjust="spacingAndGlyphs">ℏRe(ω)/μ</text><text x="395.10" y="246.45" text-anchor="middle" font-size="11.8" textLength="28" lengthAdjust="spacingAndGlyphs">m=4</text><text x="208.50" y="374.50" text-anchor="middle" font-size="11.8" textLength="28" lengthAdjust="spacingAndGlyphs">m=5</text><text x="37.1" y="272.65" text-anchor="end" font-size="11.6" textLength="18.2" lengthAdjust="spacingAndGlyphs">0.8</text><text x="37.1" y="305.27" text-anchor="end" font-size="11.6" textLength="18.2" lengthAdjust="spacingAndGlyphs">0.4</text><text x="37.1" y="337.88" text-anchor="end" font-size="11.6" textLength="7.4" lengthAdjust="spacingAndGlyphs">0</text><text x="37.1" y="370.49" text-anchor="end" font-size="11.6" textLength="23.6" lengthAdjust="spacingAndGlyphs">-0.4</text><text transform="translate(12.0 321.45) rotate(-90)" text-anchor="middle" font-size="11.8" textLength="55" lengthAdjust="spacingAndGlyphs">ℏRe(ω)/μ</text><text x="395.10" y="374.50" text-anchor="middle" font-size="11.8" textLength="28" lengthAdjust="spacingAndGlyphs">m=6</text><text x="208.50" y="502.55" text-anchor="middle" font-size="11.8" textLength="28" lengthAdjust="spacingAndGlyphs">m=7</text><text x="37.1" y="400.70" text-anchor="end" font-size="11.6" textLength="18.2" lengthAdjust="spacingAndGlyphs">0.8</text><text x="37.1" y="433.32" text-anchor="end" font-size="11.6" textLength="18.2" lengthAdjust="spacingAndGlyphs">0.4</text><text x="37.1" y="465.93" text-anchor="end" font-size="11.6" textLength="7.4" lengthAdjust="spacingAndGlyphs">0</text><text x="37.1" y="498.54" text-anchor="end" font-size="11.6" textLength="23.6" lengthAdjust="spacingAndGlyphs">-0.4</text><text transform="translate(12.0 449.50) rotate(-90)" text-anchor="middle" font-size="11.8" textLength="55" lengthAdjust="spacingAndGlyphs">ℏRe(ω)/μ</text><text x="67.80" y="527.2" text-anchor="middle" font-size="11.6" textLength="15.2" lengthAdjust="spacingAndGlyphs">30</text><text x="90.83" y="527.2" text-anchor="middle" font-size="11.6" textLength="15.2" lengthAdjust="spacingAndGlyphs">40</text><text x="113.86" y="527.2" text-anchor="middle" font-size="11.6" textLength="15.2" lengthAdjust="spacingAndGlyphs">50</text><text x="136.89" y="527.2" text-anchor="middle" font-size="11.6" textLength="15.2" lengthAdjust="spacingAndGlyphs">60</text><text x="159.92" y="527.2" text-anchor="middle" font-size="11.6" textLength="15.2" lengthAdjust="spacingAndGlyphs">70</text><text x="182.95" y="527.2" text-anchor="middle" font-size="11.6" textLength="15.2" lengthAdjust="spacingAndGlyphs">80</text><text x="205.98" y="527.2" text-anchor="middle" font-size="11.6" textLength="15.2" lengthAdjust="spacingAndGlyphs">90</text><text x="135.60" y="540.4" text-anchor="middle" font-size="12.2" textLength="19.5" lengthAdjust="spacingAndGlyphs">R/ξ</text><text x="395.10" y="502.55" text-anchor="middle" font-size="11.8" textLength="28" lengthAdjust="spacingAndGlyphs">m=8</text><text x="254.40" y="527.2" text-anchor="middle" font-size="11.6" textLength="15.2" lengthAdjust="spacingAndGlyphs">30</text><text x="277.43" y="527.2" text-anchor="middle" font-size="11.6" textLength="15.2" lengthAdjust="spacingAndGlyphs">40</text><text x="300.46" y="527.2" text-anchor="middle" font-size="11.6" textLength="15.2" lengthAdjust="spacingAndGlyphs">50</text><text x="323.49" y="527.2" text-anchor="middle" font-size="11.6" textLength="15.2" lengthAdjust="spacingAndGlyphs">60</text><text x="346.52" y="527.2" text-anchor="middle" font-size="11.6" textLength="15.2" lengthAdjust="spacingAndGlyphs">70</text><text x="369.55" y="527.2" text-anchor="middle" font-size="11.6" textLength="15.2" lengthAdjust="spacingAndGlyphs">80</text><text x="392.58" y="527.2" text-anchor="middle" font-size="11.6" textLength="15.2" lengthAdjust="spacingAndGlyphs">90</text><text x="322.20" y="540.4" text-anchor="middle" font-size="12.2" textLength="19.5" lengthAdjust="spacingAndGlyphs">R/ξ</text></g>
</svg>
</body></html>
